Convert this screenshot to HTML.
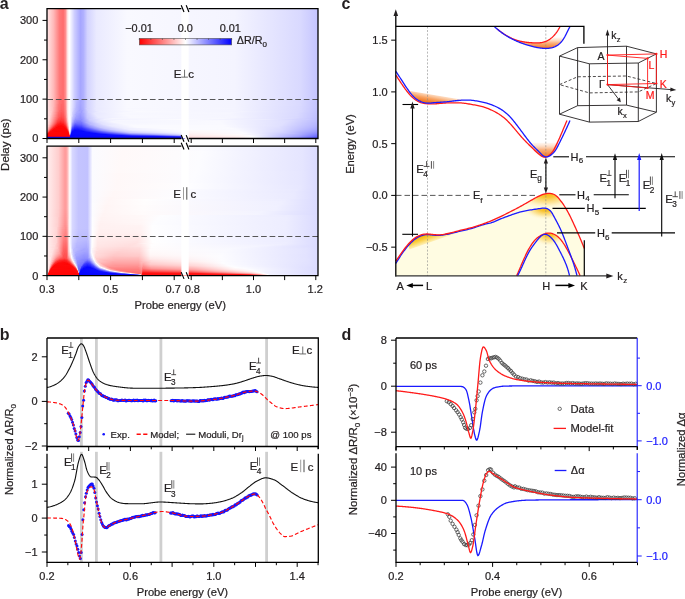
<!DOCTYPE html>
<html><head><meta charset="utf-8"><style>
html,body{margin:0;padding:0;background:#fff;width:685px;height:599px;overflow:hidden}
svg{display:block;will-change:transform}
text{font-family:"Liberation Sans", sans-serif}
</style></head><body>
<svg width="685" height="599" viewBox="0 0 685 599" font-family='"Liberation Sans", sans-serif'>
<defs>
<linearGradient id="ht0" x1="0" x2="1" y1="0" y2="0"><stop offset="0.0018" stop-color="#ffe4e4"/><stop offset="0.0240" stop-color="#ffb9b9"/><stop offset="0.0461" stop-color="#ff7979"/><stop offset="0.0572" stop-color="#ff6f6f"/><stop offset="0.0609" stop-color="#ff7070"/><stop offset="0.0683" stop-color="#ff8f8f"/><stop offset="0.0756" stop-color="#ffe1e1"/><stop offset="0.0793" stop-color="#fff6f6"/><stop offset="0.0830" stop-color="#ffffff"/><stop offset="0.1015" stop-color="#cdcdff"/><stop offset="0.1236" stop-color="#a6a6ff"/><stop offset="0.1347" stop-color="#b1b1ff"/><stop offset="0.1494" stop-color="#d3d3ff"/><stop offset="0.1827" stop-color="#eaeaff"/><stop offset="0.2970" stop-color="#f9f9ff"/><stop offset="0.6919" stop-color="#f4f4ff"/><stop offset="0.9354" stop-color="#d9d9ff"/><stop offset="0.9982" stop-color="#c5c5ff"/></linearGradient>
<linearGradient id="ht1" x1="0" x2="1" y1="0" y2="0"><stop offset="0.0018" stop-color="#ffe4e4"/><stop offset="0.0240" stop-color="#ffb9b9"/><stop offset="0.0461" stop-color="#ff7979"/><stop offset="0.0572" stop-color="#ff6f6f"/><stop offset="0.0609" stop-color="#ff7070"/><stop offset="0.0683" stop-color="#ff8f8f"/><stop offset="0.0756" stop-color="#ffe1e1"/><stop offset="0.0793" stop-color="#fff6f6"/><stop offset="0.0830" stop-color="#ffffff"/><stop offset="0.1015" stop-color="#cdcdff"/><stop offset="0.1236" stop-color="#a6a6ff"/><stop offset="0.1347" stop-color="#b1b1ff"/><stop offset="0.1494" stop-color="#d3d3ff"/><stop offset="0.1827" stop-color="#eaeaff"/><stop offset="0.2970" stop-color="#f9f9ff"/><stop offset="0.6919" stop-color="#f4f4ff"/><stop offset="0.9354" stop-color="#d9d9ff"/><stop offset="0.9982" stop-color="#c5c5ff"/></linearGradient>
<linearGradient id="ht2" x1="0" x2="1" y1="0" y2="0"><stop offset="0.0018" stop-color="#ffe4e4"/><stop offset="0.0240" stop-color="#ffb9b9"/><stop offset="0.0461" stop-color="#ff7979"/><stop offset="0.0572" stop-color="#ff6f6f"/><stop offset="0.0609" stop-color="#ff7070"/><stop offset="0.0683" stop-color="#ff8f8f"/><stop offset="0.0756" stop-color="#ffe1e1"/><stop offset="0.0793" stop-color="#fff6f6"/><stop offset="0.0830" stop-color="#ffffff"/><stop offset="0.1015" stop-color="#cdcdff"/><stop offset="0.1236" stop-color="#a6a6ff"/><stop offset="0.1347" stop-color="#b1b1ff"/><stop offset="0.1494" stop-color="#d3d3ff"/><stop offset="0.1827" stop-color="#eaeaff"/><stop offset="0.2970" stop-color="#f9f9ff"/><stop offset="0.6919" stop-color="#f4f4ff"/><stop offset="0.9354" stop-color="#d9d9ff"/><stop offset="0.9982" stop-color="#c5c5ff"/></linearGradient>
<linearGradient id="ht3" x1="0" x2="1" y1="0" y2="0"><stop offset="0.0018" stop-color="#ffe4e4"/><stop offset="0.0240" stop-color="#ffb9b9"/><stop offset="0.0461" stop-color="#ff7979"/><stop offset="0.0572" stop-color="#ff6f6f"/><stop offset="0.0609" stop-color="#ff7070"/><stop offset="0.0683" stop-color="#ff8f8f"/><stop offset="0.0756" stop-color="#ffe1e1"/><stop offset="0.0793" stop-color="#fff6f6"/><stop offset="0.0830" stop-color="#ffffff"/><stop offset="0.1015" stop-color="#cdcdff"/><stop offset="0.1236" stop-color="#a6a6ff"/><stop offset="0.1347" stop-color="#b1b1ff"/><stop offset="0.1494" stop-color="#d3d3ff"/><stop offset="0.1827" stop-color="#eaeaff"/><stop offset="0.2970" stop-color="#f9f9ff"/><stop offset="0.6919" stop-color="#f4f4ff"/><stop offset="0.9354" stop-color="#d9d9ff"/><stop offset="0.9982" stop-color="#c5c5ff"/></linearGradient>
<linearGradient id="ht4" x1="0" x2="1" y1="0" y2="0"><stop offset="0.0018" stop-color="#ffe4e4"/><stop offset="0.0240" stop-color="#ffb9b9"/><stop offset="0.0461" stop-color="#ff7979"/><stop offset="0.0572" stop-color="#ff6f6f"/><stop offset="0.0609" stop-color="#ff7070"/><stop offset="0.0683" stop-color="#ff8f8f"/><stop offset="0.0756" stop-color="#ffe1e1"/><stop offset="0.0793" stop-color="#fff6f6"/><stop offset="0.0830" stop-color="#ffffff"/><stop offset="0.1015" stop-color="#cdcdff"/><stop offset="0.1236" stop-color="#a6a6ff"/><stop offset="0.1347" stop-color="#b1b1ff"/><stop offset="0.1494" stop-color="#d3d3ff"/><stop offset="0.1827" stop-color="#eaeaff"/><stop offset="0.2970" stop-color="#f9f9ff"/><stop offset="0.6919" stop-color="#f4f4ff"/><stop offset="0.9354" stop-color="#d9d9ff"/><stop offset="0.9982" stop-color="#c5c5ff"/></linearGradient>
<linearGradient id="ht5" x1="0" x2="1" y1="0" y2="0"><stop offset="0.0018" stop-color="#ffe4e4"/><stop offset="0.0240" stop-color="#ffb9b9"/><stop offset="0.0461" stop-color="#ff7979"/><stop offset="0.0572" stop-color="#ff6f6f"/><stop offset="0.0609" stop-color="#ff7070"/><stop offset="0.0683" stop-color="#ff8f8f"/><stop offset="0.0756" stop-color="#ffe1e1"/><stop offset="0.0793" stop-color="#fff6f6"/><stop offset="0.0830" stop-color="#ffffff"/><stop offset="0.1015" stop-color="#cdcdff"/><stop offset="0.1236" stop-color="#a6a6ff"/><stop offset="0.1347" stop-color="#b1b1ff"/><stop offset="0.1494" stop-color="#d3d3ff"/><stop offset="0.1827" stop-color="#eaeaff"/><stop offset="0.2970" stop-color="#f9f9ff"/><stop offset="0.6919" stop-color="#f4f4ff"/><stop offset="0.9354" stop-color="#d9d9ff"/><stop offset="0.9982" stop-color="#c5c5ff"/></linearGradient>
<linearGradient id="ht6" x1="0" x2="1" y1="0" y2="0"><stop offset="0.0018" stop-color="#ffe4e4"/><stop offset="0.0240" stop-color="#ffb9b9"/><stop offset="0.0461" stop-color="#ff7979"/><stop offset="0.0572" stop-color="#ff6f6f"/><stop offset="0.0609" stop-color="#ff7070"/><stop offset="0.0683" stop-color="#ff8f8f"/><stop offset="0.0756" stop-color="#ffe1e1"/><stop offset="0.0793" stop-color="#fff6f6"/><stop offset="0.0830" stop-color="#ffffff"/><stop offset="0.1015" stop-color="#cdcdff"/><stop offset="0.1236" stop-color="#a6a6ff"/><stop offset="0.1347" stop-color="#b1b1ff"/><stop offset="0.1494" stop-color="#d3d3ff"/><stop offset="0.1827" stop-color="#eaeaff"/><stop offset="0.2970" stop-color="#f9f9ff"/><stop offset="0.6919" stop-color="#f4f4ff"/><stop offset="0.9354" stop-color="#d9d9ff"/><stop offset="0.9982" stop-color="#c5c5ff"/></linearGradient>
<linearGradient id="ht7" x1="0" x2="1" y1="0" y2="0"><stop offset="0.0018" stop-color="#ffe4e4"/><stop offset="0.0240" stop-color="#ffb9b9"/><stop offset="0.0461" stop-color="#ff7979"/><stop offset="0.0572" stop-color="#ff6f6f"/><stop offset="0.0609" stop-color="#ff7070"/><stop offset="0.0683" stop-color="#ff8f8f"/><stop offset="0.0756" stop-color="#ffe1e1"/><stop offset="0.0793" stop-color="#fff6f6"/><stop offset="0.0830" stop-color="#ffffff"/><stop offset="0.1015" stop-color="#cdcdff"/><stop offset="0.1236" stop-color="#a6a6ff"/><stop offset="0.1347" stop-color="#b1b1ff"/><stop offset="0.1494" stop-color="#d3d3ff"/><stop offset="0.1827" stop-color="#eaeaff"/><stop offset="0.2970" stop-color="#f9f9ff"/><stop offset="0.6919" stop-color="#f4f4ff"/><stop offset="0.9354" stop-color="#d9d9ff"/><stop offset="0.9982" stop-color="#c5c5ff"/></linearGradient>
<linearGradient id="ht8" x1="0" x2="1" y1="0" y2="0"><stop offset="0.0018" stop-color="#ffe4e4"/><stop offset="0.0240" stop-color="#ffb9b9"/><stop offset="0.0461" stop-color="#ff7979"/><stop offset="0.0572" stop-color="#ff6f6f"/><stop offset="0.0609" stop-color="#ff7070"/><stop offset="0.0683" stop-color="#ff8f8f"/><stop offset="0.0756" stop-color="#ffe1e1"/><stop offset="0.0793" stop-color="#fff6f6"/><stop offset="0.0830" stop-color="#ffffff"/><stop offset="0.1015" stop-color="#cdcdff"/><stop offset="0.1236" stop-color="#a6a6ff"/><stop offset="0.1347" stop-color="#b1b1ff"/><stop offset="0.1494" stop-color="#d3d3ff"/><stop offset="0.1827" stop-color="#eaeaff"/><stop offset="0.2970" stop-color="#f9f9ff"/><stop offset="0.6919" stop-color="#f4f4ff"/><stop offset="0.9354" stop-color="#d9d9ff"/><stop offset="0.9982" stop-color="#c5c5ff"/></linearGradient>
<linearGradient id="ht9" x1="0" x2="1" y1="0" y2="0"><stop offset="0.0018" stop-color="#ffe4e4"/><stop offset="0.0240" stop-color="#ffb9b9"/><stop offset="0.0461" stop-color="#ff7979"/><stop offset="0.0572" stop-color="#ff6f6f"/><stop offset="0.0609" stop-color="#ff7070"/><stop offset="0.0683" stop-color="#ff8f8f"/><stop offset="0.0756" stop-color="#ffe1e1"/><stop offset="0.0793" stop-color="#fff6f6"/><stop offset="0.0830" stop-color="#ffffff"/><stop offset="0.1015" stop-color="#cdcdff"/><stop offset="0.1236" stop-color="#a6a6ff"/><stop offset="0.1347" stop-color="#b1b1ff"/><stop offset="0.1494" stop-color="#d3d3ff"/><stop offset="0.1827" stop-color="#eaeaff"/><stop offset="0.2970" stop-color="#f9f9ff"/><stop offset="0.6919" stop-color="#f4f4ff"/><stop offset="0.9354" stop-color="#d9d9ff"/><stop offset="0.9982" stop-color="#c5c5ff"/></linearGradient>
<linearGradient id="ht10" x1="0" x2="1" y1="0" y2="0"><stop offset="0.0018" stop-color="#ffe4e4"/><stop offset="0.0240" stop-color="#ffb9b9"/><stop offset="0.0461" stop-color="#ff7979"/><stop offset="0.0572" stop-color="#ff6f6f"/><stop offset="0.0609" stop-color="#ff7070"/><stop offset="0.0683" stop-color="#ff8f8f"/><stop offset="0.0756" stop-color="#ffe1e1"/><stop offset="0.0793" stop-color="#fff6f6"/><stop offset="0.0830" stop-color="#ffffff"/><stop offset="0.1015" stop-color="#cdcdff"/><stop offset="0.1236" stop-color="#a6a6ff"/><stop offset="0.1347" stop-color="#b1b1ff"/><stop offset="0.1494" stop-color="#d3d3ff"/><stop offset="0.1827" stop-color="#eaeaff"/><stop offset="0.2970" stop-color="#f9f9ff"/><stop offset="0.6919" stop-color="#f4f4ff"/><stop offset="0.9354" stop-color="#d9d9ff"/><stop offset="0.9982" stop-color="#c5c5ff"/></linearGradient>
<linearGradient id="ht11" x1="0" x2="1" y1="0" y2="0"><stop offset="0.0018" stop-color="#ffe4e4"/><stop offset="0.0240" stop-color="#ffb9b9"/><stop offset="0.0461" stop-color="#ff7979"/><stop offset="0.0572" stop-color="#ff6f6f"/><stop offset="0.0609" stop-color="#ff7070"/><stop offset="0.0683" stop-color="#ff8f8f"/><stop offset="0.0756" stop-color="#ffe1e1"/><stop offset="0.0793" stop-color="#fff6f6"/><stop offset="0.0830" stop-color="#ffffff"/><stop offset="0.1015" stop-color="#cdcdff"/><stop offset="0.1236" stop-color="#a6a6ff"/><stop offset="0.1347" stop-color="#b1b1ff"/><stop offset="0.1494" stop-color="#d3d3ff"/><stop offset="0.1827" stop-color="#eaeaff"/><stop offset="0.2970" stop-color="#f9f9ff"/><stop offset="0.6919" stop-color="#f4f4ff"/><stop offset="0.9354" stop-color="#d9d9ff"/><stop offset="0.9982" stop-color="#c5c5ff"/></linearGradient>
<linearGradient id="ht12" x1="0" x2="1" y1="0" y2="0"><stop offset="0.0018" stop-color="#ffe4e4"/><stop offset="0.0240" stop-color="#ffb9b9"/><stop offset="0.0461" stop-color="#ff7979"/><stop offset="0.0572" stop-color="#ff6f6f"/><stop offset="0.0609" stop-color="#ff7070"/><stop offset="0.0683" stop-color="#ff8f8f"/><stop offset="0.0756" stop-color="#ffe1e1"/><stop offset="0.0793" stop-color="#fff6f6"/><stop offset="0.0830" stop-color="#ffffff"/><stop offset="0.1015" stop-color="#cdcdff"/><stop offset="0.1236" stop-color="#a6a6ff"/><stop offset="0.1347" stop-color="#b1b1ff"/><stop offset="0.1494" stop-color="#d3d3ff"/><stop offset="0.1827" stop-color="#eaeaff"/><stop offset="0.2970" stop-color="#f9f9ff"/><stop offset="0.6919" stop-color="#f4f4ff"/><stop offset="0.9354" stop-color="#d9d9ff"/><stop offset="0.9982" stop-color="#c5c5ff"/></linearGradient>
<linearGradient id="ht13" x1="0" x2="1" y1="0" y2="0"><stop offset="0.0018" stop-color="#ffe4e4"/><stop offset="0.0240" stop-color="#ffb9b9"/><stop offset="0.0461" stop-color="#ff7979"/><stop offset="0.0572" stop-color="#ff6f6f"/><stop offset="0.0609" stop-color="#ff7070"/><stop offset="0.0683" stop-color="#ff8f8f"/><stop offset="0.0756" stop-color="#ffe1e1"/><stop offset="0.0793" stop-color="#fff6f6"/><stop offset="0.0830" stop-color="#ffffff"/><stop offset="0.1015" stop-color="#cdcdff"/><stop offset="0.1236" stop-color="#a6a6ff"/><stop offset="0.1347" stop-color="#b1b1ff"/><stop offset="0.1494" stop-color="#d3d3ff"/><stop offset="0.1827" stop-color="#eaeaff"/><stop offset="0.2970" stop-color="#f9f9ff"/><stop offset="0.6919" stop-color="#f4f4ff"/><stop offset="0.9354" stop-color="#d9d9ff"/><stop offset="0.9982" stop-color="#c5c5ff"/></linearGradient>
<linearGradient id="ht14" x1="0" x2="1" y1="0" y2="0"><stop offset="0.0018" stop-color="#ffe4e4"/><stop offset="0.0240" stop-color="#ffb9b9"/><stop offset="0.0461" stop-color="#ff7979"/><stop offset="0.0572" stop-color="#ff6f6f"/><stop offset="0.0609" stop-color="#ff7070"/><stop offset="0.0683" stop-color="#ff8f8f"/><stop offset="0.0756" stop-color="#ffe1e1"/><stop offset="0.0793" stop-color="#fff6f6"/><stop offset="0.0830" stop-color="#ffffff"/><stop offset="0.1015" stop-color="#cdcdff"/><stop offset="0.1236" stop-color="#a6a6ff"/><stop offset="0.1347" stop-color="#b1b1ff"/><stop offset="0.1494" stop-color="#d3d3ff"/><stop offset="0.1827" stop-color="#eaeaff"/><stop offset="0.2970" stop-color="#f9f9ff"/><stop offset="0.6919" stop-color="#f4f4ff"/><stop offset="0.9354" stop-color="#d9d9ff"/><stop offset="0.9982" stop-color="#c5c5ff"/></linearGradient>
<linearGradient id="ht15" x1="0" x2="1" y1="0" y2="0"><stop offset="0.0018" stop-color="#ffe4e4"/><stop offset="0.0240" stop-color="#ffb9b9"/><stop offset="0.0461" stop-color="#ff7979"/><stop offset="0.0572" stop-color="#ff6f6f"/><stop offset="0.0609" stop-color="#ff7070"/><stop offset="0.0683" stop-color="#ff8f8f"/><stop offset="0.0756" stop-color="#ffe1e1"/><stop offset="0.0793" stop-color="#fff6f6"/><stop offset="0.0830" stop-color="#ffffff"/><stop offset="0.1015" stop-color="#cdcdff"/><stop offset="0.1236" stop-color="#a6a6ff"/><stop offset="0.1347" stop-color="#b1b1ff"/><stop offset="0.1494" stop-color="#d3d3ff"/><stop offset="0.1827" stop-color="#eaeaff"/><stop offset="0.2970" stop-color="#f9f9ff"/><stop offset="0.6919" stop-color="#f4f4ff"/><stop offset="0.9354" stop-color="#d9d9ff"/><stop offset="0.9982" stop-color="#c5c5ff"/></linearGradient>
<linearGradient id="ht16" x1="0" x2="1" y1="0" y2="0"><stop offset="0.0018" stop-color="#ffe4e4"/><stop offset="0.0240" stop-color="#ffb9b9"/><stop offset="0.0461" stop-color="#ff7979"/><stop offset="0.0572" stop-color="#ff6f6f"/><stop offset="0.0609" stop-color="#ff7070"/><stop offset="0.0683" stop-color="#ff8f8f"/><stop offset="0.0756" stop-color="#ffe1e1"/><stop offset="0.0793" stop-color="#fff6f6"/><stop offset="0.0830" stop-color="#ffffff"/><stop offset="0.1015" stop-color="#cdcdff"/><stop offset="0.1236" stop-color="#a6a6ff"/><stop offset="0.1347" stop-color="#b1b1ff"/><stop offset="0.1494" stop-color="#d3d3ff"/><stop offset="0.1827" stop-color="#eaeaff"/><stop offset="0.2970" stop-color="#f9f9ff"/><stop offset="0.6919" stop-color="#f4f4ff"/><stop offset="0.9354" stop-color="#d9d9ff"/><stop offset="0.9982" stop-color="#c5c5ff"/></linearGradient>
<linearGradient id="ht17" x1="0" x2="1" y1="0" y2="0"><stop offset="0.0018" stop-color="#ffe4e4"/><stop offset="0.0240" stop-color="#ffb9b9"/><stop offset="0.0461" stop-color="#ff7979"/><stop offset="0.0572" stop-color="#ff6f6f"/><stop offset="0.0609" stop-color="#ff7070"/><stop offset="0.0683" stop-color="#ff8f8f"/><stop offset="0.0756" stop-color="#ffe1e1"/><stop offset="0.0793" stop-color="#fff6f6"/><stop offset="0.0830" stop-color="#ffffff"/><stop offset="0.1015" stop-color="#cdcdff"/><stop offset="0.1236" stop-color="#a6a6ff"/><stop offset="0.1347" stop-color="#b1b1ff"/><stop offset="0.1494" stop-color="#d3d3ff"/><stop offset="0.1827" stop-color="#eaeaff"/><stop offset="0.2970" stop-color="#f9f9ff"/><stop offset="0.6919" stop-color="#f4f4ff"/><stop offset="0.9354" stop-color="#d9d9ff"/><stop offset="0.9982" stop-color="#c5c5ff"/></linearGradient>
<linearGradient id="ht18" x1="0" x2="1" y1="0" y2="0"><stop offset="0.0018" stop-color="#ffe4e4"/><stop offset="0.0240" stop-color="#ffb9b9"/><stop offset="0.0461" stop-color="#ff7979"/><stop offset="0.0572" stop-color="#ff6f6f"/><stop offset="0.0609" stop-color="#ff7070"/><stop offset="0.0683" stop-color="#ff8f8f"/><stop offset="0.0756" stop-color="#ffe1e1"/><stop offset="0.0793" stop-color="#fff6f6"/><stop offset="0.0830" stop-color="#ffffff"/><stop offset="0.1015" stop-color="#cdcdff"/><stop offset="0.1236" stop-color="#a6a6ff"/><stop offset="0.1347" stop-color="#b1b1ff"/><stop offset="0.1494" stop-color="#d3d3ff"/><stop offset="0.1827" stop-color="#eaeaff"/><stop offset="0.2970" stop-color="#f9f9ff"/><stop offset="0.6919" stop-color="#f4f4ff"/><stop offset="0.9354" stop-color="#d9d9ff"/><stop offset="0.9982" stop-color="#c5c5ff"/></linearGradient>
<linearGradient id="ht19" x1="0" x2="1" y1="0" y2="0"><stop offset="0.0018" stop-color="#ffe4e4"/><stop offset="0.0240" stop-color="#ffb9b9"/><stop offset="0.0461" stop-color="#ff7979"/><stop offset="0.0572" stop-color="#ff6f6f"/><stop offset="0.0609" stop-color="#ff7070"/><stop offset="0.0683" stop-color="#ff8f8f"/><stop offset="0.0756" stop-color="#ffe1e1"/><stop offset="0.0793" stop-color="#fff6f6"/><stop offset="0.0830" stop-color="#ffffff"/><stop offset="0.1015" stop-color="#cdcdff"/><stop offset="0.1236" stop-color="#a6a6ff"/><stop offset="0.1347" stop-color="#b1b1ff"/><stop offset="0.1494" stop-color="#d3d3ff"/><stop offset="0.1827" stop-color="#eaeaff"/><stop offset="0.2970" stop-color="#f9f9ff"/><stop offset="0.6919" stop-color="#f4f4ff"/><stop offset="0.9354" stop-color="#d9d9ff"/><stop offset="0.9982" stop-color="#c5c5ff"/></linearGradient>
<linearGradient id="ht20" x1="0" x2="1" y1="0" y2="0"><stop offset="0.0018" stop-color="#ffe4e4"/><stop offset="0.0240" stop-color="#ffb9b9"/><stop offset="0.0461" stop-color="#ff7979"/><stop offset="0.0572" stop-color="#ff6f6f"/><stop offset="0.0609" stop-color="#ff7070"/><stop offset="0.0683" stop-color="#ff8f8f"/><stop offset="0.0756" stop-color="#ffe1e1"/><stop offset="0.0793" stop-color="#fff6f6"/><stop offset="0.0830" stop-color="#ffffff"/><stop offset="0.1015" stop-color="#cdcdff"/><stop offset="0.1236" stop-color="#a6a6ff"/><stop offset="0.1347" stop-color="#b1b1ff"/><stop offset="0.1494" stop-color="#d3d3ff"/><stop offset="0.1827" stop-color="#eaeaff"/><stop offset="0.2970" stop-color="#f9f9ff"/><stop offset="0.6919" stop-color="#f4f4ff"/><stop offset="0.9354" stop-color="#d9d9ff"/><stop offset="0.9982" stop-color="#c5c5ff"/></linearGradient>
<linearGradient id="ht21" x1="0" x2="1" y1="0" y2="0"><stop offset="0.0018" stop-color="#ffe4e4"/><stop offset="0.0240" stop-color="#ffb9b9"/><stop offset="0.0461" stop-color="#ff7979"/><stop offset="0.0572" stop-color="#ff6f6f"/><stop offset="0.0609" stop-color="#ff7070"/><stop offset="0.0683" stop-color="#ff8f8f"/><stop offset="0.0756" stop-color="#ffe1e1"/><stop offset="0.0793" stop-color="#fff6f6"/><stop offset="0.0830" stop-color="#ffffff"/><stop offset="0.1015" stop-color="#cdcdff"/><stop offset="0.1236" stop-color="#a6a6ff"/><stop offset="0.1347" stop-color="#b1b1ff"/><stop offset="0.1494" stop-color="#d3d3ff"/><stop offset="0.1827" stop-color="#eaeaff"/><stop offset="0.2970" stop-color="#f9f9ff"/><stop offset="0.6919" stop-color="#f4f4ff"/><stop offset="0.9354" stop-color="#d9d9ff"/><stop offset="0.9982" stop-color="#c5c5ff"/></linearGradient>
<linearGradient id="ht22" x1="0" x2="1" y1="0" y2="0"><stop offset="0.0018" stop-color="#ffe4e4"/><stop offset="0.0240" stop-color="#ffb9b9"/><stop offset="0.0461" stop-color="#ff7979"/><stop offset="0.0572" stop-color="#ff6f6f"/><stop offset="0.0609" stop-color="#ff7070"/><stop offset="0.0683" stop-color="#ff8f8f"/><stop offset="0.0756" stop-color="#ffe1e1"/><stop offset="0.0793" stop-color="#fff6f6"/><stop offset="0.0830" stop-color="#ffffff"/><stop offset="0.1015" stop-color="#cdcdff"/><stop offset="0.1236" stop-color="#a6a6ff"/><stop offset="0.1347" stop-color="#b1b1ff"/><stop offset="0.1494" stop-color="#d3d3ff"/><stop offset="0.1827" stop-color="#eaeaff"/><stop offset="0.2970" stop-color="#f9f9ff"/><stop offset="0.6919" stop-color="#f4f4ff"/><stop offset="0.9354" stop-color="#d9d9ff"/><stop offset="0.9982" stop-color="#c5c5ff"/></linearGradient>
<linearGradient id="ht23" x1="0" x2="1" y1="0" y2="0"><stop offset="0.0018" stop-color="#ffe4e4"/><stop offset="0.0240" stop-color="#ffb9b9"/><stop offset="0.0461" stop-color="#ff7979"/><stop offset="0.0572" stop-color="#ff6f6f"/><stop offset="0.0609" stop-color="#ff7070"/><stop offset="0.0683" stop-color="#ff8f8f"/><stop offset="0.0756" stop-color="#ffe1e1"/><stop offset="0.0793" stop-color="#fff6f6"/><stop offset="0.0830" stop-color="#ffffff"/><stop offset="0.1015" stop-color="#cdcdff"/><stop offset="0.1236" stop-color="#a6a6ff"/><stop offset="0.1347" stop-color="#b1b1ff"/><stop offset="0.1494" stop-color="#d3d3ff"/><stop offset="0.1827" stop-color="#eaeaff"/><stop offset="0.2970" stop-color="#f9f9ff"/><stop offset="0.6919" stop-color="#f4f4ff"/><stop offset="0.9354" stop-color="#d9d9ff"/><stop offset="0.9982" stop-color="#c5c5ff"/></linearGradient>
<linearGradient id="ht24" x1="0" x2="1" y1="0" y2="0"><stop offset="0.0018" stop-color="#ffe4e4"/><stop offset="0.0240" stop-color="#ffb9b9"/><stop offset="0.0461" stop-color="#ff7979"/><stop offset="0.0572" stop-color="#ff6f6f"/><stop offset="0.0609" stop-color="#ff7070"/><stop offset="0.0683" stop-color="#ff8f8f"/><stop offset="0.0756" stop-color="#ffe1e1"/><stop offset="0.0793" stop-color="#fff6f6"/><stop offset="0.0830" stop-color="#ffffff"/><stop offset="0.1015" stop-color="#cdcdff"/><stop offset="0.1236" stop-color="#a6a6ff"/><stop offset="0.1347" stop-color="#b1b1ff"/><stop offset="0.1494" stop-color="#d3d3ff"/><stop offset="0.1827" stop-color="#eaeaff"/><stop offset="0.2970" stop-color="#f9f9ff"/><stop offset="0.6919" stop-color="#f4f4ff"/><stop offset="0.9354" stop-color="#d9d9ff"/><stop offset="0.9982" stop-color="#c5c5ff"/></linearGradient>
<linearGradient id="ht25" x1="0" x2="1" y1="0" y2="0"><stop offset="0.0018" stop-color="#ffe4e4"/><stop offset="0.0240" stop-color="#ffb9b9"/><stop offset="0.0461" stop-color="#ff7979"/><stop offset="0.0572" stop-color="#ff6f6f"/><stop offset="0.0609" stop-color="#ff7070"/><stop offset="0.0683" stop-color="#ff8f8f"/><stop offset="0.0756" stop-color="#ffe1e1"/><stop offset="0.0793" stop-color="#fff6f6"/><stop offset="0.0830" stop-color="#ffffff"/><stop offset="0.1015" stop-color="#cdcdff"/><stop offset="0.1236" stop-color="#a6a6ff"/><stop offset="0.1347" stop-color="#b1b1ff"/><stop offset="0.1494" stop-color="#d3d3ff"/><stop offset="0.1827" stop-color="#eaeaff"/><stop offset="0.2970" stop-color="#f9f9ff"/><stop offset="0.6919" stop-color="#f4f4ff"/><stop offset="0.9354" stop-color="#d9d9ff"/><stop offset="0.9982" stop-color="#c5c5ff"/></linearGradient>
<linearGradient id="ht26" x1="0" x2="1" y1="0" y2="0"><stop offset="0.0018" stop-color="#ffe4e4"/><stop offset="0.0240" stop-color="#ffb9b9"/><stop offset="0.0461" stop-color="#ff7979"/><stop offset="0.0572" stop-color="#ff6f6f"/><stop offset="0.0609" stop-color="#ff7070"/><stop offset="0.0683" stop-color="#ff8f8f"/><stop offset="0.0756" stop-color="#ffe1e1"/><stop offset="0.0793" stop-color="#fff6f6"/><stop offset="0.0830" stop-color="#ffffff"/><stop offset="0.1015" stop-color="#cdcdff"/><stop offset="0.1236" stop-color="#a6a6ff"/><stop offset="0.1347" stop-color="#b1b1ff"/><stop offset="0.1494" stop-color="#d3d3ff"/><stop offset="0.1827" stop-color="#eaeaff"/><stop offset="0.2970" stop-color="#f9f9ff"/><stop offset="0.6919" stop-color="#f4f4ff"/><stop offset="0.9354" stop-color="#d9d9ff"/><stop offset="0.9982" stop-color="#c5c5ff"/></linearGradient>
<linearGradient id="ht27" x1="0" x2="1" y1="0" y2="0"><stop offset="0.0018" stop-color="#ffe4e4"/><stop offset="0.0240" stop-color="#ffb9b9"/><stop offset="0.0461" stop-color="#ff7979"/><stop offset="0.0572" stop-color="#ff6f6f"/><stop offset="0.0609" stop-color="#ff7070"/><stop offset="0.0683" stop-color="#ff8f8f"/><stop offset="0.0756" stop-color="#ffe1e1"/><stop offset="0.0793" stop-color="#fff6f6"/><stop offset="0.0830" stop-color="#ffffff"/><stop offset="0.1015" stop-color="#cdcdff"/><stop offset="0.1236" stop-color="#a6a6ff"/><stop offset="0.1347" stop-color="#b1b1ff"/><stop offset="0.1494" stop-color="#d3d3ff"/><stop offset="0.1827" stop-color="#eaeaff"/><stop offset="0.2970" stop-color="#f9f9ff"/><stop offset="0.6919" stop-color="#f4f4ff"/><stop offset="0.9354" stop-color="#d9d9ff"/><stop offset="0.9982" stop-color="#c5c5ff"/></linearGradient>
<linearGradient id="ht28" x1="0" x2="1" y1="0" y2="0"><stop offset="0.0018" stop-color="#ffe4e4"/><stop offset="0.0240" stop-color="#ffb9b9"/><stop offset="0.0461" stop-color="#ff7979"/><stop offset="0.0572" stop-color="#ff6f6f"/><stop offset="0.0609" stop-color="#ff7070"/><stop offset="0.0683" stop-color="#ff8f8f"/><stop offset="0.0756" stop-color="#ffe1e1"/><stop offset="0.0793" stop-color="#fff6f6"/><stop offset="0.0830" stop-color="#ffffff"/><stop offset="0.1015" stop-color="#cdcdff"/><stop offset="0.1236" stop-color="#a6a6ff"/><stop offset="0.1347" stop-color="#b1b1ff"/><stop offset="0.1494" stop-color="#d3d3ff"/><stop offset="0.1827" stop-color="#eaeaff"/><stop offset="0.2970" stop-color="#f9f9ff"/><stop offset="0.6919" stop-color="#f4f4ff"/><stop offset="0.9354" stop-color="#d9d9ff"/><stop offset="0.9982" stop-color="#c5c5ff"/></linearGradient>
<linearGradient id="ht29" x1="0" x2="1" y1="0" y2="0"><stop offset="0.0018" stop-color="#ffe4e4"/><stop offset="0.0240" stop-color="#ffb9b9"/><stop offset="0.0461" stop-color="#ff7979"/><stop offset="0.0572" stop-color="#ff6f6f"/><stop offset="0.0609" stop-color="#ff7070"/><stop offset="0.0683" stop-color="#ff8f8f"/><stop offset="0.0756" stop-color="#ffe1e1"/><stop offset="0.0793" stop-color="#fff6f6"/><stop offset="0.0830" stop-color="#ffffff"/><stop offset="0.1015" stop-color="#cdcdff"/><stop offset="0.1236" stop-color="#a6a6ff"/><stop offset="0.1347" stop-color="#b1b1ff"/><stop offset="0.1494" stop-color="#d3d3ff"/><stop offset="0.1827" stop-color="#eaeaff"/><stop offset="0.2970" stop-color="#f9f9ff"/><stop offset="0.6919" stop-color="#f4f4ff"/><stop offset="0.9354" stop-color="#d9d9ff"/><stop offset="0.9982" stop-color="#c5c5ff"/></linearGradient>
<linearGradient id="ht30" x1="0" x2="1" y1="0" y2="0"><stop offset="0.0018" stop-color="#ffe4e4"/><stop offset="0.0240" stop-color="#ffb9b9"/><stop offset="0.0461" stop-color="#ff7979"/><stop offset="0.0572" stop-color="#ff6f6f"/><stop offset="0.0609" stop-color="#ff7070"/><stop offset="0.0683" stop-color="#ff8f8f"/><stop offset="0.0756" stop-color="#ffe1e1"/><stop offset="0.0793" stop-color="#fff6f6"/><stop offset="0.0830" stop-color="#ffffff"/><stop offset="0.1015" stop-color="#cdcdff"/><stop offset="0.1236" stop-color="#a6a6ff"/><stop offset="0.1347" stop-color="#b1b1ff"/><stop offset="0.1494" stop-color="#d3d3ff"/><stop offset="0.1827" stop-color="#eaeaff"/><stop offset="0.2970" stop-color="#f9f9ff"/><stop offset="0.6919" stop-color="#f4f4ff"/><stop offset="0.9354" stop-color="#d9d9ff"/><stop offset="0.9982" stop-color="#c5c5ff"/></linearGradient>
<linearGradient id="ht31" x1="0" x2="1" y1="0" y2="0"><stop offset="0.0018" stop-color="#ffe4e4"/><stop offset="0.0240" stop-color="#ffb9b9"/><stop offset="0.0461" stop-color="#ff7979"/><stop offset="0.0572" stop-color="#ff6f6f"/><stop offset="0.0609" stop-color="#ff7070"/><stop offset="0.0683" stop-color="#ff8f8f"/><stop offset="0.0756" stop-color="#ffe1e1"/><stop offset="0.0793" stop-color="#fff6f6"/><stop offset="0.0830" stop-color="#ffffff"/><stop offset="0.1015" stop-color="#cdcdff"/><stop offset="0.1236" stop-color="#a6a6ff"/><stop offset="0.1347" stop-color="#b1b1ff"/><stop offset="0.1494" stop-color="#d3d3ff"/><stop offset="0.1827" stop-color="#eaeaff"/><stop offset="0.2970" stop-color="#f9f9ff"/><stop offset="0.6919" stop-color="#f4f4ff"/><stop offset="0.9354" stop-color="#d9d9ff"/><stop offset="0.9982" stop-color="#c5c5ff"/></linearGradient>
<linearGradient id="ht32" x1="0" x2="1" y1="0" y2="0"><stop offset="0.0018" stop-color="#ffe4e4"/><stop offset="0.0240" stop-color="#ffb9b9"/><stop offset="0.0461" stop-color="#ff7979"/><stop offset="0.0572" stop-color="#ff6f6f"/><stop offset="0.0609" stop-color="#ff7070"/><stop offset="0.0683" stop-color="#ff8f8f"/><stop offset="0.0756" stop-color="#ffe1e1"/><stop offset="0.0793" stop-color="#fff6f6"/><stop offset="0.0830" stop-color="#ffffff"/><stop offset="0.1015" stop-color="#cdcdff"/><stop offset="0.1236" stop-color="#a6a6ff"/><stop offset="0.1347" stop-color="#b1b1ff"/><stop offset="0.1494" stop-color="#d3d3ff"/><stop offset="0.1827" stop-color="#eaeaff"/><stop offset="0.2970" stop-color="#f9f9ff"/><stop offset="0.6919" stop-color="#f4f4ff"/><stop offset="0.9354" stop-color="#d9d9ff"/><stop offset="0.9982" stop-color="#c5c5ff"/></linearGradient>
<linearGradient id="ht33" x1="0" x2="1" y1="0" y2="0"><stop offset="0.0018" stop-color="#ffe4e4"/><stop offset="0.0240" stop-color="#ffb9b9"/><stop offset="0.0461" stop-color="#ff7979"/><stop offset="0.0572" stop-color="#ff6f6f"/><stop offset="0.0609" stop-color="#ff7070"/><stop offset="0.0683" stop-color="#ff8f8f"/><stop offset="0.0756" stop-color="#ffe1e1"/><stop offset="0.0793" stop-color="#fff6f6"/><stop offset="0.0830" stop-color="#ffffff"/><stop offset="0.1015" stop-color="#cdcdff"/><stop offset="0.1236" stop-color="#a6a6ff"/><stop offset="0.1347" stop-color="#b1b1ff"/><stop offset="0.1494" stop-color="#d3d3ff"/><stop offset="0.1827" stop-color="#eaeaff"/><stop offset="0.2970" stop-color="#f9f9ff"/><stop offset="0.6919" stop-color="#f4f4ff"/><stop offset="0.9354" stop-color="#d9d9ff"/><stop offset="0.9982" stop-color="#c5c5ff"/></linearGradient>
<linearGradient id="ht34" x1="0" x2="1" y1="0" y2="0"><stop offset="0.0018" stop-color="#ffe4e4"/><stop offset="0.0240" stop-color="#ffb9b9"/><stop offset="0.0461" stop-color="#ff7979"/><stop offset="0.0572" stop-color="#ff6f6f"/><stop offset="0.0609" stop-color="#ff7070"/><stop offset="0.0683" stop-color="#ff8f8f"/><stop offset="0.0756" stop-color="#ffe1e1"/><stop offset="0.0793" stop-color="#fff6f6"/><stop offset="0.0830" stop-color="#ffffff"/><stop offset="0.1015" stop-color="#cdcdff"/><stop offset="0.1236" stop-color="#a6a6ff"/><stop offset="0.1347" stop-color="#b1b1ff"/><stop offset="0.1494" stop-color="#d3d3ff"/><stop offset="0.1827" stop-color="#eaeaff"/><stop offset="0.2970" stop-color="#f9f9ff"/><stop offset="0.6919" stop-color="#f4f4ff"/><stop offset="0.9354" stop-color="#d9d9ff"/><stop offset="0.9982" stop-color="#c5c5ff"/></linearGradient>
<linearGradient id="ht35" x1="0" x2="1" y1="0" y2="0"><stop offset="0.0018" stop-color="#ffe4e4"/><stop offset="0.0240" stop-color="#ffb9b9"/><stop offset="0.0461" stop-color="#ff7979"/><stop offset="0.0572" stop-color="#ff6f6f"/><stop offset="0.0609" stop-color="#ff7070"/><stop offset="0.0683" stop-color="#ff8f8f"/><stop offset="0.0756" stop-color="#ffe1e1"/><stop offset="0.0793" stop-color="#fff6f6"/><stop offset="0.0830" stop-color="#ffffff"/><stop offset="0.1015" stop-color="#cdcdff"/><stop offset="0.1236" stop-color="#a6a6ff"/><stop offset="0.1347" stop-color="#b1b1ff"/><stop offset="0.1494" stop-color="#d3d3ff"/><stop offset="0.1827" stop-color="#eaeaff"/><stop offset="0.2970" stop-color="#f9f9ff"/><stop offset="0.6919" stop-color="#f4f4ff"/><stop offset="0.9354" stop-color="#d9d9ff"/><stop offset="0.9982" stop-color="#c5c5ff"/></linearGradient>
<linearGradient id="ht36" x1="0" x2="1" y1="0" y2="0"><stop offset="0.0018" stop-color="#ffe4e4"/><stop offset="0.0240" stop-color="#ffb9b9"/><stop offset="0.0461" stop-color="#ff7979"/><stop offset="0.0572" stop-color="#ff6f6f"/><stop offset="0.0609" stop-color="#ff7070"/><stop offset="0.0683" stop-color="#ff8f8f"/><stop offset="0.0756" stop-color="#ffe1e1"/><stop offset="0.0793" stop-color="#fff6f6"/><stop offset="0.0830" stop-color="#ffffff"/><stop offset="0.1015" stop-color="#cdcdff"/><stop offset="0.1236" stop-color="#a6a6ff"/><stop offset="0.1347" stop-color="#b1b1ff"/><stop offset="0.1494" stop-color="#d3d3ff"/><stop offset="0.1827" stop-color="#eaeaff"/><stop offset="0.2970" stop-color="#f9f9ff"/><stop offset="0.6919" stop-color="#f4f4ff"/><stop offset="0.9354" stop-color="#d9d9ff"/><stop offset="0.9982" stop-color="#c5c5ff"/></linearGradient>
<linearGradient id="ht37" x1="0" x2="1" y1="0" y2="0"><stop offset="0.0018" stop-color="#ffe4e4"/><stop offset="0.0240" stop-color="#ffb9b9"/><stop offset="0.0461" stop-color="#ff7979"/><stop offset="0.0572" stop-color="#ff6f6f"/><stop offset="0.0609" stop-color="#ff7070"/><stop offset="0.0683" stop-color="#ff8f8f"/><stop offset="0.0756" stop-color="#ffe1e1"/><stop offset="0.0793" stop-color="#fff6f6"/><stop offset="0.0830" stop-color="#ffffff"/><stop offset="0.1015" stop-color="#cdcdff"/><stop offset="0.1236" stop-color="#a6a6ff"/><stop offset="0.1347" stop-color="#b1b1ff"/><stop offset="0.1494" stop-color="#d3d3ff"/><stop offset="0.1827" stop-color="#eaeaff"/><stop offset="0.2970" stop-color="#f9f9ff"/><stop offset="0.6919" stop-color="#f4f4ff"/><stop offset="0.9354" stop-color="#d9d9ff"/><stop offset="0.9982" stop-color="#c5c5ff"/></linearGradient>
<linearGradient id="ht38" x1="0" x2="1" y1="0" y2="0"><stop offset="0.0018" stop-color="#ffe4e4"/><stop offset="0.0240" stop-color="#ffb9b9"/><stop offset="0.0461" stop-color="#ff7979"/><stop offset="0.0572" stop-color="#ff6f6f"/><stop offset="0.0609" stop-color="#ff7070"/><stop offset="0.0683" stop-color="#ff8f8f"/><stop offset="0.0756" stop-color="#ffe1e1"/><stop offset="0.0793" stop-color="#fff6f6"/><stop offset="0.0830" stop-color="#ffffff"/><stop offset="0.1015" stop-color="#cdcdff"/><stop offset="0.1236" stop-color="#a6a6ff"/><stop offset="0.1347" stop-color="#b1b1ff"/><stop offset="0.1494" stop-color="#d3d3ff"/><stop offset="0.1827" stop-color="#eaeaff"/><stop offset="0.2970" stop-color="#f9f9ff"/><stop offset="0.6919" stop-color="#f4f4ff"/><stop offset="0.9354" stop-color="#d9d9ff"/><stop offset="0.9982" stop-color="#c5c5ff"/></linearGradient>
<linearGradient id="ht39" x1="0" x2="1" y1="0" y2="0"><stop offset="0.0018" stop-color="#ffe4e4"/><stop offset="0.0240" stop-color="#ffb9b9"/><stop offset="0.0461" stop-color="#ff7979"/><stop offset="0.0572" stop-color="#ff6f6f"/><stop offset="0.0609" stop-color="#ff7070"/><stop offset="0.0683" stop-color="#ff8f8f"/><stop offset="0.0756" stop-color="#ffe1e1"/><stop offset="0.0793" stop-color="#fff6f6"/><stop offset="0.0830" stop-color="#ffffff"/><stop offset="0.1015" stop-color="#cdcdff"/><stop offset="0.1236" stop-color="#a6a6ff"/><stop offset="0.1347" stop-color="#b1b1ff"/><stop offset="0.1494" stop-color="#d3d3ff"/><stop offset="0.1827" stop-color="#eaeaff"/><stop offset="0.2970" stop-color="#f9f9ff"/><stop offset="0.6919" stop-color="#f4f4ff"/><stop offset="0.9354" stop-color="#d9d9ff"/><stop offset="0.9982" stop-color="#c5c5ff"/></linearGradient>
<linearGradient id="ht40" x1="0" x2="1" y1="0" y2="0"><stop offset="0.0018" stop-color="#ffe4e4"/><stop offset="0.0240" stop-color="#ffb9b9"/><stop offset="0.0461" stop-color="#ff7979"/><stop offset="0.0572" stop-color="#ff6f6f"/><stop offset="0.0609" stop-color="#ff7070"/><stop offset="0.0683" stop-color="#ff8f8f"/><stop offset="0.0756" stop-color="#ffe1e1"/><stop offset="0.0793" stop-color="#fff6f6"/><stop offset="0.0830" stop-color="#ffffff"/><stop offset="0.1015" stop-color="#cdcdff"/><stop offset="0.1236" stop-color="#a6a6ff"/><stop offset="0.1347" stop-color="#b1b1ff"/><stop offset="0.1494" stop-color="#d3d3ff"/><stop offset="0.1827" stop-color="#eaeaff"/><stop offset="0.2970" stop-color="#f9f9ff"/><stop offset="0.6919" stop-color="#f4f4ff"/><stop offset="0.9354" stop-color="#d9d9ff"/><stop offset="0.9982" stop-color="#c5c5ff"/></linearGradient>
<linearGradient id="ht41" x1="0" x2="1" y1="0" y2="0"><stop offset="0.0018" stop-color="#ffe4e4"/><stop offset="0.0240" stop-color="#ffb9b9"/><stop offset="0.0461" stop-color="#ff7979"/><stop offset="0.0572" stop-color="#ff6f6f"/><stop offset="0.0609" stop-color="#ff7070"/><stop offset="0.0683" stop-color="#ff8f8f"/><stop offset="0.0756" stop-color="#ffe1e1"/><stop offset="0.0793" stop-color="#fff6f6"/><stop offset="0.0830" stop-color="#ffffff"/><stop offset="0.1015" stop-color="#cdcdff"/><stop offset="0.1236" stop-color="#a6a6ff"/><stop offset="0.1347" stop-color="#b1b1ff"/><stop offset="0.1494" stop-color="#d3d3ff"/><stop offset="0.1827" stop-color="#eaeaff"/><stop offset="0.2970" stop-color="#f9f9ff"/><stop offset="0.6919" stop-color="#f4f4ff"/><stop offset="0.9354" stop-color="#d9d9ff"/><stop offset="0.9982" stop-color="#c5c5ff"/></linearGradient>
<linearGradient id="ht42" x1="0" x2="1" y1="0" y2="0"><stop offset="0.0018" stop-color="#ffe4e4"/><stop offset="0.0240" stop-color="#ffb9b9"/><stop offset="0.0461" stop-color="#ff7979"/><stop offset="0.0572" stop-color="#ff6f6f"/><stop offset="0.0609" stop-color="#ff7070"/><stop offset="0.0683" stop-color="#ff8f8f"/><stop offset="0.0756" stop-color="#ffe1e1"/><stop offset="0.0793" stop-color="#fff6f6"/><stop offset="0.0830" stop-color="#ffffff"/><stop offset="0.1015" stop-color="#cdcdff"/><stop offset="0.1236" stop-color="#a6a6ff"/><stop offset="0.1347" stop-color="#b1b1ff"/><stop offset="0.1494" stop-color="#d3d3ff"/><stop offset="0.1827" stop-color="#eaeaff"/><stop offset="0.2970" stop-color="#f9f9ff"/><stop offset="0.6919" stop-color="#f4f4ff"/><stop offset="0.9354" stop-color="#d9d9ff"/><stop offset="0.9982" stop-color="#c5c5ff"/></linearGradient>
<linearGradient id="ht43" x1="0" x2="1" y1="0" y2="0"><stop offset="0.0018" stop-color="#ffe4e4"/><stop offset="0.0240" stop-color="#ffb9b9"/><stop offset="0.0461" stop-color="#ff7979"/><stop offset="0.0572" stop-color="#ff6f6f"/><stop offset="0.0609" stop-color="#ff7070"/><stop offset="0.0683" stop-color="#ff8f8f"/><stop offset="0.0756" stop-color="#ffe1e1"/><stop offset="0.0793" stop-color="#fff6f6"/><stop offset="0.0830" stop-color="#ffffff"/><stop offset="0.1015" stop-color="#cdcdff"/><stop offset="0.1236" stop-color="#a6a6ff"/><stop offset="0.1347" stop-color="#b1b1ff"/><stop offset="0.1494" stop-color="#d3d3ff"/><stop offset="0.1827" stop-color="#eaeaff"/><stop offset="0.2970" stop-color="#f9f9ff"/><stop offset="0.6919" stop-color="#f4f4ff"/><stop offset="0.9354" stop-color="#d9d9ff"/><stop offset="0.9982" stop-color="#c5c5ff"/></linearGradient>
<linearGradient id="ht44" x1="0" x2="1" y1="0" y2="0"><stop offset="0.0018" stop-color="#ffe4e4"/><stop offset="0.0240" stop-color="#ffb9b9"/><stop offset="0.0498" stop-color="#ff7171"/><stop offset="0.0609" stop-color="#ff7070"/><stop offset="0.0683" stop-color="#ff8f8f"/><stop offset="0.0756" stop-color="#ffe1e1"/><stop offset="0.0793" stop-color="#fff6f6"/><stop offset="0.0830" stop-color="#ffffff"/><stop offset="0.1015" stop-color="#cdcdff"/><stop offset="0.1236" stop-color="#a6a6ff"/><stop offset="0.1347" stop-color="#b1b1ff"/><stop offset="0.1494" stop-color="#d3d3ff"/><stop offset="0.1827" stop-color="#eaeaff"/><stop offset="0.2970" stop-color="#f9f9ff"/><stop offset="0.6919" stop-color="#f4f4ff"/><stop offset="0.9354" stop-color="#d9d9ff"/><stop offset="0.9982" stop-color="#c5c5ff"/></linearGradient>
<linearGradient id="ht45" x1="0" x2="1" y1="0" y2="0"><stop offset="0.0018" stop-color="#ffe4e4"/><stop offset="0.0240" stop-color="#ffb9b9"/><stop offset="0.0498" stop-color="#ff7070"/><stop offset="0.0609" stop-color="#ff7070"/><stop offset="0.0683" stop-color="#ff8f8f"/><stop offset="0.0756" stop-color="#ffe1e1"/><stop offset="0.0793" stop-color="#fff6f6"/><stop offset="0.0830" stop-color="#ffffff"/><stop offset="0.1015" stop-color="#cdcdff"/><stop offset="0.1236" stop-color="#a6a6ff"/><stop offset="0.1347" stop-color="#b1b1ff"/><stop offset="0.1494" stop-color="#d3d3ff"/><stop offset="0.1827" stop-color="#eaeaff"/><stop offset="0.2970" stop-color="#f9f9ff"/><stop offset="0.6919" stop-color="#f4f4ff"/><stop offset="0.9354" stop-color="#d9d9ff"/><stop offset="0.9982" stop-color="#c5c5ff"/></linearGradient>
<linearGradient id="ht46" x1="0" x2="1" y1="0" y2="0"><stop offset="0.0018" stop-color="#ffe4e4"/><stop offset="0.0240" stop-color="#ffb9b9"/><stop offset="0.0498" stop-color="#ff6f6f"/><stop offset="0.0609" stop-color="#ff7070"/><stop offset="0.0683" stop-color="#ff8f8f"/><stop offset="0.0756" stop-color="#ffe1e1"/><stop offset="0.0793" stop-color="#fff6f6"/><stop offset="0.0830" stop-color="#ffffff"/><stop offset="0.1015" stop-color="#cdcdff"/><stop offset="0.1236" stop-color="#a6a6ff"/><stop offset="0.1347" stop-color="#b1b1ff"/><stop offset="0.1494" stop-color="#d3d3ff"/><stop offset="0.1827" stop-color="#eaeaff"/><stop offset="0.2970" stop-color="#f9f9ff"/><stop offset="0.6919" stop-color="#f4f4ff"/><stop offset="0.9354" stop-color="#d9d9ff"/><stop offset="0.9982" stop-color="#c5c5ff"/></linearGradient>
<linearGradient id="ht47" x1="0" x2="1" y1="0" y2="0"><stop offset="0.0018" stop-color="#ffe4e4"/><stop offset="0.0240" stop-color="#ffb9b9"/><stop offset="0.0461" stop-color="#ff7676"/><stop offset="0.0572" stop-color="#ff6d6d"/><stop offset="0.0609" stop-color="#ff6f6f"/><stop offset="0.0683" stop-color="#ff8f8f"/><stop offset="0.0756" stop-color="#ffe1e1"/><stop offset="0.0793" stop-color="#fff6f6"/><stop offset="0.0830" stop-color="#ffffff"/><stop offset="0.1015" stop-color="#cdcdff"/><stop offset="0.1236" stop-color="#a6a6ff"/><stop offset="0.1347" stop-color="#b1b1ff"/><stop offset="0.1494" stop-color="#d3d3ff"/><stop offset="0.1827" stop-color="#eaeaff"/><stop offset="0.2970" stop-color="#f9f9ff"/><stop offset="0.6919" stop-color="#f4f4ff"/><stop offset="0.9317" stop-color="#dadaff"/><stop offset="0.9982" stop-color="#c5c5ff"/></linearGradient>
<linearGradient id="ht48" x1="0" x2="1" y1="0" y2="0"><stop offset="0.0018" stop-color="#ffe4e4"/><stop offset="0.0240" stop-color="#ffb9b9"/><stop offset="0.0461" stop-color="#ff7575"/><stop offset="0.0572" stop-color="#ff6c6c"/><stop offset="0.0609" stop-color="#ff6e6e"/><stop offset="0.0683" stop-color="#ff8f8f"/><stop offset="0.0756" stop-color="#ffe1e1"/><stop offset="0.0793" stop-color="#fff6f6"/><stop offset="0.0830" stop-color="#ffffff"/><stop offset="0.1015" stop-color="#cdcdff"/><stop offset="0.1236" stop-color="#a6a6ff"/><stop offset="0.1347" stop-color="#b1b1ff"/><stop offset="0.1494" stop-color="#d3d3ff"/><stop offset="0.1827" stop-color="#eaeaff"/><stop offset="0.2970" stop-color="#f9f9ff"/><stop offset="0.6919" stop-color="#f4f4ff"/><stop offset="0.9317" stop-color="#dadaff"/><stop offset="0.9982" stop-color="#c5c5ff"/></linearGradient>
<linearGradient id="ht49" x1="0" x2="1" y1="0" y2="0"><stop offset="0.0018" stop-color="#ffe4e4"/><stop offset="0.0240" stop-color="#ffb9b9"/><stop offset="0.0461" stop-color="#ff7474"/><stop offset="0.0572" stop-color="#ff6b6b"/><stop offset="0.0609" stop-color="#ff6e6e"/><stop offset="0.0683" stop-color="#ff8f8f"/><stop offset="0.0756" stop-color="#ffe1e1"/><stop offset="0.0793" stop-color="#fff6f6"/><stop offset="0.0830" stop-color="#ffffff"/><stop offset="0.1052" stop-color="#c4c4ff"/><stop offset="0.1236" stop-color="#a6a6ff"/><stop offset="0.1347" stop-color="#b1b1ff"/><stop offset="0.1494" stop-color="#d3d3ff"/><stop offset="0.1827" stop-color="#eaeaff"/><stop offset="0.2970" stop-color="#f9f9ff"/><stop offset="0.6919" stop-color="#f4f4ff"/><stop offset="0.9317" stop-color="#dadaff"/><stop offset="0.9982" stop-color="#c5c5ff"/></linearGradient>
<linearGradient id="ht50" x1="0" x2="1" y1="0" y2="0"><stop offset="0.0018" stop-color="#ffe4e4"/><stop offset="0.0240" stop-color="#ffb9b9"/><stop offset="0.0461" stop-color="#ff7373"/><stop offset="0.0572" stop-color="#ff6a6a"/><stop offset="0.0609" stop-color="#ff6d6d"/><stop offset="0.0683" stop-color="#ff8f8f"/><stop offset="0.0756" stop-color="#ffe1e1"/><stop offset="0.0793" stop-color="#fff6f6"/><stop offset="0.0830" stop-color="#ffffff"/><stop offset="0.1052" stop-color="#c3c3ff"/><stop offset="0.1236" stop-color="#a6a6ff"/><stop offset="0.1347" stop-color="#b1b1ff"/><stop offset="0.1494" stop-color="#d3d3ff"/><stop offset="0.1827" stop-color="#eaeaff"/><stop offset="0.2970" stop-color="#f9f9ff"/><stop offset="0.6919" stop-color="#f4f4ff"/><stop offset="0.9317" stop-color="#dadaff"/><stop offset="0.9982" stop-color="#c5c5ff"/></linearGradient>
<linearGradient id="ht51" x1="0" x2="1" y1="0" y2="0"><stop offset="0.0018" stop-color="#ffe4e4"/><stop offset="0.0240" stop-color="#ffb9b9"/><stop offset="0.0461" stop-color="#ff7373"/><stop offset="0.0572" stop-color="#ff6a6a"/><stop offset="0.0609" stop-color="#ff6c6c"/><stop offset="0.0683" stop-color="#ff8f8f"/><stop offset="0.0756" stop-color="#ffe1e1"/><stop offset="0.0793" stop-color="#fff6f6"/><stop offset="0.0830" stop-color="#ffffff"/><stop offset="0.1089" stop-color="#babaff"/><stop offset="0.1236" stop-color="#a6a6ff"/><stop offset="0.1347" stop-color="#b1b1ff"/><stop offset="0.1494" stop-color="#d3d3ff"/><stop offset="0.1827" stop-color="#eaeaff"/><stop offset="0.2970" stop-color="#f9f9ff"/><stop offset="0.6919" stop-color="#f4f4ff"/><stop offset="0.9317" stop-color="#dadaff"/><stop offset="0.9982" stop-color="#c4c4ff"/></linearGradient>
<linearGradient id="ht52" x1="0" x2="1" y1="0" y2="0"><stop offset="0.0018" stop-color="#ffe4e4"/><stop offset="0.0240" stop-color="#ffb9b9"/><stop offset="0.0461" stop-color="#ff7272"/><stop offset="0.0572" stop-color="#ff6969"/><stop offset="0.0609" stop-color="#ff6b6b"/><stop offset="0.0683" stop-color="#ff8e8e"/><stop offset="0.0756" stop-color="#ffe1e1"/><stop offset="0.0793" stop-color="#fff6f6"/><stop offset="0.0830" stop-color="#ffffff"/><stop offset="0.1089" stop-color="#b9b9ff"/><stop offset="0.1236" stop-color="#a6a6ff"/><stop offset="0.1347" stop-color="#b1b1ff"/><stop offset="0.1494" stop-color="#d3d3ff"/><stop offset="0.1827" stop-color="#eaeaff"/><stop offset="0.2970" stop-color="#f9f9ff"/><stop offset="0.6919" stop-color="#f4f4ff"/><stop offset="0.9317" stop-color="#dadaff"/><stop offset="0.9982" stop-color="#c4c4ff"/></linearGradient>
<linearGradient id="ht53" x1="0" x2="1" y1="0" y2="0"><stop offset="0.0018" stop-color="#ffe4e4"/><stop offset="0.0240" stop-color="#ffb9b9"/><stop offset="0.0424" stop-color="#ff7979"/><stop offset="0.0535" stop-color="#ff6666"/><stop offset="0.0609" stop-color="#ff6a6a"/><stop offset="0.0683" stop-color="#ff8d8d"/><stop offset="0.0756" stop-color="#ffe1e1"/><stop offset="0.0793" stop-color="#fff6f6"/><stop offset="0.0830" stop-color="#ffffff"/><stop offset="0.1089" stop-color="#b8b8ff"/><stop offset="0.1236" stop-color="#a5a5ff"/><stop offset="0.1347" stop-color="#b1b1ff"/><stop offset="0.1494" stop-color="#d3d3ff"/><stop offset="0.1827" stop-color="#eaeaff"/><stop offset="0.2970" stop-color="#f9f9ff"/><stop offset="0.6919" stop-color="#f4f4ff"/><stop offset="0.9317" stop-color="#dadaff"/><stop offset="0.9982" stop-color="#c4c4ff"/></linearGradient>
<linearGradient id="ht54" x1="0" x2="1" y1="0" y2="0"><stop offset="0.0018" stop-color="#ffe4e4"/><stop offset="0.0240" stop-color="#ffb9b9"/><stop offset="0.0424" stop-color="#ff7878"/><stop offset="0.0535" stop-color="#ff6666"/><stop offset="0.0609" stop-color="#ff6969"/><stop offset="0.0683" stop-color="#ff8c8c"/><stop offset="0.0756" stop-color="#ffe1e1"/><stop offset="0.0793" stop-color="#fff6f6"/><stop offset="0.0830" stop-color="#ffffff"/><stop offset="0.1089" stop-color="#b7b7ff"/><stop offset="0.1236" stop-color="#a4a4ff"/><stop offset="0.1347" stop-color="#b1b1ff"/><stop offset="0.1494" stop-color="#d3d3ff"/><stop offset="0.1827" stop-color="#eaeaff"/><stop offset="0.2970" stop-color="#f9f9ff"/><stop offset="0.6919" stop-color="#f4f4ff"/><stop offset="0.9317" stop-color="#dadaff"/><stop offset="0.9982" stop-color="#c4c4ff"/></linearGradient>
<linearGradient id="ht55" x1="0" x2="1" y1="0" y2="0"><stop offset="0.0018" stop-color="#ffe4e4"/><stop offset="0.0240" stop-color="#ffb9b9"/><stop offset="0.0424" stop-color="#ff7777"/><stop offset="0.0535" stop-color="#ff6565"/><stop offset="0.0609" stop-color="#ff6868"/><stop offset="0.0683" stop-color="#ff8a8a"/><stop offset="0.0756" stop-color="#ffe1e1"/><stop offset="0.0793" stop-color="#fff6f6"/><stop offset="0.0830" stop-color="#ffffff"/><stop offset="0.1089" stop-color="#b6b6ff"/><stop offset="0.1236" stop-color="#a3a3ff"/><stop offset="0.1347" stop-color="#b1b1ff"/><stop offset="0.1494" stop-color="#d3d3ff"/><stop offset="0.1827" stop-color="#eaeaff"/><stop offset="0.2970" stop-color="#f9f9ff"/><stop offset="0.6919" stop-color="#f4f4ff"/><stop offset="0.9317" stop-color="#d9d9ff"/><stop offset="0.9982" stop-color="#c4c4ff"/></linearGradient>
<linearGradient id="ht56" x1="0" x2="1" y1="0" y2="0"><stop offset="0.0018" stop-color="#ffe4e4"/><stop offset="0.0203" stop-color="#ffc2c2"/><stop offset="0.0424" stop-color="#ff7676"/><stop offset="0.0535" stop-color="#ff6464"/><stop offset="0.0609" stop-color="#ff6868"/><stop offset="0.0683" stop-color="#ff8989"/><stop offset="0.0756" stop-color="#ffe1e1"/><stop offset="0.0793" stop-color="#fff6f6"/><stop offset="0.0830" stop-color="#ffffff"/><stop offset="0.1089" stop-color="#b5b5ff"/><stop offset="0.1236" stop-color="#a2a2ff"/><stop offset="0.1347" stop-color="#b0b0ff"/><stop offset="0.1494" stop-color="#d3d3ff"/><stop offset="0.1827" stop-color="#eaeaff"/><stop offset="0.2970" stop-color="#f9f9ff"/><stop offset="0.6919" stop-color="#f4f4ff"/><stop offset="0.9317" stop-color="#d9d9ff"/><stop offset="0.9982" stop-color="#c4c4ff"/></linearGradient>
<linearGradient id="ht57" x1="0" x2="1" y1="0" y2="0"><stop offset="0.0018" stop-color="#ffe4e4"/><stop offset="0.0203" stop-color="#ffc2c2"/><stop offset="0.0424" stop-color="#ff7575"/><stop offset="0.0535" stop-color="#ff6363"/><stop offset="0.0609" stop-color="#ff6767"/><stop offset="0.0683" stop-color="#ff8888"/><stop offset="0.0756" stop-color="#ffe1e1"/><stop offset="0.0793" stop-color="#fff6f6"/><stop offset="0.0830" stop-color="#ffffff"/><stop offset="0.1052" stop-color="#bbbbff"/><stop offset="0.1236" stop-color="#a1a1ff"/><stop offset="0.1347" stop-color="#afafff"/><stop offset="0.1458" stop-color="#ceceff"/><stop offset="0.1790" stop-color="#e9e9ff"/><stop offset="0.2897" stop-color="#f8f8ff"/><stop offset="0.6845" stop-color="#f5f5ff"/><stop offset="0.9317" stop-color="#d9d9ff"/><stop offset="0.9982" stop-color="#c3c3ff"/></linearGradient>
<linearGradient id="ht58" x1="0" x2="1" y1="0" y2="0"><stop offset="0.0018" stop-color="#ffe4e4"/><stop offset="0.0203" stop-color="#ffc2c2"/><stop offset="0.0424" stop-color="#ff7474"/><stop offset="0.0535" stop-color="#ff6161"/><stop offset="0.0609" stop-color="#ff6666"/><stop offset="0.0683" stop-color="#ff8787"/><stop offset="0.0756" stop-color="#ffe1e1"/><stop offset="0.0793" stop-color="#fff6f6"/><stop offset="0.0830" stop-color="#ffffff"/><stop offset="0.1052" stop-color="#babaff"/><stop offset="0.1236" stop-color="#a0a0ff"/><stop offset="0.1347" stop-color="#aeaeff"/><stop offset="0.1494" stop-color="#d3d3ff"/><stop offset="0.1827" stop-color="#eaeaff"/><stop offset="0.2970" stop-color="#f9f9ff"/><stop offset="0.6919" stop-color="#f4f4ff"/><stop offset="0.9317" stop-color="#d9d9ff"/><stop offset="0.9982" stop-color="#c3c3ff"/></linearGradient>
<linearGradient id="ht59" x1="0" x2="1" y1="0" y2="0"><stop offset="0.0018" stop-color="#ffe4e4"/><stop offset="0.0203" stop-color="#ffc0c0"/><stop offset="0.0461" stop-color="#ff6868"/><stop offset="0.0535" stop-color="#ff5e5e"/><stop offset="0.0609" stop-color="#ff6565"/><stop offset="0.0683" stop-color="#ff8585"/><stop offset="0.0720" stop-color="#ffaeae"/><stop offset="0.0756" stop-color="#ffe1e1"/><stop offset="0.0793" stop-color="#fff6f6"/><stop offset="0.0830" stop-color="#ffffff"/><stop offset="0.0904" stop-color="#e9e9ff"/><stop offset="0.1015" stop-color="#c2c2ff"/><stop offset="0.1199" stop-color="#a1a1ff"/><stop offset="0.1310" stop-color="#a4a4ff"/><stop offset="0.1494" stop-color="#d2d2ff"/><stop offset="0.1827" stop-color="#eaeaff"/><stop offset="0.2970" stop-color="#f9f9ff"/><stop offset="0.6919" stop-color="#f4f4ff"/><stop offset="0.9317" stop-color="#d9d9ff"/><stop offset="0.9982" stop-color="#c3c3ff"/></linearGradient>
<linearGradient id="ht60" x1="0" x2="1" y1="0" y2="0"><stop offset="0.0018" stop-color="#ffe4e4"/><stop offset="0.0166" stop-color="#ffcbcb"/><stop offset="0.0461" stop-color="#ff6565"/><stop offset="0.0572" stop-color="#ff5e5e"/><stop offset="0.0609" stop-color="#ff6262"/><stop offset="0.0683" stop-color="#ff8484"/><stop offset="0.0720" stop-color="#ffacac"/><stop offset="0.0756" stop-color="#ffe1e1"/><stop offset="0.0793" stop-color="#fff6f6"/><stop offset="0.0830" stop-color="#ffffff"/><stop offset="0.0904" stop-color="#e9e9ff"/><stop offset="0.0978" stop-color="#cbcbff"/><stop offset="0.1125" stop-color="#aaaaff"/><stop offset="0.1273" stop-color="#9f9fff"/><stop offset="0.1531" stop-color="#d6d6ff"/><stop offset="0.1937" stop-color="#ededff"/><stop offset="0.3339" stop-color="#fafaff"/><stop offset="0.7177" stop-color="#f3f3ff"/><stop offset="0.9354" stop-color="#d8d8ff"/><stop offset="0.9982" stop-color="#c2c2ff"/></linearGradient>
<linearGradient id="ht61" x1="0" x2="1" y1="0" y2="0"><stop offset="0.0018" stop-color="#ffe4e4"/><stop offset="0.0166" stop-color="#ffc9c9"/><stop offset="0.0424" stop-color="#ff6a6a"/><stop offset="0.0535" stop-color="#ff5959"/><stop offset="0.0609" stop-color="#ff5f5f"/><stop offset="0.0683" stop-color="#ff8383"/><stop offset="0.0720" stop-color="#ffaaaa"/><stop offset="0.0756" stop-color="#ffe1e1"/><stop offset="0.0793" stop-color="#fff6f6"/><stop offset="0.0830" stop-color="#ffffff"/><stop offset="0.0904" stop-color="#e9e9ff"/><stop offset="0.0941" stop-color="#d4d4ff"/><stop offset="0.1089" stop-color="#adadff"/><stop offset="0.1273" stop-color="#9e9eff"/><stop offset="0.1531" stop-color="#d5d5ff"/><stop offset="0.1827" stop-color="#eaeaff"/><stop offset="0.2970" stop-color="#f9f9ff"/><stop offset="0.6882" stop-color="#f5f5ff"/><stop offset="0.9280" stop-color="#d9d9ff"/><stop offset="0.9982" stop-color="#c2c2ff"/></linearGradient>
<linearGradient id="ht62" x1="0" x2="1" y1="0" y2="0"><stop offset="0.0018" stop-color="#ffe4e4"/><stop offset="0.0129" stop-color="#ffd2d2"/><stop offset="0.0314" stop-color="#ff9494"/><stop offset="0.0424" stop-color="#ff6767"/><stop offset="0.0535" stop-color="#ff5656"/><stop offset="0.0609" stop-color="#ff5c5c"/><stop offset="0.0683" stop-color="#ff8282"/><stop offset="0.0720" stop-color="#ffa8a8"/><stop offset="0.0756" stop-color="#ffdede"/><stop offset="0.0793" stop-color="#fff6f6"/><stop offset="0.0830" stop-color="#ffffff"/><stop offset="0.0904" stop-color="#e9e9ff"/><stop offset="0.0941" stop-color="#d3d3ff"/><stop offset="0.1089" stop-color="#a9a9ff"/><stop offset="0.1236" stop-color="#9c9cff"/><stop offset="0.1347" stop-color="#a9a9ff"/><stop offset="0.1494" stop-color="#cdcdff"/><stop offset="0.1753" stop-color="#e7e7ff"/><stop offset="0.2786" stop-color="#f8f8ff"/><stop offset="0.6734" stop-color="#f6f6ff"/><stop offset="0.9244" stop-color="#d9d9ff"/><stop offset="0.9982" stop-color="#c1c1ff"/></linearGradient>
<linearGradient id="ht63" x1="0" x2="1" y1="0" y2="0"><stop offset="0.0018" stop-color="#ffe4e4"/><stop offset="0.0129" stop-color="#ffd2d2"/><stop offset="0.0314" stop-color="#ff8f8f"/><stop offset="0.0424" stop-color="#ff6363"/><stop offset="0.0535" stop-color="#ff5353"/><stop offset="0.0609" stop-color="#ff5959"/><stop offset="0.0683" stop-color="#ff8080"/><stop offset="0.0720" stop-color="#ffa7a7"/><stop offset="0.0756" stop-color="#ffdbdb"/><stop offset="0.0793" stop-color="#fff6f6"/><stop offset="0.0830" stop-color="#ffffff"/><stop offset="0.0904" stop-color="#e8e8ff"/><stop offset="0.0941" stop-color="#d1d1ff"/><stop offset="0.1052" stop-color="#acacff"/><stop offset="0.1236" stop-color="#9999ff"/><stop offset="0.1347" stop-color="#a8a8ff"/><stop offset="0.1494" stop-color="#ccccff"/><stop offset="0.1790" stop-color="#e9e9ff"/><stop offset="0.2897" stop-color="#f8f8ff"/><stop offset="0.6808" stop-color="#f5f5ff"/><stop offset="0.9244" stop-color="#d9d9ff"/><stop offset="0.9982" stop-color="#c1c1ff"/></linearGradient>
<linearGradient id="ht64" x1="0" x2="1" y1="0" y2="0"><stop offset="0.0018" stop-color="#ffe4e4"/><stop offset="0.0129" stop-color="#ffcfcf"/><stop offset="0.0314" stop-color="#ff8a8a"/><stop offset="0.0424" stop-color="#ff6060"/><stop offset="0.0535" stop-color="#ff5050"/><stop offset="0.0609" stop-color="#ff5656"/><stop offset="0.0683" stop-color="#ff7c7c"/><stop offset="0.0720" stop-color="#ffa5a5"/><stop offset="0.0756" stop-color="#ffd8d8"/><stop offset="0.0793" stop-color="#fff6f6"/><stop offset="0.0830" stop-color="#ffffff"/><stop offset="0.0904" stop-color="#e6e6ff"/><stop offset="0.0978" stop-color="#c1c1ff"/><stop offset="0.1089" stop-color="#a3a3ff"/><stop offset="0.1236" stop-color="#9696ff"/><stop offset="0.1347" stop-color="#a7a7ff"/><stop offset="0.1494" stop-color="#cacaff"/><stop offset="0.1827" stop-color="#eaeaff"/><stop offset="0.2970" stop-color="#f9f9ff"/><stop offset="0.6845" stop-color="#f5f5ff"/><stop offset="0.9244" stop-color="#d9d9ff"/><stop offset="0.9982" stop-color="#c0c0ff"/></linearGradient>
<linearGradient id="ht65" x1="0" x2="1" y1="0" y2="0"><stop offset="0.0018" stop-color="#ffe4e4"/><stop offset="0.0092" stop-color="#ffdada"/><stop offset="0.0277" stop-color="#ff9797"/><stop offset="0.0424" stop-color="#ff5d5d"/><stop offset="0.0535" stop-color="#ff4d4d"/><stop offset="0.0609" stop-color="#ff5353"/><stop offset="0.0683" stop-color="#ff7777"/><stop offset="0.0756" stop-color="#ffd6d6"/><stop offset="0.0793" stop-color="#fff6f6"/><stop offset="0.0830" stop-color="#ffffff"/><stop offset="0.0867" stop-color="#f7f7ff"/><stop offset="0.0978" stop-color="#bdbdff"/><stop offset="0.1089" stop-color="#a0a0ff"/><stop offset="0.1236" stop-color="#9393ff"/><stop offset="0.1347" stop-color="#a4a4ff"/><stop offset="0.1494" stop-color="#c9c9ff"/><stop offset="0.1863" stop-color="#ebebff"/><stop offset="0.3081" stop-color="#f9f9ff"/><stop offset="0.6919" stop-color="#f5f5ff"/><stop offset="0.9244" stop-color="#d8d8ff"/><stop offset="0.9982" stop-color="#c0c0ff"/></linearGradient>
<linearGradient id="ht66" x1="0" x2="1" y1="0" y2="0"><stop offset="0.0018" stop-color="#ffe4e4"/><stop offset="0.0092" stop-color="#ffdada"/><stop offset="0.0314" stop-color="#ff8080"/><stop offset="0.0461" stop-color="#ff4f4f"/><stop offset="0.0535" stop-color="#ff4747"/><stop offset="0.0609" stop-color="#ff5050"/><stop offset="0.0683" stop-color="#ff7373"/><stop offset="0.0756" stop-color="#ffd3d3"/><stop offset="0.0793" stop-color="#fff6f6"/><stop offset="0.0830" stop-color="#ffffff"/><stop offset="0.0867" stop-color="#f7f7ff"/><stop offset="0.0941" stop-color="#c7c7ff"/><stop offset="0.1052" stop-color="#a2a2ff"/><stop offset="0.1236" stop-color="#9090ff"/><stop offset="0.1347" stop-color="#a0a0ff"/><stop offset="0.1494" stop-color="#c7c7ff"/><stop offset="0.1900" stop-color="#ebebff"/><stop offset="0.3118" stop-color="#f9f9ff"/><stop offset="0.6919" stop-color="#f5f5ff"/><stop offset="0.9244" stop-color="#d8d8ff"/><stop offset="0.9982" stop-color="#bfbfff"/></linearGradient>
<linearGradient id="ht67" x1="0" x2="1" y1="0" y2="0"><stop offset="0.0018" stop-color="#ffe4e4"/><stop offset="0.0092" stop-color="#ffd6d6"/><stop offset="0.0240" stop-color="#ff9c9c"/><stop offset="0.0424" stop-color="#ff5050"/><stop offset="0.0535" stop-color="#ff4141"/><stop offset="0.0609" stop-color="#ff4b4b"/><stop offset="0.0683" stop-color="#ff6e6e"/><stop offset="0.0720" stop-color="#ff9999"/><stop offset="0.0756" stop-color="#ffd0d0"/><stop offset="0.0793" stop-color="#fff6f6"/><stop offset="0.0830" stop-color="#ffffff"/><stop offset="0.0867" stop-color="#f7f7ff"/><stop offset="0.0941" stop-color="#c3c3ff"/><stop offset="0.1052" stop-color="#9c9cff"/><stop offset="0.1236" stop-color="#8d8dff"/><stop offset="0.1347" stop-color="#9d9dff"/><stop offset="0.1494" stop-color="#c4c4ff"/><stop offset="0.1827" stop-color="#e4e4ff"/><stop offset="0.2417" stop-color="#f6f6ff"/><stop offset="0.6476" stop-color="#f7f7ff"/><stop offset="0.9022" stop-color="#dcdcff"/><stop offset="0.9982" stop-color="#bebeff"/></linearGradient>
<linearGradient id="ht68" x1="0" x2="1" y1="0" y2="0"><stop offset="0.0018" stop-color="#ffe4e4"/><stop offset="0.0092" stop-color="#ffd3d3"/><stop offset="0.0424" stop-color="#ff4949"/><stop offset="0.0535" stop-color="#ff3b3b"/><stop offset="0.0609" stop-color="#ff4444"/><stop offset="0.0683" stop-color="#ff6a6a"/><stop offset="0.0720" stop-color="#ff9393"/><stop offset="0.0756" stop-color="#ffcece"/><stop offset="0.0793" stop-color="#fff3f3"/><stop offset="0.0830" stop-color="#ffffff"/><stop offset="0.0867" stop-color="#f7f7ff"/><stop offset="0.0941" stop-color="#bebeff"/><stop offset="0.1052" stop-color="#9393ff"/><stop offset="0.1273" stop-color="#8b8bff"/><stop offset="0.1568" stop-color="#cdcdff"/><stop offset="0.2122" stop-color="#f1f1ff"/><stop offset="0.4852" stop-color="#fbfbff"/><stop offset="0.8063" stop-color="#ebebff"/><stop offset="0.9649" stop-color="#cacaff"/><stop offset="0.9982" stop-color="#bdbdff"/></linearGradient>
<linearGradient id="ht69" x1="0" x2="1" y1="0" y2="0"><stop offset="0.0018" stop-color="#ffe4e4"/><stop offset="0.0055" stop-color="#ffe0e0"/><stop offset="0.0203" stop-color="#ffa1a1"/><stop offset="0.0387" stop-color="#ff4c4c"/><stop offset="0.0498" stop-color="#ff3636"/><stop offset="0.0609" stop-color="#ff3d3d"/><stop offset="0.0683" stop-color="#ff6565"/><stop offset="0.0720" stop-color="#ff8c8c"/><stop offset="0.0756" stop-color="#ffcbcb"/><stop offset="0.0793" stop-color="#ffefef"/><stop offset="0.0830" stop-color="#ffffff"/><stop offset="0.0867" stop-color="#f7f7ff"/><stop offset="0.0941" stop-color="#babaff"/><stop offset="0.1015" stop-color="#9595ff"/><stop offset="0.1089" stop-color="#8787ff"/><stop offset="0.1236" stop-color="#8484ff"/><stop offset="0.1384" stop-color="#a0a0ff"/><stop offset="0.1568" stop-color="#c8c8ff"/><stop offset="0.1974" stop-color="#e9e9ff"/><stop offset="0.2601" stop-color="#f7f7ff"/><stop offset="0.6513" stop-color="#f8f8ff"/><stop offset="0.8948" stop-color="#dcdcff"/><stop offset="0.9982" stop-color="#bbbbff"/></linearGradient>
<linearGradient id="ht70" x1="0" x2="1" y1="0" y2="0"><stop offset="0.0018" stop-color="#ffe4e4"/><stop offset="0.0129" stop-color="#ffbfbf"/><stop offset="0.0387" stop-color="#ff4343"/><stop offset="0.0498" stop-color="#ff2c2c"/><stop offset="0.0609" stop-color="#ff3636"/><stop offset="0.0683" stop-color="#ff5d5d"/><stop offset="0.0720" stop-color="#ff8686"/><stop offset="0.0756" stop-color="#ffc3c3"/><stop offset="0.0793" stop-color="#ffecec"/><stop offset="0.0830" stop-color="#ffffff"/><stop offset="0.0867" stop-color="#f7f7ff"/><stop offset="0.0941" stop-color="#b6b6ff"/><stop offset="0.1015" stop-color="#8c8cff"/><stop offset="0.1089" stop-color="#7f7fff"/><stop offset="0.1236" stop-color="#7c7cff"/><stop offset="0.1384" stop-color="#9c9cff"/><stop offset="0.1568" stop-color="#c2c2ff"/><stop offset="0.1863" stop-color="#e0e0ff"/><stop offset="0.2417" stop-color="#f6f6ff"/><stop offset="0.6402" stop-color="#f9f9ff"/><stop offset="0.8838" stop-color="#dedeff"/><stop offset="0.9982" stop-color="#babaff"/></linearGradient>
<linearGradient id="ht71" x1="0" x2="1" y1="0" y2="0"><stop offset="0.0018" stop-color="#ffe4e4"/><stop offset="0.0129" stop-color="#ffb9b9"/><stop offset="0.0387" stop-color="#ff3838"/><stop offset="0.0498" stop-color="#ff2222"/><stop offset="0.0609" stop-color="#ff2e2e"/><stop offset="0.0683" stop-color="#ff5353"/><stop offset="0.0720" stop-color="#ff8080"/><stop offset="0.0756" stop-color="#ffb9b9"/><stop offset="0.0793" stop-color="#ffe8e8"/><stop offset="0.0830" stop-color="#ffffff"/><stop offset="0.0867" stop-color="#f7f7ff"/><stop offset="0.0941" stop-color="#ababff"/><stop offset="0.1015" stop-color="#8282ff"/><stop offset="0.1125" stop-color="#7474ff"/><stop offset="0.1273" stop-color="#7777ff"/><stop offset="0.1458" stop-color="#acacff"/><stop offset="0.1863" stop-color="#ddddff"/><stop offset="0.2491" stop-color="#f6f6ff"/><stop offset="0.6402" stop-color="#f9f9ff"/><stop offset="0.8764" stop-color="#dfdfff"/><stop offset="0.9982" stop-color="#b8b8ff"/></linearGradient>
<linearGradient id="ht72" x1="0" x2="1" y1="0" y2="0"><stop offset="0.0018" stop-color="#ffe4e4"/><stop offset="0.0092" stop-color="#ffc6c6"/><stop offset="0.0387" stop-color="#ff2a2a"/><stop offset="0.0498" stop-color="#ff1717"/><stop offset="0.0609" stop-color="#ff2222"/><stop offset="0.0683" stop-color="#ff4949"/><stop offset="0.0720" stop-color="#ff7373"/><stop offset="0.0793" stop-color="#ffe4e4"/><stop offset="0.0830" stop-color="#ffffff"/><stop offset="0.0867" stop-color="#f7f7ff"/><stop offset="0.0941" stop-color="#9e9eff"/><stop offset="0.1015" stop-color="#7676ff"/><stop offset="0.1052" stop-color="#6a6aff"/><stop offset="0.1273" stop-color="#6f6fff"/><stop offset="0.1531" stop-color="#b2b2ff"/><stop offset="0.2011" stop-color="#e2e2ff"/><stop offset="0.2712" stop-color="#f7f7ff"/><stop offset="0.6439" stop-color="#f9f9ff"/><stop offset="0.8727" stop-color="#dfdfff"/><stop offset="0.9982" stop-color="#b6b6ff"/></linearGradient>
<linearGradient id="ht73" x1="0" x2="1" y1="0" y2="0"><stop offset="0.0018" stop-color="#ffe0e0"/><stop offset="0.0092" stop-color="#ffc0c0"/><stop offset="0.0351" stop-color="#ff2a2a"/><stop offset="0.0424" stop-color="#ff1616"/><stop offset="0.0572" stop-color="#ff1212"/><stop offset="0.0609" stop-color="#ff1717"/><stop offset="0.0683" stop-color="#ff3d3d"/><stop offset="0.0720" stop-color="#ff6565"/><stop offset="0.0793" stop-color="#ffe0e0"/><stop offset="0.0830" stop-color="#ffffff"/><stop offset="0.0867" stop-color="#f7f7ff"/><stop offset="0.0941" stop-color="#9292ff"/><stop offset="0.1015" stop-color="#6565ff"/><stop offset="0.1052" stop-color="#5a5aff"/><stop offset="0.1273" stop-color="#6666ff"/><stop offset="0.1605" stop-color="#b7b7ff"/><stop offset="0.2085" stop-color="#e3e3ff"/><stop offset="0.2897" stop-color="#f8f8ff"/><stop offset="0.6476" stop-color="#f9f9ff"/><stop offset="0.8690" stop-color="#dfdfff"/><stop offset="0.9945" stop-color="#b6b6ff"/><stop offset="0.9982" stop-color="#b4b4ff"/></linearGradient>
<linearGradient id="ht74" x1="0" x2="1" y1="0" y2="0"><stop offset="0.0018" stop-color="#ffdbdb"/><stop offset="0.0092" stop-color="#ffb4b4"/><stop offset="0.0314" stop-color="#ff2b2b"/><stop offset="0.0387" stop-color="#ff1212"/><stop offset="0.0535" stop-color="#ff0909"/><stop offset="0.0646" stop-color="#ff1818"/><stop offset="0.0683" stop-color="#ff2d2d"/><stop offset="0.0720" stop-color="#ff5757"/><stop offset="0.0793" stop-color="#ffd8d8"/><stop offset="0.0830" stop-color="#ffffff"/><stop offset="0.0867" stop-color="#f7f7ff"/><stop offset="0.0941" stop-color="#8686ff"/><stop offset="0.1015" stop-color="#5353ff"/><stop offset="0.1052" stop-color="#4a4aff"/><stop offset="0.1273" stop-color="#5858ff"/><stop offset="0.1568" stop-color="#a2a2ff"/><stop offset="0.1790" stop-color="#c4c4ff"/><stop offset="0.2306" stop-color="#eaeaff"/><stop offset="0.3155" stop-color="#fafaff"/><stop offset="0.6513" stop-color="#fafaff"/><stop offset="0.8616" stop-color="#e0e0ff"/><stop offset="0.9908" stop-color="#b5b5ff"/><stop offset="0.9982" stop-color="#b1b1ff"/></linearGradient>
<linearGradient id="ht75" x1="0" x2="1" y1="0" y2="0"><stop offset="0.0018" stop-color="#ffd6d6"/><stop offset="0.0055" stop-color="#ffc6c6"/><stop offset="0.0240" stop-color="#ff4242"/><stop offset="0.0314" stop-color="#ff1b1b"/><stop offset="0.0424" stop-color="#ff0505"/><stop offset="0.0609" stop-color="#ff0707"/><stop offset="0.0683" stop-color="#ff1c1c"/><stop offset="0.0720" stop-color="#ff4343"/><stop offset="0.0793" stop-color="#ffcaca"/><stop offset="0.0830" stop-color="#ffffff"/><stop offset="0.0867" stop-color="#f5f5ff"/><stop offset="0.0941" stop-color="#7171ff"/><stop offset="0.1015" stop-color="#4242ff"/><stop offset="0.1089" stop-color="#3b3bff"/><stop offset="0.1273" stop-color="#4949ff"/><stop offset="0.1494" stop-color="#8585ff"/><stop offset="0.1863" stop-color="#c4c4ff"/><stop offset="0.2417" stop-color="#e9e9ff"/><stop offset="0.3229" stop-color="#fafaff"/><stop offset="0.6513" stop-color="#fafaff"/><stop offset="0.8542" stop-color="#e0e0ff"/><stop offset="0.9871" stop-color="#b4b4ff"/><stop offset="0.9982" stop-color="#aeaeff"/></linearGradient>
<linearGradient id="ht76" x1="0" x2="1" y1="0" y2="0"><stop offset="0.0018" stop-color="#ffd1d1"/><stop offset="0.0240" stop-color="#ff2a2a"/><stop offset="0.0351" stop-color="#ff0505"/><stop offset="0.0646" stop-color="#ff0606"/><stop offset="0.0683" stop-color="#ff1111"/><stop offset="0.0720" stop-color="#ff2b2b"/><stop offset="0.0830" stop-color="#ffffff"/><stop offset="0.0867" stop-color="#f0f0ff"/><stop offset="0.0904" stop-color="#9e9eff"/><stop offset="0.0941" stop-color="#5b5bff"/><stop offset="0.1015" stop-color="#3232ff"/><stop offset="0.1089" stop-color="#2d2dff"/><stop offset="0.1273" stop-color="#3939ff"/><stop offset="0.1605" stop-color="#8b8bff"/><stop offset="0.1974" stop-color="#c6c6ff"/><stop offset="0.2601" stop-color="#eaeaff"/><stop offset="0.3339" stop-color="#fafaff"/><stop offset="0.6661" stop-color="#fafaff"/><stop offset="0.8579" stop-color="#dedeff"/><stop offset="0.9871" stop-color="#b1b1ff"/><stop offset="0.9982" stop-color="#aaaaff"/></linearGradient>
<linearGradient id="ht77" x1="0" x2="1" y1="0" y2="0"><stop offset="0.0018" stop-color="#ffcccc"/><stop offset="0.0203" stop-color="#ff2828"/><stop offset="0.0277" stop-color="#ff0b0b"/><stop offset="0.0461" stop-color="#ff0303"/><stop offset="0.0683" stop-color="#ff0505"/><stop offset="0.0720" stop-color="#ff1919"/><stop offset="0.0756" stop-color="#ff5454"/><stop offset="0.0793" stop-color="#ffaeae"/><stop offset="0.0830" stop-color="#ffffff"/><stop offset="0.0867" stop-color="#ececff"/><stop offset="0.0904" stop-color="#8e8eff"/><stop offset="0.0941" stop-color="#4444ff"/><stop offset="0.1015" stop-color="#2323ff"/><stop offset="0.1125" stop-color="#2020ff"/><stop offset="0.1310" stop-color="#2f2fff"/><stop offset="0.1753" stop-color="#9292ff"/><stop offset="0.2122" stop-color="#c7c7ff"/><stop offset="0.2860" stop-color="#eeeeff"/><stop offset="0.4299" stop-color="#fbfbff"/><stop offset="0.6845" stop-color="#fafaff"/><stop offset="0.8616" stop-color="#dcdcff"/><stop offset="0.9871" stop-color="#adadff"/><stop offset="0.9982" stop-color="#a6a6ff"/></linearGradient>
<linearGradient id="ht78" x1="0" x2="1" y1="0" y2="0"><stop offset="0.0018" stop-color="#ffbbbb"/><stop offset="0.0055" stop-color="#ff9c9c"/><stop offset="0.0129" stop-color="#ff4747"/><stop offset="0.0166" stop-color="#ff2626"/><stop offset="0.0240" stop-color="#ff0707"/><stop offset="0.0683" stop-color="#ff0404"/><stop offset="0.0720" stop-color="#ff0808"/><stop offset="0.0756" stop-color="#ff3030"/><stop offset="0.0830" stop-color="#fff8f8"/><stop offset="0.0867" stop-color="#e8e8ff"/><stop offset="0.0904" stop-color="#7070ff"/><stop offset="0.0941" stop-color="#3131ff"/><stop offset="0.1015" stop-color="#1414ff"/><stop offset="0.1162" stop-color="#1515ff"/><stop offset="0.1384" stop-color="#2e2eff"/><stop offset="0.1937" stop-color="#9c9cff"/><stop offset="0.2343" stop-color="#cdcdff"/><stop offset="0.3081" stop-color="#f0f0ff"/><stop offset="0.5000" stop-color="#fbfbff"/><stop offset="0.6993" stop-color="#f9f9ff"/><stop offset="0.8690" stop-color="#d9d9ff"/><stop offset="0.9908" stop-color="#a7a7ff"/><stop offset="0.9982" stop-color="#a2a2ff"/></linearGradient>
<linearGradient id="ht79" x1="0" x2="1" y1="0" y2="0"><stop offset="0.0018" stop-color="#ffaaaa"/><stop offset="0.0129" stop-color="#ff2525"/><stop offset="0.0203" stop-color="#ff0606"/><stop offset="0.0720" stop-color="#ff0505"/><stop offset="0.0756" stop-color="#ff1717"/><stop offset="0.0793" stop-color="#ff7373"/><stop offset="0.0830" stop-color="#fff0f0"/><stop offset="0.0867" stop-color="#dbdbff"/><stop offset="0.0904" stop-color="#5252ff"/><stop offset="0.0941" stop-color="#1d1dff"/><stop offset="0.1015" stop-color="#0808ff"/><stop offset="0.1273" stop-color="#0f0fff"/><stop offset="0.1790" stop-color="#6060ff"/><stop offset="0.2011" stop-color="#9090ff"/><stop offset="0.2565" stop-color="#cdcdff"/><stop offset="0.3155" stop-color="#ebebff"/><stop offset="0.5074" stop-color="#fbfbff"/><stop offset="0.5369" stop-color="#fffafa"/><stop offset="0.7030" stop-color="#fafaff"/><stop offset="0.8616" stop-color="#d9d9ff"/><stop offset="0.9871" stop-color="#a4a4ff"/><stop offset="0.9982" stop-color="#9c9cff"/></linearGradient>
<linearGradient id="ht80" x1="0" x2="1" y1="0" y2="0"><stop offset="0.0018" stop-color="#ff9191"/><stop offset="0.0092" stop-color="#ff2626"/><stop offset="0.0129" stop-color="#ff0c0c"/><stop offset="0.0314" stop-color="#ff0303"/><stop offset="0.0756" stop-color="#ff0606"/><stop offset="0.0793" stop-color="#ff4141"/><stop offset="0.0830" stop-color="#ffe8e8"/><stop offset="0.0867" stop-color="#cfcfff"/><stop offset="0.0904" stop-color="#3636ff"/><stop offset="0.0941" stop-color="#0a0aff"/><stop offset="0.1347" stop-color="#0808ff"/><stop offset="0.1863" stop-color="#4e4eff"/><stop offset="0.2343" stop-color="#9e9eff"/><stop offset="0.2897" stop-color="#d2d2ff"/><stop offset="0.3413" stop-color="#e3e3ff"/><stop offset="0.5074" stop-color="#fbfbff"/><stop offset="0.5148" stop-color="#fff7f7"/><stop offset="0.7103" stop-color="#fbfbff"/><stop offset="0.8616" stop-color="#d7d7ff"/><stop offset="0.9834" stop-color="#a0a0ff"/><stop offset="0.9982" stop-color="#9696ff"/></linearGradient>
<linearGradient id="ht81" x1="0" x2="1" y1="0" y2="0"><stop offset="0.0018" stop-color="#ff6a6a"/><stop offset="0.0055" stop-color="#ff2828"/><stop offset="0.0092" stop-color="#ff0909"/><stop offset="0.0720" stop-color="#ff0404"/><stop offset="0.0756" stop-color="#ff0606"/><stop offset="0.0793" stop-color="#ff1919"/><stop offset="0.0830" stop-color="#ffd2d2"/><stop offset="0.0867" stop-color="#b3b3ff"/><stop offset="0.0904" stop-color="#1b1bff"/><stop offset="0.0941" stop-color="#0808ff"/><stop offset="0.1568" stop-color="#0c0cff"/><stop offset="0.2269" stop-color="#6a6aff"/><stop offset="0.2675" stop-color="#a0a0ff"/><stop offset="0.3081" stop-color="#ceceff"/><stop offset="0.4225" stop-color="#e9e9ff"/><stop offset="0.5074" stop-color="#f6f6ff"/><stop offset="0.5111" stop-color="#fff5f5"/><stop offset="0.7214" stop-color="#fbfbff"/><stop offset="0.8764" stop-color="#cfcfff"/><stop offset="0.9908" stop-color="#9595ff"/><stop offset="0.9982" stop-color="#8f8fff"/></linearGradient>
<linearGradient id="ht82" x1="0" x2="1" y1="0" y2="0"><stop offset="0.0018" stop-color="#ff2d2d"/><stop offset="0.0055" stop-color="#ff0707"/><stop offset="0.0756" stop-color="#ff0505"/><stop offset="0.0793" stop-color="#ff0707"/><stop offset="0.0830" stop-color="#ffb5b5"/><stop offset="0.0867" stop-color="#8d8dff"/><stop offset="0.0904" stop-color="#0909ff"/><stop offset="0.1790" stop-color="#0909ff"/><stop offset="0.2712" stop-color="#7676ff"/><stop offset="0.3044" stop-color="#a7a7ff"/><stop offset="0.4926" stop-color="#ededff"/><stop offset="0.5074" stop-color="#eeeeff"/><stop offset="0.5111" stop-color="#fff1f1"/><stop offset="0.7325" stop-color="#fbfbff"/><stop offset="0.9096" stop-color="#bebeff"/><stop offset="0.9982" stop-color="#8787ff"/></linearGradient>
<linearGradient id="ht83" x1="0" x2="1" y1="0" y2="0"><stop offset="0.0018" stop-color="#ff0707"/><stop offset="0.0793" stop-color="#ff0505"/><stop offset="0.0830" stop-color="#ff7777"/><stop offset="0.0867" stop-color="#4e4eff"/><stop offset="0.0904" stop-color="#0707ff"/><stop offset="0.2159" stop-color="#0b0bff"/><stop offset="0.2860" stop-color="#5050ff"/><stop offset="0.3118" stop-color="#7474ff"/><stop offset="0.4410" stop-color="#bfbfff"/><stop offset="0.4926" stop-color="#d8d8ff"/><stop offset="0.5074" stop-color="#d9d9ff"/><stop offset="0.5111" stop-color="#ffeded"/><stop offset="0.7103" stop-color="#fffcfc"/><stop offset="0.7804" stop-color="#eeeeff"/><stop offset="0.9354" stop-color="#aaaaff"/><stop offset="0.9982" stop-color="#7d7dff"/></linearGradient>
<linearGradient id="ht84" x1="0" x2="1" y1="0" y2="0"><stop offset="0.0018" stop-color="#ff0505"/><stop offset="0.0793" stop-color="#ff0404"/><stop offset="0.0830" stop-color="#ff1a1a"/><stop offset="0.0867" stop-color="#1717ff"/><stop offset="0.0904" stop-color="#0505ff"/><stop offset="0.2749" stop-color="#0e0eff"/><stop offset="0.3155" stop-color="#3131ff"/><stop offset="0.3930" stop-color="#4f4fff"/><stop offset="0.4889" stop-color="#a6a6ff"/><stop offset="0.5074" stop-color="#aaaaff"/><stop offset="0.5111" stop-color="#ffe8e8"/><stop offset="0.7030" stop-color="#fff7f7"/><stop offset="0.7472" stop-color="#fcfcff"/><stop offset="0.9280" stop-color="#a7a7ff"/><stop offset="0.9982" stop-color="#7373ff"/></linearGradient>
<linearGradient id="ht85" x1="0" x2="1" y1="0" y2="0"><stop offset="0.0018" stop-color="#ff0303"/><stop offset="0.0830" stop-color="#ff0606"/><stop offset="0.0867" stop-color="#0707ff"/><stop offset="0.2159" stop-color="#0505ff"/><stop offset="0.4114" stop-color="#0e0eff"/><stop offset="0.5037" stop-color="#4242ff"/><stop offset="0.5074" stop-color="#4242ff"/><stop offset="0.5111" stop-color="#ffe1e1"/><stop offset="0.6993" stop-color="#fff2f2"/><stop offset="0.7546" stop-color="#fcfcff"/><stop offset="0.9280" stop-color="#a0a0ff"/><stop offset="0.9982" stop-color="#6666ff"/></linearGradient>
<linearGradient id="ht86" x1="0" x2="1" y1="0" y2="0"><stop offset="0.0018" stop-color="#ff0202"/><stop offset="0.0830" stop-color="#ff0303"/><stop offset="0.0867" stop-color="#0404ff"/><stop offset="0.5074" stop-color="#0707ff"/><stop offset="0.5111" stop-color="#ffdada"/><stop offset="0.6919" stop-color="#ffe9e9"/><stop offset="0.7620" stop-color="#fcfcff"/><stop offset="0.8469" stop-color="#c9c9ff"/><stop offset="0.9354" stop-color="#9191ff"/><stop offset="0.9982" stop-color="#5858ff"/></linearGradient>
<linearGradient id="ht87" x1="0" x2="1" y1="0" y2="0"><stop offset="0.0018" stop-color="#ff0000"/><stop offset="0.0830" stop-color="#ff0101"/><stop offset="0.0867" stop-color="#0101ff"/><stop offset="0.5074" stop-color="#0202ff"/><stop offset="0.5111" stop-color="#ffd2d2"/><stop offset="0.6919" stop-color="#ffe4e4"/><stop offset="0.7657" stop-color="#fdfdff"/><stop offset="0.8321" stop-color="#ceceff"/><stop offset="0.9244" stop-color="#9292ff"/><stop offset="0.9982" stop-color="#4b4bff"/></linearGradient>
<linearGradient id="hb0" x1="0" x2="1" y1="0" y2="0"><stop offset="0.0018" stop-color="#ffeeee"/><stop offset="0.0424" stop-color="#ffcece"/><stop offset="0.0646" stop-color="#ff9f9f"/><stop offset="0.0683" stop-color="#ff9d9d"/><stop offset="0.0720" stop-color="#ffa5a5"/><stop offset="0.0756" stop-color="#ffb9b9"/><stop offset="0.0830" stop-color="#fff6f6"/><stop offset="0.0867" stop-color="#f4f4ff"/><stop offset="0.0941" stop-color="#d7d7ff"/><stop offset="0.1162" stop-color="#c4c4ff"/><stop offset="0.1494" stop-color="#c2c2ff"/><stop offset="0.1679" stop-color="#fbfbff"/><stop offset="0.2860" stop-color="#fff9f9"/><stop offset="0.5849" stop-color="#fbfbff"/><stop offset="0.9428" stop-color="#e5e5ff"/><stop offset="0.9982" stop-color="#dbdbff"/></linearGradient>
<linearGradient id="hb1" x1="0" x2="1" y1="0" y2="0"><stop offset="0.0018" stop-color="#ffeeee"/><stop offset="0.0424" stop-color="#ffcece"/><stop offset="0.0646" stop-color="#ff9f9f"/><stop offset="0.0683" stop-color="#ff9d9d"/><stop offset="0.0720" stop-color="#ffa5a5"/><stop offset="0.0756" stop-color="#ffb9b9"/><stop offset="0.0830" stop-color="#fff6f6"/><stop offset="0.0867" stop-color="#f4f4ff"/><stop offset="0.0941" stop-color="#d7d7ff"/><stop offset="0.1162" stop-color="#c4c4ff"/><stop offset="0.1494" stop-color="#c2c2ff"/><stop offset="0.1679" stop-color="#fbfbff"/><stop offset="0.2860" stop-color="#fff9f9"/><stop offset="0.5812" stop-color="#fbfbff"/><stop offset="0.9428" stop-color="#e5e5ff"/><stop offset="0.9982" stop-color="#dbdbff"/></linearGradient>
<linearGradient id="hb2" x1="0" x2="1" y1="0" y2="0"><stop offset="0.0018" stop-color="#ffeeee"/><stop offset="0.0424" stop-color="#ffcece"/><stop offset="0.0646" stop-color="#ff9f9f"/><stop offset="0.0683" stop-color="#ff9d9d"/><stop offset="0.0720" stop-color="#ffa5a5"/><stop offset="0.0756" stop-color="#ffb9b9"/><stop offset="0.0830" stop-color="#fff6f6"/><stop offset="0.0867" stop-color="#f4f4ff"/><stop offset="0.0941" stop-color="#d7d7ff"/><stop offset="0.1162" stop-color="#c4c4ff"/><stop offset="0.1494" stop-color="#c2c2ff"/><stop offset="0.1679" stop-color="#fbfbff"/><stop offset="0.2823" stop-color="#fff9f9"/><stop offset="0.5775" stop-color="#fbfbff"/><stop offset="0.9428" stop-color="#e5e5ff"/><stop offset="0.9982" stop-color="#dbdbff"/></linearGradient>
<linearGradient id="hb3" x1="0" x2="1" y1="0" y2="0"><stop offset="0.0018" stop-color="#ffeeee"/><stop offset="0.0424" stop-color="#ffcece"/><stop offset="0.0646" stop-color="#ff9f9f"/><stop offset="0.0683" stop-color="#ff9d9d"/><stop offset="0.0720" stop-color="#ffa5a5"/><stop offset="0.0756" stop-color="#ffb9b9"/><stop offset="0.0830" stop-color="#fff6f6"/><stop offset="0.0867" stop-color="#f4f4ff"/><stop offset="0.0941" stop-color="#d7d7ff"/><stop offset="0.1162" stop-color="#c4c4ff"/><stop offset="0.1494" stop-color="#c2c2ff"/><stop offset="0.1679" stop-color="#fbfbff"/><stop offset="0.2786" stop-color="#fff9f9"/><stop offset="0.5738" stop-color="#fcfcff"/><stop offset="0.9428" stop-color="#e5e5ff"/><stop offset="0.9982" stop-color="#dbdbff"/></linearGradient>
<linearGradient id="hb4" x1="0" x2="1" y1="0" y2="0"><stop offset="0.0018" stop-color="#ffeeee"/><stop offset="0.0424" stop-color="#ffcece"/><stop offset="0.0646" stop-color="#ff9f9f"/><stop offset="0.0683" stop-color="#ff9d9d"/><stop offset="0.0720" stop-color="#ffa5a5"/><stop offset="0.0756" stop-color="#ffb9b9"/><stop offset="0.0830" stop-color="#fff6f6"/><stop offset="0.0867" stop-color="#f4f4ff"/><stop offset="0.0941" stop-color="#d7d7ff"/><stop offset="0.1162" stop-color="#c4c4ff"/><stop offset="0.1494" stop-color="#c2c2ff"/><stop offset="0.1679" stop-color="#fbfbff"/><stop offset="0.2786" stop-color="#fff9f9"/><stop offset="0.5701" stop-color="#fcfcff"/><stop offset="0.9428" stop-color="#e5e5ff"/><stop offset="0.9982" stop-color="#dbdbff"/></linearGradient>
<linearGradient id="hb5" x1="0" x2="1" y1="0" y2="0"><stop offset="0.0018" stop-color="#ffeeee"/><stop offset="0.0424" stop-color="#ffcece"/><stop offset="0.0646" stop-color="#ff9f9f"/><stop offset="0.0683" stop-color="#ff9d9d"/><stop offset="0.0720" stop-color="#ffa5a5"/><stop offset="0.0756" stop-color="#ffb9b9"/><stop offset="0.0830" stop-color="#fff6f6"/><stop offset="0.0867" stop-color="#f4f4ff"/><stop offset="0.0941" stop-color="#d7d7ff"/><stop offset="0.1162" stop-color="#c4c4ff"/><stop offset="0.1494" stop-color="#c2c2ff"/><stop offset="0.1679" stop-color="#fbfbff"/><stop offset="0.2786" stop-color="#fff9f9"/><stop offset="0.5701" stop-color="#fcfcff"/><stop offset="0.9428" stop-color="#e5e5ff"/><stop offset="0.9982" stop-color="#dbdbff"/></linearGradient>
<linearGradient id="hb6" x1="0" x2="1" y1="0" y2="0"><stop offset="0.0018" stop-color="#ffeeee"/><stop offset="0.0424" stop-color="#ffcece"/><stop offset="0.0646" stop-color="#ff9f9f"/><stop offset="0.0683" stop-color="#ff9d9d"/><stop offset="0.0720" stop-color="#ffa5a5"/><stop offset="0.0756" stop-color="#ffb9b9"/><stop offset="0.0830" stop-color="#fff6f6"/><stop offset="0.0867" stop-color="#f4f4ff"/><stop offset="0.0941" stop-color="#d7d7ff"/><stop offset="0.1162" stop-color="#c4c4ff"/><stop offset="0.1494" stop-color="#c2c2ff"/><stop offset="0.1679" stop-color="#fbfbff"/><stop offset="0.2749" stop-color="#fff9f9"/><stop offset="0.5664" stop-color="#fcfcff"/><stop offset="0.9428" stop-color="#e5e5ff"/><stop offset="0.9982" stop-color="#dbdbff"/></linearGradient>
<linearGradient id="hb7" x1="0" x2="1" y1="0" y2="0"><stop offset="0.0018" stop-color="#ffeeee"/><stop offset="0.0424" stop-color="#ffcece"/><stop offset="0.0646" stop-color="#ff9f9f"/><stop offset="0.0683" stop-color="#ff9d9d"/><stop offset="0.0720" stop-color="#ffa5a5"/><stop offset="0.0756" stop-color="#ffb9b9"/><stop offset="0.0830" stop-color="#fff6f6"/><stop offset="0.0867" stop-color="#f4f4ff"/><stop offset="0.0941" stop-color="#d7d7ff"/><stop offset="0.1162" stop-color="#c4c4ff"/><stop offset="0.1494" stop-color="#c2c2ff"/><stop offset="0.1679" stop-color="#fbfbff"/><stop offset="0.2749" stop-color="#fff9f9"/><stop offset="0.5627" stop-color="#fcfcff"/><stop offset="0.9428" stop-color="#e5e5ff"/><stop offset="0.9982" stop-color="#dbdbff"/></linearGradient>
<linearGradient id="hb8" x1="0" x2="1" y1="0" y2="0"><stop offset="0.0018" stop-color="#ffeeee"/><stop offset="0.0424" stop-color="#ffcece"/><stop offset="0.0646" stop-color="#ff9f9f"/><stop offset="0.0683" stop-color="#ff9d9d"/><stop offset="0.0720" stop-color="#ffa5a5"/><stop offset="0.0756" stop-color="#ffb9b9"/><stop offset="0.0830" stop-color="#fff6f6"/><stop offset="0.0867" stop-color="#f4f4ff"/><stop offset="0.0941" stop-color="#d7d7ff"/><stop offset="0.1162" stop-color="#c4c4ff"/><stop offset="0.1494" stop-color="#c2c2ff"/><stop offset="0.1679" stop-color="#fbfbff"/><stop offset="0.2712" stop-color="#fff9f9"/><stop offset="0.5590" stop-color="#fcfcff"/><stop offset="0.9428" stop-color="#e5e5ff"/><stop offset="0.9982" stop-color="#dbdbff"/></linearGradient>
<linearGradient id="hb9" x1="0" x2="1" y1="0" y2="0"><stop offset="0.0018" stop-color="#ffeeee"/><stop offset="0.0424" stop-color="#ffcece"/><stop offset="0.0646" stop-color="#ff9f9f"/><stop offset="0.0683" stop-color="#ff9d9d"/><stop offset="0.0720" stop-color="#ffa5a5"/><stop offset="0.0756" stop-color="#ffb9b9"/><stop offset="0.0830" stop-color="#fff6f6"/><stop offset="0.0867" stop-color="#f4f4ff"/><stop offset="0.0941" stop-color="#d7d7ff"/><stop offset="0.1162" stop-color="#c4c4ff"/><stop offset="0.1494" stop-color="#c2c2ff"/><stop offset="0.1679" stop-color="#fbfbff"/><stop offset="0.2712" stop-color="#fff9f9"/><stop offset="0.5590" stop-color="#fcfcff"/><stop offset="0.9428" stop-color="#e5e5ff"/><stop offset="0.9982" stop-color="#dbdbff"/></linearGradient>
<linearGradient id="hb10" x1="0" x2="1" y1="0" y2="0"><stop offset="0.0018" stop-color="#ffeeee"/><stop offset="0.0424" stop-color="#ffcece"/><stop offset="0.0646" stop-color="#ff9f9f"/><stop offset="0.0683" stop-color="#ff9d9d"/><stop offset="0.0720" stop-color="#ffa5a5"/><stop offset="0.0756" stop-color="#ffb9b9"/><stop offset="0.0830" stop-color="#fff6f6"/><stop offset="0.0867" stop-color="#f4f4ff"/><stop offset="0.0941" stop-color="#d7d7ff"/><stop offset="0.1162" stop-color="#c4c4ff"/><stop offset="0.1494" stop-color="#c2c2ff"/><stop offset="0.1679" stop-color="#fbfbff"/><stop offset="0.2712" stop-color="#fff9f9"/><stop offset="0.5590" stop-color="#fcfcff"/><stop offset="0.9428" stop-color="#e5e5ff"/><stop offset="0.9982" stop-color="#dbdbff"/></linearGradient>
<linearGradient id="hb11" x1="0" x2="1" y1="0" y2="0"><stop offset="0.0018" stop-color="#ffeeee"/><stop offset="0.0424" stop-color="#ffcece"/><stop offset="0.0646" stop-color="#ff9f9f"/><stop offset="0.0683" stop-color="#ff9d9d"/><stop offset="0.0720" stop-color="#ffa5a5"/><stop offset="0.0756" stop-color="#ffb9b9"/><stop offset="0.0830" stop-color="#fff6f6"/><stop offset="0.0867" stop-color="#f4f4ff"/><stop offset="0.0941" stop-color="#d7d7ff"/><stop offset="0.1162" stop-color="#c4c4ff"/><stop offset="0.1494" stop-color="#c2c2ff"/><stop offset="0.1679" stop-color="#fbfbff"/><stop offset="0.2675" stop-color="#fff9f9"/><stop offset="0.5554" stop-color="#fcfcff"/><stop offset="0.9428" stop-color="#e5e5ff"/><stop offset="0.9982" stop-color="#dbdbff"/></linearGradient>
<linearGradient id="hb12" x1="0" x2="1" y1="0" y2="0"><stop offset="0.0018" stop-color="#ffeeee"/><stop offset="0.0424" stop-color="#ffcece"/><stop offset="0.0646" stop-color="#ff9f9f"/><stop offset="0.0683" stop-color="#ff9d9d"/><stop offset="0.0720" stop-color="#ffa5a5"/><stop offset="0.0756" stop-color="#ffb9b9"/><stop offset="0.0830" stop-color="#fff6f6"/><stop offset="0.0867" stop-color="#f4f4ff"/><stop offset="0.0941" stop-color="#d7d7ff"/><stop offset="0.1162" stop-color="#c4c4ff"/><stop offset="0.1494" stop-color="#c2c2ff"/><stop offset="0.1679" stop-color="#fbfbff"/><stop offset="0.2675" stop-color="#fff9f9"/><stop offset="0.5554" stop-color="#fcfcff"/><stop offset="0.9428" stop-color="#e5e5ff"/><stop offset="0.9982" stop-color="#dbdbff"/></linearGradient>
<linearGradient id="hb13" x1="0" x2="1" y1="0" y2="0"><stop offset="0.0018" stop-color="#ffeeee"/><stop offset="0.0424" stop-color="#ffcece"/><stop offset="0.0646" stop-color="#ff9f9f"/><stop offset="0.0683" stop-color="#ff9d9d"/><stop offset="0.0720" stop-color="#ffa5a5"/><stop offset="0.0756" stop-color="#ffb9b9"/><stop offset="0.0830" stop-color="#fff6f6"/><stop offset="0.0867" stop-color="#f4f4ff"/><stop offset="0.0941" stop-color="#d7d7ff"/><stop offset="0.1162" stop-color="#c4c4ff"/><stop offset="0.1494" stop-color="#c2c2ff"/><stop offset="0.1679" stop-color="#fbfbff"/><stop offset="0.2638" stop-color="#fff9f9"/><stop offset="0.5517" stop-color="#fcfcff"/><stop offset="0.9391" stop-color="#e6e6ff"/><stop offset="0.9982" stop-color="#dbdbff"/></linearGradient>
<linearGradient id="hb14" x1="0" x2="1" y1="0" y2="0"><stop offset="0.0018" stop-color="#ffeeee"/><stop offset="0.0424" stop-color="#ffcece"/><stop offset="0.0646" stop-color="#ff9f9f"/><stop offset="0.0683" stop-color="#ff9d9d"/><stop offset="0.0720" stop-color="#ffa5a5"/><stop offset="0.0756" stop-color="#ffb9b9"/><stop offset="0.0830" stop-color="#fff6f6"/><stop offset="0.0867" stop-color="#f4f4ff"/><stop offset="0.0941" stop-color="#d7d7ff"/><stop offset="0.1162" stop-color="#c4c4ff"/><stop offset="0.1494" stop-color="#c2c2ff"/><stop offset="0.1679" stop-color="#fbfbff"/><stop offset="0.2638" stop-color="#fff8f8"/><stop offset="0.5480" stop-color="#fcfcff"/><stop offset="0.9391" stop-color="#e6e6ff"/><stop offset="0.9982" stop-color="#dbdbff"/></linearGradient>
<linearGradient id="hb15" x1="0" x2="1" y1="0" y2="0"><stop offset="0.0018" stop-color="#ffeeee"/><stop offset="0.0424" stop-color="#ffcece"/><stop offset="0.0646" stop-color="#ff9f9f"/><stop offset="0.0683" stop-color="#ff9d9d"/><stop offset="0.0720" stop-color="#ffa5a5"/><stop offset="0.0756" stop-color="#ffb9b9"/><stop offset="0.0830" stop-color="#fff6f6"/><stop offset="0.0867" stop-color="#f4f4ff"/><stop offset="0.0941" stop-color="#d7d7ff"/><stop offset="0.1162" stop-color="#c4c4ff"/><stop offset="0.1494" stop-color="#c2c2ff"/><stop offset="0.1679" stop-color="#fbfbff"/><stop offset="0.2638" stop-color="#fff8f8"/><stop offset="0.5443" stop-color="#fcfcff"/><stop offset="0.9391" stop-color="#e6e6ff"/><stop offset="0.9982" stop-color="#dbdbff"/></linearGradient>
<linearGradient id="hb16" x1="0" x2="1" y1="0" y2="0"><stop offset="0.0018" stop-color="#ffeeee"/><stop offset="0.0424" stop-color="#ffcece"/><stop offset="0.0646" stop-color="#ff9f9f"/><stop offset="0.0683" stop-color="#ff9d9d"/><stop offset="0.0720" stop-color="#ffa5a5"/><stop offset="0.0756" stop-color="#ffb9b9"/><stop offset="0.0830" stop-color="#fff6f6"/><stop offset="0.0867" stop-color="#f4f4ff"/><stop offset="0.0941" stop-color="#d7d7ff"/><stop offset="0.1162" stop-color="#c4c4ff"/><stop offset="0.1494" stop-color="#c2c2ff"/><stop offset="0.1679" stop-color="#fbfbff"/><stop offset="0.2638" stop-color="#fff8f8"/><stop offset="0.5406" stop-color="#fcfcff"/><stop offset="0.9391" stop-color="#e6e6ff"/><stop offset="0.9982" stop-color="#dbdbff"/></linearGradient>
<linearGradient id="hb17" x1="0" x2="1" y1="0" y2="0"><stop offset="0.0018" stop-color="#ffeeee"/><stop offset="0.0424" stop-color="#ffcece"/><stop offset="0.0646" stop-color="#ff9f9f"/><stop offset="0.0683" stop-color="#ff9d9d"/><stop offset="0.0720" stop-color="#ffa5a5"/><stop offset="0.0756" stop-color="#ffb9b9"/><stop offset="0.0830" stop-color="#fff6f6"/><stop offset="0.0867" stop-color="#f4f4ff"/><stop offset="0.0941" stop-color="#d7d7ff"/><stop offset="0.1162" stop-color="#c4c4ff"/><stop offset="0.1494" stop-color="#c2c2ff"/><stop offset="0.1679" stop-color="#fbfbff"/><stop offset="0.2601" stop-color="#fff8f8"/><stop offset="0.5406" stop-color="#fcfcff"/><stop offset="0.9391" stop-color="#e6e6ff"/><stop offset="0.9982" stop-color="#dbdbff"/></linearGradient>
<linearGradient id="hb18" x1="0" x2="1" y1="0" y2="0"><stop offset="0.0018" stop-color="#ffeeee"/><stop offset="0.0424" stop-color="#ffcece"/><stop offset="0.0646" stop-color="#ff9f9f"/><stop offset="0.0683" stop-color="#ff9d9d"/><stop offset="0.0720" stop-color="#ffa5a5"/><stop offset="0.0756" stop-color="#ffb9b9"/><stop offset="0.0830" stop-color="#fff6f6"/><stop offset="0.0867" stop-color="#f4f4ff"/><stop offset="0.0941" stop-color="#d7d7ff"/><stop offset="0.1162" stop-color="#c4c4ff"/><stop offset="0.1494" stop-color="#c2c2ff"/><stop offset="0.1679" stop-color="#fbfbff"/><stop offset="0.2601" stop-color="#fff8f8"/><stop offset="0.5369" stop-color="#fcfcff"/><stop offset="0.9391" stop-color="#e6e6ff"/><stop offset="0.9982" stop-color="#dbdbff"/></linearGradient>
<linearGradient id="hb19" x1="0" x2="1" y1="0" y2="0"><stop offset="0.0018" stop-color="#ffeeee"/><stop offset="0.0424" stop-color="#ffcece"/><stop offset="0.0646" stop-color="#ff9f9f"/><stop offset="0.0683" stop-color="#ff9d9d"/><stop offset="0.0720" stop-color="#ffa5a5"/><stop offset="0.0756" stop-color="#ffb9b9"/><stop offset="0.0830" stop-color="#fff6f6"/><stop offset="0.0867" stop-color="#f4f4ff"/><stop offset="0.0941" stop-color="#d7d7ff"/><stop offset="0.1162" stop-color="#c4c4ff"/><stop offset="0.1494" stop-color="#c2c2ff"/><stop offset="0.1679" stop-color="#fbfbff"/><stop offset="0.2601" stop-color="#fff8f8"/><stop offset="0.5332" stop-color="#fdfdff"/><stop offset="0.9391" stop-color="#e6e6ff"/><stop offset="0.9982" stop-color="#dbdbff"/></linearGradient>
<linearGradient id="hb20" x1="0" x2="1" y1="0" y2="0"><stop offset="0.0018" stop-color="#ffeeee"/><stop offset="0.0424" stop-color="#ffcece"/><stop offset="0.0646" stop-color="#ff9f9f"/><stop offset="0.0683" stop-color="#ff9d9d"/><stop offset="0.0720" stop-color="#ffa5a5"/><stop offset="0.0756" stop-color="#ffb9b9"/><stop offset="0.0830" stop-color="#fff6f6"/><stop offset="0.0867" stop-color="#f4f4ff"/><stop offset="0.0941" stop-color="#d7d7ff"/><stop offset="0.1162" stop-color="#c4c4ff"/><stop offset="0.1494" stop-color="#c2c2ff"/><stop offset="0.1679" stop-color="#fbfbff"/><stop offset="0.2565" stop-color="#fff8f8"/><stop offset="0.5295" stop-color="#fdfdff"/><stop offset="0.9354" stop-color="#e7e7ff"/><stop offset="0.9982" stop-color="#dbdbff"/></linearGradient>
<linearGradient id="hb21" x1="0" x2="1" y1="0" y2="0"><stop offset="0.0018" stop-color="#ffeeee"/><stop offset="0.0424" stop-color="#ffcece"/><stop offset="0.0646" stop-color="#ff9f9f"/><stop offset="0.0683" stop-color="#ff9d9d"/><stop offset="0.0720" stop-color="#ffa5a5"/><stop offset="0.0756" stop-color="#ffb9b9"/><stop offset="0.0830" stop-color="#fff6f6"/><stop offset="0.0867" stop-color="#f4f4ff"/><stop offset="0.0941" stop-color="#d7d7ff"/><stop offset="0.1162" stop-color="#c4c4ff"/><stop offset="0.1494" stop-color="#c2c2ff"/><stop offset="0.1679" stop-color="#fbfbff"/><stop offset="0.2565" stop-color="#fff8f8"/><stop offset="0.5295" stop-color="#fdfdff"/><stop offset="0.9354" stop-color="#e7e7ff"/><stop offset="0.9982" stop-color="#dbdbff"/></linearGradient>
<linearGradient id="hb22" x1="0" x2="1" y1="0" y2="0"><stop offset="0.0018" stop-color="#ffeeee"/><stop offset="0.0424" stop-color="#ffcece"/><stop offset="0.0646" stop-color="#ff9f9f"/><stop offset="0.0683" stop-color="#ff9d9d"/><stop offset="0.0720" stop-color="#ffa5a5"/><stop offset="0.0756" stop-color="#ffb9b9"/><stop offset="0.0830" stop-color="#fff6f6"/><stop offset="0.0867" stop-color="#f4f4ff"/><stop offset="0.0941" stop-color="#d7d7ff"/><stop offset="0.1162" stop-color="#c4c4ff"/><stop offset="0.1494" stop-color="#c2c2ff"/><stop offset="0.1679" stop-color="#fbfbff"/><stop offset="0.2528" stop-color="#fff8f8"/><stop offset="0.4963" stop-color="#fcfcff"/><stop offset="0.9207" stop-color="#e9e9ff"/><stop offset="0.9982" stop-color="#dbdbff"/></linearGradient>
<linearGradient id="hb23" x1="0" x2="1" y1="0" y2="0"><stop offset="0.0018" stop-color="#ffeeee"/><stop offset="0.0424" stop-color="#ffcece"/><stop offset="0.0646" stop-color="#ff9f9f"/><stop offset="0.0683" stop-color="#ff9d9d"/><stop offset="0.0720" stop-color="#ffa5a5"/><stop offset="0.0756" stop-color="#ffb9b9"/><stop offset="0.0830" stop-color="#fff6f6"/><stop offset="0.0867" stop-color="#f4f4ff"/><stop offset="0.0941" stop-color="#d7d7ff"/><stop offset="0.1162" stop-color="#c4c4ff"/><stop offset="0.1494" stop-color="#c2c2ff"/><stop offset="0.1679" stop-color="#fbfbff"/><stop offset="0.2491" stop-color="#fff7f7"/><stop offset="0.4815" stop-color="#fcfcff"/><stop offset="0.9133" stop-color="#e9e9ff"/><stop offset="0.9982" stop-color="#dbdbff"/></linearGradient>
<linearGradient id="hb24" x1="0" x2="1" y1="0" y2="0"><stop offset="0.0018" stop-color="#ffeeee"/><stop offset="0.0424" stop-color="#ffcece"/><stop offset="0.0646" stop-color="#ff9f9f"/><stop offset="0.0683" stop-color="#ff9d9d"/><stop offset="0.0720" stop-color="#ffa5a5"/><stop offset="0.0756" stop-color="#ffb9b9"/><stop offset="0.0830" stop-color="#fff6f6"/><stop offset="0.0867" stop-color="#f4f4ff"/><stop offset="0.0941" stop-color="#d7d7ff"/><stop offset="0.1162" stop-color="#c4c4ff"/><stop offset="0.1494" stop-color="#c2c2ff"/><stop offset="0.1679" stop-color="#fbfbff"/><stop offset="0.2454" stop-color="#fff7f7"/><stop offset="0.4742" stop-color="#fcfcff"/><stop offset="0.9096" stop-color="#eaeaff"/><stop offset="0.9982" stop-color="#dbdbff"/></linearGradient>
<linearGradient id="hb25" x1="0" x2="1" y1="0" y2="0"><stop offset="0.0018" stop-color="#ffeeee"/><stop offset="0.0424" stop-color="#ffcece"/><stop offset="0.0646" stop-color="#ff9f9f"/><stop offset="0.0683" stop-color="#ff9d9d"/><stop offset="0.0720" stop-color="#ffa5a5"/><stop offset="0.0756" stop-color="#ffb9b9"/><stop offset="0.0830" stop-color="#fff6f6"/><stop offset="0.0867" stop-color="#f4f4ff"/><stop offset="0.0941" stop-color="#d7d7ff"/><stop offset="0.1162" stop-color="#c4c4ff"/><stop offset="0.1494" stop-color="#c2c2ff"/><stop offset="0.1679" stop-color="#fbfbff"/><stop offset="0.2417" stop-color="#fff7f7"/><stop offset="0.4742" stop-color="#fcfcff"/><stop offset="0.9096" stop-color="#eaeaff"/><stop offset="0.9982" stop-color="#dbdbff"/></linearGradient>
<linearGradient id="hb26" x1="0" x2="1" y1="0" y2="0"><stop offset="0.0018" stop-color="#ffeeee"/><stop offset="0.0424" stop-color="#ffcece"/><stop offset="0.0646" stop-color="#ff9f9f"/><stop offset="0.0683" stop-color="#ff9d9d"/><stop offset="0.0720" stop-color="#ffa5a5"/><stop offset="0.0756" stop-color="#ffb9b9"/><stop offset="0.0830" stop-color="#fff6f6"/><stop offset="0.0867" stop-color="#f4f4ff"/><stop offset="0.0941" stop-color="#d7d7ff"/><stop offset="0.1162" stop-color="#c4c4ff"/><stop offset="0.1494" stop-color="#c2c2ff"/><stop offset="0.1679" stop-color="#fbfbff"/><stop offset="0.2343" stop-color="#fff6f6"/><stop offset="0.4705" stop-color="#fdfdff"/><stop offset="0.9096" stop-color="#eaeaff"/><stop offset="0.9982" stop-color="#dbdbff"/></linearGradient>
<linearGradient id="hb27" x1="0" x2="1" y1="0" y2="0"><stop offset="0.0018" stop-color="#ffeeee"/><stop offset="0.0424" stop-color="#ffcece"/><stop offset="0.0646" stop-color="#ff9f9f"/><stop offset="0.0683" stop-color="#ff9d9d"/><stop offset="0.0720" stop-color="#ffa5a5"/><stop offset="0.0756" stop-color="#ffb9b9"/><stop offset="0.0830" stop-color="#fff6f6"/><stop offset="0.0867" stop-color="#f4f4ff"/><stop offset="0.0941" stop-color="#d7d7ff"/><stop offset="0.1162" stop-color="#c4c4ff"/><stop offset="0.1494" stop-color="#c2c2ff"/><stop offset="0.1679" stop-color="#fbfbff"/><stop offset="0.2306" stop-color="#fff6f6"/><stop offset="0.3635" stop-color="#fffefe"/><stop offset="0.8764" stop-color="#ededff"/><stop offset="0.9982" stop-color="#dbdbff"/></linearGradient>
<linearGradient id="hb28" x1="0" x2="1" y1="0" y2="0"><stop offset="0.0018" stop-color="#ffeeee"/><stop offset="0.0424" stop-color="#ffcece"/><stop offset="0.0646" stop-color="#ff9f9f"/><stop offset="0.0683" stop-color="#ff9d9d"/><stop offset="0.0720" stop-color="#ffa5a5"/><stop offset="0.0756" stop-color="#ffb9b9"/><stop offset="0.0830" stop-color="#fff6f6"/><stop offset="0.0867" stop-color="#f4f4ff"/><stop offset="0.0941" stop-color="#d7d7ff"/><stop offset="0.1162" stop-color="#c4c4ff"/><stop offset="0.1494" stop-color="#c2c2ff"/><stop offset="0.1679" stop-color="#fbfbff"/><stop offset="0.2269" stop-color="#fff6f6"/><stop offset="0.3598" stop-color="#fffdfd"/><stop offset="0.8653" stop-color="#efefff"/><stop offset="0.9982" stop-color="#dbdbff"/></linearGradient>
<linearGradient id="hb29" x1="0" x2="1" y1="0" y2="0"><stop offset="0.0018" stop-color="#ffeeee"/><stop offset="0.0424" stop-color="#ffcece"/><stop offset="0.0646" stop-color="#ff9f9f"/><stop offset="0.0683" stop-color="#ff9d9d"/><stop offset="0.0720" stop-color="#ffa5a5"/><stop offset="0.0756" stop-color="#ffb9b9"/><stop offset="0.0830" stop-color="#fff6f6"/><stop offset="0.0867" stop-color="#f4f4ff"/><stop offset="0.0941" stop-color="#d7d7ff"/><stop offset="0.1162" stop-color="#c4c4ff"/><stop offset="0.1494" stop-color="#c2c2ff"/><stop offset="0.1679" stop-color="#fcfcff"/><stop offset="0.2232" stop-color="#fff6f6"/><stop offset="0.3598" stop-color="#fffdfd"/><stop offset="0.8653" stop-color="#efefff"/><stop offset="0.9982" stop-color="#dbdbff"/></linearGradient>
<linearGradient id="hb30" x1="0" x2="1" y1="0" y2="0"><stop offset="0.0018" stop-color="#ffeeee"/><stop offset="0.0424" stop-color="#ffcece"/><stop offset="0.0646" stop-color="#ff9f9f"/><stop offset="0.0683" stop-color="#ff9d9d"/><stop offset="0.0720" stop-color="#ffa5a5"/><stop offset="0.0756" stop-color="#ffb9b9"/><stop offset="0.0830" stop-color="#fff6f6"/><stop offset="0.0867" stop-color="#f4f4ff"/><stop offset="0.0941" stop-color="#d7d7ff"/><stop offset="0.1162" stop-color="#c4c4ff"/><stop offset="0.1494" stop-color="#c2c2ff"/><stop offset="0.1679" stop-color="#fcfcff"/><stop offset="0.2196" stop-color="#fff5f5"/><stop offset="0.3561" stop-color="#fffcfc"/><stop offset="0.8506" stop-color="#f0f0ff"/><stop offset="0.9982" stop-color="#dbdbff"/></linearGradient>
<linearGradient id="hb31" x1="0" x2="1" y1="0" y2="0"><stop offset="0.0018" stop-color="#ffeeee"/><stop offset="0.0424" stop-color="#ffcece"/><stop offset="0.0646" stop-color="#ff9f9f"/><stop offset="0.0683" stop-color="#ff9d9d"/><stop offset="0.0720" stop-color="#ffa5a5"/><stop offset="0.0756" stop-color="#ffb9b9"/><stop offset="0.0830" stop-color="#fff6f6"/><stop offset="0.0867" stop-color="#f4f4ff"/><stop offset="0.0941" stop-color="#d7d7ff"/><stop offset="0.1162" stop-color="#c4c4ff"/><stop offset="0.1494" stop-color="#c2c2ff"/><stop offset="0.1679" stop-color="#fcfcff"/><stop offset="0.2159" stop-color="#fff5f5"/><stop offset="0.3561" stop-color="#fffcfc"/><stop offset="0.8469" stop-color="#f0f0ff"/><stop offset="0.9982" stop-color="#dbdbff"/></linearGradient>
<linearGradient id="hb32" x1="0" x2="1" y1="0" y2="0"><stop offset="0.0018" stop-color="#ffeeee"/><stop offset="0.0424" stop-color="#ffcdcd"/><stop offset="0.0646" stop-color="#ff9e9e"/><stop offset="0.0683" stop-color="#ff9c9c"/><stop offset="0.0720" stop-color="#ffa5a5"/><stop offset="0.0756" stop-color="#ffb8b8"/><stop offset="0.0830" stop-color="#fff6f6"/><stop offset="0.0867" stop-color="#f4f4ff"/><stop offset="0.0941" stop-color="#d7d7ff"/><stop offset="0.1162" stop-color="#c4c4ff"/><stop offset="0.1494" stop-color="#c2c2ff"/><stop offset="0.1679" stop-color="#fcfcff"/><stop offset="0.2159" stop-color="#fff5f5"/><stop offset="0.3561" stop-color="#fffcfc"/><stop offset="0.8432" stop-color="#f0f0ff"/><stop offset="0.9982" stop-color="#dbdbff"/></linearGradient>
<linearGradient id="hb33" x1="0" x2="1" y1="0" y2="0"><stop offset="0.0018" stop-color="#ffeeee"/><stop offset="0.0424" stop-color="#ffcdcd"/><stop offset="0.0646" stop-color="#ff9d9d"/><stop offset="0.0683" stop-color="#ff9b9b"/><stop offset="0.0720" stop-color="#ffa3a3"/><stop offset="0.0756" stop-color="#ffb7b7"/><stop offset="0.0830" stop-color="#fff6f6"/><stop offset="0.0867" stop-color="#f4f4ff"/><stop offset="0.0941" stop-color="#d7d7ff"/><stop offset="0.1162" stop-color="#c4c4ff"/><stop offset="0.1494" stop-color="#c2c2ff"/><stop offset="0.1679" stop-color="#fcfcff"/><stop offset="0.2122" stop-color="#fff5f5"/><stop offset="0.3524" stop-color="#fffbfb"/><stop offset="0.7915" stop-color="#f3f3ff"/><stop offset="0.9982" stop-color="#dbdbff"/></linearGradient>
<linearGradient id="hb34" x1="0" x2="1" y1="0" y2="0"><stop offset="0.0018" stop-color="#ffeeee"/><stop offset="0.0424" stop-color="#ffcccc"/><stop offset="0.0646" stop-color="#ff9c9c"/><stop offset="0.0683" stop-color="#ff9999"/><stop offset="0.0720" stop-color="#ffa2a2"/><stop offset="0.0756" stop-color="#ffb6b6"/><stop offset="0.0830" stop-color="#fff6f6"/><stop offset="0.0867" stop-color="#f4f4ff"/><stop offset="0.0941" stop-color="#d7d7ff"/><stop offset="0.1162" stop-color="#c4c4ff"/><stop offset="0.1494" stop-color="#c2c2ff"/><stop offset="0.1679" stop-color="#fcfcff"/><stop offset="0.2085" stop-color="#fff4f4"/><stop offset="0.3524" stop-color="#fffbfb"/><stop offset="0.7768" stop-color="#f4f4ff"/><stop offset="0.9945" stop-color="#dbdbff"/><stop offset="0.9982" stop-color="#dbdbff"/></linearGradient>
<linearGradient id="hb35" x1="0" x2="1" y1="0" y2="0"><stop offset="0.0018" stop-color="#ffeeee"/><stop offset="0.0424" stop-color="#ffcccc"/><stop offset="0.0646" stop-color="#ff9a9a"/><stop offset="0.0683" stop-color="#ff9898"/><stop offset="0.0720" stop-color="#ffa1a1"/><stop offset="0.0756" stop-color="#ffb5b5"/><stop offset="0.0830" stop-color="#fff6f6"/><stop offset="0.0867" stop-color="#f4f4ff"/><stop offset="0.0941" stop-color="#d7d7ff"/><stop offset="0.1162" stop-color="#c4c4ff"/><stop offset="0.1494" stop-color="#c2c2ff"/><stop offset="0.1679" stop-color="#fcfcff"/><stop offset="0.2048" stop-color="#fff4f4"/><stop offset="0.3487" stop-color="#fff8f8"/><stop offset="0.4225" stop-color="#fdfdff"/><stop offset="0.8875" stop-color="#ececff"/><stop offset="0.9982" stop-color="#dbdbff"/></linearGradient>
<linearGradient id="hb36" x1="0" x2="1" y1="0" y2="0"><stop offset="0.0018" stop-color="#ffeeee"/><stop offset="0.0387" stop-color="#ffd1d1"/><stop offset="0.0646" stop-color="#ff9999"/><stop offset="0.0683" stop-color="#ff9797"/><stop offset="0.0720" stop-color="#ff9f9f"/><stop offset="0.0756" stop-color="#ffb4b4"/><stop offset="0.0830" stop-color="#fff6f6"/><stop offset="0.0867" stop-color="#f4f4ff"/><stop offset="0.0941" stop-color="#d7d7ff"/><stop offset="0.1162" stop-color="#c4c4ff"/><stop offset="0.1494" stop-color="#c2c2ff"/><stop offset="0.1679" stop-color="#fdfdff"/><stop offset="0.2011" stop-color="#fff3f3"/><stop offset="0.3487" stop-color="#fff8f8"/><stop offset="0.4114" stop-color="#fdfdff"/><stop offset="0.8838" stop-color="#ededff"/><stop offset="0.9982" stop-color="#dbdbff"/></linearGradient>
<linearGradient id="hb37" x1="0" x2="1" y1="0" y2="0"><stop offset="0.0018" stop-color="#ffeeee"/><stop offset="0.0387" stop-color="#ffd1d1"/><stop offset="0.0646" stop-color="#ff9898"/><stop offset="0.0683" stop-color="#ff9696"/><stop offset="0.0720" stop-color="#ff9e9e"/><stop offset="0.0756" stop-color="#ffb3b3"/><stop offset="0.0793" stop-color="#ffd9d9"/><stop offset="0.0830" stop-color="#fff6f6"/><stop offset="0.0867" stop-color="#f4f4ff"/><stop offset="0.0941" stop-color="#d7d7ff"/><stop offset="0.1162" stop-color="#c4c4ff"/><stop offset="0.1494" stop-color="#c2c2ff"/><stop offset="0.1679" stop-color="#fdfdff"/><stop offset="0.2011" stop-color="#fff3f3"/><stop offset="0.3487" stop-color="#fff7f7"/><stop offset="0.4077" stop-color="#fdfdff"/><stop offset="0.8838" stop-color="#ededff"/><stop offset="0.9982" stop-color="#dbdbff"/></linearGradient>
<linearGradient id="hb38" x1="0" x2="1" y1="0" y2="0"><stop offset="0.0018" stop-color="#ffeeee"/><stop offset="0.0387" stop-color="#ffd1d1"/><stop offset="0.0646" stop-color="#ff9797"/><stop offset="0.0683" stop-color="#ff9494"/><stop offset="0.0720" stop-color="#ff9d9d"/><stop offset="0.0756" stop-color="#ffb2b2"/><stop offset="0.0793" stop-color="#ffd9d9"/><stop offset="0.0830" stop-color="#fff6f6"/><stop offset="0.0867" stop-color="#f4f4ff"/><stop offset="0.0941" stop-color="#d7d7ff"/><stop offset="0.1162" stop-color="#c4c4ff"/><stop offset="0.1494" stop-color="#c2c2ff"/><stop offset="0.1679" stop-color="#fdfdff"/><stop offset="0.1974" stop-color="#fff2f2"/><stop offset="0.3487" stop-color="#fff7f7"/><stop offset="0.4004" stop-color="#fdfdff"/><stop offset="0.8801" stop-color="#ededff"/><stop offset="0.9982" stop-color="#dbdbff"/></linearGradient>
<linearGradient id="hb39" x1="0" x2="1" y1="0" y2="0"><stop offset="0.0018" stop-color="#ffeeee"/><stop offset="0.0387" stop-color="#ffd0d0"/><stop offset="0.0646" stop-color="#ff9595"/><stop offset="0.0683" stop-color="#ff9393"/><stop offset="0.0720" stop-color="#ff9b9b"/><stop offset="0.0756" stop-color="#ffb1b1"/><stop offset="0.0793" stop-color="#ffd9d9"/><stop offset="0.0830" stop-color="#fff6f6"/><stop offset="0.0867" stop-color="#f4f4ff"/><stop offset="0.0941" stop-color="#d7d7ff"/><stop offset="0.1162" stop-color="#c4c4ff"/><stop offset="0.1494" stop-color="#c2c2ff"/><stop offset="0.1679" stop-color="#fdfdff"/><stop offset="0.1974" stop-color="#fff1f1"/><stop offset="0.3487" stop-color="#fff6f6"/><stop offset="0.3930" stop-color="#fdfdff"/><stop offset="0.8801" stop-color="#ededff"/><stop offset="0.9982" stop-color="#dbdbff"/></linearGradient>
<linearGradient id="hb40" x1="0" x2="1" y1="0" y2="0"><stop offset="0.0018" stop-color="#ffeeee"/><stop offset="0.0387" stop-color="#ffd0d0"/><stop offset="0.0646" stop-color="#ff9292"/><stop offset="0.0683" stop-color="#ff9090"/><stop offset="0.0720" stop-color="#ff9898"/><stop offset="0.0756" stop-color="#ffaeae"/><stop offset="0.0793" stop-color="#ffd8d8"/><stop offset="0.0830" stop-color="#fff6f6"/><stop offset="0.0867" stop-color="#f4f4ff"/><stop offset="0.0941" stop-color="#d7d7ff"/><stop offset="0.1162" stop-color="#c4c4ff"/><stop offset="0.1494" stop-color="#c2c2ff"/><stop offset="0.1679" stop-color="#fdfdff"/><stop offset="0.1937" stop-color="#fff1f1"/><stop offset="0.3450" stop-color="#fff3f3"/><stop offset="0.3893" stop-color="#fefeff"/><stop offset="0.8801" stop-color="#ededff"/><stop offset="0.9982" stop-color="#dbdbff"/></linearGradient>
<linearGradient id="hb41" x1="0" x2="1" y1="0" y2="0"><stop offset="0.0018" stop-color="#ffeeee"/><stop offset="0.0351" stop-color="#ffd5d5"/><stop offset="0.0572" stop-color="#ff9f9f"/><stop offset="0.0683" stop-color="#ff8d8d"/><stop offset="0.0720" stop-color="#ff9494"/><stop offset="0.0756" stop-color="#ffabab"/><stop offset="0.0793" stop-color="#ffd6d6"/><stop offset="0.0830" stop-color="#fff6f6"/><stop offset="0.0867" stop-color="#f4f4ff"/><stop offset="0.0941" stop-color="#d7d7ff"/><stop offset="0.1162" stop-color="#c4c4ff"/><stop offset="0.1494" stop-color="#c2c2ff"/><stop offset="0.1679" stop-color="#fefeff"/><stop offset="0.1937" stop-color="#fff1f1"/><stop offset="0.3450" stop-color="#fff2f2"/><stop offset="0.3893" stop-color="#fefeff"/><stop offset="0.8801" stop-color="#ededff"/><stop offset="0.9982" stop-color="#dbdbff"/></linearGradient>
<linearGradient id="hb42" x1="0" x2="1" y1="0" y2="0"><stop offset="0.0018" stop-color="#ffeeee"/><stop offset="0.0351" stop-color="#ffd5d5"/><stop offset="0.0572" stop-color="#ff9b9b"/><stop offset="0.0683" stop-color="#ff8989"/><stop offset="0.0720" stop-color="#ff9191"/><stop offset="0.0756" stop-color="#ffa8a8"/><stop offset="0.0793" stop-color="#ffd5d5"/><stop offset="0.0830" stop-color="#fff6f6"/><stop offset="0.0867" stop-color="#f4f4ff"/><stop offset="0.0941" stop-color="#d6d6ff"/><stop offset="0.1162" stop-color="#c3c3ff"/><stop offset="0.1494" stop-color="#c1c1ff"/><stop offset="0.1679" stop-color="#fefeff"/><stop offset="0.1937" stop-color="#fff0f0"/><stop offset="0.3450" stop-color="#fff2f2"/><stop offset="0.3893" stop-color="#fefeff"/><stop offset="0.8801" stop-color="#ededff"/><stop offset="0.9982" stop-color="#dbdbff"/></linearGradient>
<linearGradient id="hb43" x1="0" x2="1" y1="0" y2="0"><stop offset="0.0018" stop-color="#ffeeee"/><stop offset="0.0351" stop-color="#ffd4d4"/><stop offset="0.0572" stop-color="#ff9999"/><stop offset="0.0683" stop-color="#ff8686"/><stop offset="0.0720" stop-color="#ff8e8e"/><stop offset="0.0756" stop-color="#ffa6a6"/><stop offset="0.0793" stop-color="#ffd4d4"/><stop offset="0.0830" stop-color="#fff6f6"/><stop offset="0.0867" stop-color="#f3f3ff"/><stop offset="0.0941" stop-color="#d5d5ff"/><stop offset="0.1162" stop-color="#c2c2ff"/><stop offset="0.1494" stop-color="#c0c0ff"/><stop offset="0.1605" stop-color="#e6e6ff"/><stop offset="0.1679" stop-color="#fefeff"/><stop offset="0.1900" stop-color="#fff0f0"/><stop offset="0.3450" stop-color="#fff1f1"/><stop offset="0.3893" stop-color="#fefeff"/><stop offset="0.8801" stop-color="#ededff"/><stop offset="0.9982" stop-color="#dbdbff"/></linearGradient>
<linearGradient id="hb44" x1="0" x2="1" y1="0" y2="0"><stop offset="0.0018" stop-color="#ffeeee"/><stop offset="0.0351" stop-color="#ffd4d4"/><stop offset="0.0572" stop-color="#ff9797"/><stop offset="0.0683" stop-color="#ff8585"/><stop offset="0.0720" stop-color="#ff8c8c"/><stop offset="0.0756" stop-color="#ffa4a4"/><stop offset="0.0793" stop-color="#ffd4d4"/><stop offset="0.0830" stop-color="#fff6f6"/><stop offset="0.0867" stop-color="#f3f3ff"/><stop offset="0.0941" stop-color="#d5d5ff"/><stop offset="0.1162" stop-color="#c2c2ff"/><stop offset="0.1494" stop-color="#bfbfff"/><stop offset="0.1605" stop-color="#e6e6ff"/><stop offset="0.1679" stop-color="#fefeff"/><stop offset="0.1900" stop-color="#fff0f0"/><stop offset="0.3450" stop-color="#fff1f1"/><stop offset="0.3893" stop-color="#fefeff"/><stop offset="0.8801" stop-color="#ededff"/><stop offset="0.9982" stop-color="#dbdbff"/></linearGradient>
<linearGradient id="hb45" x1="0" x2="1" y1="0" y2="0"><stop offset="0.0018" stop-color="#ffeeee"/><stop offset="0.0351" stop-color="#ffd4d4"/><stop offset="0.0572" stop-color="#ff9595"/><stop offset="0.0683" stop-color="#ff8383"/><stop offset="0.0720" stop-color="#ff8a8a"/><stop offset="0.0756" stop-color="#ffa2a2"/><stop offset="0.0793" stop-color="#ffd3d3"/><stop offset="0.0830" stop-color="#fff6f6"/><stop offset="0.0867" stop-color="#f3f3ff"/><stop offset="0.0941" stop-color="#d5d5ff"/><stop offset="0.1162" stop-color="#c1c1ff"/><stop offset="0.1494" stop-color="#bebeff"/><stop offset="0.1605" stop-color="#e6e6ff"/><stop offset="0.1679" stop-color="#ffffff"/><stop offset="0.1900" stop-color="#ffefef"/><stop offset="0.3450" stop-color="#fff0f0"/><stop offset="0.3893" stop-color="#fefeff"/><stop offset="0.8801" stop-color="#ededff"/><stop offset="0.9982" stop-color="#dbdbff"/></linearGradient>
<linearGradient id="hb46" x1="0" x2="1" y1="0" y2="0"><stop offset="0.0018" stop-color="#ffeeee"/><stop offset="0.0351" stop-color="#ffd4d4"/><stop offset="0.0646" stop-color="#ff8383"/><stop offset="0.0720" stop-color="#ff8888"/><stop offset="0.0756" stop-color="#ffa1a1"/><stop offset="0.0793" stop-color="#ffd3d3"/><stop offset="0.0830" stop-color="#fff6f6"/><stop offset="0.0867" stop-color="#f3f3ff"/><stop offset="0.0941" stop-color="#d4d4ff"/><stop offset="0.1162" stop-color="#c0c0ff"/><stop offset="0.1494" stop-color="#bdbdff"/><stop offset="0.1605" stop-color="#e6e6ff"/><stop offset="0.1679" stop-color="#ffffff"/><stop offset="0.1900" stop-color="#ffeeee"/><stop offset="0.3450" stop-color="#ffefef"/><stop offset="0.3893" stop-color="#fefeff"/><stop offset="0.8838" stop-color="#ededff"/><stop offset="0.9982" stop-color="#dbdbff"/></linearGradient>
<linearGradient id="hb47" x1="0" x2="1" y1="0" y2="0"><stop offset="0.0018" stop-color="#ffeeee"/><stop offset="0.0351" stop-color="#ffd4d4"/><stop offset="0.0609" stop-color="#ff8686"/><stop offset="0.0683" stop-color="#ff7f7f"/><stop offset="0.0720" stop-color="#ff8686"/><stop offset="0.0756" stop-color="#ff9f9f"/><stop offset="0.0793" stop-color="#ffd2d2"/><stop offset="0.0830" stop-color="#fff6f6"/><stop offset="0.0867" stop-color="#f3f3ff"/><stop offset="0.0941" stop-color="#d4d4ff"/><stop offset="0.1162" stop-color="#c0c0ff"/><stop offset="0.1494" stop-color="#bdbdff"/><stop offset="0.1568" stop-color="#d5d5ff"/><stop offset="0.1679" stop-color="#ffffff"/><stop offset="0.1863" stop-color="#ffeeee"/><stop offset="0.3413" stop-color="#ffecec"/><stop offset="0.3856" stop-color="#fefeff"/><stop offset="0.8838" stop-color="#ededff"/><stop offset="0.9982" stop-color="#dbdbff"/></linearGradient>
<linearGradient id="hb48" x1="0" x2="1" y1="0" y2="0"><stop offset="0.0018" stop-color="#ffeeee"/><stop offset="0.0351" stop-color="#ffd4d4"/><stop offset="0.0609" stop-color="#ff8585"/><stop offset="0.0683" stop-color="#ff7d7d"/><stop offset="0.0720" stop-color="#ff8585"/><stop offset="0.0756" stop-color="#ff9e9e"/><stop offset="0.0793" stop-color="#ffd1d1"/><stop offset="0.0830" stop-color="#fff6f6"/><stop offset="0.0867" stop-color="#f3f3ff"/><stop offset="0.0941" stop-color="#d3d3ff"/><stop offset="0.1162" stop-color="#bfbfff"/><stop offset="0.1494" stop-color="#bcbcff"/><stop offset="0.1568" stop-color="#d5d5ff"/><stop offset="0.1679" stop-color="#ffffff"/><stop offset="0.1863" stop-color="#ffeded"/><stop offset="0.3413" stop-color="#ffebeb"/><stop offset="0.3856" stop-color="#fefeff"/><stop offset="0.8838" stop-color="#ededff"/><stop offset="0.9982" stop-color="#dbdbff"/></linearGradient>
<linearGradient id="hb49" x1="0" x2="1" y1="0" y2="0"><stop offset="0.0018" stop-color="#ffeeee"/><stop offset="0.0351" stop-color="#ffd4d4"/><stop offset="0.0609" stop-color="#ff8383"/><stop offset="0.0683" stop-color="#ff7c7c"/><stop offset="0.0720" stop-color="#ff8383"/><stop offset="0.0756" stop-color="#ff9c9c"/><stop offset="0.0793" stop-color="#ffd1d1"/><stop offset="0.0830" stop-color="#fff6f6"/><stop offset="0.0867" stop-color="#f3f3ff"/><stop offset="0.0941" stop-color="#d3d3ff"/><stop offset="0.1162" stop-color="#bebeff"/><stop offset="0.1494" stop-color="#bbbbff"/><stop offset="0.1568" stop-color="#d4d4ff"/><stop offset="0.1642" stop-color="#f6f6ff"/><stop offset="0.1679" stop-color="#fffefe"/><stop offset="0.1863" stop-color="#ffecec"/><stop offset="0.3413" stop-color="#ffeaea"/><stop offset="0.3856" stop-color="#fefeff"/><stop offset="0.8838" stop-color="#ededff"/><stop offset="0.9982" stop-color="#dbdbff"/></linearGradient>
<linearGradient id="hb50" x1="0" x2="1" y1="0" y2="0"><stop offset="0.0018" stop-color="#ffeeee"/><stop offset="0.0351" stop-color="#ffd3d3"/><stop offset="0.0609" stop-color="#ff8181"/><stop offset="0.0683" stop-color="#ff7a7a"/><stop offset="0.0720" stop-color="#ff8181"/><stop offset="0.0756" stop-color="#ff9b9b"/><stop offset="0.0793" stop-color="#ffd0d0"/><stop offset="0.0830" stop-color="#fff6f6"/><stop offset="0.0867" stop-color="#f3f3ff"/><stop offset="0.0941" stop-color="#d2d2ff"/><stop offset="0.1162" stop-color="#bebeff"/><stop offset="0.1494" stop-color="#babaff"/><stop offset="0.1568" stop-color="#d4d4ff"/><stop offset="0.1642" stop-color="#f6f6ff"/><stop offset="0.1679" stop-color="#fffefe"/><stop offset="0.1863" stop-color="#ffecec"/><stop offset="0.3376" stop-color="#ffe7e7"/><stop offset="0.3856" stop-color="#ffffff"/><stop offset="0.8875" stop-color="#ececff"/><stop offset="0.9982" stop-color="#dbdbff"/></linearGradient>
<linearGradient id="hb51" x1="0" x2="1" y1="0" y2="0"><stop offset="0.0018" stop-color="#ffeeee"/><stop offset="0.0351" stop-color="#ffd3d3"/><stop offset="0.0535" stop-color="#ff9999"/><stop offset="0.0609" stop-color="#ff7f7f"/><stop offset="0.0683" stop-color="#ff7878"/><stop offset="0.0720" stop-color="#ff7f7f"/><stop offset="0.0756" stop-color="#ff9999"/><stop offset="0.0793" stop-color="#ffd0d0"/><stop offset="0.0830" stop-color="#fff6f6"/><stop offset="0.0867" stop-color="#f3f3ff"/><stop offset="0.0941" stop-color="#d2d2ff"/><stop offset="0.1162" stop-color="#bdbdff"/><stop offset="0.1494" stop-color="#babaff"/><stop offset="0.1568" stop-color="#d3d3ff"/><stop offset="0.1642" stop-color="#f6f6ff"/><stop offset="0.1679" stop-color="#fffefe"/><stop offset="0.1863" stop-color="#ffebeb"/><stop offset="0.3376" stop-color="#ffe6e6"/><stop offset="0.3856" stop-color="#ffffff"/><stop offset="0.8875" stop-color="#ececff"/><stop offset="0.9982" stop-color="#dbdbff"/></linearGradient>
<linearGradient id="hb52" x1="0" x2="1" y1="0" y2="0"><stop offset="0.0018" stop-color="#ffeeee"/><stop offset="0.0351" stop-color="#ffd3d3"/><stop offset="0.0535" stop-color="#ff9797"/><stop offset="0.0609" stop-color="#ff7d7d"/><stop offset="0.0683" stop-color="#ff7676"/><stop offset="0.0720" stop-color="#ff7d7d"/><stop offset="0.0756" stop-color="#ff9797"/><stop offset="0.0793" stop-color="#ffcfcf"/><stop offset="0.0830" stop-color="#fff6f6"/><stop offset="0.0867" stop-color="#f2f2ff"/><stop offset="0.0941" stop-color="#d1d1ff"/><stop offset="0.1125" stop-color="#bebeff"/><stop offset="0.1458" stop-color="#b8b8ff"/><stop offset="0.1531" stop-color="#c2c2ff"/><stop offset="0.1642" stop-color="#f6f6ff"/><stop offset="0.1679" stop-color="#fffdfd"/><stop offset="0.1863" stop-color="#ffeaea"/><stop offset="0.3376" stop-color="#ffe5e5"/><stop offset="0.3893" stop-color="#ffffff"/><stop offset="0.8911" stop-color="#ececff"/><stop offset="0.9982" stop-color="#dbdbff"/></linearGradient>
<linearGradient id="hb53" x1="0" x2="1" y1="0" y2="0"><stop offset="0.0018" stop-color="#ffeeee"/><stop offset="0.0351" stop-color="#ffd3d3"/><stop offset="0.0535" stop-color="#ff9595"/><stop offset="0.0609" stop-color="#ff7a7a"/><stop offset="0.0683" stop-color="#ff7373"/><stop offset="0.0720" stop-color="#ff7a7a"/><stop offset="0.0756" stop-color="#ff9595"/><stop offset="0.0793" stop-color="#ffcece"/><stop offset="0.0830" stop-color="#fff6f6"/><stop offset="0.0867" stop-color="#f2f2ff"/><stop offset="0.0941" stop-color="#d0d0ff"/><stop offset="0.1125" stop-color="#bcbcff"/><stop offset="0.1458" stop-color="#b6b6ff"/><stop offset="0.1531" stop-color="#c0c0ff"/><stop offset="0.1642" stop-color="#f6f6ff"/><stop offset="0.1679" stop-color="#fffdfd"/><stop offset="0.1863" stop-color="#ffe9e9"/><stop offset="0.3339" stop-color="#ffe3e3"/><stop offset="0.3893" stop-color="#ffffff"/><stop offset="0.8875" stop-color="#ececff"/><stop offset="0.9982" stop-color="#dbdbff"/></linearGradient>
<linearGradient id="hb54" x1="0" x2="1" y1="0" y2="0"><stop offset="0.0018" stop-color="#ffeeee"/><stop offset="0.0351" stop-color="#ffd3d3"/><stop offset="0.0535" stop-color="#ff9393"/><stop offset="0.0609" stop-color="#ff7777"/><stop offset="0.0683" stop-color="#ff7171"/><stop offset="0.0720" stop-color="#ff7777"/><stop offset="0.0756" stop-color="#ff9393"/><stop offset="0.0793" stop-color="#ffcdcd"/><stop offset="0.0830" stop-color="#fff4f4"/><stop offset="0.0867" stop-color="#f2f2ff"/><stop offset="0.0941" stop-color="#cfcfff"/><stop offset="0.1125" stop-color="#babaff"/><stop offset="0.1458" stop-color="#b4b4ff"/><stop offset="0.1531" stop-color="#bfbfff"/><stop offset="0.1642" stop-color="#f6f6ff"/><stop offset="0.1679" stop-color="#fffdfd"/><stop offset="0.1863" stop-color="#ffe8e8"/><stop offset="0.3339" stop-color="#ffe2e2"/><stop offset="0.3893" stop-color="#ffffff"/><stop offset="0.8838" stop-color="#ededff"/><stop offset="0.9982" stop-color="#dbdbff"/></linearGradient>
<linearGradient id="hb55" x1="0" x2="1" y1="0" y2="0"><stop offset="0.0018" stop-color="#ffeeee"/><stop offset="0.0314" stop-color="#ffd8d8"/><stop offset="0.0461" stop-color="#ffaeae"/><stop offset="0.0609" stop-color="#ff7474"/><stop offset="0.0683" stop-color="#ff6e6e"/><stop offset="0.0720" stop-color="#ff7474"/><stop offset="0.0756" stop-color="#ff9090"/><stop offset="0.0793" stop-color="#ffcccc"/><stop offset="0.0830" stop-color="#fff2f2"/><stop offset="0.0867" stop-color="#f2f2ff"/><stop offset="0.0941" stop-color="#ceceff"/><stop offset="0.1089" stop-color="#babaff"/><stop offset="0.1458" stop-color="#b2b2ff"/><stop offset="0.1531" stop-color="#bdbdff"/><stop offset="0.1642" stop-color="#f7f7ff"/><stop offset="0.1679" stop-color="#fffcfc"/><stop offset="0.1863" stop-color="#ffe8e8"/><stop offset="0.3266" stop-color="#ffe0e0"/><stop offset="0.3598" stop-color="#fff3f3"/><stop offset="0.3967" stop-color="#fffefe"/><stop offset="0.8838" stop-color="#ededff"/><stop offset="0.9982" stop-color="#dbdbff"/></linearGradient>
<linearGradient id="hb56" x1="0" x2="1" y1="0" y2="0"><stop offset="0.0018" stop-color="#ffeeee"/><stop offset="0.0314" stop-color="#ffd6d6"/><stop offset="0.0424" stop-color="#ffbaba"/><stop offset="0.0609" stop-color="#ff7272"/><stop offset="0.0683" stop-color="#ff6b6b"/><stop offset="0.0720" stop-color="#ff7272"/><stop offset="0.0756" stop-color="#ff8e8e"/><stop offset="0.0793" stop-color="#ffcbcb"/><stop offset="0.0830" stop-color="#fff1f1"/><stop offset="0.0867" stop-color="#f4f4ff"/><stop offset="0.0941" stop-color="#cdcdff"/><stop offset="0.1089" stop-color="#b9b9ff"/><stop offset="0.1458" stop-color="#b0b0ff"/><stop offset="0.1531" stop-color="#bbbbff"/><stop offset="0.1642" stop-color="#f7f7ff"/><stop offset="0.1679" stop-color="#fffcfc"/><stop offset="0.1863" stop-color="#ffe7e7"/><stop offset="0.3155" stop-color="#ffdfdf"/><stop offset="0.3450" stop-color="#ffe6e6"/><stop offset="0.3856" stop-color="#fffefe"/><stop offset="0.8616" stop-color="#efefff"/><stop offset="0.9982" stop-color="#dbdbff"/></linearGradient>
<linearGradient id="hb57" x1="0" x2="1" y1="0" y2="0"><stop offset="0.0018" stop-color="#ffeeee"/><stop offset="0.0277" stop-color="#ffdcdc"/><stop offset="0.0424" stop-color="#ffb9b9"/><stop offset="0.0609" stop-color="#ff6f6f"/><stop offset="0.0683" stop-color="#ff6969"/><stop offset="0.0720" stop-color="#ff6f6f"/><stop offset="0.0756" stop-color="#ff8c8c"/><stop offset="0.0793" stop-color="#ffcbcb"/><stop offset="0.0830" stop-color="#ffefef"/><stop offset="0.0867" stop-color="#f6f6ff"/><stop offset="0.0941" stop-color="#ccccff"/><stop offset="0.1089" stop-color="#b7b7ff"/><stop offset="0.1458" stop-color="#aeaeff"/><stop offset="0.1531" stop-color="#babaff"/><stop offset="0.1642" stop-color="#f7f7ff"/><stop offset="0.1679" stop-color="#fffcfc"/><stop offset="0.1863" stop-color="#ffe6e6"/><stop offset="0.3081" stop-color="#ffdede"/><stop offset="0.3450" stop-color="#ffe5e5"/><stop offset="0.3856" stop-color="#fffefe"/><stop offset="0.8173" stop-color="#f2f2ff"/><stop offset="0.9982" stop-color="#dbdbff"/></linearGradient>
<linearGradient id="hb58" x1="0" x2="1" y1="0" y2="0"><stop offset="0.0018" stop-color="#ffeeee"/><stop offset="0.0277" stop-color="#ffdada"/><stop offset="0.0424" stop-color="#ffb8b8"/><stop offset="0.0609" stop-color="#ff6c6c"/><stop offset="0.0683" stop-color="#ff6666"/><stop offset="0.0720" stop-color="#ff6c6c"/><stop offset="0.0756" stop-color="#ff8a8a"/><stop offset="0.0793" stop-color="#ffcaca"/><stop offset="0.0830" stop-color="#ffeded"/><stop offset="0.0867" stop-color="#f8f8ff"/><stop offset="0.0941" stop-color="#cbcbff"/><stop offset="0.1089" stop-color="#b6b6ff"/><stop offset="0.1458" stop-color="#acacff"/><stop offset="0.1531" stop-color="#b8b8ff"/><stop offset="0.1642" stop-color="#f7f7ff"/><stop offset="0.1679" stop-color="#fffbfb"/><stop offset="0.1863" stop-color="#ffe5e5"/><stop offset="0.3007" stop-color="#ffdddd"/><stop offset="0.3450" stop-color="#ffe3e3"/><stop offset="0.3856" stop-color="#fffdfd"/><stop offset="0.7731" stop-color="#f4f4ff"/><stop offset="0.9908" stop-color="#dcdcff"/><stop offset="0.9982" stop-color="#dbdbff"/></linearGradient>
<linearGradient id="hb59" x1="0" x2="1" y1="0" y2="0"><stop offset="0.0018" stop-color="#ffeeee"/><stop offset="0.0277" stop-color="#ffd8d8"/><stop offset="0.0387" stop-color="#ffc5c5"/><stop offset="0.0609" stop-color="#ff6969"/><stop offset="0.0683" stop-color="#ff6464"/><stop offset="0.0720" stop-color="#ff6969"/><stop offset="0.0756" stop-color="#ff8787"/><stop offset="0.0793" stop-color="#ffc9c9"/><stop offset="0.0830" stop-color="#ffecec"/><stop offset="0.0867" stop-color="#f9f9ff"/><stop offset="0.0941" stop-color="#cacaff"/><stop offset="0.1089" stop-color="#b4b4ff"/><stop offset="0.1458" stop-color="#aaaaff"/><stop offset="0.1531" stop-color="#b6b6ff"/><stop offset="0.1642" stop-color="#f8f8ff"/><stop offset="0.1679" stop-color="#fffbfb"/><stop offset="0.1827" stop-color="#ffe4e4"/><stop offset="0.2823" stop-color="#ffdada"/><stop offset="0.3413" stop-color="#ffdede"/><stop offset="0.3856" stop-color="#fffdfd"/><stop offset="0.7325" stop-color="#f6f6ff"/><stop offset="0.9723" stop-color="#dfdfff"/><stop offset="0.9982" stop-color="#dbdbff"/></linearGradient>
<linearGradient id="hb60" x1="0" x2="1" y1="0" y2="0"><stop offset="0.0018" stop-color="#ffeeee"/><stop offset="0.0240" stop-color="#ffdede"/><stop offset="0.0387" stop-color="#ffc4c4"/><stop offset="0.0609" stop-color="#ff6666"/><stop offset="0.0683" stop-color="#ff6161"/><stop offset="0.0720" stop-color="#ff6666"/><stop offset="0.0756" stop-color="#ff8585"/><stop offset="0.0793" stop-color="#ffc8c8"/><stop offset="0.0830" stop-color="#ffeaea"/><stop offset="0.0867" stop-color="#fbfbff"/><stop offset="0.0941" stop-color="#cbcbff"/><stop offset="0.1015" stop-color="#babaff"/><stop offset="0.1384" stop-color="#a7a7ff"/><stop offset="0.1494" stop-color="#aaaaff"/><stop offset="0.1531" stop-color="#b5b5ff"/><stop offset="0.1642" stop-color="#f8f8ff"/><stop offset="0.1716" stop-color="#fff2f2"/><stop offset="0.1863" stop-color="#ffe1e1"/><stop offset="0.2823" stop-color="#ffd8d8"/><stop offset="0.3413" stop-color="#ffdbdb"/><stop offset="0.3856" stop-color="#fffcfc"/><stop offset="0.6919" stop-color="#f8f8ff"/><stop offset="0.9576" stop-color="#e2e2ff"/><stop offset="0.9982" stop-color="#dbdbff"/></linearGradient>
<linearGradient id="hb61" x1="0" x2="1" y1="0" y2="0"><stop offset="0.0018" stop-color="#ffeeee"/><stop offset="0.0240" stop-color="#ffdcdc"/><stop offset="0.0424" stop-color="#ffb5b5"/><stop offset="0.0609" stop-color="#ff6464"/><stop offset="0.0683" stop-color="#ff5e5e"/><stop offset="0.0720" stop-color="#ff6464"/><stop offset="0.0756" stop-color="#ff8383"/><stop offset="0.0793" stop-color="#ffc7c7"/><stop offset="0.0830" stop-color="#ffe8e8"/><stop offset="0.0867" stop-color="#fdfdff"/><stop offset="0.0978" stop-color="#bdbdff"/><stop offset="0.1347" stop-color="#a5a5ff"/><stop offset="0.1494" stop-color="#a8a8ff"/><stop offset="0.1531" stop-color="#b3b3ff"/><stop offset="0.1642" stop-color="#f9f9ff"/><stop offset="0.1716" stop-color="#fff2f2"/><stop offset="0.1863" stop-color="#ffe0e0"/><stop offset="0.2749" stop-color="#ffd5d5"/><stop offset="0.3413" stop-color="#ffd9d9"/><stop offset="0.3819" stop-color="#fffcfc"/><stop offset="0.6697" stop-color="#f9f9ff"/><stop offset="0.9539" stop-color="#e3e3ff"/><stop offset="0.9982" stop-color="#dbdbff"/></linearGradient>
<linearGradient id="hb62" x1="0" x2="1" y1="0" y2="0"><stop offset="0.0018" stop-color="#ffeeee"/><stop offset="0.0203" stop-color="#ffe2e2"/><stop offset="0.0424" stop-color="#ffb4b4"/><stop offset="0.0609" stop-color="#ff6161"/><stop offset="0.0683" stop-color="#ff5b5b"/><stop offset="0.0720" stop-color="#ff6161"/><stop offset="0.0756" stop-color="#ff8080"/><stop offset="0.0793" stop-color="#ffc6c6"/><stop offset="0.0867" stop-color="#ffffff"/><stop offset="0.0978" stop-color="#bdbdff"/><stop offset="0.1273" stop-color="#a5a5ff"/><stop offset="0.1494" stop-color="#a6a6ff"/><stop offset="0.1531" stop-color="#b1b1ff"/><stop offset="0.1642" stop-color="#f9f9ff"/><stop offset="0.1753" stop-color="#ffe9e9"/><stop offset="0.1937" stop-color="#ffdcdc"/><stop offset="0.2860" stop-color="#ffd3d3"/><stop offset="0.3413" stop-color="#ffd7d7"/><stop offset="0.3819" stop-color="#fffbfb"/><stop offset="0.6587" stop-color="#fafaff"/><stop offset="0.9539" stop-color="#e3e3ff"/><stop offset="0.9982" stop-color="#dbdbff"/></linearGradient>
<linearGradient id="hb63" x1="0" x2="1" y1="0" y2="0"><stop offset="0.0018" stop-color="#ffeeee"/><stop offset="0.0203" stop-color="#ffe0e0"/><stop offset="0.0424" stop-color="#ffb1b1"/><stop offset="0.0609" stop-color="#ff5e5e"/><stop offset="0.0683" stop-color="#ff5959"/><stop offset="0.0720" stop-color="#ff5e5e"/><stop offset="0.0756" stop-color="#ff7e7e"/><stop offset="0.0793" stop-color="#ffc3c3"/><stop offset="0.0867" stop-color="#fffefe"/><stop offset="0.0978" stop-color="#bfbfff"/><stop offset="0.1125" stop-color="#ababff"/><stop offset="0.1458" stop-color="#a3a3ff"/><stop offset="0.1494" stop-color="#a4a4ff"/><stop offset="0.1531" stop-color="#b0b0ff"/><stop offset="0.1642" stop-color="#f9f9ff"/><stop offset="0.1827" stop-color="#ffdddd"/><stop offset="0.2638" stop-color="#ffd0d0"/><stop offset="0.3413" stop-color="#ffd5d5"/><stop offset="0.3819" stop-color="#fffafa"/><stop offset="0.6550" stop-color="#fafaff"/><stop offset="0.9539" stop-color="#e3e3ff"/><stop offset="0.9982" stop-color="#dbdbff"/></linearGradient>
<linearGradient id="hb64" x1="0" x2="1" y1="0" y2="0"><stop offset="0.0018" stop-color="#ffeeee"/><stop offset="0.0203" stop-color="#ffdede"/><stop offset="0.0461" stop-color="#ffa2a2"/><stop offset="0.0572" stop-color="#ff6767"/><stop offset="0.0646" stop-color="#ff5858"/><stop offset="0.0720" stop-color="#ff5b5b"/><stop offset="0.0756" stop-color="#ff7c7c"/><stop offset="0.0793" stop-color="#ffbebe"/><stop offset="0.0867" stop-color="#fff8f8"/><stop offset="0.0978" stop-color="#c1c1ff"/><stop offset="0.1052" stop-color="#afafff"/><stop offset="0.1384" stop-color="#9f9fff"/><stop offset="0.1494" stop-color="#a1a1ff"/><stop offset="0.1531" stop-color="#aeaeff"/><stop offset="0.1642" stop-color="#fafaff"/><stop offset="0.1827" stop-color="#ffdcdc"/><stop offset="0.2601" stop-color="#ffcece"/><stop offset="0.3413" stop-color="#ffd2d2"/><stop offset="0.3819" stop-color="#fff9f9"/><stop offset="0.6513" stop-color="#fafaff"/><stop offset="0.9539" stop-color="#e3e3ff"/><stop offset="0.9982" stop-color="#dbdbff"/></linearGradient>
<linearGradient id="hb65" x1="0" x2="1" y1="0" y2="0"><stop offset="0.0018" stop-color="#ffeeee"/><stop offset="0.0166" stop-color="#ffe5e5"/><stop offset="0.0461" stop-color="#ffa0a0"/><stop offset="0.0572" stop-color="#ff6565"/><stop offset="0.0646" stop-color="#ff5555"/><stop offset="0.0720" stop-color="#ff5858"/><stop offset="0.0756" stop-color="#ff7979"/><stop offset="0.0793" stop-color="#ffb9b9"/><stop offset="0.0867" stop-color="#fff2f2"/><stop offset="0.0904" stop-color="#ebebff"/><stop offset="0.0978" stop-color="#c2c2ff"/><stop offset="0.1089" stop-color="#a9a9ff"/><stop offset="0.1421" stop-color="#9c9cff"/><stop offset="0.1494" stop-color="#9e9eff"/><stop offset="0.1531" stop-color="#ababff"/><stop offset="0.1642" stop-color="#f5f5ff"/><stop offset="0.1679" stop-color="#fff7f7"/><stop offset="0.1827" stop-color="#ffdada"/><stop offset="0.2601" stop-color="#ffcbcb"/><stop offset="0.3413" stop-color="#ffd0d0"/><stop offset="0.3819" stop-color="#fff8f8"/><stop offset="0.6476" stop-color="#fbfbff"/><stop offset="0.9539" stop-color="#e3e3ff"/><stop offset="0.9982" stop-color="#dbdbff"/></linearGradient>
<linearGradient id="hb66" x1="0" x2="1" y1="0" y2="0"><stop offset="0.0018" stop-color="#ffeeee"/><stop offset="0.0166" stop-color="#ffe4e4"/><stop offset="0.0498" stop-color="#ff8c8c"/><stop offset="0.0572" stop-color="#ff6262"/><stop offset="0.0646" stop-color="#ff5252"/><stop offset="0.0720" stop-color="#ff5555"/><stop offset="0.0756" stop-color="#ff7777"/><stop offset="0.0793" stop-color="#ffb4b4"/><stop offset="0.0867" stop-color="#ffecec"/><stop offset="0.0904" stop-color="#f1f1ff"/><stop offset="0.0941" stop-color="#d4d4ff"/><stop offset="0.1052" stop-color="#aaaaff"/><stop offset="0.1384" stop-color="#9898ff"/><stop offset="0.1494" stop-color="#9b9bff"/><stop offset="0.1531" stop-color="#a8a8ff"/><stop offset="0.1642" stop-color="#f0f0ff"/><stop offset="0.1679" stop-color="#fffbfb"/><stop offset="0.1790" stop-color="#ffdddd"/><stop offset="0.2491" stop-color="#ffc9c9"/><stop offset="0.3413" stop-color="#ffcdcd"/><stop offset="0.3819" stop-color="#fff7f7"/><stop offset="0.6476" stop-color="#fbfbff"/><stop offset="0.9576" stop-color="#e2e2ff"/><stop offset="0.9982" stop-color="#dbdbff"/></linearGradient>
<linearGradient id="hb67" x1="0" x2="1" y1="0" y2="0"><stop offset="0.0018" stop-color="#ffeeee"/><stop offset="0.0166" stop-color="#ffe1e1"/><stop offset="0.0535" stop-color="#ff7575"/><stop offset="0.0609" stop-color="#ff5252"/><stop offset="0.0720" stop-color="#ff5252"/><stop offset="0.0756" stop-color="#ff7575"/><stop offset="0.0793" stop-color="#ffaeae"/><stop offset="0.0867" stop-color="#ffe6e6"/><stop offset="0.0904" stop-color="#f8f8ff"/><stop offset="0.0978" stop-color="#c4c4ff"/><stop offset="0.1052" stop-color="#a9a9ff"/><stop offset="0.1347" stop-color="#9595ff"/><stop offset="0.1494" stop-color="#9797ff"/><stop offset="0.1531" stop-color="#a5a5ff"/><stop offset="0.1642" stop-color="#ebebff"/><stop offset="0.1679" stop-color="#fdfdff"/><stop offset="0.1790" stop-color="#ffdbdb"/><stop offset="0.2491" stop-color="#ffc7c7"/><stop offset="0.3413" stop-color="#ffcbcb"/><stop offset="0.3819" stop-color="#fff5f5"/><stop offset="0.6402" stop-color="#fcfcff"/><stop offset="0.9576" stop-color="#e2e2ff"/><stop offset="0.9982" stop-color="#dbdbff"/></linearGradient>
<linearGradient id="hb68" x1="0" x2="1" y1="0" y2="0"><stop offset="0.0018" stop-color="#ffeeee"/><stop offset="0.0166" stop-color="#ffdfdf"/><stop offset="0.0461" stop-color="#ff7d7d"/><stop offset="0.0535" stop-color="#ff6f6f"/><stop offset="0.0609" stop-color="#ff5050"/><stop offset="0.0720" stop-color="#ff5050"/><stop offset="0.0756" stop-color="#ff7272"/><stop offset="0.0793" stop-color="#ff9f9f"/><stop offset="0.0904" stop-color="#ffffff"/><stop offset="0.0978" stop-color="#c5c5ff"/><stop offset="0.1089" stop-color="#a1a1ff"/><stop offset="0.1384" stop-color="#9292ff"/><stop offset="0.1494" stop-color="#9494ff"/><stop offset="0.1531" stop-color="#a2a2ff"/><stop offset="0.1679" stop-color="#f8f8ff"/><stop offset="0.1716" stop-color="#fff6f6"/><stop offset="0.1790" stop-color="#ffd9d9"/><stop offset="0.2454" stop-color="#ffc3c3"/><stop offset="0.3413" stop-color="#ffc7c7"/><stop offset="0.3819" stop-color="#fff2f2"/><stop offset="0.6402" stop-color="#fcfcff"/><stop offset="0.9576" stop-color="#e2e2ff"/><stop offset="0.9982" stop-color="#dbdbff"/></linearGradient>
<linearGradient id="hb69" x1="0" x2="1" y1="0" y2="0"><stop offset="0.0018" stop-color="#ffeeee"/><stop offset="0.0129" stop-color="#ffe7e7"/><stop offset="0.0277" stop-color="#ffb4b4"/><stop offset="0.0387" stop-color="#ff8585"/><stop offset="0.0609" stop-color="#ff4d4d"/><stop offset="0.0720" stop-color="#ff4d4d"/><stop offset="0.0904" stop-color="#fff9f9"/><stop offset="0.0941" stop-color="#e9e9ff"/><stop offset="0.1015" stop-color="#bbbbff"/><stop offset="0.1089" stop-color="#9e9eff"/><stop offset="0.1384" stop-color="#8f8fff"/><stop offset="0.1494" stop-color="#9191ff"/><stop offset="0.1605" stop-color="#c3c3ff"/><stop offset="0.1642" stop-color="#e1e1ff"/><stop offset="0.1679" stop-color="#f3f3ff"/><stop offset="0.1716" stop-color="#fffbfb"/><stop offset="0.1790" stop-color="#ffd6d6"/><stop offset="0.2454" stop-color="#ffbebe"/><stop offset="0.3376" stop-color="#ffbfbf"/><stop offset="0.3819" stop-color="#ffeeee"/><stop offset="0.6402" stop-color="#fcfcff"/><stop offset="0.9576" stop-color="#e2e2ff"/><stop offset="0.9982" stop-color="#dbdbff"/></linearGradient>
<linearGradient id="hb70" x1="0" x2="1" y1="0" y2="0"><stop offset="0.0018" stop-color="#ffeeee"/><stop offset="0.0129" stop-color="#ffe6e6"/><stop offset="0.0277" stop-color="#ffaaaa"/><stop offset="0.0351" stop-color="#ff8282"/><stop offset="0.0498" stop-color="#ff5555"/><stop offset="0.0646" stop-color="#ff4141"/><stop offset="0.0720" stop-color="#ff4a4a"/><stop offset="0.0830" stop-color="#ff9e9e"/><stop offset="0.0867" stop-color="#ffc3c3"/><stop offset="0.0904" stop-color="#fff2f2"/><stop offset="0.0941" stop-color="#f0f0ff"/><stop offset="0.1015" stop-color="#bcbcff"/><stop offset="0.1089" stop-color="#9c9cff"/><stop offset="0.1384" stop-color="#8b8bff"/><stop offset="0.1494" stop-color="#8c8cff"/><stop offset="0.1568" stop-color="#a1a1ff"/><stop offset="0.1642" stop-color="#d1d1ff"/><stop offset="0.1716" stop-color="#fefeff"/><stop offset="0.1827" stop-color="#ffcece"/><stop offset="0.2491" stop-color="#ffbaba"/><stop offset="0.3376" stop-color="#ffbaba"/><stop offset="0.3819" stop-color="#ffebeb"/><stop offset="0.6439" stop-color="#fcfcff"/><stop offset="0.9613" stop-color="#e2e2ff"/><stop offset="0.9982" stop-color="#dbdbff"/></linearGradient>
<linearGradient id="hb71" x1="0" x2="1" y1="0" y2="0"><stop offset="0.0018" stop-color="#ffeeee"/><stop offset="0.0129" stop-color="#ffe3e3"/><stop offset="0.0240" stop-color="#ffb4b4"/><stop offset="0.0314" stop-color="#ff8282"/><stop offset="0.0461" stop-color="#ff4646"/><stop offset="0.0646" stop-color="#ff2e2e"/><stop offset="0.0720" stop-color="#ff3a3a"/><stop offset="0.0756" stop-color="#ff4c4c"/><stop offset="0.0867" stop-color="#ffaeae"/><stop offset="0.0904" stop-color="#ffdbdb"/><stop offset="0.0941" stop-color="#f8f8ff"/><stop offset="0.1089" stop-color="#9e9eff"/><stop offset="0.1273" stop-color="#8b8bff"/><stop offset="0.1494" stop-color="#8080ff"/><stop offset="0.1568" stop-color="#9494ff"/><stop offset="0.1642" stop-color="#c2c2ff"/><stop offset="0.1716" stop-color="#f7f7ff"/><stop offset="0.1753" stop-color="#fff4f4"/><stop offset="0.1827" stop-color="#ffd1d1"/><stop offset="0.1974" stop-color="#ffc3c3"/><stop offset="0.2528" stop-color="#ffb5b5"/><stop offset="0.3376" stop-color="#ffb6b6"/><stop offset="0.3819" stop-color="#ffe6e6"/><stop offset="0.6439" stop-color="#fcfcff"/><stop offset="0.9613" stop-color="#e2e2ff"/><stop offset="0.9982" stop-color="#dbdbff"/></linearGradient>
<linearGradient id="hb72" x1="0" x2="1" y1="0" y2="0"><stop offset="0.0018" stop-color="#ffeeee"/><stop offset="0.0129" stop-color="#ffe0e0"/><stop offset="0.0240" stop-color="#ffa2a2"/><stop offset="0.0351" stop-color="#ff5757"/><stop offset="0.0461" stop-color="#ff2d2d"/><stop offset="0.0646" stop-color="#ff1e1e"/><stop offset="0.0720" stop-color="#ff2626"/><stop offset="0.0756" stop-color="#ff3535"/><stop offset="0.0830" stop-color="#ff7171"/><stop offset="0.0941" stop-color="#ffefef"/><stop offset="0.0978" stop-color="#e8e8ff"/><stop offset="0.1052" stop-color="#b3b3ff"/><stop offset="0.1125" stop-color="#9292ff"/><stop offset="0.1421" stop-color="#7e7eff"/><stop offset="0.1494" stop-color="#7070ff"/><stop offset="0.1568" stop-color="#8484ff"/><stop offset="0.1753" stop-color="#fffbfb"/><stop offset="0.1863" stop-color="#ffcbcb"/><stop offset="0.2122" stop-color="#ffb9b9"/><stop offset="0.2638" stop-color="#ffb0b0"/><stop offset="0.3376" stop-color="#ffb1b1"/><stop offset="0.3524" stop-color="#ffc4c4"/><stop offset="0.3708" stop-color="#ffd6d6"/><stop offset="0.3930" stop-color="#ffe1e1"/><stop offset="0.6439" stop-color="#fdfdff"/><stop offset="0.9613" stop-color="#e2e2ff"/><stop offset="0.9982" stop-color="#dbdbff"/></linearGradient>
<linearGradient id="hb73" x1="0" x2="1" y1="0" y2="0"><stop offset="0.0018" stop-color="#ffeeee"/><stop offset="0.0092" stop-color="#ffe9e9"/><stop offset="0.0166" stop-color="#ffc8c8"/><stop offset="0.0203" stop-color="#ffb3b3"/><stop offset="0.0314" stop-color="#ff5252"/><stop offset="0.0387" stop-color="#ff2b2b"/><stop offset="0.0572" stop-color="#ff1515"/><stop offset="0.0720" stop-color="#ff1919"/><stop offset="0.0793" stop-color="#ff3434"/><stop offset="0.0830" stop-color="#ff4f4f"/><stop offset="0.0867" stop-color="#ff7777"/><stop offset="0.0941" stop-color="#ffd5d5"/><stop offset="0.0978" stop-color="#fafaff"/><stop offset="0.1089" stop-color="#a4a4ff"/><stop offset="0.1125" stop-color="#8f8fff"/><stop offset="0.1347" stop-color="#8282ff"/><stop offset="0.1458" stop-color="#6060ff"/><stop offset="0.1494" stop-color="#5c5cff"/><stop offset="0.1568" stop-color="#6e6eff"/><stop offset="0.1605" stop-color="#8181ff"/><stop offset="0.1753" stop-color="#efefff"/><stop offset="0.1790" stop-color="#ffeeee"/><stop offset="0.1900" stop-color="#ffc4c4"/><stop offset="0.2417" stop-color="#ffacac"/><stop offset="0.3376" stop-color="#ffacac"/><stop offset="0.3524" stop-color="#ffbebe"/><stop offset="0.3635" stop-color="#ffc7c7"/><stop offset="0.3856" stop-color="#ffdbdb"/><stop offset="0.5738" stop-color="#fff4f4"/><stop offset="0.6476" stop-color="#fcfcff"/><stop offset="0.9613" stop-color="#e2e2ff"/><stop offset="0.9982" stop-color="#dbdbff"/></linearGradient>
<linearGradient id="hb74" x1="0" x2="1" y1="0" y2="0"><stop offset="0.0018" stop-color="#ffeeee"/><stop offset="0.0092" stop-color="#ffe9e9"/><stop offset="0.0129" stop-color="#ffd9d9"/><stop offset="0.0203" stop-color="#ff9d9d"/><stop offset="0.0314" stop-color="#ff3333"/><stop offset="0.0424" stop-color="#ff1414"/><stop offset="0.0646" stop-color="#ff0808"/><stop offset="0.0756" stop-color="#ff1414"/><stop offset="0.0830" stop-color="#ff3030"/><stop offset="0.0867" stop-color="#ff4f4f"/><stop offset="0.0941" stop-color="#ffb8b8"/><stop offset="0.0978" stop-color="#ffe5e5"/><stop offset="0.1015" stop-color="#e5e5ff"/><stop offset="0.1125" stop-color="#8d8dff"/><stop offset="0.1347" stop-color="#7a7aff"/><stop offset="0.1421" stop-color="#5757ff"/><stop offset="0.1494" stop-color="#4848ff"/><stop offset="0.1568" stop-color="#5757ff"/><stop offset="0.1605" stop-color="#6868ff"/><stop offset="0.1790" stop-color="#fafaff"/><stop offset="0.1827" stop-color="#ffe6e6"/><stop offset="0.1937" stop-color="#ffbebe"/><stop offset="0.2417" stop-color="#ffa7a7"/><stop offset="0.3376" stop-color="#ffa7a7"/><stop offset="0.3487" stop-color="#ffb9b9"/><stop offset="0.3598" stop-color="#ffbbbb"/><stop offset="0.3856" stop-color="#ffd5d5"/><stop offset="0.5554" stop-color="#ffecec"/><stop offset="0.6476" stop-color="#fdfdff"/><stop offset="0.9649" stop-color="#e1e1ff"/><stop offset="0.9982" stop-color="#dbdbff"/></linearGradient>
<linearGradient id="hb75" x1="0" x2="1" y1="0" y2="0"><stop offset="0.0018" stop-color="#ffeeee"/><stop offset="0.0092" stop-color="#ffe7e7"/><stop offset="0.0166" stop-color="#ffb6b6"/><stop offset="0.0277" stop-color="#ff3030"/><stop offset="0.0387" stop-color="#ff0b0b"/><stop offset="0.0756" stop-color="#ff0606"/><stop offset="0.0830" stop-color="#ff1c1c"/><stop offset="0.0867" stop-color="#ff2f2f"/><stop offset="0.0904" stop-color="#ff5252"/><stop offset="0.0978" stop-color="#ffc6c6"/><stop offset="0.1015" stop-color="#fff8f8"/><stop offset="0.1089" stop-color="#afafff"/><stop offset="0.1125" stop-color="#9090ff"/><stop offset="0.1236" stop-color="#7f7fff"/><stop offset="0.1310" stop-color="#7c7cff"/><stop offset="0.1384" stop-color="#4e4eff"/><stop offset="0.1458" stop-color="#3737ff"/><stop offset="0.1531" stop-color="#3939ff"/><stop offset="0.1605" stop-color="#4f4fff"/><stop offset="0.1716" stop-color="#a1a1ff"/><stop offset="0.1790" stop-color="#e3e3ff"/><stop offset="0.1827" stop-color="#ffffff"/><stop offset="0.1863" stop-color="#ffe5e5"/><stop offset="0.2011" stop-color="#ffb3b3"/><stop offset="0.2454" stop-color="#ffa2a2"/><stop offset="0.3376" stop-color="#ffa2a2"/><stop offset="0.3487" stop-color="#ffb4b4"/><stop offset="0.3561" stop-color="#ffafaf"/><stop offset="0.3819" stop-color="#ffcfcf"/><stop offset="0.5590" stop-color="#ffe7e7"/><stop offset="0.6513" stop-color="#fdfdff"/><stop offset="0.9649" stop-color="#e1e1ff"/><stop offset="0.9982" stop-color="#dbdbff"/></linearGradient>
<linearGradient id="hb76" x1="0" x2="1" y1="0" y2="0"><stop offset="0.0018" stop-color="#ffeeee"/><stop offset="0.0092" stop-color="#ffe3e3"/><stop offset="0.0129" stop-color="#ffc6c6"/><stop offset="0.0203" stop-color="#ff6969"/><stop offset="0.0240" stop-color="#ff3333"/><stop offset="0.0314" stop-color="#ff0c0c"/><stop offset="0.0756" stop-color="#ff0505"/><stop offset="0.0830" stop-color="#ff0808"/><stop offset="0.0904" stop-color="#ff2f2f"/><stop offset="0.0941" stop-color="#ff5050"/><stop offset="0.1015" stop-color="#ffd5d5"/><stop offset="0.1052" stop-color="#efefff"/><stop offset="0.1125" stop-color="#9494ff"/><stop offset="0.1162" stop-color="#8282ff"/><stop offset="0.1273" stop-color="#7a7aff"/><stop offset="0.1310" stop-color="#6a6aff"/><stop offset="0.1347" stop-color="#4b4bff"/><stop offset="0.1384" stop-color="#3838ff"/><stop offset="0.1494" stop-color="#2727ff"/><stop offset="0.1605" stop-color="#3939ff"/><stop offset="0.1679" stop-color="#6161ff"/><stop offset="0.1753" stop-color="#a2a2ff"/><stop offset="0.1790" stop-color="#cbcbff"/><stop offset="0.1863" stop-color="#fefeff"/><stop offset="0.1937" stop-color="#ffd1d1"/><stop offset="0.2085" stop-color="#ffaaaa"/><stop offset="0.2491" stop-color="#ff9c9c"/><stop offset="0.3376" stop-color="#ff9c9c"/><stop offset="0.3487" stop-color="#ffaeae"/><stop offset="0.3561" stop-color="#ffa7a7"/><stop offset="0.3819" stop-color="#ffc8c8"/><stop offset="0.5590" stop-color="#ffe1e1"/><stop offset="0.6624" stop-color="#fcfcff"/><stop offset="0.9686" stop-color="#e0e0ff"/><stop offset="0.9982" stop-color="#dbdbff"/></linearGradient>
<linearGradient id="hb77" x1="0" x2="1" y1="0" y2="0"><stop offset="0.0018" stop-color="#ffeeee"/><stop offset="0.0055" stop-color="#ffecec"/><stop offset="0.0092" stop-color="#ffdede"/><stop offset="0.0129" stop-color="#ffbbbb"/><stop offset="0.0203" stop-color="#ff3e3e"/><stop offset="0.0240" stop-color="#ff1c1c"/><stop offset="0.0277" stop-color="#ff0808"/><stop offset="0.0867" stop-color="#ff0909"/><stop offset="0.0904" stop-color="#ff1212"/><stop offset="0.0941" stop-color="#ff2c2c"/><stop offset="0.0978" stop-color="#ff5151"/><stop offset="0.1015" stop-color="#ffa2a2"/><stop offset="0.1052" stop-color="#ffe7e7"/><stop offset="0.1089" stop-color="#cfcfff"/><stop offset="0.1125" stop-color="#9999ff"/><stop offset="0.1162" stop-color="#7f7fff"/><stop offset="0.1273" stop-color="#7373ff"/><stop offset="0.1347" stop-color="#3333ff"/><stop offset="0.1494" stop-color="#1b1bff"/><stop offset="0.1605" stop-color="#2929ff"/><stop offset="0.1716" stop-color="#5959ff"/><stop offset="0.1827" stop-color="#c7c7ff"/><stop offset="0.1900" stop-color="#fdfdff"/><stop offset="0.1974" stop-color="#ffcfcf"/><stop offset="0.2159" stop-color="#ffa1a1"/><stop offset="0.2528" stop-color="#ff9696"/><stop offset="0.3376" stop-color="#ff9696"/><stop offset="0.3487" stop-color="#ffa8a8"/><stop offset="0.3561" stop-color="#ff9c9c"/><stop offset="0.3819" stop-color="#ffbcbc"/><stop offset="0.5701" stop-color="#ffdfdf"/><stop offset="0.6697" stop-color="#fdfdff"/><stop offset="0.9760" stop-color="#dfdfff"/><stop offset="0.9982" stop-color="#dbdbff"/></linearGradient>
<linearGradient id="hb78" x1="0" x2="1" y1="0" y2="0"><stop offset="0.0018" stop-color="#ffeeee"/><stop offset="0.0055" stop-color="#ffecec"/><stop offset="0.0092" stop-color="#ffd7d7"/><stop offset="0.0129" stop-color="#ffa1a1"/><stop offset="0.0166" stop-color="#ff5656"/><stop offset="0.0203" stop-color="#ff1f1f"/><stop offset="0.0240" stop-color="#ff0707"/><stop offset="0.0867" stop-color="#ff0808"/><stop offset="0.0941" stop-color="#ff0c0c"/><stop offset="0.0978" stop-color="#ff2929"/><stop offset="0.1015" stop-color="#ff5858"/><stop offset="0.1052" stop-color="#ffb5b5"/><stop offset="0.1089" stop-color="#efefff"/><stop offset="0.1125" stop-color="#a5a5ff"/><stop offset="0.1162" stop-color="#7b7bff"/><stop offset="0.1236" stop-color="#7474ff"/><stop offset="0.1310" stop-color="#3535ff"/><stop offset="0.1384" stop-color="#1b1bff"/><stop offset="0.1494" stop-color="#0e0eff"/><stop offset="0.1605" stop-color="#1919ff"/><stop offset="0.1716" stop-color="#3f3fff"/><stop offset="0.1753" stop-color="#5252ff"/><stop offset="0.1900" stop-color="#dfdfff"/><stop offset="0.1937" stop-color="#fafaff"/><stop offset="0.2048" stop-color="#ffcbcb"/><stop offset="0.2232" stop-color="#ff9797"/><stop offset="0.3339" stop-color="#ff8e8e"/><stop offset="0.3487" stop-color="#ffa2a2"/><stop offset="0.3561" stop-color="#ff9090"/><stop offset="0.3819" stop-color="#ffb0b0"/><stop offset="0.5369" stop-color="#ffcdcd"/><stop offset="0.6808" stop-color="#fdfdff"/><stop offset="0.9871" stop-color="#ddddff"/><stop offset="0.9982" stop-color="#dbdbff"/></linearGradient>
<linearGradient id="hb79" x1="0" x2="1" y1="0" y2="0"><stop offset="0.0018" stop-color="#ffeeee"/><stop offset="0.0055" stop-color="#ffecec"/><stop offset="0.0092" stop-color="#ffc9c9"/><stop offset="0.0129" stop-color="#ff7f7f"/><stop offset="0.0166" stop-color="#ff2929"/><stop offset="0.0203" stop-color="#ff0707"/><stop offset="0.0867" stop-color="#ff0707"/><stop offset="0.0978" stop-color="#ff0c0c"/><stop offset="0.1015" stop-color="#ff2828"/><stop offset="0.1052" stop-color="#ff6060"/><stop offset="0.1089" stop-color="#ffdcdc"/><stop offset="0.1125" stop-color="#bcbcff"/><stop offset="0.1162" stop-color="#7878ff"/><stop offset="0.1236" stop-color="#7070ff"/><stop offset="0.1273" stop-color="#3737ff"/><stop offset="0.1347" stop-color="#1616ff"/><stop offset="0.1458" stop-color="#0606ff"/><stop offset="0.1605" stop-color="#0808ff"/><stop offset="0.1716" stop-color="#2727ff"/><stop offset="0.1827" stop-color="#6464ff"/><stop offset="0.1937" stop-color="#d4d4ff"/><stop offset="0.1974" stop-color="#ededff"/><stop offset="0.2011" stop-color="#fcfcff"/><stop offset="0.2085" stop-color="#ffe0e0"/><stop offset="0.2196" stop-color="#ffb3b3"/><stop offset="0.2306" stop-color="#ff8c8c"/><stop offset="0.3376" stop-color="#ff8989"/><stop offset="0.3487" stop-color="#ff9c9c"/><stop offset="0.3524" stop-color="#ff8989"/><stop offset="0.3598" stop-color="#ff8989"/><stop offset="0.3856" stop-color="#ffa4a4"/><stop offset="0.5406" stop-color="#ffc1c1"/><stop offset="0.6956" stop-color="#fefeff"/><stop offset="0.9982" stop-color="#dbdbff"/></linearGradient>
<linearGradient id="hb80" x1="0" x2="1" y1="0" y2="0"><stop offset="0.0018" stop-color="#ffeeee"/><stop offset="0.0055" stop-color="#ffebeb"/><stop offset="0.0092" stop-color="#ffb8b8"/><stop offset="0.0129" stop-color="#ff4545"/><stop offset="0.0166" stop-color="#ff0b0b"/><stop offset="0.0830" stop-color="#ff0505"/><stop offset="0.1015" stop-color="#ff0c0c"/><stop offset="0.1052" stop-color="#ff2727"/><stop offset="0.1089" stop-color="#ff8888"/><stop offset="0.1125" stop-color="#dbdbff"/><stop offset="0.1162" stop-color="#7676ff"/><stop offset="0.1199" stop-color="#6f6fff"/><stop offset="0.1236" stop-color="#5757ff"/><stop offset="0.1273" stop-color="#2323ff"/><stop offset="0.1347" stop-color="#0707ff"/><stop offset="0.1679" stop-color="#0909ff"/><stop offset="0.1753" stop-color="#1d1dff"/><stop offset="0.1863" stop-color="#5353ff"/><stop offset="0.1900" stop-color="#6d6dff"/><stop offset="0.1974" stop-color="#b5b5ff"/><stop offset="0.2085" stop-color="#f3f3ff"/><stop offset="0.2122" stop-color="#fffafa"/><stop offset="0.2232" stop-color="#ffb9b9"/><stop offset="0.2380" stop-color="#ff8e8e"/><stop offset="0.2491" stop-color="#ff8484"/><stop offset="0.3376" stop-color="#ff8383"/><stop offset="0.3487" stop-color="#ff9595"/><stop offset="0.3524" stop-color="#ff7c7c"/><stop offset="0.3598" stop-color="#ff7e7e"/><stop offset="0.3856" stop-color="#ff9797"/><stop offset="0.5443" stop-color="#ffb6b6"/><stop offset="0.6882" stop-color="#fff7f7"/><stop offset="0.7288" stop-color="#fcfcff"/><stop offset="0.9982" stop-color="#dbdbff"/></linearGradient>
<linearGradient id="hb81" x1="0" x2="1" y1="0" y2="0"><stop offset="0.0018" stop-color="#ffeeee"/><stop offset="0.0055" stop-color="#ffe3e3"/><stop offset="0.0092" stop-color="#ff8a8a"/><stop offset="0.0129" stop-color="#ff1818"/><stop offset="0.0166" stop-color="#ff0707"/><stop offset="0.0904" stop-color="#ff0707"/><stop offset="0.1052" stop-color="#ff0c0c"/><stop offset="0.1089" stop-color="#ff3434"/><stop offset="0.1125" stop-color="#ffdede"/><stop offset="0.1162" stop-color="#8282ff"/><stop offset="0.1199" stop-color="#6c6cff"/><stop offset="0.1236" stop-color="#3131ff"/><stop offset="0.1273" stop-color="#1010ff"/><stop offset="0.1347" stop-color="#0505ff"/><stop offset="0.1790" stop-color="#0f0fff"/><stop offset="0.1937" stop-color="#5656ff"/><stop offset="0.2122" stop-color="#c7c7ff"/><stop offset="0.2196" stop-color="#f8f8ff"/><stop offset="0.2232" stop-color="#fff2f2"/><stop offset="0.2343" stop-color="#ffacac"/><stop offset="0.2565" stop-color="#ff7e7e"/><stop offset="0.3376" stop-color="#ff7c7c"/><stop offset="0.3487" stop-color="#ff8e8e"/><stop offset="0.3524" stop-color="#ff7070"/><stop offset="0.3561" stop-color="#ff6464"/><stop offset="0.3856" stop-color="#ff8080"/><stop offset="0.5480" stop-color="#ffaaaa"/><stop offset="0.6882" stop-color="#fff0f0"/><stop offset="0.7472" stop-color="#fcfcff"/><stop offset="0.8247" stop-color="#f1f1ff"/><stop offset="0.9982" stop-color="#dbdbff"/></linearGradient>
<linearGradient id="hb82" x1="0" x2="1" y1="0" y2="0"><stop offset="0.0018" stop-color="#ffeeee"/><stop offset="0.0055" stop-color="#ffd7d7"/><stop offset="0.0092" stop-color="#ff4040"/><stop offset="0.0129" stop-color="#ff0707"/><stop offset="0.0941" stop-color="#ff0707"/><stop offset="0.1089" stop-color="#ff0c0c"/><stop offset="0.1125" stop-color="#ff6161"/><stop offset="0.1162" stop-color="#9696ff"/><stop offset="0.1199" stop-color="#6868ff"/><stop offset="0.1236" stop-color="#1919ff"/><stop offset="0.1273" stop-color="#0606ff"/><stop offset="0.1863" stop-color="#0c0cff"/><stop offset="0.2011" stop-color="#4444ff"/><stop offset="0.2122" stop-color="#6d6dff"/><stop offset="0.2269" stop-color="#ddddff"/><stop offset="0.2306" stop-color="#fcfcff"/><stop offset="0.2528" stop-color="#ffa6a6"/><stop offset="0.2712" stop-color="#ff7979"/><stop offset="0.3413" stop-color="#ff7b7b"/><stop offset="0.3487" stop-color="#ff8989"/><stop offset="0.3524" stop-color="#ff5c5c"/><stop offset="0.3561" stop-color="#ff4f4f"/><stop offset="0.3893" stop-color="#ff6666"/><stop offset="0.5295" stop-color="#ff8686"/><stop offset="0.6107" stop-color="#ffb8b8"/><stop offset="0.7177" stop-color="#ffefef"/><stop offset="0.7620" stop-color="#fbfbff"/><stop offset="0.8247" stop-color="#f1f1ff"/><stop offset="0.9982" stop-color="#dbdbff"/></linearGradient>
<linearGradient id="hb83" x1="0" x2="1" y1="0" y2="0"><stop offset="0.0018" stop-color="#ffeeee"/><stop offset="0.0055" stop-color="#ffbdbd"/><stop offset="0.0092" stop-color="#ff0808"/><stop offset="0.0941" stop-color="#ff0505"/><stop offset="0.1125" stop-color="#ff0d0d"/><stop offset="0.1162" stop-color="#c2c2ff"/><stop offset="0.1236" stop-color="#0606ff"/><stop offset="0.1937" stop-color="#0b0bff"/><stop offset="0.2048" stop-color="#1b1bff"/><stop offset="0.2232" stop-color="#5a5aff"/><stop offset="0.2269" stop-color="#6c6cff"/><stop offset="0.2343" stop-color="#a5a5ff"/><stop offset="0.2491" stop-color="#f6f6ff"/><stop offset="0.2528" stop-color="#fff9f9"/><stop offset="0.2712" stop-color="#ffa2a2"/><stop offset="0.2934" stop-color="#ff7474"/><stop offset="0.3413" stop-color="#ff7676"/><stop offset="0.3487" stop-color="#ff8383"/><stop offset="0.3524" stop-color="#ff4646"/><stop offset="0.3561" stop-color="#ff3939"/><stop offset="0.3967" stop-color="#ff4b4b"/><stop offset="0.5332" stop-color="#ff6868"/><stop offset="0.6255" stop-color="#ffaaaa"/><stop offset="0.7435" stop-color="#ffeeee"/><stop offset="0.7731" stop-color="#fdfdff"/><stop offset="0.8063" stop-color="#f2f2ff"/><stop offset="0.9982" stop-color="#dbdbff"/></linearGradient>
<linearGradient id="hb84" x1="0" x2="1" y1="0" y2="0"><stop offset="0.0018" stop-color="#ffeeee"/><stop offset="0.0055" stop-color="#ff5e5e"/><stop offset="0.0092" stop-color="#ff0606"/><stop offset="0.1052" stop-color="#ff0606"/><stop offset="0.1125" stop-color="#ff0a0a"/><stop offset="0.1162" stop-color="#ffa2a2"/><stop offset="0.1199" stop-color="#2c2cff"/><stop offset="0.1236" stop-color="#0505ff"/><stop offset="0.2196" stop-color="#0d0dff"/><stop offset="0.2269" stop-color="#2020ff"/><stop offset="0.2528" stop-color="#7676ff"/><stop offset="0.2712" stop-color="#efefff"/><stop offset="0.2749" stop-color="#fffefe"/><stop offset="0.2934" stop-color="#ffb0b0"/><stop offset="0.3007" stop-color="#ff9797"/><stop offset="0.3155" stop-color="#ff7070"/><stop offset="0.3413" stop-color="#ff7272"/><stop offset="0.3487" stop-color="#ff7e7e"/><stop offset="0.3524" stop-color="#ff2b2b"/><stop offset="0.3561" stop-color="#ff1d1d"/><stop offset="0.5295" stop-color="#ff3e3e"/><stop offset="0.6550" stop-color="#ff9393"/><stop offset="0.7140" stop-color="#ffc5c5"/><stop offset="0.7546" stop-color="#ffdede"/><stop offset="0.7841" stop-color="#fffefe"/><stop offset="0.8063" stop-color="#f2f2ff"/><stop offset="0.9982" stop-color="#dbdbff"/></linearGradient>
<linearGradient id="hb85" x1="0" x2="1" y1="0" y2="0"><stop offset="0.0018" stop-color="#ffeeee"/><stop offset="0.0055" stop-color="#ff0707"/><stop offset="0.1052" stop-color="#ff0404"/><stop offset="0.1162" stop-color="#ff0c0c"/><stop offset="0.1199" stop-color="#0606ff"/><stop offset="0.2159" stop-color="#0808ff"/><stop offset="0.2528" stop-color="#0d0dff"/><stop offset="0.2860" stop-color="#6d6dff"/><stop offset="0.3044" stop-color="#e4e4ff"/><stop offset="0.3081" stop-color="#fefeff"/><stop offset="0.3192" stop-color="#ffc5c5"/><stop offset="0.3266" stop-color="#ff9898"/><stop offset="0.3376" stop-color="#ff6f6f"/><stop offset="0.3450" stop-color="#ff7171"/><stop offset="0.3487" stop-color="#ff7878"/><stop offset="0.3524" stop-color="#ff0f0f"/><stop offset="0.5590" stop-color="#ff1818"/><stop offset="0.6439" stop-color="#ff4949"/><stop offset="0.7472" stop-color="#ffa7a7"/><stop offset="0.7657" stop-color="#ffcaca"/><stop offset="0.7989" stop-color="#ffffff"/><stop offset="0.8137" stop-color="#f2f2ff"/><stop offset="0.9982" stop-color="#dbdbff"/></linearGradient>
<linearGradient id="hb86" x1="0" x2="1" y1="0" y2="0"><stop offset="0.0018" stop-color="#ffcece"/><stop offset="0.0055" stop-color="#ff0404"/><stop offset="0.1162" stop-color="#ff0707"/><stop offset="0.1199" stop-color="#0303ff"/><stop offset="0.3081" stop-color="#0d0dff"/><stop offset="0.3192" stop-color="#2c2cff"/><stop offset="0.3339" stop-color="#7474ff"/><stop offset="0.3413" stop-color="#c3c3ff"/><stop offset="0.3450" stop-color="#ffd4d4"/><stop offset="0.3524" stop-color="#ff0c0c"/><stop offset="0.7140" stop-color="#ff1717"/><stop offset="0.7509" stop-color="#ff3b3b"/><stop offset="0.7841" stop-color="#ff9b9b"/><stop offset="0.7952" stop-color="#ffc9c9"/><stop offset="0.8137" stop-color="#ffffff"/><stop offset="0.8210" stop-color="#f1f1ff"/><stop offset="0.9982" stop-color="#dbdbff"/></linearGradient>
<linearGradient id="hb87" x1="0" x2="1" y1="0" y2="0"><stop offset="0.0018" stop-color="#ff0404"/><stop offset="0.1162" stop-color="#ff0202"/><stop offset="0.1199" stop-color="#0101ff"/><stop offset="0.3450" stop-color="#0808ff"/><stop offset="0.3487" stop-color="#0d0dff"/><stop offset="0.3524" stop-color="#ff0909"/><stop offset="0.7915" stop-color="#ff1313"/><stop offset="0.8026" stop-color="#ff1717"/><stop offset="0.8100" stop-color="#ff4747"/><stop offset="0.8173" stop-color="#ff9898"/><stop offset="0.8210" stop-color="#ffcdcd"/><stop offset="0.8247" stop-color="#fff6f6"/><stop offset="0.8284" stop-color="#f1f1ff"/><stop offset="0.9982" stop-color="#dbdbff"/></linearGradient>
<linearGradient id="cbar" x1="0" x2="1"><stop offset="0" stop-color="#f00"/><stop offset="0.5" stop-color="#fff"/><stop offset="1" stop-color="#00f"/></linearGradient>

<linearGradient id="orgV" x1="0" y1="0" x2="0" y2="1"><stop offset="0" stop-color="#fde3cf" stop-opacity="0.3"/><stop offset="0.45" stop-color="#fbb27e"/><stop offset="1" stop-color="#f26a10"/></linearGradient>
<linearGradient id="orgL" gradientUnits="userSpaceOnUse" x1="434" y1="93" x2="432" y2="103.5"><stop offset="0" stop-color="#fde0c8" stop-opacity="0.6"/><stop offset="0.55" stop-color="#f9a566"/><stop offset="1" stop-color="#f07014"/></linearGradient>
<linearGradient id="yelL" gradientUnits="userSpaceOnUse" x1="422" y1="236" x2="425" y2="244.5"><stop offset="0" stop-color="#f9b500"/><stop offset="0.4" stop-color="#fbcd3e"/><stop offset="0.75" stop-color="#fde58e"/><stop offset="1" stop-color="#fff2c0"/></linearGradient>
<radialGradient id="yelR"><stop offset="0" stop-color="#f7b000"/><stop offset="0.3" stop-color="#f9c535"/><stop offset="0.62" stop-color="#fce08a" stop-opacity="0.8"/><stop offset="1" stop-color="#fffae3" stop-opacity="0"/></radialGradient>
<clipPath id="cUnderR"><path d="M395.80,261.00 L396.39,260.18 L396.97,259.36 L397.55,258.54 L398.13,257.71 L398.71,256.88 L399.28,256.06 L399.86,255.23 L400.44,254.40 L401.02,253.57 L401.60,252.75 L402.19,251.93 L402.78,251.11 L403.37,250.29 L403.97,249.48 L404.58,248.68 L405.20,247.88 L405.82,247.09 L406.45,246.30 L407.10,245.52 L407.75,244.76 L408.42,244.00 L409.10,243.25 L409.79,242.51 L410.49,241.78 L411.21,241.07 L411.95,240.38 L412.71,239.70 L413.48,239.05 L414.28,238.43 L415.10,237.84 L415.94,237.28 L416.81,236.76 L417.70,236.28 L418.61,235.84 L419.54,235.44 L420.50,235.09 L421.46,234.78 L422.44,234.52 L423.43,234.32 L424.43,234.16 L425.44,234.05 L426.45,234.00 L427.46,233.98 L428.47,234.02 L429.47,234.09 L430.47,234.19 L431.48,234.31 L432.48,234.43 L433.48,234.54 L434.49,234.64 L435.50,234.72 L436.51,234.79 L437.52,234.82 L438.52,234.83 L439.53,234.81 L440.54,234.75 L441.54,234.66 L442.54,234.55 L443.54,234.40 L444.54,234.24 L445.53,234.05 L446.52,233.85 L447.51,233.63 L448.50,233.41 L449.48,233.17 L450.46,232.93 L451.44,232.68 L452.42,232.43 L453.39,232.18 L454.37,231.92 L455.34,231.66 L456.32,231.40 L457.29,231.15 L458.27,230.89 L459.24,230.64 L460.22,230.39 L461.20,230.15 L462.18,229.92 L463.16,229.68 L464.14,229.45 L465.13,229.22 L466.11,228.98 L467.09,228.75 L468.07,228.51 L469.05,228.27 L470.03,228.02 L471.00,227.77 L471.98,227.51 L472.95,227.24 L473.92,226.97 L474.89,226.68 L475.85,226.38 L476.81,226.08 L477.77,225.77 L478.73,225.45 L479.69,225.13 L480.64,224.80 L481.59,224.47 L482.54,224.13 L483.49,223.78 L484.44,223.43 L485.39,223.08 L486.33,222.73 L487.27,222.37 L488.21,222.01 L489.15,221.64 L490.09,221.26 L491.02,220.88 L491.96,220.50 L492.89,220.11 L493.81,219.71 L494.74,219.31 L495.66,218.90 L496.58,218.49 L497.50,218.07 L498.42,217.65 L499.33,217.22 L500.24,216.78 L501.15,216.35 L502.06,215.90 L502.96,215.46 L503.86,215.01 L504.77,214.56 L505.67,214.10 L506.57,213.65 L507.47,213.19 L508.36,212.73 L509.26,212.28 L510.16,211.82 L511.06,211.36 L511.96,210.90 L512.86,210.45 L513.76,209.99 L514.66,209.53 L515.55,209.06 L516.45,208.60 L517.34,208.13 L518.23,207.66 L519.12,207.18 L520.01,206.70 L520.89,206.21 L521.77,205.72 L522.65,205.22 L523.52,204.72 L524.40,204.21 L525.27,203.71 L526.14,203.20 L527.01,202.69 L527.88,202.18 L528.76,201.68 L529.63,201.17 L530.50,200.67 L531.38,200.17 L532.25,199.67 L533.13,199.18 L534.01,198.69 L534.90,198.21 L535.79,197.73 L536.69,197.27 L537.58,196.81 L538.49,196.36 L539.40,195.91 L540.32,195.49 L541.25,195.09 L542.19,194.71 L543.14,194.37 L544.10,194.06 L545.08,193.81 L546.06,193.60 L547.07,193.45 L548.07,193.36 L549.09,193.34 L550.10,193.40 L551.11,193.54 L552.11,193.75 L553.09,194.05 L554.03,194.43 L554.92,194.90 L555.77,195.44 L556.56,196.05 L557.30,196.73 L558.01,197.46 L558.69,198.22 L559.34,199.02 L559.97,199.83 L560.59,200.64 L561.20,201.46 L561.79,202.28 L562.38,203.11 L562.96,203.94 L563.53,204.77 L564.09,205.61 L564.63,206.45 L565.17,207.30 L565.70,208.15 L566.22,209.01 L566.73,209.87 L567.23,210.74 L567.71,211.62 L568.19,212.51 L568.67,213.40 L569.13,214.29 L569.59,215.19 L570.04,216.09 L570.49,217.00 L570.93,217.91 L571.36,218.82 L571.80,219.73 L572.23,220.65 L572.65,221.57 L573.08,222.48 L573.50,223.40 L573.92,224.32 L574.34,225.24 L574.76,226.16 L575.18,227.08 L575.60,227.99 L576.02,228.91 L576.43,229.83 L576.84,230.75 L577.26,231.67 L577.67,232.59 L578.07,233.52 L578.48,234.44 L578.89,235.36 L579.29,236.29 L579.69,237.21 L580.09,238.14 L580.48,239.06 L580.88,239.99 L581.27,240.92 L581.66,241.85 L582.04,242.78 L582.43,243.71 L582.81,244.65 L583.18,245.58 L583.56,246.52 L583.93,247.46 L584.30,248.40 L584.3,275.9 L395.8,275.9 Z"/></clipPath>
<clipPath id="cUnderB"><path d="M395.80,263.50 L396.33,262.64 L396.85,261.77 L397.38,260.91 L397.92,260.04 L398.45,259.18 L398.99,258.32 L399.54,257.46 L400.09,256.61 L400.64,255.76 L401.20,254.91 L401.77,254.07 L402.35,253.23 L402.93,252.40 L403.52,251.57 L404.12,250.75 L404.73,249.94 L405.34,249.13 L405.97,248.33 L406.61,247.54 L407.25,246.76 L407.91,245.99 L408.58,245.22 L409.26,244.47 L409.96,243.73 L410.67,242.99 L411.39,242.28 L412.13,241.58 L412.88,240.90 L413.66,240.23 L414.45,239.60 L415.26,238.99 L416.09,238.40 L416.95,237.85 L417.83,237.33 L418.73,236.85 L419.64,236.40 L420.58,236.00 L421.53,235.64 L422.51,235.34 L423.49,235.08 L424.49,234.88 L425.50,234.73 L426.51,234.63 L427.53,234.60 L428.54,234.62 L429.55,234.69 L430.56,234.79 L431.57,234.92 L432.58,235.04 L433.59,235.15 L434.60,235.24 L435.62,235.30 L436.63,235.34 L437.65,235.35 L438.67,235.34 L439.68,235.30 L440.69,235.23 L441.70,235.14 L442.71,235.03 L443.72,234.89 L444.72,234.74 L445.72,234.56 L446.72,234.38 L447.72,234.18 L448.72,233.97 L449.71,233.75 L450.70,233.53 L451.69,233.29 L452.67,233.06 L453.66,232.81 L454.64,232.57 L455.63,232.33 L456.61,232.08 L457.60,231.84 L458.58,231.59 L459.57,231.36 L460.56,231.12 L461.55,230.89 L462.53,230.66 L463.52,230.44 L464.51,230.21 L465.50,229.98 L466.49,229.75 L467.48,229.51 L468.47,229.27 L469.45,229.02 L470.43,228.76 L471.41,228.49 L472.38,228.21 L473.36,227.92 L474.32,227.62 L475.29,227.30 L476.25,226.98 L477.21,226.65 L478.17,226.32 L479.14,225.99 L480.10,225.67 L481.07,225.36 L482.03,225.06 L483.01,224.77 L483.99,224.51 L484.97,224.26 L485.96,224.03 L486.95,223.82 L487.95,223.60 L488.93,223.37 L489.92,223.12 L490.89,222.84 L491.85,222.53 L492.81,222.20 L493.76,221.84 L494.70,221.46 L495.64,221.07 L496.58,220.67 L497.51,220.27 L498.45,219.87 L499.38,219.46 L500.32,219.07 L501.26,218.68 L502.20,218.30 L503.15,217.93 L504.09,217.57 L505.04,217.21 L505.99,216.86 L506.95,216.51 L507.90,216.16 L508.85,215.81 L509.81,215.47 L510.76,215.13 L511.72,214.78 L512.67,214.44 L513.63,214.11 L514.59,213.78 L515.56,213.45 L516.52,213.14 L517.49,212.83 L518.46,212.54 L519.43,212.26 L520.41,211.99 L521.40,211.74 L522.39,211.50 L523.38,211.27 L524.37,211.05 L525.37,210.85 L526.36,210.65 L527.36,210.47 L528.36,210.29 L529.36,210.12 L530.36,209.96 L531.35,209.80 L532.35,209.65 L533.35,209.50 L534.35,209.35 L535.35,209.20 L536.35,209.06 L537.36,208.91 L538.37,208.76 L539.38,208.61 L540.40,208.45 L541.42,208.30 L542.45,208.18 L543.47,208.11 L544.48,208.11 L545.48,208.22 L546.47,208.45 L547.42,208.80 L548.34,209.27 L549.20,209.84 L549.99,210.50 L550.70,211.23 L551.33,212.02 L551.91,212.86 L552.43,213.73 L552.93,214.63 L553.42,215.53 L553.90,216.44 L554.39,217.34 L554.87,218.24 L555.35,219.13 L555.84,220.03 L556.31,220.92 L556.79,221.82 L557.26,222.72 L557.73,223.61 L558.19,224.51 L558.65,225.41 L559.10,226.32 L559.54,227.23 L559.98,228.14 L560.40,229.06 L560.82,229.98 L561.23,230.90 L561.63,231.83 L562.03,232.77 L562.42,233.70 L562.80,234.64 L563.18,235.58 L563.55,236.53 L563.92,237.48 L564.28,238.42 L564.65,239.37 L565.01,240.33 L565.37,241.28 L565.72,242.23 L566.08,243.18 L566.44,244.13 L566.79,245.09 L567.15,246.04 L567.51,246.99 L567.87,247.94 L568.23,248.89 L568.59,249.84 L568.95,250.79 L569.31,251.74 L569.67,252.69 L570.02,253.64 L570.37,254.59 L570.73,255.54 L571.08,256.49 L571.42,257.44 L571.76,258.40 L572.10,259.35 L572.44,260.31 L572.77,261.27 L573.10,262.23 L573.42,263.19 L573.73,264.15 L574.04,265.12 L574.35,266.08 L574.65,267.05 L574.94,268.02 L575.23,269.00 L575.50,269.98 L575.77,270.95 L576.04,271.94 L576.29,272.92 L576.54,273.91 L576.77,274.90 L577.00,275.90 L590,275.9 L395.8,275.9 Z"/></clipPath>
<clipPath id="cUnderV2"><path d="M516.60,275.90 L516.89,275.26 L517.18,274.62 L517.47,273.98 L517.75,273.34 L518.03,272.70 L518.31,272.06 L518.59,271.41 L518.87,270.77 L519.14,270.13 L519.41,269.48 L519.69,268.84 L519.96,268.19 L520.23,267.55 L520.50,266.90 L520.77,266.26 L521.05,265.61 L521.32,264.97 L521.59,264.33 L521.86,263.68 L522.13,263.04 L522.41,262.40 L522.68,261.75 L522.96,261.11 L523.24,260.47 L523.52,259.83 L523.80,259.19 L524.08,258.55 L524.37,257.92 L524.66,257.28 L524.95,256.65 L525.25,256.01 L525.54,255.38 L525.85,254.75 L526.15,254.12 L526.46,253.49 L526.77,252.87 L527.09,252.24 L527.41,251.62 L527.73,251.00 L528.06,250.38 L528.40,249.76 L528.74,249.15 L529.08,248.54 L529.43,247.93 L529.79,247.32 L530.15,246.71 L530.52,246.11 L530.89,245.51 L531.28,244.92 L531.67,244.33 L532.07,243.75 L532.47,243.17 L532.89,242.60 L533.32,242.04 L533.75,241.49 L534.20,240.96 L534.66,240.43 L535.14,239.92 L535.62,239.41 L536.12,238.93 L536.64,238.46 L537.16,238.00 L537.71,237.56 L538.26,237.14 L538.83,236.74 L539.42,236.35 L540.01,235.98 L540.62,235.62 L541.24,235.29 L541.87,234.97 L542.52,234.67 L543.17,234.39 L543.83,234.13 L544.51,233.89 L545.19,233.68 L545.88,233.49 L546.57,233.33 L547.26,233.20 L547.96,233.11 L548.66,233.06 L549.35,233.06 L550.05,233.10 L550.74,233.18 L551.42,233.32 L552.10,233.49 L552.77,233.71 L553.43,233.97 L554.08,234.26 L554.72,234.58 L555.34,234.93 L555.95,235.31 L556.54,235.71 L557.11,236.13 L557.67,236.58 L558.20,237.03 L558.72,237.51 L559.23,238.00 L559.71,238.50 L560.19,239.02 L560.65,239.55 L561.10,240.09 L561.53,240.64 L561.96,241.20 L562.38,241.77 L562.78,242.34 L563.18,242.92 L563.57,243.51 L563.95,244.09 L564.33,244.69 L564.70,245.28 L565.07,245.88 L565.43,246.48 L565.78,247.08 L566.13,247.69 L566.48,248.30 L566.82,248.91 L567.16,249.52 L567.49,250.13 L567.82,250.75 L568.15,251.37 L568.48,251.99 L568.81,252.61 L569.13,253.23 L569.45,253.85 L569.77,254.47 L570.10,255.09 L570.42,255.71 L570.74,256.33 L571.06,256.96 L571.38,257.58 L571.70,258.20 L572.02,258.83 L572.33,259.45 L572.65,260.07 L572.97,260.70 L573.28,261.32 L573.60,261.95 L573.91,262.57 L574.23,263.20 L574.54,263.83 L574.85,264.45 L575.16,265.08 L575.46,265.71 L575.77,266.34 L576.07,266.97 L576.37,267.60 L576.67,268.23 L576.97,268.87 L577.27,269.50 L577.56,270.13 L577.85,270.77 L578.14,271.41 L578.43,272.05 L578.72,272.69 L579.00,273.33 L579.28,273.97 L579.55,274.61 L579.83,275.25 L580.10,275.90 Z"/></clipPath>
<clipPath id="cCB1"><path d="M525.21,140.98 L525.87,141.66 L526.54,142.33 L527.20,143.00 L527.88,143.67 L528.55,144.34 L529.22,145.00 L529.89,145.65 L530.57,146.31 L531.24,146.97 L531.90,147.62 L532.57,148.27 L533.23,148.92 L533.89,149.57 L534.55,150.21 L535.21,150.85 L535.89,151.49 L536.58,152.13 L537.28,152.75 L538.00,153.38 L538.74,153.99 L539.51,154.60 L540.31,155.20 L541.13,155.78 L541.98,156.30 L542.85,156.73 L543.73,157.03 L544.62,157.19 L545.51,157.16 L546.08,156.93 L546.99,156.87 L547.92,156.65 L548.84,156.29 L549.76,155.82 L550.65,155.25 L551.50,154.61 L552.30,153.94 L553.04,153.23 L553.73,152.49 L554.36,151.74 L554.96,150.96 L555.51,150.16 L556.04,149.35 L556.53,148.52 L557.00,147.68 L557.46,146.83 L557.90,145.98 L558.34,145.12 L558.78,144.25 L559.21,143.39 L559.65,142.52 L560.08,141.65 L560.51,140.78 L560.94,139.91 L561.37,139.04 L561.80,138.17 L562.23,137.29 L562.66,136.41 L563.08,135.53 L563.51,134.66 L563.93,133.77 L564.35,132.89 L564.77,132.01 Z"/></clipPath>
<clipPath id="cCB2"><path d="M510.16,37.94 L510.67,38.21 L511.19,38.49 L511.70,38.76 L512.22,39.02 L512.74,39.28 L513.26,39.54 L513.78,39.80 L514.30,40.05 L514.83,40.30 L515.35,40.54 L515.88,40.78 L516.41,41.02 L516.94,41.25 L517.47,41.48 L518.01,41.71 L518.54,41.93 L519.08,42.15 L519.62,42.36 L520.16,42.58 L520.70,42.78 L521.24,42.99 L521.79,43.19 L522.33,43.39 L522.88,43.59 L523.43,43.78 L523.97,43.97 L524.52,44.15 L525.08,44.34 L525.63,44.52 L526.18,44.69 L526.74,44.87 L527.29,45.04 L527.85,45.21 L528.41,45.37 L528.97,45.53 L529.53,45.69 L530.09,45.85 L530.65,46.01 L531.21,46.16 L531.77,46.30 L532.34,46.45 L532.90,46.59 L533.47,46.73 L534.04,46.87 L534.61,47.00 L535.17,47.12 L535.74,47.25 L536.31,47.36 L536.89,47.48 L537.46,47.58 L538.03,47.69 L538.60,47.78 L539.18,47.87 L539.75,47.96 L540.33,48.03 L540.91,48.10 L541.48,48.17 L542.06,48.22 L542.64,48.27 L543.22,48.32 L543.80,48.35 L544.38,48.37 L544.96,48.39 L545.54,48.40 L546.12,48.40 L546.70,48.39 L547.29,48.37 L547.87,48.34 L548.45,48.29 L549.03,48.24 L549.61,48.17 L550.18,48.08 L550.75,47.98 L551.32,47.87 L551.89,47.73 L552.45,47.58 L553.01,47.42 L553.57,47.23 L554.12,47.03 L554.66,46.81 L555.19,46.57 L555.72,46.32 L556.24,46.04 L556.75,45.76 L557.25,45.45 L557.73,45.13 L558.21,44.80 L558.67,44.45 L559.12,44.08 L559.55,43.70 L559.97,43.31 L560.38,42.90 L560.78,42.48 L561.16,42.05 L561.54,41.61 L561.91,41.16 L562.26,40.69 L562.61,40.22 L562.94,39.74 L563.27,39.25 L563.59,38.76 L563.90,38.26 L564.21,37.75 L564.51,37.24 L564.80,36.72 L565.09,36.20 L565.37,35.67 L565.65,35.14 L565.92,34.61 L566.19,34.08 L566.46,33.55 L566.72,33.02 L566.98,32.49 L567,26.4 L560.10,26.40 L559.90,26.81 L559.69,27.22 L559.47,27.63 L559.26,28.04 L559.04,28.44 L558.81,28.85 L558.58,29.25 L558.35,29.65 L558.11,30.04 L557.87,30.44 L557.62,30.83 L557.37,31.22 L557.11,31.60 L556.85,31.99 L556.58,32.37 L556.31,32.74 L556.03,33.11 L555.75,33.48 L555.46,33.84 L555.17,34.20 L554.88,34.56 L554.57,34.91 L554.27,35.25 L553.95,35.60 L553.64,35.93 L553.31,36.26 L552.98,36.59 L552.65,36.90 L552.31,37.22 L551.96,37.52 L551.61,37.83 L551.25,38.12 L550.89,38.41 L550.52,38.69 L550.14,38.96 L549.76,39.23 L549.38,39.49 L548.99,39.74 L548.59,39.99 L548.19,40.22 L547.79,40.44 L547.38,40.66 L546.96,40.87 L546.54,41.06 L546.12,41.25 L545.70,41.42 L545.27,41.59 L544.84,41.74 L544.40,41.88 L543.96,42.01 L543.52,42.13 L543.08,42.25 L542.63,42.35 L542.18,42.44 L541.73,42.52 L541.28,42.60 L540.82,42.67 L540.36,42.72 L539.90,42.78 L539.44,42.82 L538.98,42.86 L538.52,42.89 L538.05,42.91 L537.58,42.93 L537.11,42.94 L536.65,42.94 L536.18,42.95 L535.71,42.94 L535.23,42.93 L534.76,42.92 L534.29,42.90 L533.82,42.88 L533.35,42.86 L532.88,42.83 L532.40,42.80 L531.93,42.77 L531.46,42.74 L530.99,42.70 L530.52,42.66 L530.05,42.62 L529.58,42.58 L529.12,42.54 L528.65,42.49 L528.18,42.45 L527.72,42.40 L527.26,42.35 L526.79,42.29 L526.33,42.24 L525.87,42.18 L525.41,42.12 L524.95,42.05 L524.49,41.99 L524.03,41.92 L523.58,41.84 L523.12,41.77 L522.67,41.69 L522.21,41.60 L521.76,41.51 L521.31,41.42 L520.86,41.33 L520.41,41.23 L519.97,41.13 L519.52,41.02 L519.07,40.91 L518.63,40.79 L518.19,40.67 L517.75,40.55 L517.31,40.42 L516.87,40.28 L516.43,40.15 L515.99,40.00 L515.56,39.85 L515.13,39.70 L514.70,39.54 L514.26,39.37 L513.84,39.20 L513.41,39.03 L512.98,38.85 L512.56,38.67 L512.14,38.48 L511.71,38.29 L511.30,38.09 L510.88,37.89 L510.46,37.69 L510.05,37.48 Z"/></clipPath>

</defs>
<rect width="685" height="599" fill="#fff"/>
<rect x="47" y="8.7" width="271" height="0.8" fill="url(#ht0)"/>
<rect x="47" y="9" width="271" height="2.5" fill="url(#ht1)"/>
<rect x="47" y="11" width="271" height="2.5" fill="url(#ht2)"/>
<rect x="47" y="13" width="271" height="2.5" fill="url(#ht3)"/>
<rect x="47" y="15" width="271" height="2.5" fill="url(#ht4)"/>
<rect x="47" y="17" width="271" height="2.5" fill="url(#ht5)"/>
<rect x="47" y="19" width="271" height="2.5" fill="url(#ht6)"/>
<rect x="47" y="21" width="271" height="2.5" fill="url(#ht7)"/>
<rect x="47" y="23" width="271" height="2.5" fill="url(#ht8)"/>
<rect x="47" y="25" width="271" height="2.5" fill="url(#ht9)"/>
<rect x="47" y="27" width="271" height="2.5" fill="url(#ht10)"/>
<rect x="47" y="29" width="271" height="2.5" fill="url(#ht11)"/>
<rect x="47" y="31" width="271" height="2.5" fill="url(#ht12)"/>
<rect x="47" y="33" width="271" height="2.5" fill="url(#ht13)"/>
<rect x="47" y="35" width="271" height="2.5" fill="url(#ht14)"/>
<rect x="47" y="37" width="271" height="2.5" fill="url(#ht15)"/>
<rect x="47" y="39" width="271" height="2.5" fill="url(#ht16)"/>
<rect x="47" y="41" width="271" height="2.5" fill="url(#ht17)"/>
<rect x="47" y="43" width="271" height="2.5" fill="url(#ht18)"/>
<rect x="47" y="45" width="271" height="2.5" fill="url(#ht19)"/>
<rect x="47" y="47" width="271" height="2.5" fill="url(#ht20)"/>
<rect x="47" y="49" width="271" height="2.5" fill="url(#ht21)"/>
<rect x="47" y="51" width="271" height="2.5" fill="url(#ht22)"/>
<rect x="47" y="53" width="271" height="2.5" fill="url(#ht23)"/>
<rect x="47" y="55" width="271" height="2.5" fill="url(#ht24)"/>
<rect x="47" y="57" width="271" height="2.5" fill="url(#ht25)"/>
<rect x="47" y="59" width="271" height="2.5" fill="url(#ht26)"/>
<rect x="47" y="61" width="271" height="2.5" fill="url(#ht27)"/>
<rect x="47" y="63" width="271" height="2.5" fill="url(#ht28)"/>
<rect x="47" y="65" width="271" height="2.5" fill="url(#ht29)"/>
<rect x="47" y="67" width="271" height="2.5" fill="url(#ht30)"/>
<rect x="47" y="69" width="271" height="2.5" fill="url(#ht31)"/>
<rect x="47" y="71" width="271" height="2.5" fill="url(#ht32)"/>
<rect x="47" y="73" width="271" height="2.5" fill="url(#ht33)"/>
<rect x="47" y="75" width="271" height="2.5" fill="url(#ht34)"/>
<rect x="47" y="77" width="271" height="2.5" fill="url(#ht35)"/>
<rect x="47" y="79" width="271" height="2.5" fill="url(#ht36)"/>
<rect x="47" y="81" width="271" height="2.5" fill="url(#ht37)"/>
<rect x="47" y="83" width="271" height="2.5" fill="url(#ht38)"/>
<rect x="47" y="85" width="271" height="2.5" fill="url(#ht39)"/>
<rect x="47" y="87" width="271" height="2.5" fill="url(#ht40)"/>
<rect x="47" y="89" width="271" height="2.5" fill="url(#ht41)"/>
<rect x="47" y="91" width="271" height="2.5" fill="url(#ht42)"/>
<rect x="47" y="93" width="271" height="2.5" fill="url(#ht43)"/>
<rect x="47" y="95" width="271" height="1.5" fill="url(#ht44)"/>
<rect x="47" y="96" width="271" height="1.5" fill="url(#ht45)"/>
<rect x="47" y="97" width="271" height="1.5" fill="url(#ht46)"/>
<rect x="47" y="98" width="271" height="1.5" fill="url(#ht47)"/>
<rect x="47" y="99" width="271" height="1.5" fill="url(#ht48)"/>
<rect x="47" y="100" width="271" height="1.5" fill="url(#ht49)"/>
<rect x="47" y="101" width="271" height="1.5" fill="url(#ht50)"/>
<rect x="47" y="102" width="271" height="1.5" fill="url(#ht51)"/>
<rect x="47" y="103" width="271" height="1.5" fill="url(#ht52)"/>
<rect x="47" y="104" width="271" height="1.5" fill="url(#ht53)"/>
<rect x="47" y="105" width="271" height="1.5" fill="url(#ht54)"/>
<rect x="47" y="106" width="271" height="1.5" fill="url(#ht55)"/>
<rect x="47" y="107" width="271" height="1.5" fill="url(#ht56)"/>
<rect x="47" y="108" width="271" height="1.5" fill="url(#ht57)"/>
<rect x="47" y="109" width="271" height="1.5" fill="url(#ht58)"/>
<rect x="47" y="110" width="271" height="1.5" fill="url(#ht59)"/>
<rect x="47" y="111" width="271" height="1.5" fill="url(#ht60)"/>
<rect x="47" y="112" width="271" height="1.5" fill="url(#ht61)"/>
<rect x="47" y="113" width="271" height="1.5" fill="url(#ht62)"/>
<rect x="47" y="114" width="271" height="1.5" fill="url(#ht63)"/>
<rect x="47" y="115" width="271" height="1.5" fill="url(#ht64)"/>
<rect x="47" y="116" width="271" height="1.5" fill="url(#ht65)"/>
<rect x="47" y="117" width="271" height="1.5" fill="url(#ht66)"/>
<rect x="47" y="118" width="271" height="1.5" fill="url(#ht67)"/>
<rect x="47" y="119" width="271" height="1.5" fill="url(#ht68)"/>
<rect x="47" y="120" width="271" height="1.5" fill="url(#ht69)"/>
<rect x="47" y="121" width="271" height="1.5" fill="url(#ht70)"/>
<rect x="47" y="122" width="271" height="1.5" fill="url(#ht71)"/>
<rect x="47" y="123" width="271" height="1.5" fill="url(#ht72)"/>
<rect x="47" y="124" width="271" height="1.5" fill="url(#ht73)"/>
<rect x="47" y="125" width="271" height="1.5" fill="url(#ht74)"/>
<rect x="47" y="126" width="271" height="1.5" fill="url(#ht75)"/>
<rect x="47" y="127" width="271" height="1.5" fill="url(#ht76)"/>
<rect x="47" y="128" width="271" height="1.5" fill="url(#ht77)"/>
<rect x="47" y="129" width="271" height="1.5" fill="url(#ht78)"/>
<rect x="47" y="130" width="271" height="1.5" fill="url(#ht79)"/>
<rect x="47" y="131" width="271" height="1.5" fill="url(#ht80)"/>
<rect x="47" y="132" width="271" height="1.5" fill="url(#ht81)"/>
<rect x="47" y="133" width="271" height="1.5" fill="url(#ht82)"/>
<rect x="47" y="134" width="271" height="1.5" fill="url(#ht83)"/>
<rect x="47" y="135" width="271" height="1.5" fill="url(#ht84)"/>
<rect x="47" y="136" width="271" height="1.5" fill="url(#ht85)"/>
<rect x="47" y="137" width="271" height="1.5" fill="url(#ht86)"/>
<rect x="47" y="138" width="271" height="0.5" fill="url(#ht87)"/>
<rect x="47" y="146.2" width="271" height="1.3" fill="url(#hb0)"/>
<rect x="47" y="147" width="271" height="2.5" fill="url(#hb1)"/>
<rect x="47" y="149" width="271" height="2.5" fill="url(#hb2)"/>
<rect x="47" y="151" width="271" height="2.5" fill="url(#hb3)"/>
<rect x="47" y="153" width="271" height="2.5" fill="url(#hb4)"/>
<rect x="47" y="155" width="271" height="2.5" fill="url(#hb5)"/>
<rect x="47" y="157" width="271" height="2.5" fill="url(#hb6)"/>
<rect x="47" y="159" width="271" height="2.5" fill="url(#hb7)"/>
<rect x="47" y="161" width="271" height="2.5" fill="url(#hb8)"/>
<rect x="47" y="163" width="271" height="2.5" fill="url(#hb9)"/>
<rect x="47" y="165" width="271" height="2.5" fill="url(#hb10)"/>
<rect x="47" y="167" width="271" height="2.5" fill="url(#hb11)"/>
<rect x="47" y="169" width="271" height="2.5" fill="url(#hb12)"/>
<rect x="47" y="171" width="271" height="2.5" fill="url(#hb13)"/>
<rect x="47" y="173" width="271" height="2.5" fill="url(#hb14)"/>
<rect x="47" y="175" width="271" height="2.5" fill="url(#hb15)"/>
<rect x="47" y="177" width="271" height="2.5" fill="url(#hb16)"/>
<rect x="47" y="179" width="271" height="2.5" fill="url(#hb17)"/>
<rect x="47" y="181" width="271" height="2.5" fill="url(#hb18)"/>
<rect x="47" y="183" width="271" height="2.5" fill="url(#hb19)"/>
<rect x="47" y="185" width="271" height="2.5" fill="url(#hb20)"/>
<rect x="47" y="187" width="271" height="2.5" fill="url(#hb21)"/>
<rect x="47" y="189" width="271" height="2.5" fill="url(#hb22)"/>
<rect x="47" y="191" width="271" height="2.5" fill="url(#hb23)"/>
<rect x="47" y="193" width="271" height="2.5" fill="url(#hb24)"/>
<rect x="47" y="195" width="271" height="2.5" fill="url(#hb25)"/>
<rect x="47" y="197" width="271" height="2.5" fill="url(#hb26)"/>
<rect x="47" y="199" width="271" height="2.5" fill="url(#hb27)"/>
<rect x="47" y="201" width="271" height="2.5" fill="url(#hb28)"/>
<rect x="47" y="203" width="271" height="2.5" fill="url(#hb29)"/>
<rect x="47" y="205" width="271" height="2.5" fill="url(#hb30)"/>
<rect x="47" y="207" width="271" height="2.5" fill="url(#hb31)"/>
<rect x="47" y="209" width="271" height="2.5" fill="url(#hb32)"/>
<rect x="47" y="211" width="271" height="2.5" fill="url(#hb33)"/>
<rect x="47" y="213" width="271" height="2.5" fill="url(#hb34)"/>
<rect x="47" y="215" width="271" height="2.5" fill="url(#hb35)"/>
<rect x="47" y="217" width="271" height="2.5" fill="url(#hb36)"/>
<rect x="47" y="219" width="271" height="2.5" fill="url(#hb37)"/>
<rect x="47" y="221" width="271" height="2.5" fill="url(#hb38)"/>
<rect x="47" y="223" width="271" height="2.5" fill="url(#hb39)"/>
<rect x="47" y="225" width="271" height="2.5" fill="url(#hb40)"/>
<rect x="47" y="227" width="271" height="2.5" fill="url(#hb41)"/>
<rect x="47" y="229" width="271" height="2.5" fill="url(#hb42)"/>
<rect x="47" y="231" width="271" height="1.5" fill="url(#hb43)"/>
<rect x="47" y="232" width="271" height="1.5" fill="url(#hb44)"/>
<rect x="47" y="233" width="271" height="1.5" fill="url(#hb45)"/>
<rect x="47" y="234" width="271" height="1.5" fill="url(#hb46)"/>
<rect x="47" y="235" width="271" height="1.5" fill="url(#hb47)"/>
<rect x="47" y="236" width="271" height="1.5" fill="url(#hb48)"/>
<rect x="47" y="237" width="271" height="1.5" fill="url(#hb49)"/>
<rect x="47" y="238" width="271" height="1.5" fill="url(#hb50)"/>
<rect x="47" y="239" width="271" height="1.5" fill="url(#hb51)"/>
<rect x="47" y="240" width="271" height="1.5" fill="url(#hb52)"/>
<rect x="47" y="241" width="271" height="1.5" fill="url(#hb53)"/>
<rect x="47" y="242" width="271" height="1.5" fill="url(#hb54)"/>
<rect x="47" y="243" width="271" height="1.5" fill="url(#hb55)"/>
<rect x="47" y="244" width="271" height="1.5" fill="url(#hb56)"/>
<rect x="47" y="245" width="271" height="1.5" fill="url(#hb57)"/>
<rect x="47" y="246" width="271" height="1.5" fill="url(#hb58)"/>
<rect x="47" y="247" width="271" height="1.5" fill="url(#hb59)"/>
<rect x="47" y="248" width="271" height="1.5" fill="url(#hb60)"/>
<rect x="47" y="249" width="271" height="1.5" fill="url(#hb61)"/>
<rect x="47" y="250" width="271" height="1.5" fill="url(#hb62)"/>
<rect x="47" y="251" width="271" height="1.5" fill="url(#hb63)"/>
<rect x="47" y="252" width="271" height="1.5" fill="url(#hb64)"/>
<rect x="47" y="253" width="271" height="1.5" fill="url(#hb65)"/>
<rect x="47" y="254" width="271" height="1.5" fill="url(#hb66)"/>
<rect x="47" y="255" width="271" height="1.5" fill="url(#hb67)"/>
<rect x="47" y="256" width="271" height="1.5" fill="url(#hb68)"/>
<rect x="47" y="257" width="271" height="1.5" fill="url(#hb69)"/>
<rect x="47" y="258" width="271" height="1.5" fill="url(#hb70)"/>
<rect x="47" y="259" width="271" height="1.5" fill="url(#hb71)"/>
<rect x="47" y="260" width="271" height="1.5" fill="url(#hb72)"/>
<rect x="47" y="261" width="271" height="1.5" fill="url(#hb73)"/>
<rect x="47" y="262" width="271" height="1.5" fill="url(#hb74)"/>
<rect x="47" y="263" width="271" height="1.5" fill="url(#hb75)"/>
<rect x="47" y="264" width="271" height="1.5" fill="url(#hb76)"/>
<rect x="47" y="265" width="271" height="1.5" fill="url(#hb77)"/>
<rect x="47" y="266" width="271" height="1.5" fill="url(#hb78)"/>
<rect x="47" y="267" width="271" height="1.5" fill="url(#hb79)"/>
<rect x="47" y="268" width="271" height="1.5" fill="url(#hb80)"/>
<rect x="47" y="269" width="271" height="1.5" fill="url(#hb81)"/>
<rect x="47" y="270" width="271" height="1.5" fill="url(#hb82)"/>
<rect x="47" y="271" width="271" height="1.5" fill="url(#hb83)"/>
<rect x="47" y="272" width="271" height="1.5" fill="url(#hb84)"/>
<rect x="47" y="273" width="271" height="1.5" fill="url(#hb85)"/>
<rect x="47" y="274" width="271" height="1.5" fill="url(#hb86)"/>
<rect x="47" y="275" width="271" height="0.6" fill="url(#hb87)"/>
<rect x="181.4" y="8.7" width="7.3" height="129.8" fill="#fff"/>
<rect x="181.4" y="146.2" width="7.3" height="129.4" fill="#fff"/>
<rect x="47" y="136.8" width="134.4" height="1.2" fill="#1010f0"/>
<line x1="47.3" y1="99.5" x2="318" y2="99.5" stroke="#444" stroke-width="0.9" stroke-dasharray="5.7 2.85"/>
<line x1="47.3" y1="236.5" x2="318" y2="236.5" stroke="#444" stroke-width="0.9" stroke-dasharray="5.7 2.85"/>
<path d="M181.4,8.7 H47 V138.5 H181.4 M188.7,138.5 H318 V8.7 H188.7" stroke="#000" stroke-width="1.3" fill="none"/>
<path d="M181.2,5.2 L184.0,12 M186.2,5.3 L188.9,12" stroke="#000" stroke-width="1.15" fill="none"/>
<path d="M181.2,135 L184.0,141.8 M186.2,135.1 L188.9,141.8" stroke="#000" stroke-width="1.15" fill="none"/>
<line x1="47" y1="138.5" x2="47" y2="143" stroke="#000" stroke-width="1" />
<line x1="78.8" y1="138.5" x2="78.8" y2="143" stroke="#000" stroke-width="1" />
<line x1="110.6" y1="138.5" x2="110.6" y2="143" stroke="#000" stroke-width="1" />
<line x1="142.4" y1="138.5" x2="142.4" y2="143" stroke="#000" stroke-width="1" />
<line x1="174.2" y1="138.5" x2="174.2" y2="143" stroke="#000" stroke-width="1" />
<line x1="191.2" y1="138.5" x2="191.2" y2="143" stroke="#000" stroke-width="1" />
<line x1="222.35" y1="138.5" x2="222.35" y2="143" stroke="#000" stroke-width="1" />
<line x1="253.5" y1="138.5" x2="253.5" y2="143" stroke="#000" stroke-width="1" />
<line x1="284.65" y1="138.5" x2="284.65" y2="143" stroke="#000" stroke-width="1" />
<line x1="315.8" y1="138.5" x2="315.8" y2="143" stroke="#000" stroke-width="1" />
<path d="M181.4,146.2 H47 V275.6 H181.4 M188.7,275.6 H318 V146.2 H188.7" stroke="#000" stroke-width="1.3" fill="none"/>
<path d="M181.2,142.7 L184.0,149.5 M186.2,142.8 L188.9,149.5" stroke="#000" stroke-width="1.15" fill="none"/>
<path d="M181.2,272.1 L184.0,278.9 M186.2,272.2 L188.9,278.9" stroke="#000" stroke-width="1.15" fill="none"/>
<line x1="47" y1="275.6" x2="47" y2="280.1" stroke="#000" stroke-width="1" />
<line x1="78.8" y1="275.6" x2="78.8" y2="280.1" stroke="#000" stroke-width="1" />
<line x1="110.6" y1="275.6" x2="110.6" y2="280.1" stroke="#000" stroke-width="1" />
<line x1="142.4" y1="275.6" x2="142.4" y2="280.1" stroke="#000" stroke-width="1" />
<line x1="174.2" y1="275.6" x2="174.2" y2="280.1" stroke="#000" stroke-width="1" />
<line x1="191.2" y1="275.6" x2="191.2" y2="280.1" stroke="#000" stroke-width="1" />
<line x1="222.35" y1="275.6" x2="222.35" y2="280.1" stroke="#000" stroke-width="1" />
<line x1="253.5" y1="275.6" x2="253.5" y2="280.1" stroke="#000" stroke-width="1" />
<line x1="284.65" y1="275.6" x2="284.65" y2="280.1" stroke="#000" stroke-width="1" />
<line x1="315.8" y1="275.6" x2="315.8" y2="280.1" stroke="#000" stroke-width="1" />
<line x1="42.5" y1="138.5" x2="47" y2="138.5" stroke="#000" stroke-width="1" />
<text x="38.3" y="142.4" font-size="11" text-anchor="end" fill="#231f20" stroke="#231f20" stroke-width="0.22" >0</text>
<line x1="44" y1="118.82" x2="47" y2="118.82" stroke="#000" stroke-width="1" />
<line x1="42.5" y1="99.13" x2="47" y2="99.13" stroke="#000" stroke-width="1" />
<text x="38.3" y="103.03" font-size="11" text-anchor="end" fill="#231f20" stroke="#231f20" stroke-width="0.22" >100</text>
<line x1="44" y1="79.45" x2="47" y2="79.45" stroke="#000" stroke-width="1" />
<line x1="42.5" y1="59.77" x2="47" y2="59.77" stroke="#000" stroke-width="1" />
<text x="38.3" y="63.67" font-size="11" text-anchor="end" fill="#231f20" stroke="#231f20" stroke-width="0.22" >200</text>
<line x1="44" y1="40.08" x2="47" y2="40.08" stroke="#000" stroke-width="1" />
<line x1="42.5" y1="20.4" x2="47" y2="20.4" stroke="#000" stroke-width="1" />
<text x="38.3" y="24.3" font-size="11" text-anchor="end" fill="#231f20" stroke="#231f20" stroke-width="0.22" >300</text>
<line x1="42.5" y1="275.6" x2="47" y2="275.6" stroke="#000" stroke-width="1" />
<text x="38.3" y="279.5" font-size="11" text-anchor="end" fill="#231f20" stroke="#231f20" stroke-width="0.22" >0</text>
<line x1="44" y1="255.97" x2="47" y2="255.97" stroke="#000" stroke-width="1" />
<line x1="42.5" y1="236.33" x2="47" y2="236.33" stroke="#000" stroke-width="1" />
<text x="38.3" y="240.23" font-size="11" text-anchor="end" fill="#231f20" stroke="#231f20" stroke-width="0.22" >100</text>
<line x1="44" y1="216.7" x2="47" y2="216.7" stroke="#000" stroke-width="1" />
<line x1="42.5" y1="197.07" x2="47" y2="197.07" stroke="#000" stroke-width="1" />
<text x="38.3" y="200.97" font-size="11" text-anchor="end" fill="#231f20" stroke="#231f20" stroke-width="0.22" >200</text>
<line x1="44" y1="177.43" x2="47" y2="177.43" stroke="#000" stroke-width="1" />
<line x1="42.5" y1="157.8" x2="47" y2="157.8" stroke="#000" stroke-width="1" />
<text x="38.3" y="161.7" font-size="11" text-anchor="end" fill="#231f20" stroke="#231f20" stroke-width="0.22" >300</text>
<text x="47" y="293.3" font-size="11" text-anchor="middle" fill="#231f20" stroke="#231f20" stroke-width="0.22" >0.3</text>
<text x="110.6" y="293.3" font-size="11" text-anchor="middle" fill="#231f20" stroke="#231f20" stroke-width="0.22" >0.5</text>
<text x="173.2" y="293.3" font-size="11" text-anchor="middle" fill="#231f20" stroke="#231f20" stroke-width="0.22" >0.7</text>
<text x="192.3" y="293.3" font-size="11" text-anchor="middle" fill="#231f20" stroke="#231f20" stroke-width="0.22" >0.8</text>
<text x="253.5" y="293.3" font-size="11" text-anchor="middle" fill="#231f20" stroke="#231f20" stroke-width="0.22" >1.0</text>
<text x="315.2" y="293.3" font-size="11" text-anchor="middle" fill="#231f20" stroke="#231f20" stroke-width="0.22" >1.2</text>
<text x="180.2" y="308.7" font-size="11.2" text-anchor="middle" fill="#231f20" stroke="#231f20" stroke-width="0.22" >Probe energy (eV)</text>
<text x="8.9" y="144.7" font-size="11.5" text-anchor="middle" fill="#231f20" stroke="#231f20" stroke-width="0.22" transform="rotate(-90 8.9 144.7)">Delay (ps)</text>
<rect x="139.3" y="38.4" width="92.4" height="6.5" fill="url(#cbar)" stroke="#555" stroke-width="0.6"/>
<line x1="139.3" y1="38.4" x2="139.3" y2="40" stroke="#444" stroke-width="0.6" />
<line x1="150.85" y1="38.4" x2="150.85" y2="40" stroke="#444" stroke-width="0.6" />
<line x1="162.4" y1="38.4" x2="162.4" y2="40" stroke="#444" stroke-width="0.6" />
<line x1="173.95" y1="38.4" x2="173.95" y2="40" stroke="#444" stroke-width="0.6" />
<line x1="185.5" y1="38.4" x2="185.5" y2="40" stroke="#444" stroke-width="0.6" />
<line x1="197.05" y1="38.4" x2="197.05" y2="40" stroke="#444" stroke-width="0.6" />
<line x1="208.6" y1="38.4" x2="208.6" y2="40" stroke="#444" stroke-width="0.6" />
<line x1="220.15" y1="38.4" x2="220.15" y2="40" stroke="#444" stroke-width="0.6" />
<line x1="231.7" y1="38.4" x2="231.7" y2="40" stroke="#444" stroke-width="0.6" />
<text x="139" y="31.6" font-size="10.9" text-anchor="middle" fill="#231f20" stroke="#231f20" stroke-width="0.22" >−0.01</text>
<text x="185.3" y="31.6" font-size="10.9" text-anchor="middle" fill="#231f20" stroke="#231f20" stroke-width="0.22" >0.0</text>
<text x="230.3" y="31.6" font-size="10.9" text-anchor="middle" fill="#231f20" stroke="#231f20" stroke-width="0.22" >0.01</text>
<text x="236.8" y="44" font-size="10.8" text-anchor="start" fill="#231f20" stroke="#231f20" stroke-width="0.22" >ΔR/R<tspan font-size="8" dy="3">0</tspan></text>
<text x="173.8" y="77.6" font-size="11.5" text-anchor="start" fill="#231f20" stroke="#231f20" stroke-width="0.22" >E</text><path d="M181.2,77.15 H187.9 M184.55,77.15 V69.7" stroke="#555" stroke-width="0.85" fill="none"/><text x="188.3" y="77.6" font-size="11.5" text-anchor="start" fill="#231f20" stroke="#231f20" stroke-width="0.22" >c</text>
<text x="173.3" y="198.4" font-size="11.5" text-anchor="start" fill="#231f20" stroke="#231f20" stroke-width="0.22" >E</text><path d="M183.5,199.7 V187.2" stroke="#999" stroke-width="0.95" fill="none"/><path d="M186.8,199.7 V187.2" stroke="#444" stroke-width="0.95" fill="none"/><text x="190.5" y="198.4" font-size="11.5" text-anchor="start" fill="#231f20" stroke="#231f20" stroke-width="0.22" >c</text>
<text x="-0.3" y="8.9" font-size="16" text-anchor="start" fill="#231f20" font-weight="bold" >a</text>
<rect x="80" y="338.0" width="2.8" height="108.5" fill="#cfcfcf"/>
<rect x="80" y="451.8" width="2.8" height="110.6" fill="#cfcfcf"/>
<rect x="95" y="338.0" width="2.8" height="108.5" fill="#cfcfcf"/>
<rect x="95" y="451.8" width="2.8" height="110.6" fill="#cfcfcf"/>
<rect x="159.5" y="338.0" width="2.8" height="108.5" fill="#cfcfcf"/>
<rect x="159.5" y="451.8" width="2.8" height="110.6" fill="#cfcfcf"/>
<rect x="265.2" y="338.0" width="2.8" height="108.5" fill="#cfcfcf"/>
<rect x="265.2" y="451.8" width="2.8" height="110.6" fill="#cfcfcf"/>
<path d="M47,387.4 L47.5,387.34 L48,387.27 L48.5,387.17 L49,387.06 L49.5,386.93 L50,386.79 L50.5,386.63 L51,386.45 L51.5,386.26 L52,386.07 L52.5,385.86 L53,385.64 L53.5,385.41 L53.99,385.17 L54.49,384.93 L54.99,384.68 L55.49,384.42 L55.99,384.16 L56.49,383.9 L56.99,383.63 L57.49,383.33 L57.99,383.01 L58.49,382.66 L58.99,382.29 L59.49,381.89 L59.99,381.48 L60.49,381.04 L60.99,380.59 L61.49,380.11 L61.99,379.61 L62.49,379.1 L62.99,378.56 L63.49,378.01 L63.99,377.45 L64.49,376.85 L64.99,376.2 L65.49,375.49 L65.99,374.73 L66.49,373.92 L66.99,373.07 L67.48,372.18 L67.98,371.27 L68.48,370.33 L68.98,369.38 L69.48,368.41 L69.98,367.44 L70.48,366.43 L70.98,365.39 L71.48,364.31 L71.98,363.19 L72.48,362.04 L72.98,360.87 L73.48,359.67 L73.98,358.46 L74.48,357.23 L74.98,355.99 L75.48,354.75 L75.98,353.47 L76.48,352.02 L76.98,350.49 L77.48,349.02 L77.98,347.71 L78.48,346.69 L78.98,345.95 L79.48,345.25 L79.98,344.62 L80.48,344.12 L80.97,343.79 L81.47,343.7 L81.97,343.91 L82.47,344.36 L82.97,344.95 L83.47,345.6 L83.97,346.45 L84.47,347.58 L84.97,348.89 L85.47,350.28 L85.97,351.68 L86.47,353.03 L86.97,354.45 L87.47,355.94 L87.97,357.46 L88.47,359 L88.97,360.53 L89.47,362.01 L89.97,363.44 L90.47,364.81 L90.97,366.2 L91.47,367.59 L91.97,368.94 L92.47,370.24 L92.97,371.45 L93.47,372.55 L93.97,373.52 L94.47,374.41 L94.96,375.26 L95.46,376.08 L95.96,376.85 L96.46,377.57 L96.96,378.24 L97.46,378.85 L97.96,379.41 L98.46,379.89 L98.96,380.32 L99.46,380.72 L99.96,381.1 L100.46,381.46 L100.96,381.81 L101.46,382.14 L101.96,382.45 L102.46,382.75 L102.96,383.02 L103.46,383.29 L103.96,383.53 L104.46,383.76 L104.96,383.97 L105.46,384.17 L105.96,384.35 L106.46,384.52 L106.96,384.67 L107.46,384.82 L107.96,384.97 L108.45,385.1 L108.95,385.24 L109.45,385.36 L109.95,385.48 L110.45,385.59 L110.95,385.7 L111.45,385.8 L111.95,385.9 L112.45,386 L112.95,386.08 L113.45,386.17 L113.95,386.25 L114.45,386.32 L114.95,386.39 L115.45,386.46 L115.95,386.53 L116.45,386.6 L116.95,386.67 L117.45,386.74 L117.95,386.8 L118.45,386.87 L118.95,386.94 L119.45,387 L119.95,387.07 L120.45,387.13 L120.95,387.19 L121.45,387.26 L121.94,387.32 L122.44,387.38 L122.94,387.44 L123.44,387.49 L123.94,387.55 L124.44,387.6 L124.94,387.66 L125.44,387.71 L125.94,387.75 L126.44,387.8 L126.94,387.85 L127.44,387.89 L127.94,387.93 L128.44,387.97 L128.94,388 L129.44,388.03 L129.94,388.06 L130.44,388.09 L130.94,388.11 L131.44,388.14 L131.94,388.16 L132.44,388.17 L132.94,388.18 L133.44,388.19 L133.94,388.2 L134.44,388.2 L134.94,388.2 L135.43,388.2 L135.93,388.2 L136.43,388.2 L136.93,388.2 L137.43,388.2 L137.93,388.2 L138.43,388.2 L138.93,388.2 L139.43,388.2 L139.93,388.2 L140.43,388.2 L140.93,388.2 L141.43,388.2 L141.93,388.2 L142.43,388.2 L142.93,388.2 L143.43,388.2 L143.93,388.2 L144.43,388.2 L144.93,388.2 L145.43,388.2 L145.93,388.2 L146.43,388.2 L146.93,388.2 L147.43,388.2 L147.93,388.2 L148.43,388.2 L148.92,388.2 L149.42,388.2 L149.92,388.2 L150.42,388.2 L150.92,388.2 L151.42,388.2 L151.92,388.2 L152.42,388.2 L152.92,388.2 L153.42,388.2 L153.92,388.2 L154.42,388.2 L154.92,388.2 L155.42,388.2 L155.92,388.2 L156.42,388.2 L156.92,388.2 L157.42,388.2 L157.92,388.2 L158.42,388.2 L158.92,388.2 L159.42,388.2 L159.92,388.2 L160.42,388.2 L160.92,388.2 L161.42,388.2 L161.92,388.19 L162.41,388.19 L162.91,388.19 L163.41,388.19 L163.91,388.19 L164.41,388.18 L164.91,388.18 L165.41,388.18 L165.91,388.17 L166.41,388.17 L166.91,388.16 L167.41,388.16 L167.91,388.15 L168.41,388.15 L168.91,388.14 L169.41,388.14 L169.91,388.13 L170.41,388.13 L170.91,388.12 L171.41,388.12 L171.91,388.11 L172.41,388.1 L172.91,388.1 L173.41,388.09 L173.91,388.09 L174.41,388.08 L174.91,388.07 L175.41,388.07 L175.9,388.06 L176.4,388.05 L176.9,388.04 L177.4,388.04 L177.9,388.03 L178.4,388.02 L178.9,388.02 L179.4,388.01 L179.9,388 L180.4,387.99 L180.9,387.99 L181.4,387.98 L181.9,387.97 L182.4,387.96 L182.9,387.95 L183.4,387.94 L183.9,387.93 L184.4,387.92 L184.9,387.91 L185.4,387.9 L185.9,387.89 L186.4,387.87 L186.9,387.86 L187.4,387.85 L187.9,387.83 L188.4,387.82 L188.9,387.81 L189.4,387.79 L189.89,387.78 L190.39,387.76 L190.89,387.75 L191.39,387.73 L191.89,387.71 L192.39,387.7 L192.89,387.68 L193.39,387.66 L193.89,387.64 L194.39,387.63 L194.89,387.61 L195.39,387.59 L195.89,387.57 L196.39,387.55 L196.89,387.53 L197.39,387.51 L197.89,387.49 L198.39,387.47 L198.89,387.45 L199.39,387.43 L199.89,387.4 L200.39,387.38 L200.89,387.36 L201.39,387.33 L201.89,387.3 L202.39,387.27 L202.89,387.24 L203.38,387.2 L203.88,387.17 L204.38,387.13 L204.88,387.1 L205.38,387.06 L205.88,387.02 L206.38,386.98 L206.88,386.95 L207.38,386.91 L207.88,386.87 L208.38,386.83 L208.88,386.79 L209.38,386.76 L209.88,386.72 L210.38,386.68 L210.88,386.65 L211.38,386.61 L211.88,386.57 L212.38,386.53 L212.88,386.49 L213.38,386.45 L213.88,386.41 L214.38,386.37 L214.88,386.33 L215.38,386.29 L215.88,386.25 L216.38,386.2 L216.87,386.16 L217.37,386.11 L217.87,386.06 L218.37,386.02 L218.87,385.97 L219.37,385.92 L219.87,385.87 L220.37,385.81 L220.87,385.76 L221.37,385.71 L221.87,385.65 L222.37,385.59 L222.87,385.54 L223.37,385.48 L223.87,385.42 L224.37,385.35 L224.87,385.29 L225.37,385.22 L225.87,385.16 L226.37,385.09 L226.87,385.02 L227.37,384.95 L227.87,384.88 L228.37,384.8 L228.87,384.73 L229.37,384.65 L229.87,384.57 L230.36,384.48 L230.86,384.4 L231.36,384.31 L231.86,384.22 L232.36,384.13 L232.86,384.03 L233.36,383.94 L233.86,383.84 L234.36,383.73 L234.86,383.63 L235.36,383.52 L235.86,383.41 L236.36,383.29 L236.86,383.16 L237.36,383.03 L237.86,382.89 L238.36,382.76 L238.86,382.61 L239.36,382.47 L239.86,382.32 L240.36,382.17 L240.86,382.02 L241.36,381.86 L241.86,381.71 L242.36,381.55 L242.86,381.39 L243.36,381.24 L243.85,381.08 L244.35,380.92 L244.85,380.76 L245.35,380.59 L245.85,380.42 L246.35,380.25 L246.85,380.07 L247.35,379.89 L247.85,379.71 L248.35,379.54 L248.85,379.36 L249.35,379.18 L249.85,379 L250.35,378.83 L250.85,378.66 L251.35,378.49 L251.85,378.33 L252.35,378.18 L252.85,378.02 L253.35,377.87 L253.85,377.72 L254.35,377.56 L254.85,377.4 L255.35,377.25 L255.85,377.1 L256.35,376.96 L256.85,376.82 L257.34,376.68 L257.84,376.56 L258.34,376.44 L258.84,376.34 L259.34,376.24 L259.84,376.16 L260.34,376.08 L260.84,376 L261.34,375.92 L261.84,375.84 L262.34,375.77 L262.84,375.7 L263.34,375.64 L263.84,375.59 L264.34,375.55 L264.84,375.52 L265.34,375.5 L265.84,375.5 L266.34,375.51 L266.84,375.53 L267.34,375.57 L267.84,375.62 L268.34,375.67 L268.84,375.73 L269.34,375.8 L269.84,375.88 L270.34,375.96 L270.83,376.04 L271.33,376.12 L271.83,376.21 L272.33,376.3 L272.83,376.42 L273.33,376.55 L273.83,376.7 L274.33,376.86 L274.83,377.03 L275.33,377.21 L275.83,377.4 L276.33,377.59 L276.83,377.78 L277.33,377.97 L277.83,378.15 L278.33,378.34 L278.83,378.51 L279.33,378.68 L279.83,378.86 L280.33,379.03 L280.83,379.21 L281.33,379.39 L281.83,379.57 L282.33,379.75 L282.83,379.93 L283.33,380.12 L283.83,380.3 L284.33,380.48 L284.82,380.65 L285.32,380.83 L285.82,381.01 L286.32,381.18 L286.82,381.35 L287.32,381.51 L287.82,381.67 L288.32,381.83 L288.82,381.99 L289.32,382.15 L289.82,382.31 L290.32,382.47 L290.82,382.62 L291.32,382.78 L291.82,382.93 L292.32,383.08 L292.82,383.23 L293.32,383.38 L293.82,383.52 L294.32,383.66 L294.82,383.79 L295.32,383.93 L295.82,384.06 L296.32,384.18 L296.82,384.3 L297.32,384.42 L297.82,384.54 L298.31,384.66 L298.81,384.78 L299.31,384.89 L299.81,385 L300.31,385.11 L300.81,385.22 L301.31,385.33 L301.81,385.43 L302.31,385.53 L302.81,385.62 L303.31,385.71 L303.81,385.8 L304.31,385.88 L304.81,385.96 L305.31,386.03 L305.81,386.1 L306.31,386.17 L306.81,386.24 L307.31,386.31 L307.81,386.38 L308.31,386.44 L308.81,386.51 L309.31,386.57 L309.81,386.64 L310.31,386.7 L310.81,386.76 L311.31,386.82 L311.8,386.87 L312.3,386.93 L312.8,386.98 L313.3,387.03 L313.8,387.08 L314.3,387.13 L314.8,387.17 L315.3,387.21 L315.8,387.25 L316.3,387.29 L316.8,387.32 L317.3,387.35 L317.8,387.38 L318.3,387.4" stroke="#111" stroke-width="1.1" fill="none" />
<g fill="#1414ff"><circle cx="68.3" cy="413.3" r="1.5"/><circle cx="69.1" cy="414.1" r="1.5"/><circle cx="70.0" cy="416.0" r="1.5"/><circle cx="70.8" cy="417.5" r="1.5"/><circle cx="71.7" cy="419.5" r="1.5"/><circle cx="72.5" cy="422.2" r="1.5"/><circle cx="73.4" cy="425.1" r="1.5"/><circle cx="74.2" cy="428.4" r="1.5"/><circle cx="75.1" cy="430.9" r="1.5"/><circle cx="75.9" cy="434.1" r="1.5"/><circle cx="76.8" cy="437.6" r="1.5"/><circle cx="77.6" cy="439.9" r="1.5"/><circle cx="78.5" cy="440.4" r="1.5"/><circle cx="79.3" cy="436.8" r="1.5"/><circle cx="80.2" cy="432.4" r="1.5"/><circle cx="81.0" cy="426.4" r="1.5"/><circle cx="81.9" cy="417.4" r="1.5"/><circle cx="82.7" cy="406.1" r="1.5"/><circle cx="83.6" cy="400.3" r="1.5"/><circle cx="84.4" cy="391.0" r="1.5"/><circle cx="85.3" cy="386.3" r="1.5"/><circle cx="86.1" cy="382.7" r="1.5"/><circle cx="87.0" cy="381.3" r="1.5"/><circle cx="87.8" cy="379.8" r="1.5"/><circle cx="88.7" cy="379.9" r="1.5"/><circle cx="89.5" cy="381.2" r="1.5"/><circle cx="90.4" cy="382.0" r="1.5"/><circle cx="91.2" cy="382.9" r="1.5"/><circle cx="92.1" cy="384.1" r="1.5"/><circle cx="92.9" cy="385.4" r="1.5"/><circle cx="93.8" cy="386.7" r="1.5"/><circle cx="94.6" cy="387.6" r="1.5"/><circle cx="95.5" cy="389.2" r="1.5"/><circle cx="96.3" cy="390.1" r="1.5"/><circle cx="97.2" cy="391.0" r="1.5"/><circle cx="98.0" cy="391.7" r="1.5"/><circle cx="98.9" cy="392.9" r="1.5"/><circle cx="99.7" cy="393.5" r="1.5"/><circle cx="100.6" cy="393.7" r="1.5"/><circle cx="101.4" cy="394.9" r="1.5"/><circle cx="102.3" cy="395.7" r="1.5"/><circle cx="103.1" cy="395.8" r="1.5"/><circle cx="104.0" cy="396.6" r="1.5"/><circle cx="104.8" cy="396.5" r="1.5"/><circle cx="105.7" cy="397.2" r="1.5"/><circle cx="106.5" cy="397.4" r="1.5"/><circle cx="107.4" cy="397.8" r="1.5"/><circle cx="108.2" cy="398.5" r="1.5"/><circle cx="109.1" cy="398.6" r="1.5"/><circle cx="109.9" cy="399.3" r="1.5"/><circle cx="110.8" cy="399.2" r="1.5"/><circle cx="111.6" cy="399.0" r="1.5"/><circle cx="112.5" cy="399.6" r="1.5"/><circle cx="113.3" cy="400.3" r="1.5"/><circle cx="114.2" cy="400.0" r="1.5"/><circle cx="115.0" cy="399.7" r="1.5"/><circle cx="115.9" cy="400.0" r="1.5"/><circle cx="116.7" cy="399.8" r="1.5"/><circle cx="117.6" cy="400.8" r="1.5"/><circle cx="118.4" cy="400.8" r="1.5"/><circle cx="119.3" cy="400.6" r="1.5"/><circle cx="120.1" cy="400.4" r="1.5"/><circle cx="121.0" cy="400.6" r="1.5"/><circle cx="121.8" cy="400.0" r="1.5"/><circle cx="122.7" cy="400.2" r="1.5"/><circle cx="123.5" cy="400.4" r="1.5"/><circle cx="124.4" cy="400.3" r="1.5"/><circle cx="125.2" cy="400.0" r="1.5"/><circle cx="126.1" cy="400.9" r="1.5"/><circle cx="126.9" cy="400.4" r="1.5"/><circle cx="127.8" cy="400.4" r="1.5"/><circle cx="128.6" cy="400.3" r="1.5"/><circle cx="129.5" cy="400.2" r="1.5"/><circle cx="130.3" cy="400.4" r="1.5"/><circle cx="131.2" cy="400.8" r="1.5"/><circle cx="132.0" cy="400.7" r="1.5"/><circle cx="132.9" cy="400.4" r="1.5"/><circle cx="133.7" cy="400.0" r="1.5"/><circle cx="134.6" cy="400.8" r="1.5"/><circle cx="135.4" cy="400.3" r="1.5"/><circle cx="136.3" cy="400.6" r="1.5"/><circle cx="137.1" cy="400.0" r="1.5"/><circle cx="138.0" cy="400.7" r="1.5"/><circle cx="138.8" cy="400.4" r="1.5"/><circle cx="139.7" cy="400.5" r="1.5"/><circle cx="140.5" cy="400.4" r="1.5"/><circle cx="141.4" cy="400.4" r="1.5"/><circle cx="142.2" cy="400.6" r="1.5"/><circle cx="143.1" cy="401.0" r="1.5"/><circle cx="143.9" cy="400.1" r="1.5"/><circle cx="144.8" cy="400.3" r="1.5"/><circle cx="145.6" cy="400.0" r="1.5"/><circle cx="146.5" cy="400.7" r="1.5"/><circle cx="147.3" cy="400.7" r="1.5"/><circle cx="148.2" cy="400.2" r="1.5"/><circle cx="149.0" cy="400.4" r="1.5"/><circle cx="149.9" cy="400.6" r="1.5"/><circle cx="150.7" cy="400.7" r="1.5"/><circle cx="151.6" cy="400.2" r="1.5"/><circle cx="152.4" cy="400.9" r="1.5"/><circle cx="153.3" cy="400.8" r="1.5"/><circle cx="154.1" cy="400.1" r="1.5"/><circle cx="155.0" cy="400.9" r="1.5"/><circle cx="155.8" cy="400.7" r="1.5"/><circle cx="171.1" cy="400.8" r="1.5"/><circle cx="172.0" cy="400.5" r="1.5"/><circle cx="172.8" cy="400.2" r="1.5"/><circle cx="173.7" cy="400.9" r="1.5"/><circle cx="174.5" cy="400.6" r="1.5"/><circle cx="175.4" cy="400.4" r="1.5"/><circle cx="176.2" cy="400.4" r="1.5"/><circle cx="177.1" cy="401.0" r="1.5"/><circle cx="177.9" cy="400.6" r="1.5"/><circle cx="178.8" cy="400.7" r="1.5"/><circle cx="179.6" cy="400.8" r="1.5"/><circle cx="180.5" cy="401.1" r="1.5"/><circle cx="181.3" cy="400.9" r="1.5"/><circle cx="182.2" cy="400.5" r="1.5"/><circle cx="183.0" cy="401.0" r="1.5"/><circle cx="183.9" cy="400.9" r="1.5"/><circle cx="184.7" cy="401.0" r="1.5"/><circle cx="185.6" cy="401.2" r="1.5"/><circle cx="186.4" cy="400.8" r="1.5"/><circle cx="187.3" cy="400.8" r="1.5"/><circle cx="188.1" cy="400.7" r="1.5"/><circle cx="189.0" cy="400.9" r="1.5"/><circle cx="189.8" cy="400.7" r="1.5"/><circle cx="190.7" cy="401.3" r="1.5"/><circle cx="191.5" cy="401.0" r="1.5"/><circle cx="192.4" cy="400.9" r="1.5"/><circle cx="193.2" cy="400.8" r="1.5"/><circle cx="194.1" cy="401.0" r="1.5"/><circle cx="194.9" cy="400.9" r="1.5"/><circle cx="195.8" cy="400.9" r="1.5"/><circle cx="196.6" cy="401.1" r="1.5"/><circle cx="197.5" cy="401.1" r="1.5"/><circle cx="198.3" cy="401.4" r="1.5"/><circle cx="199.2" cy="401.5" r="1.5"/><circle cx="200.0" cy="400.5" r="1.5"/><circle cx="200.9" cy="400.6" r="1.5"/><circle cx="201.7" cy="400.9" r="1.5"/><circle cx="202.6" cy="400.4" r="1.5"/><circle cx="203.4" cy="401.0" r="1.5"/><circle cx="204.3" cy="400.3" r="1.5"/><circle cx="205.1" cy="400.7" r="1.5"/><circle cx="206.0" cy="400.5" r="1.5"/><circle cx="206.8" cy="400.6" r="1.5"/><circle cx="207.7" cy="399.7" r="1.5"/><circle cx="208.5" cy="399.8" r="1.5"/><circle cx="209.4" cy="400.2" r="1.5"/><circle cx="210.2" cy="399.5" r="1.5"/><circle cx="211.1" cy="399.3" r="1.5"/><circle cx="211.9" cy="399.5" r="1.5"/><circle cx="212.8" cy="399.7" r="1.5"/><circle cx="213.6" cy="399.0" r="1.5"/><circle cx="214.5" cy="398.9" r="1.5"/><circle cx="215.3" cy="398.8" r="1.5"/><circle cx="216.2" cy="399.0" r="1.5"/><circle cx="217.0" cy="399.2" r="1.5"/><circle cx="217.9" cy="398.6" r="1.5"/><circle cx="218.7" cy="399.1" r="1.5"/><circle cx="219.6" cy="398.5" r="1.5"/><circle cx="220.4" cy="398.6" r="1.5"/><circle cx="221.3" cy="398.1" r="1.5"/><circle cx="222.1" cy="398.2" r="1.5"/><circle cx="223.0" cy="398.4" r="1.5"/><circle cx="223.8" cy="397.7" r="1.5"/><circle cx="224.7" cy="397.3" r="1.5"/><circle cx="225.5" cy="397.3" r="1.5"/><circle cx="226.4" cy="397.2" r="1.5"/><circle cx="227.2" cy="397.0" r="1.5"/><circle cx="228.1" cy="396.9" r="1.5"/><circle cx="228.9" cy="396.2" r="1.5"/><circle cx="229.8" cy="396.1" r="1.5"/><circle cx="230.6" cy="396.2" r="1.5"/><circle cx="231.5" cy="396.3" r="1.5"/><circle cx="232.3" cy="396.1" r="1.5"/><circle cx="233.2" cy="395.9" r="1.5"/><circle cx="234.0" cy="395.4" r="1.5"/><circle cx="234.9" cy="395.7" r="1.5"/><circle cx="235.7" cy="394.8" r="1.5"/><circle cx="236.6" cy="394.7" r="1.5"/><circle cx="237.4" cy="394.7" r="1.5"/><circle cx="238.3" cy="394.5" r="1.5"/><circle cx="239.1" cy="393.8" r="1.5"/><circle cx="240.0" cy="394.0" r="1.5"/><circle cx="240.8" cy="393.3" r="1.5"/><circle cx="241.7" cy="393.3" r="1.5"/><circle cx="242.5" cy="392.3" r="1.5"/><circle cx="243.4" cy="392.1" r="1.5"/><circle cx="244.2" cy="392.8" r="1.5"/><circle cx="245.1" cy="391.8" r="1.5"/><circle cx="245.9" cy="392.1" r="1.5"/><circle cx="246.8" cy="391.6" r="1.5"/><circle cx="247.6" cy="391.4" r="1.5"/><circle cx="248.5" cy="391.4" r="1.5"/><circle cx="249.3" cy="391.8" r="1.5"/><circle cx="250.2" cy="391.4" r="1.5"/><circle cx="251.0" cy="391.6" r="1.5"/><circle cx="251.9" cy="391.3" r="1.5"/><circle cx="252.7" cy="391.0" r="1.5"/><circle cx="253.6" cy="391.0" r="1.5"/><circle cx="254.4" cy="390.7" r="1.5"/><circle cx="255.3" cy="390.6" r="1.5"/><circle cx="256.1" cy="391.2" r="1.5"/><circle cx="257.0" cy="391.7" r="1.5"/></g>
<path d="M47,401.9 L47.5,401.9 L48,401.92 L48.5,401.94 L49,401.97 L49.5,402 L49.99,402.04 L50.49,402.09 L50.99,402.14 L51.49,402.2 L51.99,402.25 L52.49,402.32 L52.99,402.38 L53.49,402.45 L53.99,402.52 L54.49,402.58 L54.99,402.66 L55.48,402.74 L55.98,402.82 L56.48,402.92 L56.98,403.03 L57.48,403.15 L57.98,403.28 L58.48,403.41 L58.98,403.56 L59.48,403.72 L59.98,403.89 L60.48,404.08 L60.97,404.27 L61.47,404.5 L61.97,404.77 L62.47,405.08 L62.97,405.42 L63.47,405.81 L63.97,406.22 L64.47,406.67 L64.97,407.16 L65.47,407.68 L65.97,408.34 L66.46,409.12 L66.96,410 L67.46,410.93 L67.96,411.87 L68.46,412.79 L68.96,413.73 L69.46,414.71 L69.96,415.74 L70.46,416.83 L70.96,417.99 L71.45,419.22 L71.95,420.51 L72.45,421.84 L72.95,423.22 L73.45,424.65 L73.95,426.21 L74.45,427.91 L74.95,429.8 L75.45,431.91 L75.95,434.55 L76.45,436.99 L76.94,439.19 L77.44,440.48 L77.94,440.3 L78.44,439.7 L78.94,438.72 L79.44,436.6 L79.94,433.76 L80.44,430.13 L80.94,425.58 L81.44,420.76 L81.94,415.65 L82.43,410.63 L82.93,405.65 L83.43,400.52 L83.93,395.48 L84.43,391.63 L84.93,388.49 L85.43,385.79 L85.93,383.75 L86.43,382.49 L86.93,381.47 L87.43,380.65 L87.92,380.18 L88.42,380.13 L88.92,380.42 L89.42,380.93 L89.92,381.57 L90.42,382.26 L90.92,382.91 L91.42,383.49 L91.92,384.13 L92.42,384.79 L92.92,385.49 L93.41,386.19 L93.91,386.9 L94.41,387.61 L94.91,388.3 L95.41,388.97 L95.91,389.6 L96.41,390.18 L96.91,390.71 L97.41,391.21 L97.91,391.7 L98.41,392.18 L98.9,392.64 L99.4,393.09 L99.9,393.52 L100.4,393.93 L100.9,394.31 L101.4,394.68 L101.9,395.02 L102.4,395.34 L102.9,395.63 L103.4,395.92 L103.9,396.19 L104.39,396.46 L104.89,396.71 L105.39,396.96 L105.89,397.2 L106.39,397.42 L106.89,397.64 L107.39,397.85 L107.89,398.06 L108.39,398.25 L108.89,398.44 L109.38,398.62 L109.88,398.79 L110.38,398.96 L110.88,399.14 L111.38,399.31 L111.88,399.49 L112.38,399.66 L112.88,399.82 L113.38,399.96 L113.88,400.07 L114.38,400.15 L114.87,400.2 L115.37,400.21 L115.87,400.22 L116.37,400.24 L116.87,400.25 L117.37,400.26 L117.87,400.27 L118.37,400.29 L118.87,400.3 L119.37,400.31 L119.87,400.32 L120.36,400.33 L120.86,400.34 L121.36,400.35 L121.86,400.36 L122.36,400.37 L122.86,400.37 L123.36,400.38 L123.86,400.39 L124.36,400.4 L124.86,400.4 L125.36,400.41 L125.85,400.42 L126.35,400.42 L126.85,400.43 L127.35,400.44 L127.85,400.44 L128.35,400.45 L128.85,400.45 L129.35,400.46 L129.85,400.46 L130.35,400.46 L130.85,400.47 L131.34,400.47 L131.84,400.47 L132.34,400.48 L132.84,400.48 L133.34,400.48 L133.84,400.49 L134.34,400.49 L134.84,400.49 L135.34,400.49 L135.84,400.49 L136.34,400.49 L136.83,400.5 L137.33,400.5 L137.83,400.5 L138.33,400.5 L138.83,400.5 L139.33,400.5 L139.83,400.5 L140.33,400.5 L140.83,400.5 L141.33,400.5 L141.83,400.5 L142.32,400.5 L142.82,400.5 L143.32,400.5 L143.82,400.5 L144.32,400.5 L144.82,400.5 L145.32,400.5 L145.82,400.5 L146.32,400.5 L146.82,400.5 L147.31,400.5 L147.81,400.5 L148.31,400.5 L148.81,400.5 L149.31,400.5 L149.81,400.5 L150.31,400.5 L150.81,400.5 L151.31,400.5 L151.81,400.5 L152.31,400.5 L152.8,400.5 L153.3,400.5 L153.8,400.5 L154.3,400.5 L154.8,400.5 L155.3,400.5 L155.8,400.5 L156.3,400.5 L156.8,400.5 L157.3,400.5 L157.8,400.5 L158.29,400.5 L158.79,400.5 L159.29,400.5 L159.79,400.5 L160.29,400.5 L160.79,400.5 L161.29,400.5 L161.79,400.5 L162.29,400.5 L162.79,400.5 L163.29,400.5 L163.78,400.5 L164.28,400.5 L164.78,400.5 L165.28,400.5 L165.78,400.5 L166.28,400.5 L166.78,400.5 L167.28,400.5 L167.78,400.5 L168.28,400.5 L168.78,400.5 L169.27,400.5 L169.77,400.5 L170.27,400.5 L170.77,400.5 L171.27,400.5 L171.77,400.5 L172.27,400.5 L172.77,400.51 L173.27,400.52 L173.77,400.53 L174.27,400.54 L174.76,400.55 L175.26,400.56 L175.76,400.58 L176.26,400.59 L176.76,400.61 L177.26,400.63 L177.76,400.65 L178.26,400.67 L178.76,400.69 L179.26,400.72 L179.76,400.74 L180.25,400.76 L180.75,400.79 L181.25,400.81 L181.75,400.84 L182.25,400.86 L182.75,400.88 L183.25,400.91 L183.75,400.93 L184.25,400.96 L184.75,400.98 L185.24,401 L185.74,401.02 L186.24,401.04 L186.74,401.06 L187.24,401.08 L187.74,401.1 L188.24,401.12 L188.74,401.13 L189.24,401.15 L189.74,401.16 L190.24,401.17 L190.73,401.18 L191.23,401.19 L191.73,401.19 L192.23,401.2 L192.73,401.2 L193.23,401.2 L193.73,401.19 L194.23,401.19 L194.73,401.18 L195.23,401.16 L195.73,401.15 L196.22,401.13 L196.72,401.11 L197.22,401.09 L197.72,401.06 L198.22,401.03 L198.72,401 L199.22,400.97 L199.72,400.94 L200.22,400.9 L200.72,400.86 L201.22,400.82 L201.71,400.78 L202.21,400.74 L202.71,400.69 L203.21,400.65 L203.71,400.6 L204.21,400.55 L204.71,400.5 L205.21,400.45 L205.71,400.39 L206.21,400.34 L206.71,400.28 L207.2,400.23 L207.7,400.17 L208.2,400.11 L208.7,400.06 L209.2,400 L209.7,399.94 L210.2,399.88 L210.7,399.82 L211.2,399.76 L211.7,399.7 L212.2,399.64 L212.69,399.58 L213.19,399.52 L213.69,399.46 L214.19,399.4 L214.69,399.34 L215.19,399.28 L215.69,399.21 L216.19,399.14 L216.69,399.07 L217.19,398.99 L217.69,398.91 L218.18,398.83 L218.68,398.75 L219.18,398.66 L219.68,398.57 L220.18,398.48 L220.68,398.39 L221.18,398.3 L221.68,398.2 L222.18,398.1 L222.68,398 L223.17,397.9 L223.67,397.8 L224.17,397.69 L224.67,397.59 L225.17,397.48 L225.67,397.37 L226.17,397.26 L226.67,397.15 L227.17,397.04 L227.67,396.93 L228.17,396.81 L228.66,396.7 L229.16,396.59 L229.66,396.47 L230.16,396.36 L230.66,396.25 L231.16,396.13 L231.66,396.02 L232.16,395.9 L232.66,395.79 L233.16,395.67 L233.66,395.54 L234.15,395.41 L234.65,395.27 L235.15,395.13 L235.65,394.99 L236.15,394.84 L236.65,394.68 L237.15,394.53 L237.65,394.37 L238.15,394.21 L238.65,394.05 L239.15,393.89 L239.64,393.73 L240.14,393.57 L240.64,393.41 L241.14,393.25 L241.64,393.1 L242.14,392.95 L242.64,392.8 L243.14,392.66 L243.64,392.52 L244.14,392.39 L244.64,392.26 L245.13,392.14 L245.63,392.03 L246.13,391.92 L246.63,391.82 L247.13,391.73 L247.63,391.65 L248.13,391.58 L248.63,391.51 L249.13,391.44 L249.63,391.38 L250.13,391.31 L250.62,391.25 L251.12,391.19 L251.62,391.14 L252.12,391.09 L252.62,391.05 L253.12,391.02 L253.62,391.01 L254.12,391 L254.62,391.03 L255.12,391.1 L255.62,391.21 L256.11,391.36 L256.61,391.54 L257.11,391.74 L257.61,391.97 L258.11,392.21 L258.61,392.47 L259.11,392.73 L259.61,392.99 L260.11,393.25 L260.61,393.52 L261.1,393.83 L261.6,394.18 L262.1,394.57 L262.6,394.98 L263.1,395.42 L263.6,395.87 L264.1,396.35 L264.6,396.84 L265.1,397.33 L265.6,397.84 L266.1,398.34 L266.59,398.84 L267.09,399.33 L267.59,399.81 L268.09,400.28 L268.59,400.73 L269.09,401.15 L269.59,401.55 L270.09,401.95 L270.59,402.37 L271.09,402.79 L271.59,403.21 L272.08,403.63 L272.58,404.04 L273.08,404.45 L273.58,404.84 L274.08,405.21 L274.58,405.57 L275.08,405.9 L275.58,406.2 L276.08,406.47 L276.58,406.7 L277.08,406.89 L277.57,407.06 L278.07,407.23 L278.57,407.39 L279.07,407.55 L279.57,407.71 L280.07,407.85 L280.57,407.99 L281.07,408.11 L281.57,408.23 L282.07,408.33 L282.57,408.42 L283.06,408.49 L283.56,408.55 L284.06,408.58 L284.56,408.6 L285.06,408.6 L285.56,408.59 L286.06,408.58 L286.56,408.55 L287.06,408.53 L287.56,408.5 L288.06,408.46 L288.55,408.42 L289.05,408.37 L289.55,408.32 L290.05,408.27 L290.55,408.21 L291.05,408.15 L291.55,408.08 L292.05,408.02 L292.55,407.95 L293.05,407.88 L293.55,407.81 L294.04,407.74 L294.54,407.66 L295.04,407.59 L295.54,407.51 L296.04,407.44 L296.54,407.37 L297.04,407.29 L297.54,407.22 L298.04,407.15 L298.54,407.09 L299.03,407.02 L299.53,406.96 L300.03,406.9 L300.53,406.84 L301.03,406.78 L301.53,406.72 L302.03,406.66 L302.53,406.6 L303.03,406.54 L303.53,406.48 L304.03,406.41 L304.52,406.35 L305.02,406.29 L305.52,406.23 L306.02,406.17 L306.52,406.1 L307.02,406.04 L307.52,405.98 L308.02,405.92 L308.52,405.85 L309.02,405.79 L309.52,405.72 L310.01,405.66 L310.51,405.6 L311.01,405.53 L311.51,405.47 L312.01,405.4 L312.51,405.34 L313.01,405.27 L313.51,405.2 L314.01,405.14 L314.51,405.07 L315.01,405.01 L315.5,404.94 L316,404.87 L316.5,404.8 L317,404.74 L317.5,404.67 L318,404.6" stroke="#ff0a0a" stroke-width="1.15" fill="none" stroke-dasharray="3.9 2.2"/>
<path d="M47,507.4 L47.5,507.33 L48,507.25 L48.5,507.16 L49,507.06 L49.5,506.95 L49.99,506.84 L50.49,506.71 L50.99,506.58 L51.49,506.43 L51.99,506.28 L52.49,506.13 L52.99,505.97 L53.49,505.8 L53.99,505.63 L54.49,505.45 L54.99,505.27 L55.48,505.08 L55.98,504.9 L56.48,504.71 L56.98,504.51 L57.48,504.3 L57.98,504.09 L58.48,503.86 L58.98,503.62 L59.48,503.37 L59.98,503.1 L60.48,502.83 L60.97,502.54 L61.47,502.23 L61.97,501.91 L62.47,501.58 L62.97,501.23 L63.47,500.86 L63.97,500.48 L64.47,500.08 L64.97,499.64 L65.47,499.17 L65.97,498.65 L66.46,498.1 L66.96,497.5 L67.46,496.87 L67.96,496.2 L68.46,495.48 L68.96,494.73 L69.46,493.94 L69.96,493.1 L70.46,492.19 L70.96,491.18 L71.45,490.08 L71.95,488.88 L72.45,487.59 L72.95,486.21 L73.45,484.74 L73.95,483.19 L74.45,481.55 L74.95,479.77 L75.45,477.54 L75.95,474.94 L76.45,472.14 L76.94,469.29 L77.44,466.55 L77.94,464.08 L78.44,462.03 L78.94,460.39 L79.44,458.74 L79.94,457.17 L80.44,455.83 L80.94,454.84 L81.44,454.34 L81.94,454.46 L82.43,455.23 L82.93,456.45 L83.43,457.94 L83.93,459.5 L84.43,460.99 L84.93,462.73 L85.43,464.74 L85.93,466.82 L86.43,468.78 L86.93,470.41 L87.43,471.59 L87.92,472.68 L88.42,473.71 L88.92,474.67 L89.42,475.5 L89.92,476.17 L90.42,476.65 L90.92,476.89 L91.42,476.95 L91.92,476.99 L92.42,477.01 L92.92,477.03 L93.41,477.05 L93.91,477.07 L94.41,477.09 L94.91,477.12 L95.41,477.16 L95.91,477.22 L96.41,477.42 L96.91,477.79 L97.41,478.26 L97.91,478.81 L98.41,479.37 L98.9,479.93 L99.4,480.54 L99.9,481.22 L100.4,481.96 L100.9,482.73 L101.4,483.54 L101.9,484.35 L102.4,485.17 L102.9,485.99 L103.4,486.87 L103.9,487.8 L104.39,488.74 L104.89,489.67 L105.39,490.58 L105.89,491.42 L106.39,492.19 L106.89,492.9 L107.39,493.6 L107.89,494.29 L108.39,494.95 L108.89,495.6 L109.38,496.22 L109.88,496.8 L110.38,497.35 L110.88,497.86 L111.38,498.32 L111.88,498.74 L112.38,499.1 L112.88,499.45 L113.38,499.79 L113.88,500.11 L114.38,500.43 L114.87,500.73 L115.37,501.01 L115.87,501.29 L116.37,501.54 L116.87,501.78 L117.37,502 L117.87,502.2 L118.37,502.39 L118.87,502.55 L119.37,502.69 L119.87,502.81 L120.36,502.93 L120.86,503.04 L121.36,503.14 L121.86,503.24 L122.36,503.32 L122.86,503.4 L123.36,503.47 L123.86,503.53 L124.36,503.57 L124.86,503.6 L125.36,503.61 L125.85,503.62 L126.35,503.64 L126.85,503.65 L127.35,503.66 L127.85,503.67 L128.35,503.68 L128.85,503.69 L129.35,503.7 L129.85,503.71 L130.35,503.72 L130.85,503.73 L131.34,503.73 L131.84,503.74 L132.34,503.75 L132.84,503.75 L133.34,503.76 L133.84,503.77 L134.34,503.77 L134.84,503.77 L135.34,503.78 L135.84,503.78 L136.34,503.79 L136.83,503.79 L137.33,503.79 L137.83,503.79 L138.33,503.8 L138.83,503.8 L139.33,503.8 L139.83,503.8 L140.33,503.8 L140.83,503.8 L141.33,503.79 L141.83,503.78 L142.32,503.77 L142.82,503.74 L143.32,503.71 L143.82,503.68 L144.32,503.64 L144.82,503.6 L145.32,503.55 L145.82,503.5 L146.32,503.45 L146.82,503.39 L147.31,503.34 L147.81,503.27 L148.31,503.21 L148.81,503.15 L149.31,503.08 L149.81,503.01 L150.31,502.95 L150.81,502.88 L151.31,502.81 L151.81,502.74 L152.31,502.68 L152.8,502.61 L153.3,502.55 L153.8,502.49 L154.3,502.43 L154.8,502.37 L155.3,502.32 L155.8,502.26 L156.3,502.22 L156.8,502.17 L157.3,502.13 L157.8,502.1 L158.29,502.07 L158.79,502.04 L159.29,502.02 L159.79,502.01 L160.29,502 L160.79,502 L161.29,502 L161.79,502.01 L162.29,502.02 L162.79,502.04 L163.29,502.06 L163.78,502.08 L164.28,502.1 L164.78,502.13 L165.28,502.16 L165.78,502.19 L166.28,502.22 L166.78,502.25 L167.28,502.28 L167.78,502.32 L168.28,502.35 L168.78,502.39 L169.27,502.42 L169.77,502.46 L170.27,502.49 L170.77,502.52 L171.27,502.56 L171.77,502.59 L172.27,502.62 L172.77,502.64 L173.27,502.67 L173.77,502.71 L174.27,502.74 L174.76,502.77 L175.26,502.8 L175.76,502.83 L176.26,502.86 L176.76,502.9 L177.26,502.93 L177.76,502.96 L178.26,502.99 L178.76,503.02 L179.26,503.05 L179.76,503.09 L180.25,503.12 L180.75,503.15 L181.25,503.18 L181.75,503.21 L182.25,503.25 L182.75,503.28 L183.25,503.31 L183.75,503.35 L184.25,503.38 L184.75,503.42 L185.24,503.45 L185.74,503.48 L186.24,503.51 L186.74,503.54 L187.24,503.57 L187.74,503.6 L188.24,503.62 L188.74,503.65 L189.24,503.67 L189.74,503.69 L190.24,503.7 L190.73,503.72 L191.23,503.73 L191.73,503.74 L192.23,503.76 L192.73,503.77 L193.23,503.79 L193.73,503.8 L194.23,503.81 L194.73,503.82 L195.23,503.84 L195.73,503.85 L196.22,503.86 L196.72,503.87 L197.22,503.87 L197.72,503.88 L198.22,503.89 L198.72,503.89 L199.22,503.9 L199.72,503.9 L200.22,503.9 L200.72,503.9 L201.22,503.89 L201.71,503.89 L202.21,503.87 L202.71,503.86 L203.21,503.84 L203.71,503.82 L204.21,503.79 L204.71,503.76 L205.21,503.73 L205.71,503.7 L206.21,503.66 L206.71,503.63 L207.2,503.59 L207.7,503.55 L208.2,503.51 L208.7,503.47 L209.2,503.43 L209.7,503.39 L210.2,503.34 L210.7,503.3 L211.2,503.26 L211.7,503.21 L212.2,503.15 L212.69,503.1 L213.19,503.03 L213.69,502.97 L214.19,502.9 L214.69,502.83 L215.19,502.75 L215.69,502.67 L216.19,502.59 L216.69,502.51 L217.19,502.42 L217.69,502.33 L218.18,502.24 L218.68,502.14 L219.18,502.05 L219.68,501.95 L220.18,501.85 L220.68,501.75 L221.18,501.64 L221.68,501.53 L222.18,501.42 L222.68,501.3 L223.17,501.18 L223.67,501.05 L224.17,500.92 L224.67,500.78 L225.17,500.64 L225.67,500.49 L226.17,500.34 L226.67,500.18 L227.17,500.02 L227.67,499.85 L228.17,499.68 L228.66,499.51 L229.16,499.33 L229.66,499.15 L230.16,498.96 L230.66,498.77 L231.16,498.58 L231.66,498.37 L232.16,498.16 L232.66,497.94 L233.16,497.7 L233.66,497.46 L234.15,497.21 L234.65,496.95 L235.15,496.68 L235.65,496.41 L236.15,496.12 L236.65,495.83 L237.15,495.54 L237.65,495.24 L238.15,494.93 L238.65,494.62 L239.15,494.3 L239.64,493.98 L240.14,493.66 L240.64,493.33 L241.14,493 L241.64,492.67 L242.14,492.31 L242.64,491.94 L243.14,491.56 L243.64,491.16 L244.14,490.75 L244.64,490.33 L245.13,489.91 L245.63,489.48 L246.13,489.06 L246.63,488.63 L247.13,488.2 L247.63,487.79 L248.13,487.37 L248.63,486.97 L249.13,486.58 L249.63,486.21 L250.13,485.83 L250.62,485.44 L251.12,485.06 L251.62,484.67 L252.12,484.28 L252.62,483.9 L253.12,483.52 L253.62,483.14 L254.12,482.78 L254.62,482.43 L255.12,482.08 L255.62,481.76 L256.11,481.45 L256.61,481.16 L257.11,480.89 L257.61,480.64 L258.11,480.41 L258.61,480.17 L259.11,479.93 L259.61,479.69 L260.11,479.46 L260.61,479.23 L261.1,479 L261.6,478.79 L262.1,478.59 L262.6,478.41 L263.1,478.25 L263.6,478.11 L264.1,477.99 L264.6,477.9 L265.1,477.83 L265.6,477.8 L266.1,477.8 L266.59,477.83 L267.09,477.87 L267.59,477.94 L268.09,478.02 L268.59,478.11 L269.09,478.22 L269.59,478.35 L270.09,478.49 L270.59,478.63 L271.09,478.79 L271.59,478.95 L272.08,479.12 L272.58,479.29 L273.08,479.47 L273.58,479.65 L274.08,479.83 L274.58,480.03 L275.08,480.26 L275.58,480.53 L276.08,480.82 L276.58,481.13 L277.08,481.46 L277.57,481.81 L278.07,482.17 L278.57,482.55 L279.07,482.93 L279.57,483.32 L280.07,483.7 L280.57,484.09 L281.07,484.47 L281.57,484.84 L282.07,485.21 L282.57,485.56 L283.06,485.92 L283.56,486.29 L284.06,486.67 L284.56,487.05 L285.06,487.43 L285.56,487.82 L286.06,488.21 L286.56,488.6 L287.06,488.99 L287.56,489.38 L288.06,489.77 L288.55,490.16 L289.05,490.54 L289.55,490.91 L290.05,491.28 L290.55,491.64 L291.05,492 L291.55,492.34 L292.05,492.67 L292.55,492.99 L293.05,493.31 L293.55,493.63 L294.04,493.94 L294.54,494.26 L295.04,494.57 L295.54,494.87 L296.04,495.18 L296.54,495.48 L297.04,495.77 L297.54,496.06 L298.04,496.35 L298.54,496.62 L299.03,496.9 L299.53,497.16 L300.03,497.42 L300.53,497.67 L301.03,497.91 L301.53,498.14 L302.03,498.36 L302.53,498.57 L303.03,498.77 L303.53,498.97 L304.03,499.17 L304.52,499.36 L305.02,499.54 L305.52,499.72 L306.02,499.89 L306.52,500.06 L307.02,500.23 L307.52,500.39 L308.02,500.54 L308.52,500.69 L309.02,500.83 L309.52,500.97 L310.01,501.1 L310.51,501.23 L311.01,501.35 L311.51,501.47 L312.01,501.59 L312.51,501.7 L313.01,501.81 L313.51,501.92 L314.01,502.02 L314.51,502.12 L315.01,502.22 L315.5,502.31 L316,502.4 L316.5,502.48 L317,502.56 L317.5,502.63 L318,502.7" stroke="#111" stroke-width="1.1" fill="none" />
<g fill="#1414ff"><circle cx="68.5" cy="525.6" r="1.5"/><circle cx="69.3" cy="526.6" r="1.5"/><circle cx="70.2" cy="527.3" r="1.5"/><circle cx="71.0" cy="529.1" r="1.5"/><circle cx="71.9" cy="531.2" r="1.5"/><circle cx="72.7" cy="533.0" r="1.5"/><circle cx="73.6" cy="534.4" r="1.5"/><circle cx="74.4" cy="537.6" r="1.5"/><circle cx="75.3" cy="540.9" r="1.5"/><circle cx="76.1" cy="543.9" r="1.5"/><circle cx="77.0" cy="546.0" r="1.5"/><circle cx="77.8" cy="549.2" r="1.5"/><circle cx="78.7" cy="552.5" r="1.5"/><circle cx="79.5" cy="556.0" r="1.5"/><circle cx="80.4" cy="558.6" r="1.5"/><circle cx="81.2" cy="552.5" r="1.5"/><circle cx="82.1" cy="534.4" r="1.5"/><circle cx="82.9" cy="519.8" r="1.5"/><circle cx="83.8" cy="509.7" r="1.5"/><circle cx="84.6" cy="502.7" r="1.5"/><circle cx="85.5" cy="496.8" r="1.5"/><circle cx="86.3" cy="493.3" r="1.5"/><circle cx="87.2" cy="490.1" r="1.5"/><circle cx="88.0" cy="487.5" r="1.5"/><circle cx="88.9" cy="486.3" r="1.5"/><circle cx="89.7" cy="485.5" r="1.5"/><circle cx="90.6" cy="484.4" r="1.5"/><circle cx="91.4" cy="483.9" r="1.5"/><circle cx="92.3" cy="484.1" r="1.5"/><circle cx="93.1" cy="486.0" r="1.5"/><circle cx="94.0" cy="488.3" r="1.5"/><circle cx="94.8" cy="492.4" r="1.5"/><circle cx="95.7" cy="497.9" r="1.5"/><circle cx="96.5" cy="502.1" r="1.5"/><circle cx="97.4" cy="505.7" r="1.5"/><circle cx="98.2" cy="509.1" r="1.5"/><circle cx="99.1" cy="513.2" r="1.5"/><circle cx="99.9" cy="516.6" r="1.5"/><circle cx="100.8" cy="519.7" r="1.5"/><circle cx="101.6" cy="522.4" r="1.5"/><circle cx="102.5" cy="524.5" r="1.5"/><circle cx="103.3" cy="525.9" r="1.5"/><circle cx="104.2" cy="526.8" r="1.5"/><circle cx="105.0" cy="527.4" r="1.5"/><circle cx="105.9" cy="527.6" r="1.5"/><circle cx="106.7" cy="527.7" r="1.5"/><circle cx="107.6" cy="527.0" r="1.5"/><circle cx="108.4" cy="526.1" r="1.5"/><circle cx="109.3" cy="525.5" r="1.5"/><circle cx="110.1" cy="525.2" r="1.5"/><circle cx="111.0" cy="524.5" r="1.5"/><circle cx="111.8" cy="524.0" r="1.5"/><circle cx="112.7" cy="523.9" r="1.5"/><circle cx="113.5" cy="523.0" r="1.5"/><circle cx="114.4" cy="523.0" r="1.5"/><circle cx="115.2" cy="522.5" r="1.5"/><circle cx="116.1" cy="522.4" r="1.5"/><circle cx="116.9" cy="522.1" r="1.5"/><circle cx="117.8" cy="521.7" r="1.5"/><circle cx="118.6" cy="521.4" r="1.5"/><circle cx="119.5" cy="520.9" r="1.5"/><circle cx="120.3" cy="520.9" r="1.5"/><circle cx="121.2" cy="520.4" r="1.5"/><circle cx="122.0" cy="520.4" r="1.5"/><circle cx="122.9" cy="520.0" r="1.5"/><circle cx="123.7" cy="519.9" r="1.5"/><circle cx="124.6" cy="519.3" r="1.5"/><circle cx="125.4" cy="519.3" r="1.5"/><circle cx="126.3" cy="519.9" r="1.5"/><circle cx="127.1" cy="518.9" r="1.5"/><circle cx="128.0" cy="519.2" r="1.5"/><circle cx="128.8" cy="518.9" r="1.5"/><circle cx="129.7" cy="518.8" r="1.5"/><circle cx="130.5" cy="518.4" r="1.5"/><circle cx="131.4" cy="518.3" r="1.5"/><circle cx="132.2" cy="517.5" r="1.5"/><circle cx="133.1" cy="517.3" r="1.5"/><circle cx="133.9" cy="517.3" r="1.5"/><circle cx="134.8" cy="517.0" r="1.5"/><circle cx="135.6" cy="516.8" r="1.5"/><circle cx="136.5" cy="516.6" r="1.5"/><circle cx="137.3" cy="516.8" r="1.5"/><circle cx="138.2" cy="516.2" r="1.5"/><circle cx="139.0" cy="516.8" r="1.5"/><circle cx="139.9" cy="516.3" r="1.5"/><circle cx="140.7" cy="516.0" r="1.5"/><circle cx="141.6" cy="516.0" r="1.5"/><circle cx="142.4" cy="515.3" r="1.5"/><circle cx="143.3" cy="515.8" r="1.5"/><circle cx="144.1" cy="515.5" r="1.5"/><circle cx="145.0" cy="515.2" r="1.5"/><circle cx="145.8" cy="514.8" r="1.5"/><circle cx="146.7" cy="515.0" r="1.5"/><circle cx="147.5" cy="514.7" r="1.5"/><circle cx="148.4" cy="514.4" r="1.5"/><circle cx="149.2" cy="514.4" r="1.5"/><circle cx="150.1" cy="513.9" r="1.5"/><circle cx="150.9" cy="513.4" r="1.5"/><circle cx="151.8" cy="513.4" r="1.5"/><circle cx="152.6" cy="512.8" r="1.5"/><circle cx="153.5" cy="512.6" r="1.5"/><circle cx="154.3" cy="512.9" r="1.5"/><circle cx="155.2" cy="512.7" r="1.5"/><circle cx="170.5" cy="513.0" r="1.5"/><circle cx="171.3" cy="513.1" r="1.5"/><circle cx="172.2" cy="512.9" r="1.5"/><circle cx="173.0" cy="512.6" r="1.5"/><circle cx="173.9" cy="513.2" r="1.5"/><circle cx="174.7" cy="513.8" r="1.5"/><circle cx="175.6" cy="513.9" r="1.5"/><circle cx="176.4" cy="513.8" r="1.5"/><circle cx="177.3" cy="514.0" r="1.5"/><circle cx="178.1" cy="514.0" r="1.5"/><circle cx="179.0" cy="514.2" r="1.5"/><circle cx="179.8" cy="514.4" r="1.5"/><circle cx="180.7" cy="515.4" r="1.5"/><circle cx="181.5" cy="515.4" r="1.5"/><circle cx="182.4" cy="515.1" r="1.5"/><circle cx="183.2" cy="515.6" r="1.5"/><circle cx="184.1" cy="515.4" r="1.5"/><circle cx="184.9" cy="515.7" r="1.5"/><circle cx="185.8" cy="516.4" r="1.5"/><circle cx="186.6" cy="516.4" r="1.5"/><circle cx="187.5" cy="516.4" r="1.5"/><circle cx="188.3" cy="516.2" r="1.5"/><circle cx="189.2" cy="516.6" r="1.5"/><circle cx="190.0" cy="517.0" r="1.5"/><circle cx="190.9" cy="516.4" r="1.5"/><circle cx="191.7" cy="516.1" r="1.5"/><circle cx="192.6" cy="516.0" r="1.5"/><circle cx="193.4" cy="516.0" r="1.5"/><circle cx="194.3" cy="516.9" r="1.5"/><circle cx="195.1" cy="516.4" r="1.5"/><circle cx="196.0" cy="516.7" r="1.5"/><circle cx="196.8" cy="516.0" r="1.5"/><circle cx="197.7" cy="516.1" r="1.5"/><circle cx="198.5" cy="516.5" r="1.5"/><circle cx="199.4" cy="516.6" r="1.5"/><circle cx="200.2" cy="516.0" r="1.5"/><circle cx="201.1" cy="515.7" r="1.5"/><circle cx="201.9" cy="516.5" r="1.5"/><circle cx="202.8" cy="515.8" r="1.5"/><circle cx="203.6" cy="516.2" r="1.5"/><circle cx="204.5" cy="515.6" r="1.5"/><circle cx="205.3" cy="516.0" r="1.5"/><circle cx="206.2" cy="516.1" r="1.5"/><circle cx="207.0" cy="515.8" r="1.5"/><circle cx="207.9" cy="515.3" r="1.5"/><circle cx="208.7" cy="515.6" r="1.5"/><circle cx="209.6" cy="514.9" r="1.5"/><circle cx="210.4" cy="514.9" r="1.5"/><circle cx="211.3" cy="514.8" r="1.5"/><circle cx="212.1" cy="515.1" r="1.5"/><circle cx="213.0" cy="514.2" r="1.5"/><circle cx="213.8" cy="514.7" r="1.5"/><circle cx="214.7" cy="514.5" r="1.5"/><circle cx="215.5" cy="514.4" r="1.5"/><circle cx="216.4" cy="513.6" r="1.5"/><circle cx="217.2" cy="513.2" r="1.5"/><circle cx="218.1" cy="513.1" r="1.5"/><circle cx="218.9" cy="513.4" r="1.5"/><circle cx="219.8" cy="513.3" r="1.5"/><circle cx="220.6" cy="512.8" r="1.5"/><circle cx="221.5" cy="512.3" r="1.5"/><circle cx="222.3" cy="511.8" r="1.5"/><circle cx="223.2" cy="512.0" r="1.5"/><circle cx="224.0" cy="511.7" r="1.5"/><circle cx="224.9" cy="510.5" r="1.5"/><circle cx="225.7" cy="510.2" r="1.5"/><circle cx="226.6" cy="510.3" r="1.5"/><circle cx="227.4" cy="509.9" r="1.5"/><circle cx="228.3" cy="508.9" r="1.5"/><circle cx="229.1" cy="508.4" r="1.5"/><circle cx="230.0" cy="508.0" r="1.5"/><circle cx="230.8" cy="507.7" r="1.5"/><circle cx="231.7" cy="506.8" r="1.5"/><circle cx="232.5" cy="507.0" r="1.5"/><circle cx="233.4" cy="506.2" r="1.5"/><circle cx="234.2" cy="505.9" r="1.5"/><circle cx="235.1" cy="504.8" r="1.5"/><circle cx="235.9" cy="505.0" r="1.5"/><circle cx="236.8" cy="504.2" r="1.5"/><circle cx="237.6" cy="503.3" r="1.5"/><circle cx="238.5" cy="503.3" r="1.5"/><circle cx="239.3" cy="502.5" r="1.5"/><circle cx="240.2" cy="502.1" r="1.5"/><circle cx="241.0" cy="500.7" r="1.5"/><circle cx="241.9" cy="500.2" r="1.5"/><circle cx="242.7" cy="500.2" r="1.5"/><circle cx="243.6" cy="499.2" r="1.5"/><circle cx="244.4" cy="498.8" r="1.5"/><circle cx="245.3" cy="497.8" r="1.5"/><circle cx="246.1" cy="498.0" r="1.5"/><circle cx="247.0" cy="497.0" r="1.5"/><circle cx="247.8" cy="496.9" r="1.5"/><circle cx="248.7" cy="495.7" r="1.5"/><circle cx="249.5" cy="495.7" r="1.5"/><circle cx="250.4" cy="494.9" r="1.5"/><circle cx="251.2" cy="495.3" r="1.5"/><circle cx="252.1" cy="494.5" r="1.5"/><circle cx="252.9" cy="493.9" r="1.5"/><circle cx="253.8" cy="493.7" r="1.5"/><circle cx="254.6" cy="494.1" r="1.5"/><circle cx="255.5" cy="493.8" r="1.5"/><circle cx="256.3" cy="494.3" r="1.5"/><circle cx="257.2" cy="495.1" r="1.5"/></g>
<path d="M47,518 L47.5,518 L48,518 L48.5,518 L49,518.01 L49.5,518.01 L49.99,518.01 L50.49,518.02 L50.99,518.02 L51.49,518.02 L51.99,518.03 L52.49,518.04 L52.99,518.04 L53.49,518.05 L53.99,518.06 L54.49,518.06 L54.99,518.07 L55.48,518.08 L55.98,518.09 L56.48,518.1 L56.98,518.11 L57.48,518.12 L57.98,518.14 L58.48,518.16 L58.98,518.18 L59.48,518.21 L59.98,518.24 L60.48,518.27 L60.97,518.31 L61.47,518.35 L61.97,518.4 L62.47,518.46 L62.97,518.57 L63.47,518.71 L63.97,518.89 L64.47,519.1 L64.97,519.33 L65.47,519.59 L65.97,519.87 L66.46,520.16 L66.96,520.48 L67.46,520.83 L67.96,521.28 L68.46,521.81 L68.96,522.41 L69.46,523.09 L69.96,523.84 L70.46,524.67 L70.96,525.71 L71.45,526.96 L71.95,528.38 L72.45,529.92 L72.95,531.54 L73.45,533.32 L73.95,535.34 L74.45,537.51 L74.95,539.77 L75.45,542.12 L75.95,544.62 L76.45,547.14 L76.94,549.64 L77.44,552.28 L77.94,554.65 L78.44,556.4 L78.94,557.97 L79.44,559.03 L79.94,558.81 L80.44,556.11 L80.94,552.2 L81.44,547.28 L81.94,540.85 L82.43,533.43 L82.93,525.83 L83.43,520.34 L83.93,515.64 L84.43,510.44 L84.93,504.49 L85.43,499.52 L85.93,496.33 L86.43,493.87 L86.93,492.11 L87.43,490.76 L87.92,489.73 L88.42,489 L88.92,488.35 L89.42,487.76 L89.92,487.28 L90.42,486.95 L90.92,486.8 L91.42,486.86 L91.92,487.09 L92.42,487.47 L92.92,487.98 L93.41,488.6 L93.91,489.32 L94.41,490.81 L94.91,493.25 L95.41,496.02 L95.91,498.51 L96.41,500.87 L96.91,503.28 L97.41,505.68 L97.91,508 L98.41,510.19 L98.9,512.22 L99.4,514.27 L99.9,516.32 L100.4,518.33 L100.9,520.21 L101.4,521.9 L101.9,523.34 L102.4,524.45 L102.9,525.26 L103.4,526 L103.9,526.67 L104.39,527.2 L104.89,527.57 L105.39,527.7 L105.89,527.65 L106.39,527.51 L106.89,527.29 L107.39,527.01 L107.89,526.69 L108.39,526.35 L108.89,526.01 L109.38,525.67 L109.88,525.37 L110.38,525.11 L110.88,524.85 L111.38,524.59 L111.88,524.33 L112.38,524.06 L112.88,523.8 L113.38,523.54 L113.88,523.28 L114.38,523.02 L114.87,522.77 L115.37,522.53 L115.87,522.3 L116.37,522.08 L116.87,521.88 L117.37,521.69 L117.87,521.51 L118.37,521.35 L118.87,521.19 L119.37,521.04 L119.87,520.9 L120.36,520.76 L120.86,520.63 L121.36,520.51 L121.86,520.38 L122.36,520.26 L122.86,520.15 L123.36,520.03 L123.86,519.92 L124.36,519.81 L124.86,519.7 L125.36,519.59 L125.85,519.48 L126.35,519.37 L126.85,519.26 L127.35,519.15 L127.85,519.03 L128.35,518.91 L128.85,518.79 L129.35,518.67 L129.85,518.55 L130.35,518.43 L130.85,518.31 L131.34,518.19 L131.84,518.07 L132.34,517.95 L132.84,517.83 L133.34,517.71 L133.84,517.59 L134.34,517.47 L134.84,517.35 L135.34,517.23 L135.84,517.11 L136.34,516.99 L136.83,516.87 L137.33,516.76 L137.83,516.64 L138.33,516.52 L138.83,516.4 L139.33,516.29 L139.83,516.17 L140.33,516.06 L140.83,515.94 L141.33,515.82 L141.83,515.71 L142.32,515.6 L142.82,515.48 L143.32,515.37 L143.82,515.26 L144.32,515.15 L144.82,515.03 L145.32,514.92 L145.82,514.81 L146.32,514.7 L146.82,514.6 L147.31,514.49 L147.81,514.37 L148.31,514.25 L148.81,514.12 L149.31,514 L149.81,513.87 L150.31,513.73 L150.81,513.6 L151.31,513.47 L151.81,513.33 L152.31,513.2 L152.8,513.06 L153.3,512.93 L153.8,512.8 L154.3,512.67 L154.8,512.55 L155.3,512.43 L155.8,512.31 L156.3,512.2 L156.8,512.1 L157.3,512 L157.8,511.91 L158.29,511.83 L158.79,511.75 L159.29,511.68 L159.79,511.63 L160.29,511.58 L160.79,511.54 L161.29,511.52 L161.79,511.5 L162.29,511.5 L162.79,511.51 L163.29,511.53 L163.78,511.57 L164.28,511.61 L164.78,511.66 L165.28,511.72 L165.78,511.78 L166.28,511.86 L166.78,511.93 L167.28,512.01 L167.78,512.1 L168.28,512.18 L168.78,512.27 L169.27,512.36 L169.77,512.45 L170.27,512.53 L170.77,512.62 L171.27,512.7 L171.77,512.78 L172.27,512.87 L172.77,512.96 L173.27,513.07 L173.77,513.17 L174.27,513.29 L174.76,513.41 L175.26,513.53 L175.76,513.66 L176.26,513.79 L176.76,513.93 L177.26,514.06 L177.76,514.2 L178.26,514.34 L178.76,514.48 L179.26,514.62 L179.76,514.75 L180.25,514.89 L180.75,515.03 L181.25,515.16 L181.75,515.29 L182.25,515.42 L182.75,515.54 L183.25,515.66 L183.75,515.77 L184.25,515.87 L184.75,515.97 L185.24,516.07 L185.74,516.15 L186.24,516.23 L186.74,516.3 L187.24,516.36 L187.74,516.41 L188.24,516.45 L188.74,516.48 L189.24,516.49 L189.74,516.5 L190.24,516.5 L190.73,516.5 L191.23,516.49 L191.73,516.49 L192.23,516.48 L192.73,516.47 L193.23,516.46 L193.73,516.45 L194.23,516.43 L194.73,516.42 L195.23,516.4 L195.73,516.39 L196.22,516.37 L196.72,516.35 L197.22,516.33 L197.72,516.31 L198.22,516.29 L198.72,516.26 L199.22,516.24 L199.72,516.22 L200.22,516.19 L200.72,516.17 L201.22,516.14 L201.71,516.12 L202.21,516.09 L202.71,516.06 L203.21,516.02 L203.71,515.98 L204.21,515.94 L204.71,515.89 L205.21,515.84 L205.71,515.78 L206.21,515.72 L206.71,515.66 L207.2,515.59 L207.7,515.52 L208.2,515.44 L208.7,515.36 L209.2,515.28 L209.7,515.2 L210.2,515.11 L210.7,515.02 L211.2,514.92 L211.7,514.82 L212.2,514.72 L212.69,514.62 L213.19,514.51 L213.69,514.4 L214.19,514.29 L214.69,514.17 L215.19,514.05 L215.69,513.93 L216.19,513.81 L216.69,513.69 L217.19,513.56 L217.69,513.43 L218.18,513.3 L218.68,513.17 L219.18,513.03 L219.68,512.9 L220.18,512.76 L220.68,512.62 L221.18,512.46 L221.68,512.29 L222.18,512.11 L222.68,511.91 L223.17,511.7 L223.67,511.48 L224.17,511.25 L224.67,511.01 L225.17,510.76 L225.67,510.51 L226.17,510.24 L226.67,509.98 L227.17,509.7 L227.67,509.43 L228.17,509.15 L228.66,508.87 L229.16,508.59 L229.66,508.3 L230.16,508.02 L230.66,507.74 L231.16,507.47 L231.66,507.19 L232.16,506.9 L232.66,506.61 L233.16,506.31 L233.66,506 L234.15,505.69 L234.65,505.38 L235.15,505.06 L235.65,504.74 L236.15,504.41 L236.65,504.09 L237.15,503.76 L237.65,503.43 L238.15,503.09 L238.65,502.76 L239.15,502.43 L239.64,502.09 L240.14,501.76 L240.64,501.43 L241.14,501.1 L241.64,500.77 L242.14,500.43 L242.64,500.07 L243.14,499.71 L243.64,499.34 L244.14,498.97 L244.64,498.61 L245.13,498.25 L245.63,497.9 L246.13,497.57 L246.63,497.25 L247.13,496.95 L247.63,496.68 L248.13,496.44 L248.63,496.2 L249.13,495.95 L249.63,495.7 L250.13,495.45 L250.62,495.21 L251.12,494.99 L251.62,494.78 L252.12,494.59 L252.62,494.42 L253.12,494.29 L253.62,494.18 L254.12,494.12 L254.62,494.1 L255.12,494.16 L255.62,494.31 L256.11,494.53 L256.61,494.8 L257.11,495.11 L257.61,495.44 L258.11,495.81 L258.61,496.29 L259.11,496.87 L259.61,497.52 L260.11,498.23 L260.61,498.98 L261.1,499.76 L261.6,500.55 L262.1,501.36 L262.6,502.27 L263.1,503.24 L263.6,504.26 L264.1,505.31 L264.6,506.36 L265.1,507.4 L265.6,508.41 L266.1,509.36 L266.59,510.29 L267.09,511.21 L267.59,512.11 L268.09,513.03 L268.59,513.95 L269.09,514.9 L269.59,515.88 L270.09,516.91 L270.59,517.98 L271.09,519.07 L271.59,520.16 L272.08,521.21 L272.58,522.22 L273.08,523.15 L273.58,524.03 L274.08,524.89 L274.58,525.73 L275.08,526.53 L275.58,527.31 L276.08,528.06 L276.58,528.78 L277.08,529.47 L277.57,530.13 L278.07,530.78 L278.57,531.41 L279.07,532 L279.57,532.57 L280.07,533.09 L280.57,533.56 L281.07,534.04 L281.57,534.54 L282.07,535.04 L282.57,535.5 L283.06,535.91 L283.56,536.25 L284.06,536.48 L284.56,536.59 L285.06,536.6 L285.56,536.59 L286.06,536.57 L286.56,536.55 L287.06,536.53 L287.56,536.5 L288.06,536.46 L288.55,536.43 L289.05,536.38 L289.55,536.34 L290.05,536.3 L290.55,536.23 L291.05,536.13 L291.55,536 L292.05,535.85 L292.55,535.68 L293.05,535.48 L293.55,535.26 L294.04,535.03 L294.54,534.79 L295.04,534.53 L295.54,534.27 L296.04,534 L296.54,533.73 L297.04,533.46 L297.54,533.19 L298.04,532.93 L298.54,532.68 L299.03,532.43 L299.53,532.2 L300.03,531.99 L300.53,531.78 L301.03,531.57 L301.53,531.37 L302.03,531.16 L302.53,530.95 L303.03,530.75 L303.53,530.54 L304.03,530.34 L304.52,530.13 L305.02,529.93 L305.52,529.73 L306.02,529.52 L306.52,529.32 L307.02,529.12 L307.52,528.92 L308.02,528.72 L308.52,528.51 L309.02,528.31 L309.52,528.11 L310.01,527.92 L310.51,527.72 L311.01,527.52 L311.51,527.32 L312.01,527.12 L312.51,526.93 L313.01,526.73 L313.51,526.53 L314.01,526.34 L314.51,526.14 L315.01,525.95 L315.5,525.76 L316,525.56 L316.5,525.37 L317,525.18 L317.5,524.99 L318,524.8" stroke="#ff0a0a" stroke-width="1.15" fill="none" stroke-dasharray="3.9 2.2"/>
<path d="M47,338.0 H318.3 V449.0 M47,338.0 V450.5 M47,446.5 H318.3" stroke="#000" stroke-width="1.3" fill="none"/>
<path d="M47,453.8 V562.4 H318.3 V453.8" stroke="#000" stroke-width="1.3" fill="none"/>
<line x1="47" y1="446.5" x2="47" y2="451" stroke="#000" stroke-width="1" />
<line x1="47" y1="562.4" x2="47" y2="566.9" stroke="#000" stroke-width="1" />
<line x1="67.85" y1="446.5" x2="67.85" y2="449.3" stroke="#000" stroke-width="1" />
<line x1="67.85" y1="562.4" x2="67.85" y2="565.2" stroke="#000" stroke-width="1" />
<line x1="88.7" y1="446.5" x2="88.7" y2="451" stroke="#000" stroke-width="1" />
<line x1="88.7" y1="562.4" x2="88.7" y2="566.9" stroke="#000" stroke-width="1" />
<line x1="109.55" y1="446.5" x2="109.55" y2="449.3" stroke="#000" stroke-width="1" />
<line x1="109.55" y1="562.4" x2="109.55" y2="565.2" stroke="#000" stroke-width="1" />
<line x1="130.4" y1="446.5" x2="130.4" y2="451" stroke="#000" stroke-width="1" />
<line x1="130.4" y1="562.4" x2="130.4" y2="566.9" stroke="#000" stroke-width="1" />
<line x1="151.25" y1="446.5" x2="151.25" y2="449.3" stroke="#000" stroke-width="1" />
<line x1="151.25" y1="562.4" x2="151.25" y2="565.2" stroke="#000" stroke-width="1" />
<line x1="172.1" y1="446.5" x2="172.1" y2="451" stroke="#000" stroke-width="1" />
<line x1="172.1" y1="562.4" x2="172.1" y2="566.9" stroke="#000" stroke-width="1" />
<line x1="192.95" y1="446.5" x2="192.95" y2="449.3" stroke="#000" stroke-width="1" />
<line x1="192.95" y1="562.4" x2="192.95" y2="565.2" stroke="#000" stroke-width="1" />
<line x1="213.8" y1="446.5" x2="213.8" y2="451" stroke="#000" stroke-width="1" />
<line x1="213.8" y1="562.4" x2="213.8" y2="566.9" stroke="#000" stroke-width="1" />
<line x1="234.65" y1="446.5" x2="234.65" y2="449.3" stroke="#000" stroke-width="1" />
<line x1="234.65" y1="562.4" x2="234.65" y2="565.2" stroke="#000" stroke-width="1" />
<line x1="255.5" y1="446.5" x2="255.5" y2="451" stroke="#000" stroke-width="1" />
<line x1="255.5" y1="562.4" x2="255.5" y2="566.9" stroke="#000" stroke-width="1" />
<line x1="276.35" y1="446.5" x2="276.35" y2="449.3" stroke="#000" stroke-width="1" />
<line x1="276.35" y1="562.4" x2="276.35" y2="565.2" stroke="#000" stroke-width="1" />
<line x1="297.2" y1="446.5" x2="297.2" y2="451" stroke="#000" stroke-width="1" />
<line x1="297.2" y1="562.4" x2="297.2" y2="566.9" stroke="#000" stroke-width="1" />
<line x1="318.05" y1="446.5" x2="318.05" y2="449.3" stroke="#000" stroke-width="1" />
<line x1="318.05" y1="562.4" x2="318.05" y2="565.2" stroke="#000" stroke-width="1" />
<line x1="41.8" y1="356.8" x2="47" y2="356.8" stroke="#000" stroke-width="1" />
<text x="37.6" y="360.7" font-size="11" text-anchor="end" fill="#231f20" stroke="#231f20" stroke-width="0.22" >2</text>
<line x1="44.2" y1="379.1" x2="47" y2="379.1" stroke="#000" stroke-width="1" />
<line x1="41.8" y1="401.4" x2="47" y2="401.4" stroke="#000" stroke-width="1" />
<text x="37.6" y="405.3" font-size="11" text-anchor="end" fill="#231f20" stroke="#231f20" stroke-width="0.22" >0</text>
<line x1="44.2" y1="423.7" x2="47" y2="423.7" stroke="#000" stroke-width="1" />
<line x1="41.8" y1="446" x2="47" y2="446" stroke="#000" stroke-width="1" />
<text x="37.6" y="449.9" font-size="11" text-anchor="end" fill="#231f20" stroke="#231f20" stroke-width="0.22" >−2</text>
<line x1="44.2" y1="467.25" x2="47" y2="467.25" stroke="#000" stroke-width="1" />
<line x1="41.8" y1="484.2" x2="47" y2="484.2" stroke="#000" stroke-width="1" />
<text x="37.6" y="488.1" font-size="11" text-anchor="end" fill="#231f20" stroke="#231f20" stroke-width="0.22" >1</text>
<line x1="44.2" y1="501.15" x2="47" y2="501.15" stroke="#000" stroke-width="1" />
<line x1="41.8" y1="518.1" x2="47" y2="518.1" stroke="#000" stroke-width="1" />
<text x="37.6" y="522" font-size="11" text-anchor="end" fill="#231f20" stroke="#231f20" stroke-width="0.22" >0</text>
<line x1="44.2" y1="535.05" x2="47" y2="535.05" stroke="#000" stroke-width="1" />
<line x1="41.8" y1="552" x2="47" y2="552" stroke="#000" stroke-width="1" />
<text x="37.6" y="555.9" font-size="11" text-anchor="end" fill="#231f20" stroke="#231f20" stroke-width="0.22" >−1</text>
<text x="47" y="579.8" font-size="11" text-anchor="middle" fill="#231f20" stroke="#231f20" stroke-width="0.22" >0.2</text>
<text x="130.4" y="579.8" font-size="11" text-anchor="middle" fill="#231f20" stroke="#231f20" stroke-width="0.22" >0.6</text>
<text x="213.8" y="579.8" font-size="11" text-anchor="middle" fill="#231f20" stroke="#231f20" stroke-width="0.22" >1.0</text>
<text x="297.2" y="579.8" font-size="11" text-anchor="middle" fill="#231f20" stroke="#231f20" stroke-width="0.22" >1.4</text>
<text x="182.4" y="596" font-size="11.2" text-anchor="middle" fill="#231f20" stroke="#231f20" stroke-width="0.22" >Probe energy (eV)</text>
<text x="13" y="449.5" font-size="11.2" text-anchor="middle" fill="#231f20" stroke="#231f20" stroke-width="0.22" transform="rotate(-90 13.0 449.5)">Normalized ΔR/R<tspan font-size="8" dy="2.5">0</tspan></text>
<circle cx="103.7" cy="434.2" r="1.3" fill="#1414ff"/>
<text x="110.6" y="437.8" font-size="9.6" text-anchor="start" fill="#231f20" stroke="#231f20" stroke-width="0.22" >Exp.</text>
<line x1="136.6" y1="434.2" x2="147.4" y2="434.2" stroke="#ff0a0a" stroke-width="1.45" stroke-dasharray="4.2 2.4"/>
<text x="150.3" y="437.8" font-size="9.6" text-anchor="start" fill="#231f20" stroke="#231f20" stroke-width="0.22" >Model;</text>
<line x1="186.1" y1="434.2" x2="195.3" y2="434.2" stroke="#111" stroke-width="1.1" />
<text x="198.2" y="437.8" font-size="9.6" text-anchor="start" fill="#231f20" stroke="#231f20" stroke-width="0.22" >Moduli, Dr<tspan font-size="7" dy="2.5">j</tspan></text>
<text x="270.3" y="437.8" font-size="9.6" text-anchor="start" fill="#231f20" stroke="#231f20" stroke-width="0.22" >@ 100 ps</text>
<text x="61.3" y="353.9" font-size="11.3" text-anchor="start" fill="#231f20" stroke="#231f20" stroke-width="0.22" >E</text>
<text x="68.3" y="358" font-size="8.2" text-anchor="start" fill="#231f20" stroke="#231f20" stroke-width="0.22" >1</text>
<path d="M68.5,347.3 H73.3 M70.9,347.3 V342" stroke="#231f20" stroke-width="0.8" fill="none"/>
<text x="164.1" y="381.3" font-size="11.3" text-anchor="start" fill="#231f20" stroke="#231f20" stroke-width="0.22" >E</text>
<text x="171.1" y="385.4" font-size="8.2" text-anchor="start" fill="#231f20" stroke="#231f20" stroke-width="0.22" >3</text>
<path d="M171.3,374.7 H176.1 M173.7,374.7 V369.4" stroke="#231f20" stroke-width="0.8" fill="none"/>
<text x="249" y="369.6" font-size="11.3" text-anchor="start" fill="#231f20" stroke="#231f20" stroke-width="0.22" >E</text>
<text x="256" y="373.7" font-size="8.2" text-anchor="start" fill="#231f20" stroke="#231f20" stroke-width="0.22" >4</text>
<path d="M256.2,363 H261 M258.6,363 V357.7" stroke="#231f20" stroke-width="0.8" fill="none"/>
<text x="292" y="354.4" font-size="11.5" text-anchor="start" fill="#231f20" stroke="#231f20" stroke-width="0.22" >E</text><path d="M299.4,353.95 H306.1 M302.75,353.95 V346.5" stroke="#555" stroke-width="0.85" fill="none"/><text x="306.5" y="354.4" font-size="11.5" text-anchor="start" fill="#231f20" stroke="#231f20" stroke-width="0.22" >c</text>
<text x="63.9" y="465.6" font-size="11.3" text-anchor="start" fill="#231f20" stroke="#231f20" stroke-width="0.22" >E</text>
<text x="70.9" y="469.7" font-size="8.2" text-anchor="start" fill="#231f20" stroke="#231f20" stroke-width="0.22" >1</text>
<path d="M71.6,461.8 V453.4" stroke="#231f20" stroke-width="0.8" fill="none"/><path d="M73.6,461.8 V453.4" stroke="#666" stroke-width="0.8" fill="none"/>
<text x="99.3" y="474.3" font-size="11.3" text-anchor="start" fill="#231f20" stroke="#231f20" stroke-width="0.22" >E</text>
<text x="106.3" y="478.4" font-size="8.2" text-anchor="start" fill="#231f20" stroke="#231f20" stroke-width="0.22" >2</text>
<path d="M107,470.5 V462.1" stroke="#231f20" stroke-width="0.8" fill="none"/><path d="M109,470.5 V462.1" stroke="#666" stroke-width="0.8" fill="none"/>
<text x="164.1" y="492.4" font-size="11.3" text-anchor="start" fill="#231f20" stroke="#231f20" stroke-width="0.22" >E</text>
<text x="171.1" y="496.5" font-size="8.2" text-anchor="start" fill="#231f20" stroke="#231f20" stroke-width="0.22" >3</text>
<path d="M171.8,488.6 V480.2" stroke="#231f20" stroke-width="0.8" fill="none"/><path d="M173.8,488.6 V480.2" stroke="#666" stroke-width="0.8" fill="none"/>
<text x="249.8" y="469.6" font-size="11.3" text-anchor="start" fill="#231f20" stroke="#231f20" stroke-width="0.22" >E</text>
<text x="256.8" y="473.7" font-size="8.2" text-anchor="start" fill="#231f20" stroke="#231f20" stroke-width="0.22" >4</text>
<path d="M257.5,465.8 V457.4" stroke="#231f20" stroke-width="0.8" fill="none"/><path d="M259.5,465.8 V457.4" stroke="#666" stroke-width="0.8" fill="none"/>
<text x="290.5" y="470.9" font-size="11.5" text-anchor="start" fill="#231f20" stroke="#231f20" stroke-width="0.22" >E</text><path d="M300.7,472.2 V459.7" stroke="#999" stroke-width="0.95" fill="none"/><path d="M304,472.2 V459.7" stroke="#444" stroke-width="0.95" fill="none"/><text x="307.7" y="470.9" font-size="11.5" text-anchor="start" fill="#231f20" stroke="#231f20" stroke-width="0.22" >c</text>
<text x="-0.2" y="340.3" font-size="16" text-anchor="start" fill="#231f20" font-weight="bold" >b</text>
<path d="M395.80,261.00 L396.39,260.18 L396.97,259.36 L397.55,258.54 L398.13,257.71 L398.71,256.88 L399.28,256.06 L399.86,255.23 L400.44,254.40 L401.02,253.57 L401.60,252.75 L402.19,251.93 L402.78,251.11 L403.37,250.29 L403.97,249.48 L404.58,248.68 L405.20,247.88 L405.82,247.09 L406.45,246.30 L407.10,245.52 L407.75,244.76 L408.42,244.00 L409.10,243.25 L409.79,242.51 L410.49,241.78 L411.21,241.07 L411.95,240.38 L412.71,239.70 L413.48,239.05 L414.28,238.43 L415.10,237.84 L415.94,237.28 L416.81,236.76 L417.70,236.28 L418.61,235.84 L419.54,235.44 L420.50,235.09 L421.46,234.78 L422.44,234.52 L423.43,234.32 L424.43,234.16 L425.44,234.05 L426.45,234.00 L427.46,233.98 L428.47,234.02 L429.47,234.09 L430.47,234.19 L431.48,234.31 L432.48,234.43 L433.48,234.54 L434.49,234.64 L435.50,234.72 L436.51,234.79 L437.52,234.82 L438.52,234.83 L439.53,234.81 L440.54,234.75 L441.54,234.66 L442.54,234.55 L443.54,234.40 L444.54,234.24 L445.53,234.05 L446.52,233.85 L447.51,233.63 L448.50,233.41 L449.48,233.17 L450.46,232.93 L451.44,232.68 L452.42,232.43 L453.39,232.18 L454.37,231.92 L455.34,231.66 L456.32,231.40 L457.29,231.15 L458.27,230.89 L459.24,230.64 L460.22,230.39 L461.20,230.15 L462.18,229.92 L463.16,229.68 L464.14,229.45 L465.13,229.22 L466.11,228.98 L467.09,228.75 L468.07,228.51 L469.05,228.27 L470.03,228.02 L471.00,227.77 L471.98,227.51 L472.95,227.24 L473.92,226.97 L474.89,226.68 L475.85,226.38 L476.81,226.08 L477.77,225.77 L478.73,225.45 L479.69,225.13 L480.64,224.80 L481.59,224.47 L482.54,224.13 L483.49,223.78 L484.44,223.43 L485.39,223.08 L486.33,222.73 L487.27,222.37 L488.21,222.01 L489.15,221.64 L490.09,221.26 L491.02,220.88 L491.96,220.50 L492.89,220.11 L493.81,219.71 L494.74,219.31 L495.66,218.90 L496.58,218.49 L497.50,218.07 L498.42,217.65 L499.33,217.22 L500.24,216.78 L501.15,216.35 L502.06,215.90 L502.96,215.46 L503.86,215.01 L504.77,214.56 L505.67,214.10 L506.57,213.65 L507.47,213.19 L508.36,212.73 L509.26,212.28 L510.16,211.82 L511.06,211.36 L511.96,210.90 L512.86,210.45 L513.76,209.99 L514.66,209.53 L515.55,209.06 L516.45,208.60 L517.34,208.13 L518.23,207.66 L519.12,207.18 L520.01,206.70 L520.89,206.21 L521.77,205.72 L522.65,205.22 L523.52,204.72 L524.40,204.21 L525.27,203.71 L526.14,203.20 L527.01,202.69 L527.88,202.18 L528.76,201.68 L529.63,201.17 L530.50,200.67 L531.38,200.17 L532.25,199.67 L533.13,199.18 L534.01,198.69 L534.90,198.21 L535.79,197.73 L536.69,197.27 L537.58,196.81 L538.49,196.36 L539.40,195.91 L540.32,195.49 L541.25,195.09 L542.19,194.71 L543.14,194.37 L544.10,194.06 L545.08,193.81 L546.06,193.60 L547.07,193.45 L548.07,193.36 L549.09,193.34 L550.10,193.40 L551.11,193.54 L552.11,193.75 L553.09,194.05 L554.03,194.43 L554.92,194.90 L555.77,195.44 L556.56,196.05 L557.30,196.73 L558.01,197.46 L558.69,198.22 L559.34,199.02 L559.97,199.83 L560.59,200.64 L561.20,201.46 L561.79,202.28 L562.38,203.11 L562.96,203.94 L563.53,204.77 L564.09,205.61 L564.63,206.45 L565.17,207.30 L565.70,208.15 L566.22,209.01 L566.73,209.87 L567.23,210.74 L567.71,211.62 L568.19,212.51 L568.67,213.40 L569.13,214.29 L569.59,215.19 L570.04,216.09 L570.49,217.00 L570.93,217.91 L571.36,218.82 L571.80,219.73 L572.23,220.65 L572.65,221.57 L573.08,222.48 L573.50,223.40 L573.92,224.32 L574.34,225.24 L574.76,226.16 L575.18,227.08 L575.60,227.99 L576.02,228.91 L576.43,229.83 L576.84,230.75 L577.26,231.67 L577.67,232.59 L578.07,233.52 L578.48,234.44 L578.89,235.36 L579.29,236.29 L579.69,237.21 L580.09,238.14 L580.48,239.06 L580.88,239.99 L581.27,240.92 L581.66,241.85 L582.04,242.78 L582.43,243.71 L582.81,244.65 L583.18,245.58 L583.56,246.52 L583.93,247.46 L584.30,248.40 L584.3,275.9 L395.8,275.9 Z" fill="#fffce2"/>
<path d="M408.42,244.00 L409.10,243.25 L409.79,242.51 L410.49,241.78 L411.21,241.07 L411.95,240.38 L412.71,239.70 L413.48,239.05 L414.28,238.43 L415.10,237.84 L415.94,237.28 L416.81,236.76 L417.70,236.28 L418.61,235.84 L419.54,235.44 L420.50,235.09 L421.46,234.78 L422.44,234.52 L423.43,234.32 L424.43,234.16 L425.44,234.05 L426.45,234.00 L427.46,233.98 L428.47,234.02 L429.47,234.09 L430.47,234.19 L431.48,234.31 L432.48,234.43 L433.48,234.54 L434.49,234.64 L435.50,234.72 L436.51,234.79 L437.52,234.82 L438.52,234.83 L439.53,234.81 L440.54,234.75 L441.54,234.66 L442.54,234.55 L443.54,234.40 L444.54,234.24 L445.53,234.05 L446.52,233.85 L447.51,233.63 L448.50,233.41 L449.48,233.17 L450.46,232.93 L451.44,232.68 L452.42,232.43 L453.39,232.18 L454.37,231.92 L453.2,234.3 L409.3,249.6 Z" fill="url(#yelL)"/>
<g clip-path="url(#cUnderR)"><ellipse cx="547" cy="192.5" rx="34" ry="17" fill="url(#yelR)"/></g>
<g clip-path="url(#cUnderB)"><ellipse cx="546" cy="208" rx="24" ry="12" fill="url(#yelR)"/></g>
<g clip-path="url(#cUnderV2)"><ellipse cx="549" cy="232.5" rx="19" ry="14" fill="url(#yelR)"/></g>
<path d="M409.9,91.1 L465.4,100.3 L464.54,100.05 L463.57,100.08 L462.60,100.12 L461.62,100.18 L460.65,100.25 L459.68,100.33 L458.71,100.42 L457.75,100.51 L456.78,100.62 L455.81,100.72 L454.84,100.84 L453.88,100.95 L452.91,101.07 L451.94,101.18 L450.98,101.30 L450.01,101.41 L449.04,101.52 L448.08,101.63 L447.11,101.73 L446.14,101.82 L445.17,101.91 L444.20,101.99 L443.24,102.06 L442.27,102.13 L441.29,102.19 L440.32,102.25 L439.35,102.30 L438.38,102.36 L437.41,102.43 L436.44,102.50 L435.47,102.58 L434.50,102.68 L433.53,102.78 L432.56,102.88 L431.59,102.97 L430.62,103.05 L429.64,103.10 L428.67,103.13 L427.70,103.12 L426.73,103.06 L425.76,102.96 L424.79,102.81 L423.83,102.61 L422.89,102.37 L421.95,102.08 L421.03,101.74 L420.14,101.35 L419.26,100.92 L418.41,100.44 L417.58,99.93 L416.77,99.38 L415.98,98.79 L415.22,98.17 L414.48,97.53 L413.76,96.86 L413.07,96.17 L412.41,95.46 L411.76,94.73 L411.13,93.98 L410.52,93.22 L409.93,92.45 Z" fill="url(#orgL)"/>
<g clip-path="url(#cCB1)"><rect x="525" y="142.8" width="40" height="15" fill="url(#orgV)"/></g>
<g clip-path="url(#cCB2)"><rect x="505" y="37.5" width="65" height="12" fill="url(#orgV)"/></g>
<line x1="427.5" y1="26.4" x2="427.5" y2="275.9" stroke="#8a8a8a" stroke-width="0.6" stroke-dasharray="2 1.6"/>
<line x1="545.8" y1="26.4" x2="545.8" y2="275.9" stroke="#8a8a8a" stroke-width="0.6" stroke-dasharray="2 1.6"/>
<line x1="396" y1="195.4" x2="470" y2="195.4" stroke="#444" stroke-width="0.9" stroke-dasharray="5.5 3"/>
<line x1="487" y1="195.4" x2="538" y2="195.4" stroke="#444" stroke-width="0.9" stroke-dasharray="5.5 3"/>
<path d="M497.00,28.80 L497.28,29.04 L497.57,29.27 L497.86,29.51 L498.14,29.74 L498.43,29.97 L498.72,30.20 L499.01,30.43 L499.30,30.65 L499.59,30.88 L499.89,31.10 L500.18,31.33 L500.48,31.55 L500.78,31.76 L501.07,31.98 L501.37,32.20 L501.67,32.41 L501.97,32.62 L502.27,32.84 L502.58,33.04 L502.88,33.25 L503.19,33.46 L503.49,33.66 L503.80,33.87 L504.11,34.07 L504.42,34.27 L504.73,34.46 L505.04,34.66 L505.36,34.85 L505.67,35.05 L505.99,35.24 L506.30,35.43 L506.62,35.61 L506.94,35.80 L507.26,35.98 L507.58,36.17 L507.91,36.35 L508.23,36.53 L508.55,36.70 L508.88,36.88 L509.21,37.05 L509.53,37.22 L509.86,37.39 L510.19,37.56 L510.53,37.72 L510.86,37.88 L511.19,38.04 L511.53,38.20 L511.86,38.36 L512.20,38.51 L512.54,38.66 L512.88,38.80 L513.22,38.95 L513.56,39.09 L513.90,39.23 L514.24,39.36 L514.58,39.50 L514.93,39.62 L515.27,39.75 L515.62,39.87 L515.97,39.99 L516.32,40.11 L516.67,40.22 L517.02,40.33 L517.37,40.44 L517.72,40.54 L518.07,40.64 L518.42,40.74 L518.78,40.83 L519.13,40.92 L519.49,41.01 L519.84,41.10 L520.20,41.18 L520.56,41.26 L520.92,41.34 L521.28,41.42 L521.64,41.49 L522.00,41.56 L522.36,41.63 L522.72,41.69 L523.09,41.76 L523.45,41.82 L523.81,41.88 L524.18,41.94 L524.54,41.99 L524.91,42.05 L525.28,42.10 L525.64,42.15 L526.01,42.20 L526.38,42.24 L526.75,42.29 L527.12,42.33 L527.49,42.37 L527.86,42.41 L528.23,42.45 L528.61,42.49 L528.98,42.53 L529.35,42.56 L529.73,42.59 L530.10,42.63 L530.47,42.66 L530.85,42.69 L531.22,42.72 L531.60,42.75 L531.98,42.77 L532.35,42.80 L532.73,42.82 L533.11,42.85 L533.48,42.87 L533.86,42.88 L534.24,42.90 L534.62,42.91 L534.99,42.93 L535.37,42.94 L535.75,42.94 L536.12,42.95 L536.50,42.95 L536.87,42.94 L537.25,42.94 L537.62,42.93 L537.99,42.91 L538.37,42.89 L538.74,42.87 L539.11,42.85 L539.48,42.82 L539.85,42.78 L540.21,42.74 L540.58,42.70 L540.95,42.65 L541.31,42.59 L541.67,42.53 L542.03,42.47 L542.39,42.40 L542.75,42.32 L543.11,42.24 L543.46,42.15 L543.81,42.06 L544.17,41.95 L544.51,41.85 L544.86,41.73 L545.21,41.61 L545.55,41.48 L545.89,41.34 L546.23,41.20 L546.57,41.05 L546.90,40.90 L547.23,40.73 L547.56,40.56 L547.89,40.39 L548.21,40.21 L548.53,40.02 L548.85,39.83 L549.16,39.63 L549.47,39.43 L549.78,39.22 L550.09,39.01 L550.39,38.79 L550.68,38.57 L550.98,38.34 L551.27,38.11 L551.55,37.87 L551.84,37.63 L552.11,37.39 L552.39,37.14 L552.66,36.89 L552.93,36.64 L553.19,36.38 L553.45,36.12 L553.71,35.85 L553.96,35.58 L554.21,35.31 L554.46,35.04 L554.70,34.76 L554.94,34.48 L555.18,34.19 L555.41,33.91 L555.64,33.62 L555.87,33.33 L556.09,33.03 L556.31,32.73 L556.53,32.43 L556.75,32.13 L556.96,31.83 L557.17,31.52 L557.37,31.21 L557.57,30.90 L557.77,30.59 L557.97,30.28 L558.16,29.96 L558.35,29.64 L558.54,29.32 L558.72,29.00 L558.90,28.68 L559.08,28.36 L559.26,28.04 L559.43,27.71 L559.60,27.38 L559.77,27.06 L559.94,26.73 L560.10,26.40" stroke="#ff1a1a" stroke-width="1.3" fill="none"/>
<path d="M494.20,26.40 L494.54,26.72 L494.88,27.03 L495.22,27.35 L495.56,27.66 L495.91,27.97 L496.26,28.27 L496.61,28.58 L496.96,28.88 L497.31,29.18 L497.67,29.48 L498.03,29.78 L498.39,30.07 L498.75,30.36 L499.11,30.65 L499.48,30.94 L499.84,31.22 L500.21,31.50 L500.58,31.78 L500.95,32.06 L501.33,32.33 L501.70,32.61 L502.08,32.88 L502.46,33.15 L502.84,33.41 L503.22,33.68 L503.60,33.94 L503.99,34.20 L504.37,34.45 L504.76,34.71 L505.15,34.96 L505.54,35.21 L505.94,35.46 L506.33,35.71 L506.73,35.95 L507.12,36.19 L507.52,36.43 L507.92,36.67 L508.32,36.90 L508.72,37.13 L509.13,37.36 L509.53,37.59 L509.94,37.81 L510.34,38.04 L510.75,38.26 L511.16,38.47 L511.57,38.69 L511.99,38.90 L512.40,39.12 L512.81,39.32 L513.23,39.53 L513.65,39.73 L514.06,39.94 L514.48,40.14 L514.90,40.33 L515.32,40.53 L515.74,40.72 L516.17,40.91 L516.59,41.10 L517.02,41.28 L517.44,41.47 L517.87,41.65 L518.30,41.83 L518.72,42.00 L519.15,42.18 L519.58,42.35 L520.02,42.52 L520.45,42.69 L520.88,42.85 L521.31,43.02 L521.75,43.18 L522.18,43.34 L522.62,43.49 L523.06,43.65 L523.49,43.80 L523.93,43.95 L524.37,44.10 L524.81,44.25 L525.25,44.40 L525.70,44.54 L526.14,44.68 L526.58,44.82 L527.02,44.96 L527.47,45.09 L527.91,45.23 L528.36,45.36 L528.81,45.49 L529.25,45.62 L529.70,45.74 L530.15,45.87 L530.60,45.99 L531.05,46.11 L531.50,46.23 L531.95,46.35 L532.40,46.47 L532.85,46.58 L533.30,46.69 L533.76,46.80 L534.21,46.91 L534.66,47.01 L535.12,47.11 L535.57,47.21 L536.03,47.31 L536.48,47.40 L536.94,47.49 L537.40,47.57 L537.85,47.65 L538.31,47.73 L538.77,47.81 L539.23,47.88 L539.69,47.95 L540.15,48.01 L540.61,48.07 L541.07,48.12 L541.53,48.17 L541.99,48.22 L542.46,48.26 L542.92,48.29 L543.38,48.33 L543.84,48.35 L544.31,48.37 L544.77,48.39 L545.24,48.40 L545.70,48.40 L546.17,48.40 L546.63,48.39 L547.10,48.38 L547.56,48.36 L548.03,48.33 L548.49,48.29 L548.95,48.25 L549.41,48.19 L549.87,48.13 L550.33,48.06 L550.79,47.98 L551.25,47.88 L551.70,47.78 L552.15,47.67 L552.60,47.54 L553.05,47.41 L553.49,47.26 L553.93,47.10 L554.37,46.93 L554.80,46.75 L555.22,46.56 L555.65,46.35 L556.06,46.14 L556.47,45.92 L556.87,45.68 L557.27,45.44 L557.66,45.18 L558.04,44.92 L558.41,44.64 L558.78,44.36 L559.14,44.06 L559.48,43.76 L559.82,43.45 L560.15,43.13 L560.48,42.80 L560.79,42.46 L561.10,42.12 L561.41,41.77 L561.70,41.41 L561.99,41.05 L562.27,40.68 L562.55,40.30 L562.82,39.92 L563.09,39.53 L563.35,39.14 L563.60,38.74 L563.85,38.34 L564.10,37.94 L564.34,37.53 L564.58,37.12 L564.81,36.70 L565.04,36.29 L565.27,35.87 L565.49,35.45 L565.71,35.03 L565.93,34.60 L566.14,34.18 L566.36,33.75 L566.57,33.33 L566.78,32.90 L566.99,32.48 L567.19,32.06 L567.40,31.63 L567.60,31.21 L567.81,30.79 L568.01,30.38 L568.22,29.96 L568.42,29.55 L568.63,29.14 L568.83,28.74 L569.04,28.34 L569.25,27.94 L569.46,27.55 L569.67,27.16 L569.88,26.78 L570.10,26.40" stroke="#1a1aff" stroke-width="1.3" fill="none"/>
<path d="M395.90,75.30 L396.54,76.23 L397.18,77.16 L397.81,78.10 L398.44,79.04 L399.06,79.98 L399.69,80.93 L400.31,81.87 L400.94,82.82 L401.57,83.76 L402.20,84.70 L402.84,85.64 L403.49,86.57 L404.14,87.49 L404.79,88.42 L405.46,89.33 L406.14,90.23 L406.83,91.13 L407.53,92.02 L408.25,92.89 L408.98,93.75 L409.73,94.60 L410.50,95.43 L411.29,96.24 L412.10,97.03 L412.94,97.80 L413.81,98.54 L414.70,99.26 L415.62,99.93 L416.57,100.57 L417.55,101.16 L418.55,101.69 L419.58,102.17 L420.63,102.58 L421.71,102.92 L422.80,103.19 L423.92,103.41 L425.04,103.58 L426.17,103.71 L427.31,103.80 L428.44,103.87 L429.58,103.91 L430.71,103.93 L431.84,103.93 L432.97,103.90 L434.10,103.86 L435.23,103.80 L436.36,103.73 L437.49,103.65 L438.61,103.55 L439.74,103.46 L440.87,103.36 L442.00,103.26 L443.13,103.17 L444.25,103.09 L445.38,103.02 L446.51,102.97 L447.64,102.92 L448.77,102.88 L449.91,102.85 L451.04,102.83 L452.17,102.82 L453.30,102.81 L454.44,102.80 L455.57,102.80 L456.70,102.80 L457.84,102.81 L458.97,102.84 L460.10,102.88 L461.23,102.94 L462.36,103.03 L463.48,103.14 L464.60,103.28 L465.72,103.44 L466.84,103.62 L467.95,103.81 L469.07,104.01 L470.18,104.21 L471.30,104.41 L472.42,104.61 L473.53,104.79 L474.65,104.98 L475.77,105.16 L476.88,105.36 L477.99,105.57 L479.10,105.80 L480.20,106.05 L481.30,106.33 L482.39,106.63 L483.47,106.96 L484.55,107.31 L485.62,107.68 L486.69,108.07 L487.74,108.48 L488.80,108.90 L489.84,109.34 L490.88,109.79 L491.91,110.26 L492.94,110.74 L493.95,111.25 L494.96,111.77 L495.95,112.31 L496.94,112.87 L497.91,113.45 L498.87,114.05 L499.82,114.67 L500.75,115.31 L501.67,115.98 L502.58,116.66 L503.47,117.36 L504.35,118.08 L505.21,118.82 L506.05,119.57 L506.88,120.34 L507.69,121.13 L508.49,121.93 L509.27,122.75 L510.05,123.58 L510.81,124.42 L511.56,125.26 L512.30,126.12 L513.04,126.98 L513.78,127.84 L514.50,128.71 L515.23,129.58 L515.96,130.45 L516.68,131.31 L517.41,132.18 L518.13,133.05 L518.86,133.91 L519.59,134.77 L520.33,135.63 L521.08,136.48 L521.82,137.33 L522.58,138.18 L523.35,139.01 L524.12,139.84 L524.91,140.67 L525.70,141.48 L526.50,142.29 L527.30,143.10 L528.10,143.90 L528.91,144.69 L529.72,145.49 L530.53,146.27 L531.33,147.06 L532.13,147.84 L532.93,148.62 L533.72,149.40 L534.51,150.18 L535.31,150.95 L536.13,151.72 L536.96,152.47 L537.82,153.22 L538.71,153.97 L539.63,154.70 L540.60,155.41 L541.60,156.08 L542.64,156.63 L543.69,157.02 L544.76,157.20 L545.83,157.10 L546.89,156.76 L547.92,156.23 L548.91,155.55 L549.83,154.77 L550.68,153.95 L551.45,153.09 L552.17,152.20 L552.83,151.28 L553.44,150.34 L554.02,149.37 L554.57,148.39 L555.09,147.40 L555.61,146.39 L556.11,145.39 L556.61,144.37 L557.10,143.36 L557.58,142.33 L558.05,141.31 L558.52,140.28 L558.99,139.24 L559.45,138.21 L559.91,137.17 L560.36,136.13 L560.81,135.08 L561.25,134.04 L561.70,133.00 L562.14,131.95 L562.58,130.90 L563.02,129.86 L563.46,128.81 L563.89,127.77 L564.33,126.72 L564.77,125.68 L565.21,124.64 L565.66,123.60 L566.10,122.56 L566.55,121.53 L567.00,120.50" stroke="#ff1a1a" stroke-width="1.3" fill="none"/>
<path d="M395.90,71.40 L396.56,72.37 L397.21,73.34 L397.85,74.31 L398.49,75.29 L399.13,76.27 L399.77,77.25 L400.40,78.23 L401.03,79.21 L401.67,80.19 L402.30,81.18 L402.93,82.16 L403.57,83.14 L404.21,84.12 L404.85,85.09 L405.49,86.07 L406.14,87.04 L406.79,88.01 L407.45,88.98 L408.11,89.94 L408.79,90.90 L409.47,91.84 L410.18,92.78 L410.90,93.70 L411.65,94.60 L412.42,95.47 L413.23,96.33 L414.07,97.15 L414.94,97.94 L415.85,98.69 L416.79,99.39 L417.77,100.05 L418.77,100.65 L419.81,101.20 L420.88,101.68 L421.98,102.09 L423.11,102.43 L424.25,102.70 L425.41,102.91 L426.57,103.05 L427.74,103.12 L428.91,103.13 L430.07,103.08 L431.24,103.00 L432.41,102.89 L433.57,102.77 L434.74,102.65 L435.90,102.55 L437.07,102.45 L438.24,102.37 L439.40,102.30 L440.57,102.23 L441.73,102.16 L442.90,102.09 L444.06,102.00 L445.23,101.91 L446.39,101.80 L447.55,101.68 L448.71,101.56 L449.87,101.42 L451.04,101.29 L452.20,101.15 L453.36,101.01 L454.52,100.87 L455.68,100.74 L456.84,100.61 L458.00,100.49 L459.17,100.38 L460.33,100.28 L461.50,100.19 L462.66,100.12 L463.83,100.07 L465.00,100.04 L466.17,100.03 L467.34,100.04 L468.51,100.08 L469.68,100.13 L470.84,100.22 L472.01,100.32 L473.17,100.45 L474.33,100.60 L475.48,100.78 L476.64,100.97 L477.79,101.17 L478.94,101.39 L480.08,101.62 L481.23,101.85 L482.37,102.10 L483.51,102.36 L484.65,102.63 L485.78,102.92 L486.91,103.23 L488.03,103.56 L489.14,103.91 L490.25,104.28 L491.35,104.68 L492.44,105.10 L493.52,105.54 L494.60,106.01 L495.66,106.50 L496.72,107.00 L497.76,107.54 L498.80,108.09 L499.82,108.67 L500.83,109.26 L501.82,109.89 L502.80,110.53 L503.76,111.21 L504.69,111.90 L505.61,112.63 L506.51,113.38 L507.38,114.15 L508.23,114.95 L509.06,115.78 L509.87,116.62 L510.66,117.48 L511.44,118.36 L512.20,119.25 L512.95,120.15 L513.69,121.06 L514.43,121.97 L515.15,122.89 L515.87,123.81 L516.58,124.74 L517.29,125.66 L518.00,126.59 L518.70,127.52 L519.40,128.46 L520.10,129.39 L520.79,130.33 L521.49,131.27 L522.18,132.21 L522.88,133.15 L523.58,134.10 L524.27,135.04 L524.98,135.99 L525.68,136.94 L526.39,137.88 L527.11,138.82 L527.83,139.75 L528.55,140.67 L529.29,141.58 L530.03,142.48 L530.78,143.36 L531.54,144.23 L532.31,145.08 L533.09,145.92 L533.88,146.73 L534.68,147.53 L535.49,148.34 L536.32,149.14 L537.15,149.95 L537.99,150.78 L538.85,151.63 L539.71,152.51 L540.59,153.42 L541.48,154.32 L542.40,155.17 L543.34,155.90 L544.32,156.48 L545.34,156.84 L546.41,156.93 L547.51,156.77 L548.63,156.39 L549.73,155.84 L550.79,155.15 L551.80,154.37 L552.73,153.54 L553.57,152.66 L554.34,151.76 L555.05,150.82 L555.71,149.86 L556.32,148.87 L556.90,147.87 L557.45,146.85 L557.98,145.83 L558.51,144.79 L559.03,143.75 L559.55,142.71 L560.07,141.67 L560.59,140.63 L561.11,139.58 L561.63,138.53 L562.14,137.48 L562.65,136.43 L563.16,135.37 L563.67,134.31 L564.18,133.26 L564.68,132.20 L565.18,131.14 L565.68,130.08 L566.17,129.01 L566.67,127.95 L567.15,126.89 L567.64,125.82 L568.12,124.76 L568.59,123.69 L569.07,122.63 L569.54,121.56 L570.00,120.50" stroke="#1a1aff" stroke-width="1.3" fill="none"/>
<path d="M516.60,275.90 L516.83,275.39 L517.06,274.88 L517.29,274.37 L517.52,273.86 L517.75,273.34 L517.97,272.83 L518.20,272.32 L518.42,271.80 L518.64,271.29 L518.86,270.78 L519.08,270.26 L519.30,269.75 L519.52,269.23 L519.74,268.72 L519.96,268.20 L520.17,267.69 L520.39,267.17 L520.61,266.66 L520.82,266.14 L521.04,265.63 L521.26,265.11 L521.47,264.60 L521.69,264.08 L521.91,263.57 L522.13,263.05 L522.35,262.54 L522.57,262.03 L522.79,261.51 L523.01,261.00 L523.23,260.49 L523.45,259.98 L523.68,259.47 L523.90,258.96 L524.13,258.45 L524.36,257.94 L524.59,257.43 L524.82,256.92 L525.06,256.42 L525.29,255.91 L525.53,255.41 L525.77,254.90 L526.01,254.40 L526.26,253.90 L526.51,253.39 L526.76,252.89 L527.01,252.40 L527.26,251.90 L527.52,251.40 L527.78,250.91 L528.05,250.41 L528.31,249.92 L528.58,249.43 L528.86,248.94 L529.13,248.45 L529.41,247.96 L529.70,247.48 L529.99,246.99 L530.28,246.51 L530.57,246.03 L530.87,245.55 L531.18,245.07 L531.49,244.60 L531.80,244.13 L532.12,243.67 L532.45,243.21 L532.78,242.75 L533.12,242.30 L533.46,241.86 L533.81,241.42 L534.17,240.99 L534.54,240.57 L534.91,240.16 L535.29,239.75 L535.68,239.35 L536.08,238.96 L536.49,238.59 L536.91,238.22 L537.34,237.86 L537.77,237.51 L538.22,237.17 L538.67,236.85 L539.13,236.53 L539.60,236.23 L540.08,235.94 L540.57,235.65 L541.06,235.38 L541.56,235.12 L542.07,234.88 L542.59,234.64 L543.11,234.42 L543.64,234.21 L544.18,234.01 L544.72,233.82 L545.26,233.65 L545.81,233.50 L546.36,233.37 L546.92,233.26 L547.47,233.17 L548.03,233.11 L548.59,233.07 L549.14,233.05 L549.70,233.07 L550.25,233.12 L550.81,233.19 L551.35,233.30 L551.90,233.43 L552.43,233.60 L552.97,233.78 L553.49,233.99 L554.01,234.22 L554.52,234.48 L555.02,234.75 L555.52,235.04 L556.00,235.34 L556.47,235.67 L556.93,236.00 L557.38,236.35 L557.82,236.70 L558.25,237.07 L558.66,237.45 L559.07,237.84 L559.46,238.24 L559.85,238.64 L560.22,239.06 L560.59,239.48 L560.95,239.91 L561.31,240.35 L561.65,240.79 L561.99,241.24 L562.32,241.69 L562.65,242.15 L562.97,242.61 L563.28,243.08 L563.60,243.54 L563.90,244.01 L564.20,244.49 L564.50,244.96 L564.80,245.44 L565.09,245.91 L565.38,246.39 L565.66,246.88 L565.94,247.36 L566.22,247.84 L566.50,248.33 L566.77,248.82 L567.04,249.31 L567.31,249.80 L567.58,250.29 L567.84,250.78 L568.10,251.27 L568.37,251.77 L568.63,252.26 L568.89,252.76 L569.14,253.25 L569.40,253.75 L569.66,254.25 L569.92,254.74 L570.17,255.24 L570.43,255.74 L570.69,256.23 L570.94,256.73 L571.20,257.23 L571.45,257.73 L571.71,258.22 L571.96,258.72 L572.22,259.22 L572.47,259.72 L572.73,260.22 L572.98,260.72 L573.23,261.21 L573.48,261.71 L573.73,262.21 L573.98,262.71 L574.23,263.21 L574.48,263.72 L574.73,264.22 L574.98,264.72 L575.22,265.22 L575.47,265.72 L575.71,266.23 L575.96,266.73 L576.20,267.23 L576.44,267.74 L576.68,268.24 L576.92,268.75 L577.15,269.25 L577.39,269.76 L577.62,270.27 L577.86,270.78 L578.09,271.29 L578.32,271.80 L578.55,272.31 L578.77,272.82 L579.00,273.33 L579.22,273.84 L579.45,274.35 L579.67,274.87 L579.88,275.38 L580.10,275.90" stroke="#ff1a1a" stroke-width="1.3" fill="none"/>
<path d="M517.50,275.90 L517.73,275.47 L517.96,275.04 L518.19,274.61 L518.42,274.17 L518.64,273.73 L518.87,273.29 L519.09,272.85 L519.31,272.40 L519.53,271.95 L519.75,271.50 L519.97,271.05 L520.18,270.59 L520.40,270.13 L520.61,269.68 L520.82,269.22 L521.04,268.75 L521.25,268.29 L521.46,267.83 L521.67,267.36 L521.88,266.90 L522.09,266.43 L522.30,265.96 L522.51,265.49 L522.72,265.03 L522.93,264.56 L523.14,264.09 L523.35,263.62 L523.56,263.15 L523.77,262.68 L523.98,262.21 L524.19,261.74 L524.40,261.28 L524.61,260.81 L524.82,260.34 L525.04,259.88 L525.25,259.41 L525.47,258.95 L525.68,258.49 L525.90,258.02 L526.12,257.56 L526.34,257.11 L526.56,256.65 L526.78,256.20 L527.01,255.74 L527.24,255.29 L527.46,254.85 L527.69,254.40 L527.92,253.96 L528.16,253.51 L528.39,253.08 L528.63,252.64 L528.87,252.21 L529.11,251.78 L529.36,251.35 L529.60,250.93 L529.85,250.51 L530.10,250.09 L530.36,249.68 L530.62,249.27 L530.88,248.86 L531.14,248.46 L531.41,248.06 L531.68,247.66 L531.95,247.26 L532.23,246.86 L532.51,246.46 L532.79,246.06 L533.08,245.66 L533.37,245.26 L533.67,244.85 L533.97,244.45 L534.28,244.04 L534.58,243.63 L534.90,243.22 L535.22,242.81 L535.54,242.39 L535.87,241.96 L536.21,241.53 L536.54,241.10 L536.89,240.66 L537.24,240.21 L537.59,239.77 L537.96,239.32 L538.32,238.88 L538.69,238.44 L539.07,238.01 L539.45,237.60 L539.83,237.19 L540.22,236.80 L540.62,236.43 L541.02,236.08 L541.42,235.76 L541.83,235.46 L542.25,235.19 L542.66,234.95 L543.08,234.74 L543.51,234.57 L543.94,234.44 L544.37,234.35 L544.81,234.31 L545.25,234.31 L545.70,234.35 L546.15,234.44 L546.60,234.58 L547.04,234.75 L547.49,234.95 L547.94,235.19 L548.38,235.46 L548.82,235.75 L549.26,236.07 L549.69,236.41 L550.11,236.76 L550.52,237.13 L550.93,237.52 L551.33,237.91 L551.71,238.30 L552.08,238.70 L552.44,239.10 L552.79,239.51 L553.13,239.91 L553.45,240.32 L553.77,240.73 L554.08,241.14 L554.38,241.56 L554.67,241.97 L554.95,242.39 L555.22,242.81 L555.49,243.23 L555.76,243.65 L556.01,244.08 L556.27,244.50 L556.51,244.93 L556.76,245.36 L557.00,245.79 L557.23,246.22 L557.47,246.65 L557.70,247.08 L557.93,247.52 L558.16,247.95 L558.40,248.39 L558.63,248.83 L558.86,249.27 L559.09,249.71 L559.32,250.15 L559.55,250.59 L559.78,251.04 L560.02,251.48 L560.25,251.93 L560.48,252.38 L560.71,252.83 L560.94,253.27 L561.17,253.72 L561.39,254.18 L561.62,254.63 L561.85,255.08 L562.07,255.54 L562.30,255.99 L562.52,256.45 L562.74,256.90 L562.96,257.36 L563.18,257.82 L563.40,258.28 L563.61,258.74 L563.83,259.20 L564.04,259.67 L564.25,260.13 L564.46,260.60 L564.66,261.06 L564.87,261.53 L565.07,262.00 L565.27,262.46 L565.46,262.93 L565.66,263.40 L565.85,263.87 L566.04,264.35 L566.22,264.82 L566.41,265.29 L566.59,265.77 L566.76,266.24 L566.94,266.72 L567.11,267.19 L567.27,267.67 L567.44,268.15 L567.60,268.63 L567.75,269.11 L567.90,269.59 L568.05,270.07 L568.20,270.55 L568.34,271.03 L568.47,271.52 L568.61,272.00 L568.73,272.49 L568.86,272.97 L568.98,273.46 L569.09,273.95 L569.20,274.43 L569.30,274.92 L569.40,275.41 L569.50,275.90" stroke="#1a1aff" stroke-width="1.3" fill="none"/>
<path d="M395.80,263.50 L396.43,262.46 L397.07,261.42 L397.70,260.39 L398.35,259.35 L399.00,258.32 L399.65,257.29 L400.31,256.26 L400.98,255.24 L401.66,254.23 L402.35,253.22 L403.05,252.22 L403.77,251.23 L404.49,250.25 L405.23,249.28 L405.98,248.32 L406.74,247.37 L407.53,246.43 L408.32,245.51 L409.14,244.60 L409.97,243.71 L410.83,242.83 L411.70,241.98 L412.60,241.15 L413.52,240.35 L414.47,239.58 L415.45,238.85 L416.46,238.16 L417.50,237.52 L418.57,236.93 L419.67,236.39 L420.80,235.91 L421.95,235.50 L423.13,235.17 L424.32,234.91 L425.53,234.72 L426.75,234.62 L427.97,234.60 L429.19,234.66 L430.40,234.77 L431.61,234.92 L432.82,235.07 L434.04,235.19 L435.26,235.28 L436.48,235.34 L437.70,235.35 L438.91,235.33 L440.13,235.27 L441.35,235.18 L442.56,235.05 L443.77,234.88 L444.97,234.69 L446.18,234.48 L447.38,234.25 L448.57,234.00 L449.76,233.74 L450.95,233.47 L452.14,233.19 L453.32,232.90 L454.50,232.61 L455.69,232.31 L456.87,232.02 L458.05,231.72 L459.24,231.44 L460.42,231.15 L461.61,230.88 L462.80,230.60 L463.99,230.33 L465.18,230.06 L466.36,229.78 L467.55,229.50 L468.73,229.20 L469.91,228.90 L471.09,228.58 L472.26,228.25 L473.43,227.90 L474.59,227.53 L475.75,227.14 L476.90,226.75 L478.06,226.36 L479.21,225.97 L480.37,225.58 L481.53,225.21 L482.70,224.86 L483.87,224.54 L485.05,224.24 L486.24,223.97 L487.44,223.71 L488.63,223.44 L489.81,223.15 L490.98,222.82 L492.13,222.44 L493.28,222.02 L494.41,221.58 L495.54,221.11 L496.67,220.64 L497.79,220.15 L498.91,219.66 L500.03,219.19 L501.16,218.72 L502.30,218.26 L503.43,217.82 L504.57,217.39 L505.71,216.96 L506.85,216.54 L508.00,216.12 L509.15,215.71 L510.29,215.29 L511.44,214.88 L512.59,214.47 L513.74,214.07 L514.89,213.68 L516.05,213.29 L517.21,212.92 L518.38,212.56 L519.55,212.22 L520.73,211.91 L521.91,211.61 L523.10,211.33 L524.29,211.07 L525.49,210.82 L526.68,210.59 L527.88,210.38 L529.08,210.17 L530.28,209.97 L531.48,209.78 L532.68,209.60 L533.88,209.42 L535.08,209.24 L536.28,209.07 L537.49,208.89 L538.70,208.71 L539.92,208.53 L541.15,208.34 L542.38,208.19 L543.61,208.11 L544.82,208.14 L546.01,208.33 L547.18,208.70 L548.29,209.24 L549.32,209.93 L550.25,210.74 L551.05,211.65 L551.76,212.64 L552.41,213.69 L553.00,214.76 L553.59,215.85 L554.17,216.93 L554.75,218.01 L555.33,219.09 L555.91,220.16 L556.48,221.24 L557.05,222.31 L557.62,223.39 L558.17,224.47 L558.72,225.56 L559.26,226.64 L559.79,227.74 L560.30,228.83 L560.80,229.94 L561.30,231.05 L561.78,232.17 L562.25,233.29 L562.71,234.42 L563.16,235.55 L563.61,236.69 L564.05,237.82 L564.49,238.96 L564.92,240.11 L565.36,241.25 L565.78,242.39 L566.21,243.54 L566.64,244.68 L567.07,245.82 L567.50,246.96 L567.94,248.11 L568.37,249.25 L568.80,250.39 L569.23,251.53 L569.66,252.67 L570.09,253.81 L570.51,254.95 L570.93,256.09 L571.35,257.24 L571.76,258.38 L572.17,259.53 L572.57,260.68 L572.96,261.83 L573.35,262.99 L573.73,264.14 L574.10,265.30 L574.47,266.46 L574.82,267.63 L575.17,268.80 L575.50,269.97 L575.83,271.15 L576.14,272.33 L576.44,273.51 L576.73,274.70 L577.00,275.90" stroke="#1a1aff" stroke-width="1.3" fill="none"/>
<path d="M395.80,261.00 L396.51,260.02 L397.20,259.03 L397.90,258.04 L398.59,257.05 L399.29,256.05 L399.98,255.06 L400.67,254.06 L401.37,253.07 L402.07,252.08 L402.78,251.10 L403.50,250.12 L404.22,249.15 L404.96,248.19 L405.70,247.23 L406.46,246.29 L407.24,245.36 L408.03,244.44 L408.83,243.53 L409.66,242.64 L410.51,241.77 L411.38,240.91 L412.27,240.09 L413.19,239.30 L414.14,238.54 L415.12,237.83 L416.14,237.16 L417.19,236.55 L418.27,236.00 L419.38,235.50 L420.52,235.08 L421.69,234.72 L422.87,234.43 L424.06,234.21 L425.27,234.07 L426.48,233.99 L427.70,233.99 L428.91,234.04 L430.11,234.15 L431.32,234.29 L432.52,234.43 L433.73,234.57 L434.94,234.68 L436.15,234.77 L437.36,234.82 L438.57,234.83 L439.78,234.80 L440.99,234.72 L442.19,234.59 L443.39,234.43 L444.59,234.23 L445.78,234.00 L446.97,233.75 L448.16,233.49 L449.34,233.21 L450.52,232.92 L451.69,232.62 L452.87,232.32 L454.04,232.01 L455.21,231.70 L456.38,231.39 L457.55,231.08 L458.72,230.78 L459.89,230.48 L461.07,230.19 L462.24,229.90 L463.42,229.62 L464.60,229.34 L465.78,229.06 L466.96,228.78 L468.14,228.49 L469.31,228.20 L470.49,227.90 L471.66,227.60 L472.83,227.28 L473.99,226.94 L475.15,226.60 L476.31,226.24 L477.47,225.87 L478.62,225.49 L479.76,225.10 L480.91,224.71 L482.05,224.30 L483.19,223.89 L484.33,223.47 L485.47,223.05 L486.60,222.63 L487.73,222.19 L488.86,221.75 L489.99,221.31 L491.11,220.85 L492.23,220.39 L493.34,219.91 L494.46,219.43 L495.56,218.94 L496.67,218.45 L497.77,217.95 L498.87,217.43 L499.97,216.92 L501.06,216.39 L502.15,215.86 L503.23,215.32 L504.32,214.78 L505.40,214.24 L506.48,213.69 L507.56,213.14 L508.64,212.59 L509.72,212.04 L510.80,211.49 L511.88,210.94 L512.96,210.40 L514.04,209.84 L515.12,209.29 L516.19,208.73 L517.26,208.17 L518.33,207.60 L519.40,207.03 L520.46,206.44 L521.52,205.85 L522.58,205.26 L523.63,204.66 L524.68,204.05 L525.72,203.44 L526.77,202.83 L527.82,202.22 L528.87,201.61 L529.91,201.01 L530.96,200.40 L532.02,199.81 L533.07,199.21 L534.13,198.63 L535.20,198.05 L536.27,197.48 L537.34,196.93 L538.43,196.38 L539.53,195.86 L540.63,195.35 L541.75,194.88 L542.89,194.45 L544.04,194.08 L545.21,193.77 L546.41,193.54 L547.61,193.39 L548.83,193.34 L550.05,193.40 L551.26,193.56 L552.45,193.85 L553.61,194.25 L554.70,194.77 L555.73,195.41 L556.67,196.15 L557.56,196.98 L558.39,197.88 L559.18,198.82 L559.94,199.79 L560.68,200.77 L561.41,201.75 L562.12,202.74 L562.82,203.74 L563.51,204.73 L564.18,205.74 L564.83,206.75 L565.47,207.78 L566.10,208.80 L566.71,209.84 L567.31,210.89 L567.89,211.95 L568.46,213.01 L569.03,214.08 L569.58,215.16 L570.12,216.25 L570.65,217.33 L571.18,218.43 L571.70,219.53 L572.22,220.62 L572.73,221.73 L573.24,222.83 L573.74,223.93 L574.25,225.04 L574.76,226.14 L575.26,227.24 L575.76,228.35 L576.26,229.45 L576.75,230.55 L577.25,231.66 L577.74,232.77 L578.23,233.87 L578.72,234.98 L579.20,236.09 L579.68,237.20 L580.16,238.31 L580.64,239.43 L581.11,240.54 L581.58,241.66 L582.04,242.78 L582.50,243.90 L582.96,245.02 L583.41,246.14 L583.86,247.27 L584.30,248.40" stroke="#ff1a1a" stroke-width="1.3" fill="none"/>
<path d="M395.8,276.5 V14" stroke="#000" stroke-width="1.3" fill="none"/>
<path d="M393.5,16 L395.8,9.2 L398.1,16 Z" fill="#231f20"/>
<path d="M395.3,275.9 H607" stroke="#333" stroke-width="1.4" fill="none"/>
<path d="M606.3,273.4 L613.4,275.9 L606.3,278.4 Z" fill="#231f20"/>
<path d="M395.8,26.4 H583.9 V43.8" stroke="#000" stroke-width="1.3" fill="none"/>
<line x1="584.3" y1="240.3" x2="584.3" y2="275.9" stroke="#000" stroke-width="1.2" />
<line x1="391.2" y1="40.15" x2="395.8" y2="40.15" stroke="#000" stroke-width="1" />
<text x="387.6" y="44.05" font-size="11" text-anchor="end" fill="#231f20" stroke="#231f20" stroke-width="0.22" >1.5</text>
<line x1="391.2" y1="91.9" x2="395.8" y2="91.9" stroke="#000" stroke-width="1" />
<text x="387.6" y="95.8" font-size="11" text-anchor="end" fill="#231f20" stroke="#231f20" stroke-width="0.22" >1.0</text>
<line x1="391.2" y1="143.65" x2="395.8" y2="143.65" stroke="#000" stroke-width="1" />
<text x="387.6" y="147.55" font-size="11" text-anchor="end" fill="#231f20" stroke="#231f20" stroke-width="0.22" >0.5</text>
<line x1="391.2" y1="195.4" x2="395.8" y2="195.4" stroke="#000" stroke-width="1" />
<text x="387.6" y="199.3" font-size="11" text-anchor="end" fill="#231f20" stroke="#231f20" stroke-width="0.22" >0.0</text>
<line x1="391.2" y1="247.15" x2="395.8" y2="247.15" stroke="#000" stroke-width="1" />
<text x="387.6" y="251.05" font-size="11" text-anchor="end" fill="#231f20" stroke="#231f20" stroke-width="0.22" >−0.5</text>
<text x="353.6" y="144" font-size="11.2" text-anchor="middle" fill="#231f20" stroke="#231f20" stroke-width="0.22" transform="rotate(-90 353.6 144)">Energy (eV)</text>
<line x1="402.3" y1="234.3" x2="418" y2="234.3" stroke="#000" stroke-width="1.1" />
<line x1="402.5" y1="104.5" x2="418.1" y2="104.5" stroke="#000" stroke-width="1.1" />
<line x1="412.5" y1="236.5" x2="412.5" y2="106" stroke="#000" stroke-width="1.1" />
<path d="M410.3,108.4 L412.5,101.6 L414.7,108.4 Z" fill="#231f20"/>
<text x="416.2" y="173.3" font-size="11.3" text-anchor="start" fill="#231f20" stroke="#231f20" stroke-width="0.22" >E</text>
<text x="423.2" y="177.4" font-size="8.2" text-anchor="start" fill="#231f20" stroke="#231f20" stroke-width="0.22" >4</text>
<path d="M423.7,166.4 H429.5 M426.6,166.4 V161.1" stroke="#231f20" stroke-width="0.8" fill="none"/>
<path d="M431.4,168.7 V161.1" stroke="#231f20" stroke-width="0.8" fill="none"/><path d="M433.6,168.7 V161.1" stroke="#666" stroke-width="0.8" fill="none"/>
<text x="473" y="199.4" font-size="11" text-anchor="start" fill="#231f20" stroke="#231f20" stroke-width="0.22" >E</text>
<text x="480.2" y="202.5" font-size="8" text-anchor="start" fill="#231f20" stroke="#231f20" stroke-width="0.22" >f</text>
<line x1="545.9" y1="162" x2="545.9" y2="189" stroke="#000" stroke-width="1.1" />
<path d="M543.8,163.5 L545.9,157.6 L548.0,163.5 Z" fill="#231f20"/>
<path d="M543.8,187.6 L545.9,193.4 L548.0,187.6 Z" fill="#231f20"/>
<text x="530" y="177.9" font-size="11" text-anchor="start" fill="#231f20" stroke="#231f20" stroke-width="0.22" >E</text>
<text x="537.2" y="181.2" font-size="8.2" text-anchor="start" fill="#231f20" stroke="#231f20" stroke-width="0.22" >g</text>
<line x1="553.3" y1="156.8" x2="569" y2="156.8" stroke="#000" stroke-width="1.1" />
<line x1="586" y1="156.8" x2="675" y2="156.8" stroke="#000" stroke-width="1.1" />
<text x="570.6" y="160.7" font-size="11" text-anchor="start" fill="#231f20" stroke="#231f20" stroke-width="0.22" >H</text><text x="578.8" y="163.4" font-size="8" text-anchor="start" fill="#231f20" stroke="#231f20" stroke-width="0.22" >6</text>
<line x1="559.3" y1="194.8" x2="575.5" y2="194.8" stroke="#000" stroke-width="1.1" />
<line x1="593.7" y1="194.8" x2="628.8" y2="194.8" stroke="#000" stroke-width="1.1" />
<text x="577.1" y="198.7" font-size="11" text-anchor="start" fill="#231f20" stroke="#231f20" stroke-width="0.22" >H</text><text x="585.3" y="201.4" font-size="8" text-anchor="start" fill="#231f20" stroke="#231f20" stroke-width="0.22" >4</text>
<line x1="552.5" y1="208.4" x2="584.8" y2="208.4" stroke="#000" stroke-width="1.1" />
<line x1="602.6" y1="208.4" x2="645.8" y2="208.4" stroke="#000" stroke-width="1.1" />
<text x="586.6" y="212.3" font-size="11" text-anchor="start" fill="#231f20" stroke="#231f20" stroke-width="0.22" >H</text><text x="594.8" y="215" font-size="8" text-anchor="start" fill="#231f20" stroke="#231f20" stroke-width="0.22" >5</text>
<line x1="557" y1="232.9" x2="595.2" y2="232.9" stroke="#000" stroke-width="1.1" />
<line x1="611.7" y1="232.9" x2="675" y2="232.9" stroke="#000" stroke-width="1.1" />
<text x="596.9" y="236.8" font-size="11" text-anchor="start" fill="#231f20" stroke="#231f20" stroke-width="0.22" >H</text><text x="605.1" y="239.5" font-size="8" text-anchor="start" fill="#231f20" stroke="#231f20" stroke-width="0.22" >6</text>
<line x1="615" y1="198.3" x2="615" y2="158" stroke="#000" stroke-width="1.1" />
<path d="M612.9,160.0 L615.0,153.2 L617.1,160.0 Z" fill="#111"/>
<line x1="639.2" y1="211" x2="639.2" y2="158" stroke="#1a1aff" stroke-width="1.2" />
<path d="M637.1,160.0 L639.2,152.9 L641.3,160.0 Z" fill="#1a1aff"/>
<line x1="661.7" y1="236.5" x2="661.7" y2="158" stroke="#000" stroke-width="1.1" />
<path d="M659.6,160.0 L661.7,153.0 L663.8,160.0 Z" fill="#111"/>
<text x="599.5" y="182" font-size="11.3" text-anchor="start" fill="#231f20" stroke="#231f20" stroke-width="0.22" >E</text>
<text x="606.5" y="186.1" font-size="8.2" text-anchor="start" fill="#231f20" stroke="#231f20" stroke-width="0.22" >1</text>
<path d="M606.7,175.4 H611.5 M609.1,175.4 V170.1" stroke="#231f20" stroke-width="0.8" fill="none"/>
<text x="618.8" y="182" font-size="11.3" text-anchor="start" fill="#231f20" stroke="#231f20" stroke-width="0.22" >E</text>
<text x="625.8" y="186.1" font-size="8.2" text-anchor="start" fill="#231f20" stroke="#231f20" stroke-width="0.22" >1</text>
<path d="M626.5,178.2 V169.8" stroke="#231f20" stroke-width="0.8" fill="none"/><path d="M628.5,178.2 V169.8" stroke="#666" stroke-width="0.8" fill="none"/>
<text x="642.7" y="188.7" font-size="11.3" text-anchor="start" fill="#231f20" stroke="#231f20" stroke-width="0.22" >E</text>
<text x="649.7" y="192.8" font-size="8.2" text-anchor="start" fill="#231f20" stroke="#231f20" stroke-width="0.22" >2</text>
<path d="M650.4,184.9 V176.5" stroke="#231f20" stroke-width="0.8" fill="none"/><path d="M652.4,184.9 V176.5" stroke="#666" stroke-width="0.8" fill="none"/>
<text x="665.3" y="203.3" font-size="11.3" text-anchor="start" fill="#231f20" stroke="#231f20" stroke-width="0.22" >E</text>
<text x="672.3" y="207.4" font-size="8.2" text-anchor="start" fill="#231f20" stroke="#231f20" stroke-width="0.22" >3</text>
<path d="M672.5,196.7 H677.9 M675.2,196.7 V191.4" stroke="#231f20" stroke-width="0.8" fill="none"/>
<path d="M679.9,198.9 V191.1" stroke="#231f20" stroke-width="0.8" fill="none"/><path d="M682.1,198.9 V191.1" stroke="#666" stroke-width="0.8" fill="none"/>
<text x="396.6" y="289.6" font-size="11" text-anchor="start" fill="#231f20" stroke="#231f20" stroke-width="0.22" >A</text>
<path d="M423.1,285.4 H411" stroke="#000" stroke-width="1.5"/><path d="M412.8,282.9 L406.3,285.4 L412.8,287.9 Z" fill="#000"/>
<text x="426" y="289.6" font-size="11" text-anchor="start" fill="#231f20" stroke="#231f20" stroke-width="0.22" >L</text>
<text x="542.3" y="289.6" font-size="11" text-anchor="start" fill="#231f20" stroke="#231f20" stroke-width="0.22" >H</text>
<path d="M555.4,285.4 H569" stroke="#000" stroke-width="1.5"/><path d="M568.4,282.9 L575.0,285.4 L568.4,287.9 Z" fill="#000"/>
<text x="580.3" y="289.6" font-size="11" text-anchor="start" fill="#231f20" stroke="#231f20" stroke-width="0.22" >K</text>
<text x="617.3" y="280.2" font-size="11" text-anchor="start" fill="#231f20" stroke="#231f20" stroke-width="0.22" >k</text>
<text x="623.2" y="283" font-size="8" text-anchor="start" fill="#231f20" stroke="#231f20" stroke-width="0.22" >z</text>
<path d="M559.5,56.1 L577.6,47.6 L626.5,46.2 L656.4,53.9 L638.3,63.0 L589.4,63.8 Z" stroke="#231f20" stroke-width="0.9" fill="none"/>
<path d="M559.5,114.2 L577.6,105.7 L626.5,105.1 L656.4,112.2 L638.3,121.5 L589.4,122.1 Z" stroke="#231f20" stroke-width="0.9" fill="none"/>
<path d="M559.5,84.6 L577.6,76.8 L626.5,76.0 L656.4,83.5 L638.3,91.9 L589.4,92.9 Z" stroke="#231f20" stroke-width="0.8" fill="none" stroke-dasharray="3 2"/>
<line x1="559.5" y1="56.1" x2="559.5" y2="114.2" stroke="#231f20" stroke-width="0.9" />
<line x1="577.6" y1="47.6" x2="577.6" y2="105.7" stroke="#231f20" stroke-width="0.9" />
<line x1="626.5" y1="46.2" x2="626.5" y2="105.1" stroke="#231f20" stroke-width="0.9" />
<line x1="656.4" y1="53.9" x2="656.4" y2="112.2" stroke="#231f20" stroke-width="0.9" />
<line x1="638.3" y1="63" x2="638.3" y2="121.5" stroke="#231f20" stroke-width="0.9" />
<line x1="589.4" y1="63.8" x2="589.4" y2="122.1" stroke="#231f20" stroke-width="0.9" />
<line x1="607.5" y1="84.6" x2="607.5" y2="34" stroke="#231f20" stroke-width="0.9" />
<path d="M605.6,35.5 L607.5,29.6 L609.4,35.5 Z" fill="#231f20"/>
<line x1="607.5" y1="84.6" x2="671" y2="89.6" stroke="#231f20" stroke-width="0.9" />
<path d="M670.5,87.5 L676.3,90.1 L670.2,91.5 Z" fill="#231f20"/>
<line x1="607.5" y1="84.6" x2="618.6" y2="99.2" stroke="#231f20" stroke-width="0.9" />
<path d="M616.6,100.2 L620.8,102.2 L619.9,97.6 Z" fill="#231f20"/>
<line x1="607.5" y1="55.1" x2="656.4" y2="53.9" stroke="#ff1a1a" stroke-width="0.9" />
<line x1="607.5" y1="55.1" x2="647.6" y2="58.4" stroke="#ff1a1a" stroke-width="0.9" />
<line x1="656.4" y1="53.9" x2="656.4" y2="83.5" stroke="#ff1a1a" stroke-width="0.9" />
<line x1="647.6" y1="58.4" x2="647.6" y2="88" stroke="#ff1a1a" stroke-width="0.9" />
<line x1="607.5" y1="84.6" x2="656.4" y2="83.5" stroke="#ff1a1a" stroke-width="0.9" />
<line x1="607.5" y1="84.6" x2="647.6" y2="88" stroke="#ff1a1a" stroke-width="0.9" />
<line x1="607.5" y1="55.1" x2="607.5" y2="84.6" stroke="#ff1a1a" stroke-width="0.9" />
<circle cx="607.5" cy="55.1" r="1.1" fill="#ff1a1a"/>
<circle cx="656.4" cy="53.9" r="1.1" fill="#ff1a1a"/>
<circle cx="647.6" cy="58.4" r="1.1" fill="#ff1a1a"/>
<circle cx="656.4" cy="83.5" r="1.1" fill="#ff1a1a"/>
<circle cx="647.6" cy="88.0" r="1.1" fill="#ff1a1a"/>
<circle cx="607.5" cy="84.6" r="1.1" fill="#ff1a1a"/>
<text x="597.6" y="60.2" font-size="10.5" text-anchor="start" fill="#231f20" stroke="#231f20" stroke-width="0.22" >A</text>
<text x="659.8" y="58" font-size="10.5" text-anchor="start" fill="#ff1a1a" stroke="#ff1a1a" stroke-width="0.22" >H</text>
<text x="648.4" y="68.6" font-size="10.5" text-anchor="start" fill="#ff1a1a" stroke="#ff1a1a" stroke-width="0.22" >L</text>
<text x="659.8" y="87.6" font-size="10.5" text-anchor="start" fill="#ff1a1a" stroke="#ff1a1a" stroke-width="0.22" >K</text>
<text x="645.7" y="98.9" font-size="10.5" text-anchor="start" fill="#ff1a1a" stroke="#ff1a1a" stroke-width="0.22" >M</text>
<text x="599" y="88.2" font-size="10.5" text-anchor="start" fill="#231f20" stroke="#231f20" stroke-width="0.22" >Γ</text>
<text x="611.2" y="39.4" font-size="10.5" text-anchor="start" fill="#231f20" stroke="#231f20" stroke-width="0.22" >k</text>
<text x="616.8" y="42.2" font-size="7.5" text-anchor="start" fill="#231f20" stroke="#231f20" stroke-width="0.22" >z</text>
<text x="666" y="101.6" font-size="10.5" text-anchor="start" fill="#231f20" stroke="#231f20" stroke-width="0.22" >k</text>
<text x="671.6" y="104.6" font-size="7.5" text-anchor="start" fill="#231f20" stroke="#231f20" stroke-width="0.22" >y</text>
<text x="617.5" y="114.6" font-size="10.5" text-anchor="start" fill="#231f20" stroke="#231f20" stroke-width="0.22" >k</text>
<text x="623.1" y="117.6" font-size="7.5" text-anchor="start" fill="#231f20" stroke="#231f20" stroke-width="0.22" >x</text>
<text x="341.6" y="9" font-size="16" text-anchor="start" fill="#231f20" font-weight="bold" >c</text>
<path d="M396,386.3 L396.5,386.3 L397,386.3 L397.5,386.3 L398,386.3 L398.5,386.3 L399,386.3 L399.5,386.3 L400,386.3 L400.49,386.3 L400.99,386.3 L401.49,386.3 L401.99,386.3 L402.49,386.3 L402.99,386.3 L403.49,386.3 L403.99,386.3 L404.49,386.3 L404.99,386.3 L405.49,386.3 L405.99,386.3 L406.49,386.3 L406.99,386.3 L407.49,386.3 L407.99,386.3 L408.48,386.3 L408.98,386.3 L409.48,386.3 L409.98,386.3 L410.48,386.3 L410.98,386.3 L411.48,386.3 L411.98,386.3 L412.48,386.3 L412.98,386.3 L413.48,386.3 L413.98,386.3 L414.48,386.3 L414.98,386.3 L415.48,386.3 L415.98,386.3 L416.47,386.3 L416.97,386.3 L417.47,386.3 L417.97,386.3 L418.47,386.3 L418.97,386.3 L419.47,386.3 L419.97,386.3 L420.47,386.3 L420.97,386.3 L421.47,386.3 L421.97,386.3 L422.47,386.3 L422.97,386.3 L423.47,386.3 L423.97,386.3 L424.46,386.3 L424.96,386.3 L425.46,386.3 L425.96,386.3 L426.46,386.3 L426.96,386.3 L427.46,386.3 L427.96,386.3 L428.46,386.3 L428.96,386.3 L429.46,386.3 L429.96,386.3 L430.46,386.3 L430.96,386.3 L431.46,386.3 L431.96,386.3 L432.45,386.3 L432.95,386.3 L433.45,386.3 L433.95,386.3 L434.45,386.3 L434.95,386.3 L435.45,386.3 L435.95,386.3 L436.45,386.3 L436.95,386.3 L437.45,386.3 L437.95,386.3 L438.45,386.3 L438.95,386.3 L439.45,386.3 L439.95,386.3 L440.44,386.3 L440.94,386.3 L441.44,386.3 L441.94,386.3 L442.44,386.3 L442.94,386.3 L443.44,386.3 L443.94,386.3 L444.44,386.3 L444.94,386.3 L445.44,386.3 L445.94,386.3 L446.44,386.3 L446.94,386.3 L447.44,386.3 L447.94,386.3 L448.43,386.3 L448.93,386.3 L449.43,386.3 L449.93,386.3 L450.43,386.3 L450.93,386.3 L451.43,386.3 L451.93,386.3 L452.43,386.3 L452.93,386.3 L453.43,386.3 L453.93,386.3 L454.43,386.3 L454.93,386.3 L455.43,386.3 L455.93,386.3 L456.42,386.3 L456.92,386.3 L457.42,386.3 L457.92,386.3 L458.42,386.3 L458.92,386.32 L459.42,386.34 L459.92,386.37 L460.42,386.41 L460.92,386.45 L461.42,386.5 L461.92,386.56 L462.42,386.64 L462.92,386.8 L463.42,387.06 L463.92,387.41 L464.41,387.84 L464.91,388.35 L465.41,388.94 L465.91,389.58 L466.41,390.47 L466.91,391.88 L467.41,393.7 L467.91,395.8 L468.41,398.05 L468.91,400.34 L469.41,402.84 L469.91,405.7 L470.41,408.8 L470.91,412.01 L471.41,415.19 L471.91,418.24 L472.4,421.41 L472.9,424.72 L473.4,427.98 L473.9,430.99 L474.4,433.56 L474.9,435.57 L475.4,437.51 L475.9,439.15 L476.4,440.1 L476.9,440.04 L477.4,439.17 L477.9,437.7 L478.4,435.79 L478.9,433.65 L479.4,431.45 L479.9,429 L480.4,425.78 L480.89,422.11 L481.39,418.33 L481.89,414.8 L482.39,411.84 L482.89,409.32 L483.39,406.85 L483.89,404.5 L484.39,402.31 L484.89,400.32 L485.39,398.58 L485.89,397.13 L486.39,396.01 L486.89,395.03 L487.39,394.13 L487.89,393.31 L488.39,392.57 L488.88,391.89 L489.38,391.28 L489.88,390.73 L490.38,390.24 L490.88,389.8 L491.38,389.4 L491.88,389.03 L492.38,388.7 L492.88,388.41 L493.38,388.15 L493.88,387.94 L494.38,387.77 L494.88,387.62 L495.38,387.48 L495.88,387.35 L496.38,387.24 L496.87,387.13 L497.37,387.03 L497.87,386.94 L498.37,386.85 L498.87,386.77 L499.37,386.69 L499.87,386.61 L500.37,386.53 L500.87,386.45 L501.37,386.38 L501.87,386.32 L502.37,386.27 L502.87,386.23 L503.37,386.2 L503.87,386.18 L504.37,386.17 L504.86,386.15 L505.36,386.13 L505.86,386.12 L506.36,386.1 L506.86,386.09 L507.36,386.07 L507.86,386.06 L508.36,386.05 L508.86,386.04 L509.36,386.02 L509.86,386.01 L510.36,386 L510.86,385.99 L511.36,385.98 L511.86,385.98 L512.36,385.97 L512.85,385.96 L513.35,385.95 L513.85,385.95 L514.35,385.94 L514.85,385.93 L515.35,385.93 L515.85,385.92 L516.35,385.92 L516.85,385.91 L517.35,385.91 L517.85,385.91 L518.35,385.91 L518.85,385.9 L519.35,385.9 L519.85,385.9 L520.35,385.9 L520.84,385.9 L521.34,385.9 L521.84,385.9 L522.34,385.9 L522.84,385.89 L523.34,385.89 L523.84,385.89 L524.34,385.89 L524.84,385.89 L525.34,385.89 L525.84,385.89 L526.34,385.89 L526.84,385.89 L527.34,385.89 L527.84,385.88 L528.34,385.88 L528.83,385.88 L529.33,385.88 L529.83,385.88 L530.33,385.88 L530.83,385.88 L531.33,385.88 L531.83,385.88 L532.33,385.88 L532.83,385.88 L533.33,385.87 L533.83,385.87 L534.33,385.87 L534.83,385.87 L535.33,385.87 L535.83,385.87 L536.33,385.87 L536.82,385.87 L537.32,385.87 L537.82,385.87 L538.32,385.87 L538.82,385.87 L539.32,385.86 L539.82,385.86 L540.32,385.86 L540.82,385.86 L541.32,385.86 L541.82,385.86 L542.32,385.86 L542.82,385.86 L543.32,385.86 L543.82,385.86 L544.32,385.86 L544.81,385.86 L545.31,385.86 L545.81,385.85 L546.31,385.85 L546.81,385.85 L547.31,385.85 L547.81,385.85 L548.31,385.85 L548.81,385.85 L549.31,385.85 L549.81,385.85 L550.31,385.85 L550.81,385.85 L551.31,385.85 L551.81,385.85 L552.31,385.85 L552.8,385.84 L553.3,385.84 L553.8,385.84 L554.3,385.84 L554.8,385.84 L555.3,385.84 L555.8,385.84 L556.3,385.84 L556.8,385.84 L557.3,385.84 L557.8,385.84 L558.3,385.84 L558.8,385.84 L559.3,385.84 L559.8,385.84 L560.3,385.84 L560.8,385.84 L561.29,385.83 L561.79,385.83 L562.29,385.83 L562.79,385.83 L563.29,385.83 L563.79,385.83 L564.29,385.83 L564.79,385.83 L565.29,385.83 L565.79,385.83 L566.29,385.83 L566.79,385.83 L567.29,385.83 L567.79,385.83 L568.29,385.83 L568.79,385.83 L569.28,385.83 L569.78,385.83 L570.28,385.83 L570.78,385.83 L571.28,385.83 L571.78,385.82 L572.28,385.82 L572.78,385.82 L573.28,385.82 L573.78,385.82 L574.28,385.82 L574.78,385.82 L575.28,385.82 L575.78,385.82 L576.28,385.82 L576.78,385.82 L577.27,385.82 L577.77,385.82 L578.27,385.82 L578.77,385.82 L579.27,385.82 L579.77,385.82 L580.27,385.82 L580.77,385.82 L581.27,385.82 L581.77,385.82 L582.27,385.82 L582.77,385.82 L583.27,385.82 L583.77,385.82 L584.27,385.82 L584.77,385.81 L585.26,385.81 L585.76,385.81 L586.26,385.81 L586.76,385.81 L587.26,385.81 L587.76,385.81 L588.26,385.81 L588.76,385.81 L589.26,385.81 L589.76,385.81 L590.26,385.81 L590.76,385.81 L591.26,385.81 L591.76,385.81 L592.26,385.81 L592.76,385.81 L593.25,385.81 L593.75,385.81 L594.25,385.81 L594.75,385.81 L595.25,385.81 L595.75,385.81 L596.25,385.81 L596.75,385.81 L597.25,385.81 L597.75,385.81 L598.25,385.81 L598.75,385.81 L599.25,385.81 L599.75,385.81 L600.25,385.81 L600.75,385.81 L601.24,385.81 L601.74,385.81 L602.24,385.81 L602.74,385.81 L603.24,385.81 L603.74,385.81 L604.24,385.81 L604.74,385.81 L605.24,385.8 L605.74,385.8 L606.24,385.8 L606.74,385.8 L607.24,385.8 L607.74,385.8 L608.24,385.8 L608.74,385.8 L609.23,385.8 L609.73,385.8 L610.23,385.8 L610.73,385.8 L611.23,385.8 L611.73,385.8 L612.23,385.8 L612.73,385.8 L613.23,385.8 L613.73,385.8 L614.23,385.8 L614.73,385.8 L615.23,385.8 L615.73,385.8 L616.23,385.8 L616.73,385.8 L617.22,385.8 L617.72,385.8 L618.22,385.8 L618.72,385.8 L619.22,385.8 L619.72,385.8 L620.22,385.8 L620.72,385.8 L621.22,385.8 L621.72,385.8 L622.22,385.8 L622.72,385.8 L623.22,385.8 L623.72,385.8 L624.22,385.8 L624.72,385.8 L625.21,385.8 L625.71,385.8 L626.21,385.8 L626.71,385.8 L627.21,385.8 L627.71,385.8 L628.21,385.8 L628.71,385.8 L629.21,385.8 L629.71,385.8 L630.21,385.8 L630.71,385.8 L631.21,385.8 L631.71,385.8 L632.21,385.8 L632.71,385.8 L633.2,385.8 L633.7,385.8 L634.2,385.8 L634.7,385.8 L635.2,385.8 L635.7,385.8 L636.2,385.8 L636.7,385.8 L637.2,385.8" stroke="#1a1aff" stroke-width="1.3" fill="none" />
<path d="M396,500.3 L396.5,500.3 L397,500.3 L397.5,500.3 L398,500.3 L398.5,500.3 L399,500.3 L399.5,500.3 L400,500.3 L400.49,500.3 L400.99,500.3 L401.49,500.3 L401.99,500.3 L402.49,500.3 L402.99,500.3 L403.49,500.3 L403.99,500.3 L404.49,500.3 L404.99,500.3 L405.49,500.3 L405.99,500.3 L406.49,500.3 L406.99,500.3 L407.49,500.3 L407.99,500.3 L408.48,500.3 L408.98,500.3 L409.48,500.3 L409.98,500.3 L410.48,500.3 L410.98,500.3 L411.48,500.3 L411.98,500.3 L412.48,500.3 L412.98,500.3 L413.48,500.3 L413.98,500.3 L414.48,500.3 L414.98,500.3 L415.48,500.3 L415.98,500.3 L416.47,500.3 L416.97,500.3 L417.47,500.3 L417.97,500.3 L418.47,500.3 L418.97,500.3 L419.47,500.3 L419.97,500.3 L420.47,500.3 L420.97,500.3 L421.47,500.3 L421.97,500.3 L422.47,500.3 L422.97,500.3 L423.47,500.3 L423.97,500.3 L424.46,500.3 L424.96,500.3 L425.46,500.3 L425.96,500.3 L426.46,500.3 L426.96,500.3 L427.46,500.3 L427.96,500.3 L428.46,500.3 L428.96,500.3 L429.46,500.3 L429.96,500.3 L430.46,500.3 L430.96,500.3 L431.46,500.3 L431.96,500.3 L432.45,500.3 L432.95,500.3 L433.45,500.3 L433.95,500.3 L434.45,500.3 L434.95,500.3 L435.45,500.3 L435.95,500.3 L436.45,500.3 L436.95,500.3 L437.45,500.3 L437.95,500.3 L438.45,500.3 L438.95,500.3 L439.45,500.3 L439.95,500.3 L440.44,500.3 L440.94,500.3 L441.44,500.3 L441.94,500.3 L442.44,500.3 L442.94,500.3 L443.44,500.3 L443.94,500.3 L444.44,500.3 L444.94,500.3 L445.44,500.3 L445.94,500.3 L446.44,500.3 L446.94,500.3 L447.44,500.3 L447.94,500.3 L448.43,500.3 L448.93,500.3 L449.43,500.3 L449.93,500.3 L450.43,500.3 L450.93,500.3 L451.43,500.3 L451.93,500.3 L452.43,500.3 L452.93,500.3 L453.43,500.3 L453.93,500.3 L454.43,500.3 L454.93,500.3 L455.43,500.3 L455.93,500.3 L456.42,500.3 L456.92,500.3 L457.42,500.3 L457.92,500.3 L458.42,500.3 L458.92,500.3 L459.42,500.3 L459.92,500.3 L460.42,500.3 L460.92,500.32 L461.42,500.34 L461.92,500.38 L462.42,500.42 L462.92,500.47 L463.42,500.54 L463.92,500.76 L464.41,501.14 L464.91,501.65 L465.41,502.27 L465.91,502.97 L466.41,503.74 L466.91,504.55 L467.41,505.49 L467.91,506.7 L468.41,508.16 L468.91,509.83 L469.41,511.65 L469.91,513.59 L470.41,515.6 L470.91,517.64 L471.41,519.91 L471.91,522.43 L472.4,525.15 L472.9,528 L473.4,530.91 L473.9,533.82 L474.4,536.66 L474.9,539.46 L475.4,542.74 L475.9,546.31 L476.4,549.78 L476.9,552.75 L477.4,554.82 L477.9,555.6 L478.4,555.27 L478.9,554.37 L479.4,553.03 L479.9,551.39 L480.4,549.59 L480.89,547.75 L481.39,546.02 L481.89,544.25 L482.39,542.25 L482.89,540.1 L483.39,537.88 L483.89,535.68 L484.39,533.58 L484.89,531.67 L485.39,529.99 L485.89,528.38 L486.39,526.8 L486.89,525.25 L487.39,523.75 L487.89,522.31 L488.39,520.94 L488.88,519.64 L489.38,518.44 L489.88,517.34 L490.38,516.35 L490.88,515.48 L491.38,514.73 L491.88,514.01 L492.38,513.33 L492.88,512.68 L493.38,512.07 L493.88,511.48 L494.38,510.93 L494.88,510.41 L495.38,509.91 L495.88,509.44 L496.38,509 L496.87,508.58 L497.37,508.18 L497.87,507.79 L498.37,507.43 L498.87,507.08 L499.37,506.74 L499.87,506.41 L500.37,506.08 L500.87,505.75 L501.37,505.44 L501.87,505.14 L502.37,504.84 L502.87,504.56 L503.37,504.29 L503.87,504.03 L504.37,503.78 L504.86,503.55 L505.36,503.34 L505.86,503.14 L506.36,502.96 L506.86,502.8 L507.36,502.65 L507.86,502.53 L508.36,502.42 L508.86,502.32 L509.36,502.22 L509.86,502.12 L510.36,502.02 L510.86,501.93 L511.36,501.84 L511.86,501.75 L512.36,501.66 L512.85,501.57 L513.35,501.49 L513.85,501.41 L514.35,501.33 L514.85,501.25 L515.35,501.18 L515.85,501.11 L516.35,501.04 L516.85,500.97 L517.35,500.91 L517.85,500.85 L518.35,500.79 L518.85,500.73 L519.35,500.68 L519.85,500.63 L520.35,500.58 L520.84,500.53 L521.34,500.49 L521.84,500.45 L522.34,500.41 L522.84,500.38 L523.34,500.34 L523.84,500.31 L524.34,500.29 L524.84,500.26 L525.34,500.24 L525.84,500.22 L526.34,500.21 L526.84,500.2 L527.34,500.19 L527.84,500.17 L528.34,500.16 L528.83,500.15 L529.33,500.14 L529.83,500.13 L530.33,500.12 L530.83,500.11 L531.33,500.1 L531.83,500.09 L532.33,500.08 L532.83,500.07 L533.33,500.06 L533.83,500.05 L534.33,500.04 L534.83,500.03 L535.33,500.03 L535.83,500.02 L536.33,500.01 L536.82,500 L537.32,499.99 L537.82,499.99 L538.32,499.98 L538.82,499.97 L539.32,499.96 L539.82,499.96 L540.32,499.95 L540.82,499.94 L541.32,499.94 L541.82,499.93 L542.32,499.92 L542.82,499.92 L543.32,499.91 L543.82,499.91 L544.32,499.9 L544.81,499.9 L545.31,499.89 L545.81,499.89 L546.31,499.88 L546.81,499.88 L547.31,499.87 L547.81,499.87 L548.31,499.86 L548.81,499.86 L549.31,499.85 L549.81,499.85 L550.31,499.85 L550.81,499.84 L551.31,499.84 L551.81,499.84 L552.31,499.83 L552.8,499.83 L553.3,499.83 L553.8,499.82 L554.3,499.82 L554.8,499.82 L555.3,499.82 L555.8,499.81 L556.3,499.81 L556.8,499.81 L557.3,499.81 L557.8,499.81 L558.3,499.81 L558.8,499.8 L559.3,499.8 L559.8,499.8 L560.3,499.8 L560.8,499.8 L561.29,499.8 L561.79,499.8 L562.29,499.79 L562.79,499.79 L563.29,499.79 L563.79,499.79 L564.29,499.79 L564.79,499.79 L565.29,499.79 L565.79,499.79 L566.29,499.78 L566.79,499.78 L567.29,499.78 L567.79,499.78 L568.29,499.78 L568.79,499.78 L569.28,499.78 L569.78,499.78 L570.28,499.77 L570.78,499.77 L571.28,499.77 L571.78,499.77 L572.28,499.77 L572.78,499.77 L573.28,499.77 L573.78,499.77 L574.28,499.77 L574.78,499.77 L575.28,499.76 L575.78,499.76 L576.28,499.76 L576.78,499.76 L577.27,499.76 L577.77,499.76 L578.27,499.76 L578.77,499.76 L579.27,499.76 L579.77,499.76 L580.27,499.75 L580.77,499.75 L581.27,499.75 L581.77,499.75 L582.27,499.75 L582.77,499.75 L583.27,499.75 L583.77,499.75 L584.27,499.75 L584.77,499.75 L585.26,499.74 L585.76,499.74 L586.26,499.74 L586.76,499.74 L587.26,499.74 L587.76,499.74 L588.26,499.74 L588.76,499.74 L589.26,499.74 L589.76,499.74 L590.26,499.74 L590.76,499.74 L591.26,499.74 L591.76,499.73 L592.26,499.73 L592.76,499.73 L593.25,499.73 L593.75,499.73 L594.25,499.73 L594.75,499.73 L595.25,499.73 L595.75,499.73 L596.25,499.73 L596.75,499.73 L597.25,499.73 L597.75,499.73 L598.25,499.73 L598.75,499.72 L599.25,499.72 L599.75,499.72 L600.25,499.72 L600.75,499.72 L601.24,499.72 L601.74,499.72 L602.24,499.72 L602.74,499.72 L603.24,499.72 L603.74,499.72 L604.24,499.72 L604.74,499.72 L605.24,499.72 L605.74,499.72 L606.24,499.72 L606.74,499.72 L607.24,499.71 L607.74,499.71 L608.24,499.71 L608.74,499.71 L609.23,499.71 L609.73,499.71 L610.23,499.71 L610.73,499.71 L611.23,499.71 L611.73,499.71 L612.23,499.71 L612.73,499.71 L613.23,499.71 L613.73,499.71 L614.23,499.71 L614.73,499.71 L615.23,499.71 L615.73,499.71 L616.23,499.71 L616.73,499.71 L617.22,499.71 L617.72,499.71 L618.22,499.71 L618.72,499.71 L619.22,499.71 L619.72,499.71 L620.22,499.7 L620.72,499.7 L621.22,499.7 L621.72,499.7 L622.22,499.7 L622.72,499.7 L623.22,499.7 L623.72,499.7 L624.22,499.7 L624.72,499.7 L625.21,499.7 L625.71,499.7 L626.21,499.7 L626.71,499.7 L627.21,499.7 L627.71,499.7 L628.21,499.7 L628.71,499.7 L629.21,499.7 L629.71,499.7 L630.21,499.7 L630.71,499.7 L631.21,499.7 L631.71,499.7 L632.21,499.7 L632.71,499.7 L633.2,499.7 L633.7,499.7 L634.2,499.7 L634.7,499.7 L635.2,499.7 L635.7,499.7 L636.2,499.7 L636.7,499.7 L637.2,499.7" stroke="#1a1aff" stroke-width="1.3" fill="none" />
<g fill="none" stroke="#3a3a3a" stroke-width="0.75"><circle cx="446.8" cy="401.2" r="1.7"/><circle cx="448.8" cy="402.2" r="1.7"/><circle cx="450.7" cy="404.1" r="1.7"/><circle cx="452.6" cy="406.0" r="1.7"/><circle cx="454.1" cy="408.0" r="1.7"/><circle cx="456.1" cy="410.3" r="1.7"/><circle cx="457.6" cy="412.2" r="1.7"/><circle cx="459.1" cy="414.5" r="1.7"/><circle cx="460.7" cy="417.2" r="1.7"/><circle cx="461.8" cy="419.5" r="1.7"/><circle cx="463.2" cy="422.4" r="1.7"/><circle cx="464.1" cy="424.9" r="1.7"/><circle cx="465.1" cy="427.7" r="1.7"/><circle cx="466.4" cy="428.7" r="1.7"/><circle cx="468.0" cy="429.1" r="1.7"/><circle cx="469.9" cy="427.9" r="1.7"/><circle cx="471.2" cy="425.2" r="1.7"/><circle cx="472.8" cy="419.1" r="1.7"/><circle cx="474.3" cy="412.4" r="1.7"/><circle cx="475.3" cy="408.9" r="1.7"/><circle cx="476.6" cy="400.3" r="1.7"/><circle cx="477.6" cy="396.1" r="1.7"/><circle cx="478.7" cy="391.5" r="1.7"/><circle cx="480.4" cy="382.6" r="1.7"/><circle cx="482.4" cy="375.3" r="1.7"/><circle cx="484.3" cy="371.5" r="1.7"/><circle cx="486.0" cy="365.7" r="1.7"/><circle cx="487.9" cy="359.0" r="1.7"/><circle cx="489.5" cy="358.0" r="1.7"/><circle cx="491.0" cy="358.4" r="1.7"/><circle cx="492.5" cy="357.7" r="1.7"/><circle cx="494.1" cy="357.3" r="1.7"/><circle cx="495.6" cy="356.9" r="1.7"/><circle cx="497.2" cy="357.7" r="1.7"/><circle cx="498.7" cy="358.8" r="1.7"/><circle cx="500.2" cy="360.5" r="1.7"/><circle cx="501.8" cy="362.8" r="1.7"/><circle cx="503.3" cy="364.2" r="1.7"/><circle cx="504.8" cy="365.3" r="1.7"/><circle cx="506.4" cy="366.7" r="1.7"/><circle cx="507.9" cy="368.0" r="1.7"/><circle cx="509.4" cy="369.6" r="1.7"/><circle cx="511.0" cy="371.1" r="1.7"/><circle cx="512.5" cy="373.0" r="1.7"/><circle cx="514.0" cy="374.6" r="1.7"/><circle cx="516.0" cy="376.5" r="1.7"/><circle cx="518.1" cy="377.1" r="1.7"/><circle cx="520.2" cy="378.2" r="1.7"/><circle cx="522.3" cy="378.7" r="1.7"/><circle cx="524.4" cy="379.3" r="1.7"/><circle cx="526.5" cy="379.5" r="1.7"/><circle cx="528.6" cy="380.7" r="1.7"/><circle cx="530.7" cy="380.3" r="1.7"/><circle cx="532.8" cy="380.9" r="1.7"/><circle cx="534.9" cy="381.3" r="1.7"/><circle cx="537.0" cy="381.9" r="1.7"/><circle cx="539.1" cy="381.6" r="1.7"/><circle cx="541.2" cy="382.4" r="1.7"/><circle cx="543.3" cy="382.6" r="1.7"/><circle cx="545.4" cy="382.1" r="1.7"/><circle cx="547.5" cy="382.6" r="1.7"/><circle cx="549.6" cy="382.3" r="1.7"/><circle cx="551.7" cy="382.7" r="1.7"/><circle cx="553.8" cy="382.6" r="1.7"/><circle cx="555.9" cy="383.4" r="1.7"/><circle cx="558.0" cy="383.1" r="1.7"/><circle cx="560.1" cy="383.6" r="1.7"/><circle cx="562.2" cy="383.5" r="1.7"/><circle cx="564.3" cy="383.6" r="1.7"/><circle cx="566.4" cy="383.0" r="1.7"/><circle cx="568.5" cy="383.0" r="1.7"/><circle cx="570.6" cy="383.4" r="1.7"/><circle cx="572.7" cy="383.1" r="1.7"/><circle cx="574.8" cy="383.6" r="1.7"/><circle cx="576.9" cy="383.4" r="1.7"/><circle cx="579.0" cy="383.5" r="1.7"/><circle cx="581.1" cy="383.8" r="1.7"/><circle cx="583.2" cy="383.5" r="1.7"/><circle cx="585.3" cy="383.2" r="1.7"/><circle cx="587.4" cy="383.2" r="1.7"/><circle cx="589.5" cy="383.6" r="1.7"/><circle cx="591.6" cy="383.6" r="1.7"/><circle cx="593.7" cy="383.7" r="1.7"/><circle cx="595.8" cy="383.5" r="1.7"/><circle cx="597.9" cy="383.7" r="1.7"/><circle cx="600.0" cy="383.5" r="1.7"/><circle cx="602.1" cy="383.7" r="1.7"/><circle cx="604.2" cy="383.9" r="1.7"/><circle cx="606.3" cy="383.4" r="1.7"/><circle cx="608.4" cy="383.6" r="1.7"/><circle cx="610.5" cy="383.7" r="1.7"/><circle cx="612.6" cy="383.9" r="1.7"/><circle cx="614.7" cy="383.5" r="1.7"/><circle cx="616.8" cy="383.8" r="1.7"/><circle cx="618.9" cy="383.9" r="1.7"/><circle cx="621.0" cy="384.1" r="1.7"/><circle cx="623.1" cy="383.7" r="1.7"/><circle cx="625.2" cy="383.9" r="1.7"/><circle cx="627.3" cy="383.6" r="1.7"/><circle cx="629.4" cy="383.8" r="1.7"/><circle cx="631.5" cy="383.6" r="1.7"/><circle cx="633.6" cy="384.2" r="1.7"/><circle cx="635.7" cy="383.8" r="1.7"/></g>
<g fill="none" stroke="#3a3a3a" stroke-width="0.75"><circle cx="447.8" cy="514.3" r="1.7"/><circle cx="449.3" cy="516.8" r="1.7"/><circle cx="450.7" cy="520.7" r="1.7"/><circle cx="452.6" cy="523.9" r="1.7"/><circle cx="454.5" cy="526.8" r="1.7"/><circle cx="456.4" cy="529.7" r="1.7"/><circle cx="457.6" cy="532.2" r="1.7"/><circle cx="458.7" cy="534.9" r="1.7"/><circle cx="460.3" cy="538.3" r="1.7"/><circle cx="461.4" cy="540.2" r="1.7"/><circle cx="462.6" cy="541.8" r="1.7"/><circle cx="464.1" cy="544.1" r="1.7"/><circle cx="465.7" cy="545.0" r="1.7"/><circle cx="467.2" cy="545.2" r="1.7"/><circle cx="468.9" cy="544.5" r="1.7"/><circle cx="470.3" cy="542.9" r="1.7"/><circle cx="471.8" cy="540.2" r="1.7"/><circle cx="473.3" cy="534.5" r="1.7"/><circle cx="474.9" cy="524.9" r="1.7"/><circle cx="476.6" cy="515.3" r="1.7"/><circle cx="478.5" cy="505.7" r="1.7"/><circle cx="480.4" cy="496.1" r="1.7"/><circle cx="482.4" cy="489.4" r="1.7"/><circle cx="484.3" cy="480.7" r="1.7"/><circle cx="486.2" cy="475.0" r="1.7"/><circle cx="488.1" cy="470.2" r="1.7"/><circle cx="489.7" cy="469.2" r="1.7"/><circle cx="491.0" cy="469.6" r="1.7"/><circle cx="492.9" cy="472.7" r="1.7"/><circle cx="494.8" cy="474.6" r="1.7"/><circle cx="496.8" cy="475.9" r="1.7"/><circle cx="498.7" cy="476.9" r="1.7"/><circle cx="500.6" cy="478.4" r="1.7"/><circle cx="502.5" cy="479.8" r="1.7"/><circle cx="504.4" cy="481.1" r="1.7"/><circle cx="506.4" cy="482.6" r="1.7"/><circle cx="508.3" cy="484.2" r="1.7"/><circle cx="510.2" cy="485.5" r="1.7"/><circle cx="512.1" cy="486.5" r="1.7"/><circle cx="514.0" cy="487.4" r="1.7"/><circle cx="515.0" cy="486.3" r="1.7"/><circle cx="517.1" cy="487.5" r="1.7"/><circle cx="519.2" cy="487.6" r="1.7"/><circle cx="521.3" cy="488.8" r="1.7"/><circle cx="523.4" cy="488.9" r="1.7"/><circle cx="525.5" cy="489.5" r="1.7"/><circle cx="527.6" cy="490.1" r="1.7"/><circle cx="529.7" cy="490.4" r="1.7"/><circle cx="531.8" cy="490.7" r="1.7"/><circle cx="533.9" cy="491.0" r="1.7"/><circle cx="536.0" cy="491.4" r="1.7"/><circle cx="538.1" cy="492.3" r="1.7"/><circle cx="540.2" cy="492.5" r="1.7"/><circle cx="542.3" cy="492.6" r="1.7"/><circle cx="544.4" cy="493.6" r="1.7"/><circle cx="546.5" cy="493.4" r="1.7"/><circle cx="548.6" cy="493.8" r="1.7"/><circle cx="550.7" cy="494.0" r="1.7"/><circle cx="552.8" cy="494.6" r="1.7"/><circle cx="554.9" cy="494.8" r="1.7"/><circle cx="557.0" cy="495.1" r="1.7"/><circle cx="559.1" cy="495.1" r="1.7"/><circle cx="561.2" cy="495.3" r="1.7"/><circle cx="563.3" cy="495.5" r="1.7"/><circle cx="565.4" cy="495.8" r="1.7"/><circle cx="567.5" cy="495.8" r="1.7"/><circle cx="569.6" cy="496.0" r="1.7"/><circle cx="571.7" cy="496.8" r="1.7"/><circle cx="573.8" cy="496.9" r="1.7"/><circle cx="575.9" cy="496.4" r="1.7"/><circle cx="578.0" cy="496.3" r="1.7"/><circle cx="580.1" cy="496.6" r="1.7"/><circle cx="582.2" cy="497.0" r="1.7"/><circle cx="584.3" cy="497.2" r="1.7"/><circle cx="586.4" cy="496.6" r="1.7"/><circle cx="588.5" cy="497.2" r="1.7"/><circle cx="590.6" cy="496.8" r="1.7"/><circle cx="592.7" cy="497.2" r="1.7"/><circle cx="594.8" cy="497.4" r="1.7"/><circle cx="596.9" cy="497.7" r="1.7"/><circle cx="599.0" cy="497.2" r="1.7"/><circle cx="601.1" cy="497.7" r="1.7"/><circle cx="603.2" cy="497.8" r="1.7"/><circle cx="605.3" cy="497.9" r="1.7"/><circle cx="607.4" cy="497.2" r="1.7"/><circle cx="609.5" cy="497.6" r="1.7"/><circle cx="611.6" cy="498.1" r="1.7"/><circle cx="613.7" cy="497.6" r="1.7"/><circle cx="615.8" cy="498.0" r="1.7"/><circle cx="617.9" cy="497.8" r="1.7"/><circle cx="620.0" cy="498.1" r="1.7"/><circle cx="622.1" cy="497.9" r="1.7"/><circle cx="624.2" cy="497.5" r="1.7"/><circle cx="626.3" cy="497.6" r="1.7"/><circle cx="628.4" cy="497.7" r="1.7"/><circle cx="630.5" cy="497.8" r="1.7"/><circle cx="632.6" cy="498.4" r="1.7"/><circle cx="634.7" cy="498.2" r="1.7"/></g>
<path d="M396,390.7 L396.5,390.75 L397,390.81 L397.5,390.87 L398,390.92 L398.5,390.98 L399,391.04 L399.5,391.09 L400,391.15 L400.49,391.21 L400.99,391.27 L401.49,391.33 L401.99,391.39 L402.49,391.45 L402.99,391.51 L403.49,391.57 L403.99,391.64 L404.49,391.7 L404.99,391.76 L405.49,391.83 L405.99,391.89 L406.49,391.95 L406.99,392.02 L407.49,392.08 L407.99,392.15 L408.48,392.22 L408.98,392.28 L409.48,392.35 L409.98,392.42 L410.48,392.48 L410.98,392.55 L411.48,392.62 L411.98,392.69 L412.48,392.76 L412.98,392.83 L413.48,392.9 L413.98,392.97 L414.48,393.04 L414.98,393.11 L415.48,393.18 L415.98,393.25 L416.47,393.32 L416.97,393.4 L417.47,393.47 L417.97,393.54 L418.47,393.61 L418.97,393.69 L419.47,393.76 L419.97,393.84 L420.47,393.91 L420.97,393.98 L421.47,394.06 L421.97,394.14 L422.47,394.21 L422.97,394.29 L423.47,394.37 L423.97,394.45 L424.46,394.53 L424.96,394.61 L425.46,394.69 L425.96,394.77 L426.46,394.85 L426.96,394.94 L427.46,395.02 L427.96,395.11 L428.46,395.19 L428.96,395.28 L429.46,395.37 L429.96,395.46 L430.46,395.55 L430.96,395.64 L431.46,395.73 L431.96,395.82 L432.45,395.92 L432.95,396.01 L433.45,396.11 L433.95,396.21 L434.45,396.31 L434.95,396.4 L435.45,396.5 L435.95,396.6 L436.45,396.7 L436.95,396.8 L437.45,396.9 L437.95,397.01 L438.45,397.11 L438.95,397.22 L439.45,397.33 L439.95,397.44 L440.44,397.55 L440.94,397.67 L441.44,397.79 L441.94,397.91 L442.44,398.04 L442.94,398.17 L443.44,398.3 L443.94,398.44 L444.44,398.58 L444.94,398.72 L445.44,398.87 L445.94,399.02 L446.44,399.18 L446.94,399.35 L447.44,399.51 L447.94,399.69 L448.43,399.87 L448.93,400.05 L449.43,400.25 L449.93,400.45 L450.43,400.66 L450.93,400.88 L451.43,401.11 L451.93,401.35 L452.43,401.6 L452.93,401.87 L453.43,402.15 L453.93,402.44 L454.43,402.74 L454.93,403.06 L455.43,403.4 L455.93,403.75 L456.42,404.12 L456.92,404.53 L457.42,404.99 L457.92,405.51 L458.42,406.09 L458.92,406.71 L459.42,407.37 L459.92,408.08 L460.42,408.83 L460.92,409.62 L461.42,410.45 L461.92,411.3 L462.42,412.2 L462.92,413.19 L463.42,414.3 L463.92,415.5 L464.41,416.79 L464.91,418.16 L465.41,419.61 L465.91,421.13 L466.41,422.81 L466.91,424.79 L467.41,426.92 L467.91,429.08 L468.41,431.13 L468.91,432.93 L469.41,434.75 L469.91,436.57 L470.41,437.91 L470.91,438.27 L471.41,437.33 L471.91,435.43 L472.4,433 L472.9,430.46 L473.4,427.36 L473.9,423.53 L474.4,419.19 L474.9,414.55 L475.4,409.85 L475.9,405.15 L476.4,400.09 L476.9,394.79 L477.4,389.4 L477.9,384.07 L478.4,378.6 L478.9,372.66 L479.4,366.85 L479.9,361.76 L480.4,358.03 L480.89,355.21 L481.39,352.54 L481.89,350.21 L482.39,348.37 L482.89,347.22 L483.39,346.91 L483.89,347.11 L484.39,347.56 L484.89,348.21 L485.39,348.99 L485.89,349.85 L486.39,350.77 L486.89,352.15 L487.39,353.92 L487.89,355.86 L488.39,357.78 L488.88,359.45 L489.38,360.67 L489.88,361.66 L490.38,362.6 L490.88,363.48 L491.38,364.32 L491.88,365.1 L492.38,365.84 L492.88,366.54 L493.38,367.2 L493.88,367.81 L494.38,368.39 L494.88,368.93 L495.38,369.44 L495.88,369.93 L496.38,370.38 L496.87,370.81 L497.37,371.22 L497.87,371.62 L498.37,372.01 L498.87,372.38 L499.37,372.74 L499.87,373.08 L500.37,373.41 L500.87,373.73 L501.37,374.04 L501.87,374.33 L502.37,374.61 L502.87,374.88 L503.37,375.14 L503.87,375.38 L504.37,375.62 L504.86,375.84 L505.36,376.06 L505.86,376.27 L506.36,376.47 L506.86,376.66 L507.36,376.86 L507.86,377.04 L508.36,377.23 L508.86,377.41 L509.36,377.58 L509.86,377.75 L510.36,377.92 L510.86,378.08 L511.36,378.23 L511.86,378.38 L512.36,378.53 L512.85,378.67 L513.35,378.8 L513.85,378.93 L514.35,379.06 L514.85,379.18 L515.35,379.29 L515.85,379.4 L516.35,379.5 L516.85,379.6 L517.35,379.69 L517.85,379.78 L518.35,379.87 L518.85,379.95 L519.35,380.03 L519.85,380.12 L520.35,380.2 L520.84,380.28 L521.34,380.35 L521.84,380.43 L522.34,380.5 L522.84,380.58 L523.34,380.65 L523.84,380.72 L524.34,380.79 L524.84,380.85 L525.34,380.92 L525.84,380.98 L526.34,381.05 L526.84,381.11 L527.34,381.17 L527.84,381.23 L528.34,381.29 L528.83,381.35 L529.33,381.4 L529.83,381.45 L530.33,381.51 L530.83,381.56 L531.33,381.61 L531.83,381.66 L532.33,381.71 L532.83,381.75 L533.33,381.8 L533.83,381.84 L534.33,381.89 L534.83,381.93 L535.33,381.97 L535.83,382.01 L536.33,382.05 L536.82,382.09 L537.32,382.12 L537.82,382.16 L538.32,382.19 L538.82,382.23 L539.32,382.26 L539.82,382.29 L540.32,382.33 L540.82,382.36 L541.32,382.39 L541.82,382.42 L542.32,382.45 L542.82,382.48 L543.32,382.51 L543.82,382.54 L544.32,382.57 L544.81,382.6 L545.31,382.63 L545.81,382.65 L546.31,382.68 L546.81,382.71 L547.31,382.73 L547.81,382.76 L548.31,382.79 L548.81,382.81 L549.31,382.84 L549.81,382.86 L550.31,382.88 L550.81,382.91 L551.31,382.93 L551.81,382.95 L552.31,382.97 L552.8,382.99 L553.3,383.01 L553.8,383.03 L554.3,383.05 L554.8,383.07 L555.3,383.09 L555.8,383.11 L556.3,383.13 L556.8,383.15 L557.3,383.16 L557.8,383.18 L558.3,383.2 L558.8,383.21 L559.3,383.23 L559.8,383.24 L560.3,383.26 L560.8,383.27 L561.29,383.29 L561.79,383.3 L562.29,383.31 L562.79,383.33 L563.29,383.34 L563.79,383.35 L564.29,383.36 L564.79,383.37 L565.29,383.39 L565.79,383.4 L566.29,383.41 L566.79,383.42 L567.29,383.43 L567.79,383.44 L568.29,383.45 L568.79,383.46 L569.28,383.47 L569.78,383.48 L570.28,383.49 L570.78,383.5 L571.28,383.51 L571.78,383.52 L572.28,383.53 L572.78,383.54 L573.28,383.55 L573.78,383.56 L574.28,383.57 L574.78,383.58 L575.28,383.58 L575.78,383.59 L576.28,383.6 L576.78,383.61 L577.27,383.62 L577.77,383.63 L578.27,383.63 L578.77,383.64 L579.27,383.65 L579.77,383.66 L580.27,383.67 L580.77,383.67 L581.27,383.68 L581.77,383.69 L582.27,383.7 L582.77,383.7 L583.27,383.71 L583.77,383.72 L584.27,383.72 L584.77,383.73 L585.26,383.74 L585.76,383.75 L586.26,383.75 L586.76,383.76 L587.26,383.77 L587.76,383.77 L588.26,383.78 L588.76,383.79 L589.26,383.79 L589.76,383.8 L590.26,383.81 L590.76,383.82 L591.26,383.82 L591.76,383.83 L592.26,383.84 L592.76,383.84 L593.25,383.85 L593.75,383.86 L594.25,383.86 L594.75,383.87 L595.25,383.88 L595.75,383.88 L596.25,383.89 L596.75,383.9 L597.25,383.91 L597.75,383.91 L598.25,383.92 L598.75,383.93 L599.25,383.94 L599.75,383.94 L600.25,383.95 L600.75,383.96 L601.24,383.96 L601.74,383.97 L602.24,383.98 L602.74,383.98 L603.24,383.99 L603.74,384 L604.24,384.01 L604.74,384.01 L605.24,384.02 L605.74,384.03 L606.24,384.03 L606.74,384.04 L607.24,384.05 L607.74,384.05 L608.24,384.06 L608.74,384.07 L609.23,384.07 L609.73,384.08 L610.23,384.09 L610.73,384.09 L611.23,384.1 L611.73,384.11 L612.23,384.11 L612.73,384.12 L613.23,384.13 L613.73,384.13 L614.23,384.14 L614.73,384.14 L615.23,384.15 L615.73,384.16 L616.23,384.16 L616.73,384.17 L617.22,384.18 L617.72,384.18 L618.22,384.19 L618.72,384.19 L619.22,384.2 L619.72,384.21 L620.22,384.21 L620.72,384.22 L621.22,384.22 L621.72,384.23 L622.22,384.24 L622.72,384.24 L623.22,384.25 L623.72,384.25 L624.22,384.26 L624.72,384.27 L625.21,384.27 L625.71,384.28 L626.21,384.28 L626.71,384.29 L627.21,384.29 L627.71,384.3 L628.21,384.31 L628.71,384.31 L629.21,384.32 L629.71,384.32 L630.21,384.33 L630.71,384.33 L631.21,384.34 L631.71,384.34 L632.21,384.35 L632.71,384.35 L633.2,384.36 L633.7,384.36 L634.2,384.37 L634.7,384.38 L635.2,384.38 L635.7,384.39 L636.2,384.39 L636.7,384.4 L637.2,384.4" stroke="#ff1a1a" stroke-width="1.3" fill="none" />
<path d="M396,506.1 L396.5,506.13 L397,506.15 L397.5,506.18 L398,506.21 L398.5,506.24 L399,506.27 L399.5,506.3 L400,506.33 L400.49,506.37 L400.99,506.4 L401.49,506.44 L401.99,506.47 L402.49,506.51 L402.99,506.55 L403.49,506.59 L403.99,506.63 L404.49,506.67 L404.99,506.71 L405.49,506.75 L405.99,506.8 L406.49,506.84 L406.99,506.88 L407.49,506.93 L407.99,506.98 L408.48,507.02 L408.98,507.07 L409.48,507.12 L409.98,507.17 L410.48,507.22 L410.98,507.27 L411.48,507.32 L411.98,507.37 L412.48,507.42 L412.98,507.47 L413.48,507.52 L413.98,507.58 L414.48,507.63 L414.98,507.68 L415.48,507.74 L415.98,507.8 L416.47,507.86 L416.97,507.92 L417.47,507.98 L417.97,508.04 L418.47,508.1 L418.97,508.17 L419.47,508.23 L419.97,508.3 L420.47,508.37 L420.97,508.44 L421.47,508.51 L421.97,508.58 L422.47,508.65 L422.97,508.73 L423.47,508.8 L423.97,508.88 L424.46,508.95 L424.96,509.03 L425.46,509.11 L425.96,509.19 L426.46,509.27 L426.96,509.36 L427.46,509.44 L427.96,509.52 L428.46,509.61 L428.96,509.69 L429.46,509.78 L429.96,509.87 L430.46,509.96 L430.96,510.05 L431.46,510.14 L431.96,510.23 L432.45,510.32 L432.95,510.42 L433.45,510.51 L433.95,510.6 L434.45,510.7 L434.95,510.79 L435.45,510.89 L435.95,510.98 L436.45,511.08 L436.95,511.17 L437.45,511.27 L437.95,511.37 L438.45,511.47 L438.95,511.57 L439.45,511.67 L439.95,511.78 L440.44,511.89 L440.94,512 L441.44,512.11 L441.94,512.23 L442.44,512.35 L442.94,512.48 L443.44,512.61 L443.94,512.74 L444.44,512.88 L444.94,513.02 L445.44,513.17 L445.94,513.32 L446.44,513.48 L446.94,513.64 L447.44,513.81 L447.94,513.98 L448.43,514.16 L448.93,514.35 L449.43,514.55 L449.93,514.77 L450.43,515.01 L450.93,515.26 L451.43,515.52 L451.93,515.81 L452.43,516.11 L452.93,516.42 L453.43,516.76 L453.93,517.11 L454.43,517.48 L454.93,517.86 L455.43,518.26 L455.93,518.68 L456.42,519.11 L456.92,519.57 L457.42,520.03 L457.92,520.52 L458.42,521.02 L458.92,521.57 L459.42,522.17 L459.92,522.83 L460.42,523.55 L460.92,524.33 L461.42,525.17 L461.92,526.06 L462.42,527.01 L462.92,528.01 L463.42,529.07 L463.92,530.18 L464.41,531.39 L464.91,532.84 L465.41,534.49 L465.91,536.29 L466.41,538.17 L466.91,540.09 L467.41,541.98 L467.91,543.79 L468.41,545.71 L468.91,547.96 L469.41,550.14 L469.91,551.85 L470.41,552.68 L470.91,552.38 L471.41,551.27 L471.91,549.6 L472.4,547.62 L472.9,545.56 L473.4,542.89 L473.9,539.52 L474.4,535.75 L474.9,531.87 L475.4,528.16 L475.9,524.8 L476.4,521.46 L476.9,518.12 L477.4,514.81 L477.9,511.56 L478.4,508.38 L478.9,505.32 L479.4,502.39 L479.9,499.56 L480.4,496.73 L480.89,493.94 L481.39,491.25 L481.89,488.69 L482.39,486.31 L482.89,484.16 L483.39,482.27 L483.89,480.52 L484.39,478.83 L484.89,477.26 L485.39,475.85 L485.89,474.65 L486.39,473.71 L486.89,473.02 L487.39,472.39 L487.89,471.85 L488.39,471.5 L488.88,471.4 L489.38,471.46 L489.88,471.61 L490.38,471.83 L490.88,472.11 L491.38,472.44 L491.88,472.8 L492.38,473.19 L492.88,473.59 L493.38,473.98 L493.88,474.37 L494.38,474.73 L494.88,475.05 L495.38,475.35 L495.88,475.66 L496.38,475.97 L496.87,476.27 L497.37,476.58 L497.87,476.89 L498.37,477.2 L498.87,477.51 L499.37,477.82 L499.87,478.14 L500.37,478.45 L500.87,478.76 L501.37,479.08 L501.87,479.4 L502.37,479.72 L502.87,480.04 L503.37,480.36 L503.87,480.69 L504.37,481.03 L504.86,481.36 L505.36,481.7 L505.86,482.03 L506.36,482.36 L506.86,482.68 L507.36,483 L507.86,483.31 L508.36,483.62 L508.86,483.94 L509.36,484.25 L509.86,484.57 L510.36,484.89 L510.86,485.2 L511.36,485.51 L511.86,485.82 L512.36,486.11 L512.85,486.39 L513.35,486.65 L513.85,486.9 L514.35,487.13 L514.85,487.34 L515.35,487.53 L515.85,487.71 L516.35,487.89 L516.85,488.06 L517.35,488.22 L517.85,488.38 L518.35,488.53 L518.85,488.68 L519.35,488.82 L519.85,488.96 L520.35,489.09 L520.84,489.22 L521.34,489.35 L521.84,489.47 L522.34,489.6 L522.84,489.72 L523.34,489.83 L523.84,489.95 L524.34,490.06 L524.84,490.18 L525.34,490.29 L525.84,490.4 L526.34,490.52 L526.84,490.63 L527.34,490.74 L527.84,490.86 L528.34,490.97 L528.83,491.08 L529.33,491.19 L529.83,491.3 L530.33,491.41 L530.83,491.52 L531.33,491.63 L531.83,491.74 L532.33,491.85 L532.83,491.95 L533.33,492.06 L533.83,492.17 L534.33,492.27 L534.83,492.37 L535.33,492.48 L535.83,492.58 L536.33,492.68 L536.82,492.78 L537.32,492.88 L537.82,492.97 L538.32,493.07 L538.82,493.17 L539.32,493.26 L539.82,493.36 L540.32,493.45 L540.82,493.54 L541.32,493.63 L541.82,493.72 L542.32,493.81 L542.82,493.9 L543.32,493.98 L543.82,494.07 L544.32,494.15 L544.81,494.23 L545.31,494.31 L545.81,494.39 L546.31,494.47 L546.81,494.55 L547.31,494.62 L547.81,494.69 L548.31,494.77 L548.81,494.84 L549.31,494.91 L549.81,494.97 L550.31,495.04 L550.81,495.11 L551.31,495.17 L551.81,495.24 L552.31,495.3 L552.8,495.37 L553.3,495.43 L553.8,495.5 L554.3,495.56 L554.8,495.63 L555.3,495.69 L555.8,495.75 L556.3,495.81 L556.8,495.88 L557.3,495.94 L557.8,496 L558.3,496.06 L558.8,496.12 L559.3,496.17 L559.8,496.23 L560.3,496.29 L560.8,496.34 L561.29,496.4 L561.79,496.45 L562.29,496.51 L562.79,496.56 L563.29,496.61 L563.79,496.66 L564.29,496.71 L564.79,496.76 L565.29,496.81 L565.79,496.85 L566.29,496.9 L566.79,496.94 L567.29,496.99 L567.79,497.03 L568.29,497.07 L568.79,497.11 L569.28,497.14 L569.78,497.18 L570.28,497.21 L570.78,497.25 L571.28,497.28 L571.78,497.31 L572.28,497.34 L572.78,497.37 L573.28,497.39 L573.78,497.42 L574.28,497.44 L574.78,497.47 L575.28,497.49 L575.78,497.51 L576.28,497.54 L576.78,497.56 L577.27,497.58 L577.77,497.6 L578.27,497.62 L578.77,497.65 L579.27,497.67 L579.77,497.69 L580.27,497.71 L580.77,497.73 L581.27,497.75 L581.77,497.77 L582.27,497.78 L582.77,497.8 L583.27,497.82 L583.77,497.84 L584.27,497.86 L584.77,497.87 L585.26,497.89 L585.76,497.91 L586.26,497.93 L586.76,497.94 L587.26,497.96 L587.76,497.97 L588.26,497.99 L588.76,498.01 L589.26,498.02 L589.76,498.04 L590.26,498.05 L590.76,498.07 L591.26,498.08 L591.76,498.09 L592.26,498.11 L592.76,498.12 L593.25,498.14 L593.75,498.15 L594.25,498.16 L594.75,498.18 L595.25,498.19 L595.75,498.2 L596.25,498.21 L596.75,498.23 L597.25,498.24 L597.75,498.25 L598.25,498.26 L598.75,498.28 L599.25,498.29 L599.75,498.3 L600.25,498.31 L600.75,498.32 L601.24,498.34 L601.74,498.35 L602.24,498.36 L602.74,498.37 L603.24,498.38 L603.74,498.39 L604.24,498.41 L604.74,498.42 L605.24,498.43 L605.74,498.44 L606.24,498.45 L606.74,498.46 L607.24,498.47 L607.74,498.48 L608.24,498.49 L608.74,498.51 L609.23,498.52 L609.73,498.53 L610.23,498.54 L610.73,498.55 L611.23,498.56 L611.73,498.57 L612.23,498.58 L612.73,498.59 L613.23,498.6 L613.73,498.61 L614.23,498.62 L614.73,498.63 L615.23,498.64 L615.73,498.65 L616.23,498.66 L616.73,498.67 L617.22,498.68 L617.72,498.69 L618.22,498.7 L618.72,498.71 L619.22,498.72 L619.72,498.73 L620.22,498.74 L620.72,498.75 L621.22,498.76 L621.72,498.77 L622.22,498.78 L622.72,498.79 L623.22,498.8 L623.72,498.8 L624.22,498.81 L624.72,498.82 L625.21,498.83 L625.71,498.84 L626.21,498.85 L626.71,498.86 L627.21,498.86 L627.71,498.87 L628.21,498.88 L628.71,498.89 L629.21,498.89 L629.71,498.9 L630.21,498.91 L630.71,498.92 L631.21,498.92 L631.71,498.93 L632.21,498.94 L632.71,498.94 L633.2,498.95 L633.7,498.96 L634.2,498.96 L634.7,498.97 L635.2,498.98 L635.7,498.98 L636.2,498.99 L636.7,498.99 L637.2,499" stroke="#ff1a1a" stroke-width="1.3" fill="none" />
<path d="M396,338.0 H637.2 M396,338.0 V450.1 M396,446.6 H637.2 V450.1" stroke="#000" stroke-width="1.3" fill="none"/>
<path d="M637.2,338.0 V446.6" stroke="#1a1aff" stroke-width="1.1" fill="none"/>
<path d="M396,453.3 V562.4 H637.2" stroke="#000" stroke-width="1.3" fill="none"/>
<path d="M637.2,453.3 V562.4" stroke="#1a1aff" stroke-width="1.1" fill="none"/>
<line x1="396" y1="446.6" x2="396" y2="451.1" stroke="#000" stroke-width="1" />
<line x1="396" y1="562.4" x2="396" y2="566.9" stroke="#000" stroke-width="1" />
<line x1="420.15" y1="446.6" x2="420.15" y2="449.4" stroke="#000" stroke-width="1" />
<line x1="420.15" y1="562.4" x2="420.15" y2="565.2" stroke="#000" stroke-width="1" />
<line x1="444.3" y1="446.6" x2="444.3" y2="449.4" stroke="#000" stroke-width="1" />
<line x1="444.3" y1="562.4" x2="444.3" y2="565.2" stroke="#000" stroke-width="1" />
<line x1="468.45" y1="446.6" x2="468.45" y2="449.4" stroke="#000" stroke-width="1" />
<line x1="468.45" y1="562.4" x2="468.45" y2="565.2" stroke="#000" stroke-width="1" />
<line x1="492.6" y1="446.6" x2="492.6" y2="451.1" stroke="#000" stroke-width="1" />
<line x1="492.6" y1="562.4" x2="492.6" y2="566.9" stroke="#000" stroke-width="1" />
<line x1="516.75" y1="446.6" x2="516.75" y2="449.4" stroke="#000" stroke-width="1" />
<line x1="516.75" y1="562.4" x2="516.75" y2="565.2" stroke="#000" stroke-width="1" />
<line x1="540.9" y1="446.6" x2="540.9" y2="449.4" stroke="#000" stroke-width="1" />
<line x1="540.9" y1="562.4" x2="540.9" y2="565.2" stroke="#000" stroke-width="1" />
<line x1="565.05" y1="446.6" x2="565.05" y2="449.4" stroke="#000" stroke-width="1" />
<line x1="565.05" y1="562.4" x2="565.05" y2="565.2" stroke="#000" stroke-width="1" />
<line x1="589.2" y1="446.6" x2="589.2" y2="451.1" stroke="#000" stroke-width="1" />
<line x1="589.2" y1="562.4" x2="589.2" y2="566.9" stroke="#000" stroke-width="1" />
<line x1="613.35" y1="446.6" x2="613.35" y2="449.4" stroke="#000" stroke-width="1" />
<line x1="613.35" y1="562.4" x2="613.35" y2="565.2" stroke="#000" stroke-width="1" />
<line x1="637.5" y1="446.6" x2="637.5" y2="449.4" stroke="#000" stroke-width="1" />
<line x1="637.5" y1="562.4" x2="637.5" y2="565.2" stroke="#000" stroke-width="1" />
<text x="396" y="579.8" font-size="11" text-anchor="middle" fill="#231f20" stroke="#231f20" stroke-width="0.22" >0.2</text>
<text x="492.6" y="579.8" font-size="11" text-anchor="middle" fill="#231f20" stroke="#231f20" stroke-width="0.22" >0.4</text>
<text x="589.2" y="579.8" font-size="11" text-anchor="middle" fill="#231f20" stroke="#231f20" stroke-width="0.22" >0.6</text>
<text x="516.5" y="596" font-size="11.2" text-anchor="middle" fill="#231f20" stroke="#231f20" stroke-width="0.22" >Probe energy (eV)</text>
<line x1="391" y1="340.2" x2="396" y2="340.2" stroke="#000" stroke-width="1" />
<text x="386.9" y="344.1" font-size="11" text-anchor="end" fill="#231f20" stroke="#231f20" stroke-width="0.22" >8</text>
<line x1="393.2" y1="363.2" x2="396" y2="363.2" stroke="#000" stroke-width="1" />
<line x1="391" y1="386.2" x2="396" y2="386.2" stroke="#000" stroke-width="1" />
<text x="386.9" y="390.1" font-size="11" text-anchor="end" fill="#231f20" stroke="#231f20" stroke-width="0.22" >0</text>
<line x1="393.2" y1="409.2" x2="396" y2="409.2" stroke="#000" stroke-width="1" />
<line x1="391" y1="432.2" x2="396" y2="432.2" stroke="#000" stroke-width="1" />
<text x="386.9" y="436.1" font-size="11" text-anchor="end" fill="#231f20" stroke="#231f20" stroke-width="0.22" >−8</text>
<line x1="391" y1="467.1" x2="396" y2="467.1" stroke="#000" stroke-width="1" />
<text x="386.9" y="471" font-size="11" text-anchor="end" fill="#231f20" stroke="#231f20" stroke-width="0.22" >40</text>
<line x1="393.2" y1="483.7" x2="396" y2="483.7" stroke="#000" stroke-width="1" />
<line x1="391" y1="500.3" x2="396" y2="500.3" stroke="#000" stroke-width="1" />
<text x="386.9" y="504.2" font-size="11" text-anchor="end" fill="#231f20" stroke="#231f20" stroke-width="0.22" >0</text>
<line x1="393.2" y1="516.9" x2="396" y2="516.9" stroke="#000" stroke-width="1" />
<line x1="391" y1="533.5" x2="396" y2="533.5" stroke="#000" stroke-width="1" />
<text x="386.9" y="537.4" font-size="11" text-anchor="end" fill="#231f20" stroke="#231f20" stroke-width="0.22" >−40</text>
<line x1="393.2" y1="550.1" x2="396" y2="550.1" stroke="#000" stroke-width="1" />
<line x1="637.2" y1="358.1" x2="640" y2="358.1" stroke="#1a1aff" stroke-width="1" />
<line x1="637.2" y1="385.7" x2="641.7" y2="385.7" stroke="#1a1aff" stroke-width="1" />
<text x="646.2" y="389.6" font-size="11" text-anchor="start" fill="#1a1aff" stroke="#1a1aff" stroke-width="0.22" >0.0</text>
<line x1="637.2" y1="413.3" x2="640" y2="413.3" stroke="#1a1aff" stroke-width="1" />
<line x1="637.2" y1="440.9" x2="641.7" y2="440.9" stroke="#1a1aff" stroke-width="1" />
<text x="646.2" y="444.8" font-size="11" text-anchor="start" fill="#1a1aff" stroke="#1a1aff" stroke-width="0.22" >−1.0</text>
<line x1="637.2" y1="471.55" x2="640" y2="471.55" stroke="#1a1aff" stroke-width="1" />
<line x1="637.2" y1="499.7" x2="641.7" y2="499.7" stroke="#1a1aff" stroke-width="1" />
<text x="646.2" y="503.6" font-size="11" text-anchor="start" fill="#1a1aff" stroke="#1a1aff" stroke-width="0.22" >0.0</text>
<line x1="637.2" y1="527.85" x2="640" y2="527.85" stroke="#1a1aff" stroke-width="1" />
<line x1="637.2" y1="556" x2="641.7" y2="556" stroke="#1a1aff" stroke-width="1" />
<text x="646.2" y="559.9" font-size="11" text-anchor="start" fill="#1a1aff" stroke="#1a1aff" stroke-width="0.22" >−1.0</text>
<text x="357" y="449.5" font-size="11.4" text-anchor="middle" fill="#231f20" stroke="#231f20" stroke-width="0.22" transform="rotate(-90 357.0 449.5)">Normalized ΔR/R<tspan font-size="8" dy="2.5">0</tspan><tspan dy="-2.5"> (×10</tspan><tspan font-size="8" dy="-4">−3</tspan><tspan dy="4">)</tspan></text>
<text x="684.6" y="449.3" font-size="11.2" text-anchor="middle" fill="#231f20" stroke="#231f20" stroke-width="0.22" transform="rotate(-90 684.6 449.3)">Normalized Δα</text>
<text x="410" y="368.6" font-size="11" text-anchor="start" fill="#231f20" stroke="#231f20" stroke-width="0.22" >60 ps</text>
<text x="410" y="475.3" font-size="11" text-anchor="start" fill="#231f20" stroke="#231f20" stroke-width="0.22" >10 ps</text>
<circle cx="559.7" cy="408.8" r="1.7" fill="none" stroke="#3a3a3a" stroke-width="0.75"/>
<text x="570.5" y="412.8" font-size="11.2" text-anchor="start" fill="#231f20" stroke="#231f20" stroke-width="0.22" >Data</text>
<line x1="553.6" y1="428.4" x2="566" y2="428.4" stroke="#ff1a1a" stroke-width="1.3" />
<text x="570.5" y="431.7" font-size="11.2" text-anchor="start" fill="#231f20" stroke="#231f20" stroke-width="0.22" >Model-fit</text>
<line x1="554.7" y1="470.5" x2="566.4" y2="470.5" stroke="#1a1aff" stroke-width="1.3" />
<text x="570.8" y="474.4" font-size="11" text-anchor="start" fill="#231f20" stroke="#231f20" stroke-width="0.22" >Δα</text>
<text x="341.6" y="340.4" font-size="16" text-anchor="start" fill="#231f20" font-weight="bold" >d</text>
</svg>
</body></html>
